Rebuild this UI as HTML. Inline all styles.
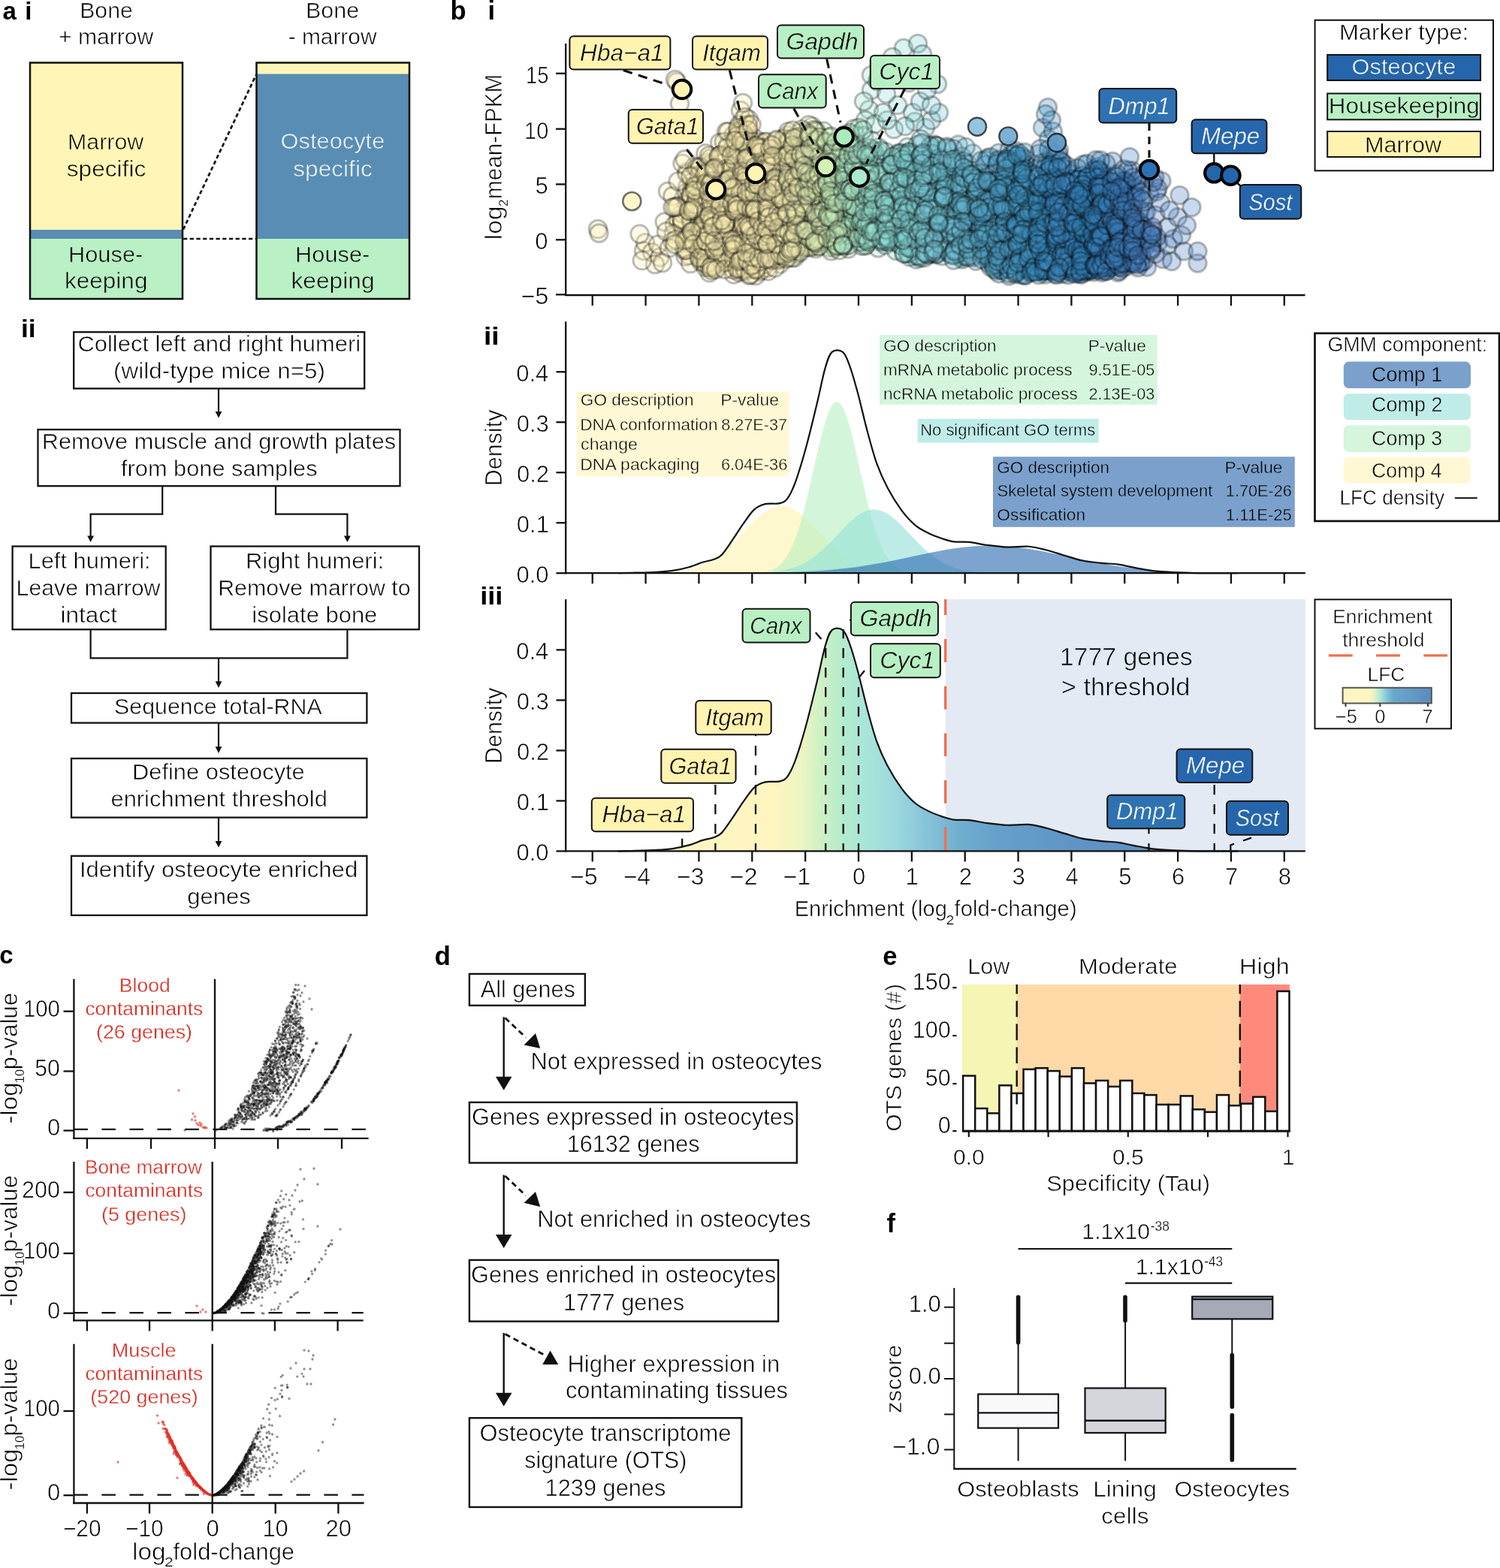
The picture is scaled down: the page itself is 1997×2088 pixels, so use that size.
<!DOCTYPE html>
<html lang="en"><head><meta charset="utf-8"><title>Osteocyte transcriptome signature</title>
<style>
html,body{margin:0;padding:0;background:#fff;overflow:hidden}
svg{display:block}
text{font-family:"Liberation Sans",sans-serif;white-space:pre}
</style></head><body>
<svg width="1997" height="2088" viewBox="0 0 1997 2088">
<rect width="1997" height="2088" fill="#fff"/>
<g fill="#000">
<text x="3.61" y="26.4" font-size="33" font-weight="bold">a</text>
<text x="33.19" y="26.4" font-size="33" font-weight="bold">i</text>
<text x="106.18" y="23.7" font-size="30" textLength="70.65" lengthAdjust="spacingAndGlyphs" stroke="#fff" stroke-width="0.6">Bone</text>
<text x="77.99" y="59.4" font-size="30" textLength="126.37" lengthAdjust="spacingAndGlyphs" stroke="#fff" stroke-width="0.6">+ marrow</text>
<text x="407.06" y="23.7" font-size="30" textLength="71.17" lengthAdjust="spacingAndGlyphs" stroke="#fff" stroke-width="0.6">Bone</text>
<text x="383.66" y="59.4" font-size="30" textLength="117.83" lengthAdjust="spacingAndGlyphs" stroke="#fff" stroke-width="0.6">- marrow</text>
<rect x="40" y="83.5" width="203" height="314.5" fill="#fff5b6"/>
<rect x="40" y="306" width="203" height="12" fill="#598db4"/>
<rect x="40" y="318" width="203" height="80" fill="#b9f0c4"/>
<rect x="40" y="83.5" width="203" height="314.5" fill="none" stroke="#111" stroke-width="2.5"/>
<rect x="341.5" y="83.5" width="203.5" height="314.5" fill="#598db4"/>
<rect x="341.5" y="83.5" width="203.5" height="15" fill="#fff5b6"/>
<rect x="341.5" y="318" width="203.5" height="80" fill="#b9f0c4"/>
<rect x="341.5" y="83.5" width="203.5" height="314.5" fill="none" stroke="#111" stroke-width="2.5"/>
<line x1="244" y1="305.5" x2="341" y2="99.5" stroke="#111" stroke-width="2.7" stroke-dasharray="5.3 3.4"/>
<line x1="244" y1="318" x2="341" y2="318" stroke="#111" stroke-width="2.7" stroke-dasharray="5.3 3.4"/>
<text x="90.07" y="199" font-size="30" textLength="101.19" lengthAdjust="spacingAndGlyphs" stroke="#fff5b6" stroke-width="0.6">Marrow</text>
<text x="88.71" y="235.4" font-size="30" textLength="105.57" lengthAdjust="spacingAndGlyphs" stroke="#fff5b6" stroke-width="0.6">specific</text>
<text x="373.61" y="198.4" font-size="30" textLength="138.68" lengthAdjust="spacingAndGlyphs" fill="#f4f8fb" stroke="#598db4" stroke-width="0.6">Osteocyte</text>
<text x="390.21" y="235.4" font-size="30" textLength="105.57" lengthAdjust="spacingAndGlyphs" fill="#f4f8fb" stroke="#598db4" stroke-width="0.6">specific</text>
<text x="90.93" y="349" font-size="30" textLength="99.42" lengthAdjust="spacingAndGlyphs" stroke="#b9f0c4" stroke-width="0.6">House-</text>
<text x="85.95" y="384.4" font-size="30" textLength="110.54" lengthAdjust="spacingAndGlyphs" stroke="#b9f0c4" stroke-width="0.6">keeping</text>
<text x="393.14" y="349" font-size="30" textLength="99.21" lengthAdjust="spacingAndGlyphs" stroke="#b9f0c4" stroke-width="0.6">House-</text>
<text x="387.44" y="384.4" font-size="30" textLength="111.16" lengthAdjust="spacingAndGlyphs" stroke="#b9f0c4" stroke-width="0.6">keeping</text>
<text x="27.92" y="448.9" font-size="33" textLength="19.71" lengthAdjust="spacingAndGlyphs" font-weight="bold">ii</text>
<rect x="98.2" y="442.2" width="387" height="75.2" fill="#fff" stroke="#111" stroke-width="2.3"/>
<text x="103.45" y="468.4" font-size="30" textLength="376.64" lengthAdjust="spacingAndGlyphs" stroke="#fff" stroke-width="0.6">Collect left and right humeri</text>
<text x="151.12" y="504.4" font-size="30" textLength="281.94" lengthAdjust="spacingAndGlyphs" stroke="#fff" stroke-width="0.6">(wild-type mice n=5)</text>
<line x1="291" y1="517.4" x2="291" y2="549" stroke="#111" stroke-width="2.2"/>
<polygon points="286.6,548 295.4,548 291,556.6" fill="#111"/>
<rect x="50.5" y="572" width="482" height="75.2" fill="#fff" stroke="#111" stroke-width="2.3"/>
<text x="55.74" y="598" font-size="30" textLength="471.37" lengthAdjust="spacingAndGlyphs" stroke="#fff" stroke-width="0.6">Remove muscle and growth plates</text>
<text x="161.04" y="634.4" font-size="30" textLength="261.51" lengthAdjust="spacingAndGlyphs" stroke="#fff" stroke-width="0.6">from bone samples</text>
<path d="M216.2,647.2V684.6H120.6V714" fill="none" stroke="#111" stroke-width="2.2"/>
<polygon points="116.2,713.4 125,713.4 120.6,722" fill="#111"/>
<path d="M367,647.2V684.6H462.4V714" fill="none" stroke="#111" stroke-width="2.2"/>
<polygon points="458,713.4 466.8,713.4 462.4,722" fill="#111"/>
<rect x="16.6" y="727.5" width="204.1" height="110.7" fill="#fff" stroke="#111" stroke-width="2.3"/>
<text x="37.53" y="757" font-size="30" textLength="163.11" lengthAdjust="spacingAndGlyphs" stroke="#fff" stroke-width="0.6">Left humeri:</text>
<text x="21.58" y="793.1" font-size="30" textLength="191.91" lengthAdjust="spacingAndGlyphs" stroke="#fff" stroke-width="0.6">Leave marrow</text>
<text x="80.44" y="829.4" font-size="30" textLength="75.58" lengthAdjust="spacingAndGlyphs" stroke="#fff" stroke-width="0.6">intact</text>
<rect x="280.5" y="727.5" width="277.5" height="110.7" fill="#fff" stroke="#111" stroke-width="2.3"/>
<text x="326.92" y="757" font-size="30" textLength="184.27" lengthAdjust="spacingAndGlyphs" stroke="#fff" stroke-width="0.6">Right humeri:</text>
<text x="290.17" y="793.1" font-size="30" textLength="256.4" lengthAdjust="spacingAndGlyphs" stroke="#fff" stroke-width="0.6">Remove marrow to</text>
<text x="335.39" y="829.4" font-size="30" textLength="166.95" lengthAdjust="spacingAndGlyphs" stroke="#fff" stroke-width="0.6">isolate bone</text>
<path d="M120.6,838.2V876.3H462.4V838.2" fill="none" stroke="#111" stroke-width="2.2"/>
<line x1="291" y1="876.3" x2="291" y2="908.3" stroke="#111" stroke-width="2.2"/>
<polygon points="286.6,907.3 295.4,907.3 291,915.9" fill="#111"/>
<rect x="95" y="923" width="393.4" height="39.6" fill="#fff" stroke="#111" stroke-width="2.3"/>
<text x="152.14" y="951.4" font-size="30" textLength="276.51" lengthAdjust="spacingAndGlyphs" stroke="#fff" stroke-width="0.6">Sequence total-RNA</text>
<line x1="291" y1="962.6" x2="291" y2="995.3" stroke="#111" stroke-width="2.2"/>
<polygon points="286.6,994.3 295.4,994.3 291,1002.9" fill="#111"/>
<rect x="95" y="1010" width="393.4" height="78.6" fill="#fff" stroke="#111" stroke-width="2.3"/>
<text x="176.03" y="1037.9" font-size="30" textLength="229.77" lengthAdjust="spacingAndGlyphs" stroke="#fff" stroke-width="0.6">Define osteocyte</text>
<text x="147.46" y="1074" font-size="30" textLength="288.35" lengthAdjust="spacingAndGlyphs" stroke="#fff" stroke-width="0.6">enrichment threshold</text>
<line x1="291" y1="1088.6" x2="291" y2="1121" stroke="#111" stroke-width="2.2"/>
<polygon points="286.6,1120 295.4,1120 291,1128.6" fill="#111"/>
<rect x="95" y="1139.8" width="393.4" height="79" fill="#fff" stroke="#111" stroke-width="2.3"/>
<text x="105.9" y="1168" font-size="30" textLength="370.31" lengthAdjust="spacingAndGlyphs" stroke="#fff" stroke-width="0.6">Identify osteocyte enriched</text>
<text x="249.16" y="1204.2" font-size="30" textLength="84.52" lengthAdjust="spacingAndGlyphs" stroke="#fff" stroke-width="0.6">genes</text>
<text x="599.56" y="26.4" font-size="34.5" font-weight="bold">b</text>
<text x="649.38" y="26.4" font-size="34.5" font-weight="bold">i</text>
<g fill-opacity="0.3" stroke="#000" stroke-opacity="0.26" stroke-width="3">
<g fill="#fcf0b2"><circle cx="796.0" cy="305.0" r="11.8"/></g>
<g fill="#fcf0b2"><circle cx="857.0" cy="334.0" r="11.8"/><circle cx="859.0" cy="323.3" r="11.8"/></g>
<g fill="#fcf0b2"><circle cx="884.8" cy="295.5" r="11.8"/><circle cx="889.0" cy="254.8" r="11.8"/><circle cx="868.0" cy="336.0" r="11.8"/></g>
<g fill="#fcf0b2"><circle cx="902.9" cy="292.7" r="11.8"/><circle cx="915.4" cy="328.9" r="11.8"/><circle cx="912.5" cy="317.6" r="11.8"/><circle cx="903.1" cy="295.5" r="11.8"/><circle cx="895.4" cy="261.1" r="11.8"/><circle cx="901.0" cy="109.0" r="11.8"/><circle cx="907.5" cy="299.5" r="11.8"/><circle cx="915.9" cy="276.3" r="11.8"/><circle cx="898.0" cy="299.8" r="11.8"/><circle cx="914.2" cy="229.2" r="11.8"/><circle cx="908.0" cy="284.2" r="11.8"/><circle cx="908.5" cy="217.7" r="11.8"/><circle cx="908.2" cy="294.0" r="11.8"/></g>
<g fill="#fcf0b2"><circle cx="940.8" cy="216.5" r="11.8"/><circle cx="939.3" cy="339.8" r="11.8"/><circle cx="939.1" cy="226.2" r="11.8"/><circle cx="921.1" cy="291.5" r="11.8"/><circle cx="930.5" cy="281.0" r="11.8"/><circle cx="928.4" cy="332.6" r="11.8"/><circle cx="933.5" cy="341.7" r="11.8"/><circle cx="917.2" cy="340.1" r="11.8"/><circle cx="939.7" cy="268.7" r="11.8"/><circle cx="919.8" cy="294.2" r="11.8"/><circle cx="921.0" cy="242.5" r="11.8"/><circle cx="931.9" cy="293.0" r="11.8"/><circle cx="924.4" cy="249.2" r="11.8"/><circle cx="935.4" cy="314.2" r="11.8"/><circle cx="942.0" cy="248.5" r="11.8"/><circle cx="927.2" cy="266.7" r="11.8"/><circle cx="918.9" cy="324.2" r="11.8"/><circle cx="930.6" cy="344.3" r="11.8"/><circle cx="932.4" cy="277.7" r="11.8"/><circle cx="932.9" cy="348.1" r="11.8"/><circle cx="936.3" cy="231.4" r="11.8"/><circle cx="926.8" cy="281.9" r="11.8"/><circle cx="941.3" cy="330.8" r="11.8"/><circle cx="917.1" cy="281.1" r="11.8"/><circle cx="931.8" cy="225.5" r="11.8"/><circle cx="934.6" cy="299.6" r="11.8"/><circle cx="931.8" cy="307.3" r="11.8"/><circle cx="936.8" cy="344.9" r="11.8"/><circle cx="938.7" cy="291.1" r="11.8"/><circle cx="934.6" cy="281.2" r="11.8"/><circle cx="924.0" cy="247.3" r="11.8"/><circle cx="929.9" cy="338.5" r="11.8"/></g>
<g fill="#fcf0b2"><circle cx="958.9" cy="351.2" r="11.8"/><circle cx="964.5" cy="263.3" r="11.8"/><circle cx="951.1" cy="308.2" r="11.8"/><circle cx="960.5" cy="344.1" r="11.8"/><circle cx="950.2" cy="244.9" r="11.8"/><circle cx="959.2" cy="270.1" r="11.8"/><circle cx="947.3" cy="279.3" r="11.8"/><circle cx="953.4" cy="249.8" r="11.8"/><circle cx="967.1" cy="213.5" r="11.8"/><circle cx="958.5" cy="235.7" r="11.8"/><circle cx="951.2" cy="313.3" r="11.8"/><circle cx="957.4" cy="329.8" r="11.8"/><circle cx="957.5" cy="267.4" r="11.8"/><circle cx="945.0" cy="341.4" r="11.8"/><circle cx="943.6" cy="337.8" r="11.8"/><circle cx="949.3" cy="306.8" r="11.8"/><circle cx="967.1" cy="320.5" r="11.8"/><circle cx="944.5" cy="363.2" r="11.8"/><circle cx="956.5" cy="315.7" r="11.8"/><circle cx="957.2" cy="253.5" r="11.8"/><circle cx="949.7" cy="264.9" r="11.8"/><circle cx="964.7" cy="337.6" r="11.8"/><circle cx="963.6" cy="255.3" r="11.8"/><circle cx="955.5" cy="211.0" r="11.8"/><circle cx="962.8" cy="258.6" r="11.8"/><circle cx="948.7" cy="282.8" r="11.8"/><circle cx="967.0" cy="175.3" r="11.8"/><circle cx="959.4" cy="323.2" r="11.8"/><circle cx="963.7" cy="234.0" r="11.8"/><circle cx="951.5" cy="341.0" r="11.8"/><circle cx="966.1" cy="307.0" r="11.8"/><circle cx="943.5" cy="288.2" r="11.8"/><circle cx="953.6" cy="356.7" r="11.8"/><circle cx="962.3" cy="207.2" r="11.8"/><circle cx="944.1" cy="332.1" r="11.8"/><circle cx="943.7" cy="346.8" r="11.8"/><circle cx="945.1" cy="332.8" r="11.8"/><circle cx="950.8" cy="348.8" r="11.8"/><circle cx="947.9" cy="301.3" r="11.8"/><circle cx="959.0" cy="286.2" r="11.8"/><circle cx="947.0" cy="280.0" r="11.8"/><circle cx="951.9" cy="258.1" r="11.8"/><circle cx="965.8" cy="235.9" r="11.8"/><circle cx="955.5" cy="241.3" r="11.8"/></g>
<g fill="#fcf0b2"><circle cx="988.5" cy="159.6" r="11.8"/><circle cx="984.0" cy="166.0" r="11.8"/><circle cx="980.8" cy="297.4" r="11.8"/><circle cx="977.9" cy="275.7" r="11.8"/><circle cx="988.9" cy="317.5" r="11.8"/><circle cx="988.0" cy="356.1" r="11.8"/><circle cx="993.3" cy="263.2" r="11.8"/><circle cx="987.2" cy="172.9" r="11.8"/><circle cx="985.7" cy="301.8" r="11.8"/><circle cx="978.6" cy="290.6" r="11.8"/><circle cx="972.0" cy="335.3" r="11.8"/><circle cx="976.9" cy="365.4" r="11.8"/><circle cx="982.9" cy="290.8" r="11.8"/><circle cx="976.7" cy="359.4" r="11.8"/><circle cx="982.6" cy="180.3" r="11.8"/><circle cx="975.2" cy="201.4" r="11.8"/><circle cx="979.8" cy="335.0" r="11.8"/><circle cx="983.2" cy="319.5" r="11.8"/><circle cx="983.5" cy="239.1" r="11.8"/><circle cx="976.5" cy="267.0" r="11.8"/><circle cx="971.3" cy="224.8" r="11.8"/><circle cx="988.8" cy="214.1" r="11.8"/><circle cx="992.0" cy="351.9" r="11.8"/><circle cx="986.9" cy="262.8" r="11.8"/><circle cx="977.0" cy="255.9" r="11.8"/><circle cx="976.6" cy="243.2" r="11.8"/><circle cx="989.1" cy="277.7" r="11.8"/><circle cx="969.0" cy="335.2" r="11.8"/><circle cx="991.0" cy="260.4" r="11.8"/><circle cx="984.9" cy="241.7" r="11.8"/><circle cx="988.0" cy="183.4" r="11.8"/><circle cx="984.6" cy="358.0" r="11.8"/><circle cx="973.0" cy="330.5" r="11.8"/><circle cx="984.7" cy="308.2" r="11.8"/><circle cx="990.6" cy="229.5" r="11.8"/><circle cx="970.4" cy="309.1" r="11.8"/><circle cx="984.2" cy="280.1" r="11.8"/><circle cx="986.0" cy="147.0" r="11.8"/><circle cx="991.9" cy="243.5" r="11.8"/><circle cx="985.1" cy="346.8" r="11.8"/><circle cx="981.5" cy="311.4" r="11.8"/><circle cx="991.5" cy="236.7" r="11.8"/><circle cx="987.6" cy="269.3" r="11.8"/><circle cx="989.6" cy="329.8" r="11.8"/><circle cx="984.6" cy="185.5" r="11.8"/><circle cx="969.9" cy="280.6" r="11.8"/><circle cx="988.8" cy="235.4" r="11.8"/><circle cx="990.0" cy="295.6" r="11.8"/><circle cx="989.4" cy="342.9" r="11.8"/><circle cx="970.8" cy="290.0" r="11.8"/><circle cx="988.0" cy="315.4" r="11.8"/></g>
<g fill="#fcf0b2"><circle cx="999.4" cy="340.7" r="11.8"/><circle cx="997.7" cy="260.3" r="11.8"/><circle cx="997.0" cy="319.1" r="11.8"/><circle cx="1006.1" cy="242.3" r="11.8"/><circle cx="1014.2" cy="248.5" r="11.8"/><circle cx="1012.3" cy="297.0" r="11.8"/><circle cx="1011.7" cy="189.0" r="11.8"/><circle cx="1018.9" cy="323.1" r="11.8"/><circle cx="1018.5" cy="224.6" r="11.8"/><circle cx="1009.6" cy="228.8" r="11.8"/><circle cx="1001.0" cy="216.2" r="11.8"/><circle cx="996.2" cy="238.7" r="11.8"/><circle cx="998.6" cy="252.6" r="11.8"/><circle cx="1007.3" cy="218.8" r="11.8"/><circle cx="1017.6" cy="262.4" r="11.8"/><circle cx="1013.2" cy="345.1" r="11.8"/><circle cx="1017.3" cy="302.2" r="11.8"/><circle cx="1004.6" cy="348.0" r="11.8"/><circle cx="1009.1" cy="282.1" r="11.8"/><circle cx="1005.3" cy="325.9" r="11.8"/><circle cx="1004.6" cy="194.4" r="11.8"/><circle cx="999.4" cy="203.2" r="11.8"/><circle cx="999.4" cy="350.8" r="11.8"/><circle cx="1013.5" cy="224.9" r="11.8"/><circle cx="998.6" cy="269.9" r="11.8"/><circle cx="1010.5" cy="233.1" r="11.8"/><circle cx="996.8" cy="190.8" r="11.8"/><circle cx="1014.6" cy="337.8" r="11.8"/><circle cx="1002.0" cy="358.9" r="11.8"/><circle cx="994.5" cy="166.0" r="11.8"/><circle cx="1016.2" cy="292.5" r="11.8"/><circle cx="1005.4" cy="188.9" r="11.8"/><circle cx="1011.3" cy="361.8" r="11.8"/><circle cx="1009.9" cy="277.4" r="11.8"/><circle cx="1000.8" cy="261.2" r="11.8"/><circle cx="995.7" cy="297.6" r="11.8"/><circle cx="995.0" cy="282.9" r="11.8"/><circle cx="996.0" cy="172.0" r="11.8"/><circle cx="1005.2" cy="184.6" r="11.8"/><circle cx="999.9" cy="314.1" r="11.8"/><circle cx="1016.7" cy="329.8" r="11.8"/><circle cx="1015.9" cy="243.1" r="11.8"/><circle cx="1000.2" cy="284.7" r="11.8"/><circle cx="1013.6" cy="359.9" r="11.8"/><circle cx="995.3" cy="261.8" r="11.8"/><circle cx="1000.3" cy="266.9" r="11.8"/><circle cx="1019.0" cy="347.8" r="11.8"/><circle cx="995.0" cy="328.1" r="11.8"/><circle cx="998.1" cy="300.9" r="11.8"/><circle cx="1013.0" cy="292.7" r="11.8"/><circle cx="1016.1" cy="311.7" r="11.8"/><circle cx="1003.1" cy="284.7" r="11.8"/><circle cx="1010.3" cy="309.1" r="11.8"/><circle cx="1011.2" cy="343.6" r="11.8"/><circle cx="1005.3" cy="270.7" r="11.8"/><circle cx="1011.6" cy="297.8" r="11.8"/><circle cx="1000.1" cy="351.8" r="11.8"/><circle cx="999.3" cy="347.0" r="11.8"/><circle cx="1014.4" cy="243.8" r="11.8"/><circle cx="1011.0" cy="232.5" r="11.8"/><circle cx="1016.4" cy="283.6" r="11.8"/><circle cx="995.5" cy="189.9" r="11.8"/><circle cx="1008.4" cy="231.6" r="11.8"/></g>
<g fill="#fcf0b2"><circle cx="1030.1" cy="341.8" r="11.8"/><circle cx="1028.7" cy="286.6" r="11.8"/><circle cx="1026.6" cy="256.7" r="11.8"/><circle cx="1043.0" cy="260.8" r="11.8"/><circle cx="1043.5" cy="219.8" r="11.8"/><circle cx="1024.5" cy="343.8" r="11.8"/><circle cx="1038.4" cy="270.0" r="11.8"/><circle cx="1039.6" cy="339.5" r="11.8"/><circle cx="1020.8" cy="292.0" r="11.8"/><circle cx="1026.5" cy="210.8" r="11.8"/><circle cx="1025.4" cy="264.7" r="11.8"/><circle cx="1039.3" cy="296.2" r="11.8"/><circle cx="1035.0" cy="300.6" r="11.8"/><circle cx="1024.3" cy="296.0" r="11.8"/><circle cx="1040.9" cy="327.0" r="11.8"/><circle cx="1035.6" cy="285.9" r="11.8"/><circle cx="1025.2" cy="332.7" r="11.8"/><circle cx="1042.1" cy="237.8" r="11.8"/><circle cx="1023.7" cy="238.0" r="11.8"/><circle cx="1027.2" cy="300.3" r="11.8"/><circle cx="1035.3" cy="260.6" r="11.8"/><circle cx="1044.1" cy="255.9" r="11.8"/><circle cx="1043.3" cy="251.8" r="11.8"/><circle cx="1038.4" cy="351.5" r="11.8"/><circle cx="1042.6" cy="199.0" r="11.8"/><circle cx="1037.1" cy="290.1" r="11.8"/><circle cx="1024.8" cy="299.6" r="11.8"/><circle cx="1035.4" cy="316.7" r="11.8"/><circle cx="1042.5" cy="342.2" r="11.8"/><circle cx="1044.4" cy="264.3" r="11.8"/><circle cx="1033.9" cy="328.7" r="11.8"/><circle cx="1042.0" cy="185.3" r="11.8"/><circle cx="1021.0" cy="268.2" r="11.8"/><circle cx="1021.6" cy="356.6" r="11.8"/><circle cx="1037.5" cy="234.2" r="11.8"/><circle cx="1034.8" cy="344.6" r="11.8"/><circle cx="1030.3" cy="320.0" r="11.8"/><circle cx="1040.2" cy="337.0" r="11.8"/><circle cx="1028.7" cy="287.0" r="11.8"/><circle cx="1029.5" cy="320.3" r="11.8"/><circle cx="1020.0" cy="267.5" r="11.8"/><circle cx="1044.1" cy="240.1" r="11.8"/><circle cx="1035.7" cy="331.9" r="11.8"/><circle cx="1036.5" cy="208.3" r="11.8"/><circle cx="1040.1" cy="271.2" r="11.8"/><circle cx="1019.3" cy="351.8" r="11.8"/><circle cx="1032.4" cy="260.5" r="11.8"/><circle cx="1029.0" cy="234.3" r="11.8"/><circle cx="1030.9" cy="328.2" r="11.8"/><circle cx="1040.2" cy="329.3" r="11.8"/><circle cx="1021.2" cy="306.5" r="11.8"/><circle cx="1035.4" cy="207.1" r="11.8"/><circle cx="1034.8" cy="344.3" r="11.8"/><circle cx="1036.4" cy="323.6" r="11.8"/><circle cx="1037.8" cy="263.0" r="11.8"/><circle cx="1038.1" cy="344.6" r="11.8"/></g>
<g fill="#f3f0b3"><circle cx="1049.2" cy="248.3" r="11.8"/><circle cx="1052.7" cy="311.0" r="11.8"/><circle cx="1057.8" cy="221.9" r="11.8"/><circle cx="1058.8" cy="232.0" r="11.8"/><circle cx="1061.8" cy="264.4" r="11.8"/><circle cx="1055.8" cy="302.1" r="11.8"/><circle cx="1052.2" cy="308.1" r="11.8"/><circle cx="1057.3" cy="284.8" r="11.8"/><circle cx="1050.7" cy="337.9" r="11.8"/><circle cx="1061.9" cy="203.4" r="11.8"/><circle cx="1063.0" cy="183.1" r="11.8"/><circle cx="1069.2" cy="184.7" r="11.8"/><circle cx="1066.0" cy="260.1" r="11.8"/><circle cx="1068.6" cy="312.5" r="11.8"/><circle cx="1068.3" cy="233.8" r="11.8"/><circle cx="1053.7" cy="197.5" r="11.8"/><circle cx="1069.6" cy="283.4" r="11.8"/><circle cx="1061.6" cy="271.5" r="11.8"/><circle cx="1063.3" cy="177.3" r="11.8"/><circle cx="1053.3" cy="246.5" r="11.8"/><circle cx="1051.1" cy="192.9" r="11.8"/><circle cx="1052.2" cy="200.3" r="11.8"/><circle cx="1049.6" cy="253.0" r="11.8"/><circle cx="1067.8" cy="286.2" r="11.8"/><circle cx="1065.6" cy="289.8" r="11.8"/><circle cx="1054.1" cy="263.1" r="11.8"/><circle cx="1046.2" cy="250.6" r="11.8"/><circle cx="1054.3" cy="238.3" r="11.8"/><circle cx="1044.9" cy="271.3" r="11.8"/><circle cx="1063.0" cy="296.9" r="11.8"/><circle cx="1063.1" cy="248.1" r="11.8"/><circle cx="1048.7" cy="180.0" r="11.8"/><circle cx="1053.6" cy="333.9" r="11.8"/><circle cx="1045.0" cy="205.6" r="11.8"/><circle cx="1051.7" cy="218.8" r="11.8"/><circle cx="1062.9" cy="324.6" r="11.8"/><circle cx="1054.9" cy="278.5" r="11.8"/><circle cx="1060.7" cy="313.0" r="11.8"/><circle cx="1057.1" cy="206.1" r="11.8"/><circle cx="1066.3" cy="267.1" r="11.8"/><circle cx="1064.0" cy="257.0" r="11.8"/><circle cx="1049.4" cy="250.4" r="11.8"/><circle cx="1062.4" cy="337.8" r="11.8"/><circle cx="1057.5" cy="297.5" r="11.8"/><circle cx="1063.4" cy="327.9" r="11.8"/><circle cx="1059.5" cy="269.6" r="11.8"/><circle cx="1051.2" cy="216.7" r="11.8"/><circle cx="1050.9" cy="264.2" r="11.8"/><circle cx="1058.8" cy="278.8" r="11.8"/><circle cx="1051.8" cy="308.2" r="11.8"/><circle cx="1056.5" cy="207.1" r="11.8"/></g>
<g fill="#e1efb5"><circle cx="1070.7" cy="239.6" r="11.8"/><circle cx="1078.0" cy="325.1" r="11.8"/><circle cx="1082.5" cy="300.9" r="11.8"/><circle cx="1088.7" cy="232.4" r="11.8"/><circle cx="1076.1" cy="312.1" r="11.8"/><circle cx="1073.1" cy="285.8" r="11.8"/><circle cx="1087.3" cy="228.4" r="11.8"/><circle cx="1088.7" cy="257.5" r="11.8"/><circle cx="1082.5" cy="244.1" r="11.8"/><circle cx="1077.1" cy="266.3" r="11.8"/><circle cx="1071.0" cy="320.9" r="11.8"/><circle cx="1085.1" cy="183.5" r="11.8"/><circle cx="1071.1" cy="236.4" r="11.8"/><circle cx="1080.8" cy="189.1" r="11.8"/><circle cx="1072.2" cy="277.7" r="11.8"/><circle cx="1076.5" cy="284.2" r="11.8"/><circle cx="1081.4" cy="168.3" r="11.8"/><circle cx="1081.7" cy="256.3" r="11.8"/><circle cx="1075.9" cy="265.5" r="11.8"/><circle cx="1073.9" cy="175.7" r="11.8"/><circle cx="1087.3" cy="296.6" r="11.8"/><circle cx="1091.3" cy="264.1" r="11.8"/><circle cx="1089.1" cy="327.7" r="11.8"/><circle cx="1081.5" cy="282.9" r="11.8"/><circle cx="1092.1" cy="318.2" r="11.8"/><circle cx="1078.7" cy="281.3" r="11.8"/><circle cx="1071.2" cy="308.9" r="11.8"/><circle cx="1088.3" cy="227.3" r="11.8"/><circle cx="1089.5" cy="187.2" r="11.8"/><circle cx="1086.4" cy="173.7" r="11.8"/><circle cx="1085.6" cy="319.1" r="11.8"/><circle cx="1082.0" cy="304.7" r="11.8"/><circle cx="1082.5" cy="259.2" r="11.8"/><circle cx="1095.1" cy="266.5" r="11.8"/><circle cx="1074.3" cy="218.9" r="11.8"/><circle cx="1094.1" cy="252.6" r="11.8"/><circle cx="1087.5" cy="306.6" r="11.8"/><circle cx="1090.6" cy="220.0" r="11.8"/><circle cx="1093.3" cy="274.0" r="11.8"/><circle cx="1094.0" cy="253.8" r="11.8"/><circle cx="1081.1" cy="233.6" r="11.8"/><circle cx="1079.3" cy="295.0" r="11.8"/><circle cx="1084.5" cy="302.9" r="11.8"/><circle cx="1070.4" cy="302.1" r="11.8"/></g>
<g fill="#c7edb9"><circle cx="1108.9" cy="323.3" r="11.8"/><circle cx="1113.5" cy="317.5" r="11.8"/><circle cx="1119.8" cy="228.5" r="11.8"/><circle cx="1100.6" cy="314.2" r="11.8"/><circle cx="1115.1" cy="292.1" r="11.8"/><circle cx="1108.4" cy="321.1" r="11.8"/><circle cx="1109.7" cy="292.6" r="11.8"/><circle cx="1115.5" cy="256.4" r="11.8"/><circle cx="1096.5" cy="231.9" r="11.8"/><circle cx="1099.0" cy="319.0" r="11.8"/><circle cx="1113.3" cy="256.0" r="11.8"/><circle cx="1106.2" cy="207.7" r="11.8"/><circle cx="1105.2" cy="263.6" r="11.8"/><circle cx="1120.8" cy="300.8" r="11.8"/><circle cx="1108.7" cy="272.2" r="11.8"/><circle cx="1110.0" cy="306.0" r="11.8"/><circle cx="1110.3" cy="270.8" r="11.8"/><circle cx="1095.8" cy="233.4" r="11.8"/><circle cx="1095.9" cy="230.5" r="11.8"/><circle cx="1113.5" cy="309.0" r="11.8"/><circle cx="1105.4" cy="324.4" r="11.8"/><circle cx="1096.5" cy="174.6" r="11.8"/><circle cx="1112.7" cy="325.3" r="11.8"/><circle cx="1114.8" cy="235.9" r="11.8"/><circle cx="1095.9" cy="189.6" r="11.8"/><circle cx="1104.1" cy="329.7" r="11.8"/><circle cx="1098.7" cy="279.5" r="11.8"/><circle cx="1114.1" cy="238.2" r="11.8"/><circle cx="1116.8" cy="315.9" r="11.8"/><circle cx="1119.3" cy="204.2" r="11.8"/><circle cx="1119.2" cy="211.2" r="11.8"/><circle cx="1114.0" cy="210.5" r="11.8"/><circle cx="1102.4" cy="265.1" r="11.8"/><circle cx="1119.8" cy="188.2" r="11.8"/><circle cx="1117.3" cy="310.0" r="11.8"/><circle cx="1101.3" cy="229.3" r="11.8"/><circle cx="1111.4" cy="329.9" r="11.8"/><circle cx="1106.3" cy="334.3" r="11.8"/></g>
<g fill="#ace9c6"><circle cx="1126.5" cy="320.5" r="11.8"/><circle cx="1126.6" cy="205.2" r="11.8"/><circle cx="1138.8" cy="314.0" r="11.8"/><circle cx="1126.1" cy="224.9" r="11.8"/><circle cx="1129.4" cy="331.4" r="11.8"/><circle cx="1141.9" cy="277.9" r="11.8"/><circle cx="1146.3" cy="212.2" r="11.8"/><circle cx="1144.4" cy="224.0" r="11.8"/><circle cx="1141.9" cy="311.9" r="11.8"/><circle cx="1123.5" cy="328.0" r="11.8"/><circle cx="1140.0" cy="308.1" r="11.8"/><circle cx="1129.5" cy="276.7" r="11.8"/><circle cx="1124.9" cy="248.4" r="11.8"/><circle cx="1135.0" cy="243.0" r="11.8"/><circle cx="1130.3" cy="311.2" r="11.8"/><circle cx="1134.2" cy="315.8" r="11.8"/><circle cx="1137.7" cy="226.5" r="11.8"/><circle cx="1132.9" cy="229.9" r="11.8"/><circle cx="1130.7" cy="304.7" r="11.8"/><circle cx="1138.3" cy="179.7" r="11.8"/><circle cx="1129.4" cy="218.3" r="11.8"/><circle cx="1125.1" cy="291.4" r="11.8"/><circle cx="1139.4" cy="241.3" r="11.8"/><circle cx="1137.1" cy="171.2" r="11.8"/><circle cx="1137.2" cy="194.7" r="11.8"/><circle cx="1125.0" cy="230.1" r="11.8"/><circle cx="1121.7" cy="234.9" r="11.8"/><circle cx="1128.1" cy="214.5" r="11.8"/><circle cx="1141.0" cy="260.5" r="11.8"/><circle cx="1139.3" cy="190.0" r="11.8"/><circle cx="1124.5" cy="229.0" r="11.8"/><circle cx="1134.7" cy="197.9" r="11.8"/><circle cx="1125.4" cy="225.9" r="11.8"/><circle cx="1122.0" cy="288.7" r="11.8"/></g>
<g fill="#9ae3d0"><circle cx="1165.7" cy="286.2" r="11.8"/><circle cx="1165.6" cy="250.7" r="11.8"/><circle cx="1168.7" cy="300.3" r="11.8"/><circle cx="1161.9" cy="283.3" r="11.8"/><circle cx="1157.0" cy="146.0" r="11.8"/><circle cx="1168.2" cy="211.6" r="11.8"/><circle cx="1152.0" cy="160.0" r="11.8"/><circle cx="1165.5" cy="299.6" r="11.8"/><circle cx="1169.0" cy="330.3" r="11.8"/><circle cx="1170.7" cy="216.4" r="11.8"/><circle cx="1155.9" cy="282.4" r="11.8"/><circle cx="1155.6" cy="295.2" r="11.8"/><circle cx="1165.8" cy="257.1" r="11.8"/><circle cx="1149.0" cy="314.4" r="11.8"/><circle cx="1166.5" cy="282.2" r="11.8"/><circle cx="1171.5" cy="291.6" r="11.8"/><circle cx="1166.2" cy="205.4" r="11.8"/><circle cx="1162.2" cy="201.1" r="11.8"/><circle cx="1160.0" cy="100.0" r="11.8"/><circle cx="1160.0" cy="120.0" r="11.8"/><circle cx="1166.6" cy="315.0" r="11.8"/><circle cx="1168.7" cy="276.5" r="11.8"/><circle cx="1158.5" cy="285.2" r="11.8"/><circle cx="1168.0" cy="108.0" r="11.8"/><circle cx="1153.4" cy="326.0" r="11.8"/><circle cx="1171.2" cy="278.1" r="11.8"/><circle cx="1157.7" cy="309.3" r="11.8"/><circle cx="1153.7" cy="287.5" r="11.8"/><circle cx="1147.4" cy="327.5" r="11.8"/><circle cx="1147.6" cy="209.6" r="11.8"/><circle cx="1168.4" cy="269.7" r="11.8"/><circle cx="1170.9" cy="265.1" r="11.8"/><circle cx="1153.8" cy="319.3" r="11.8"/><circle cx="1151.6" cy="327.4" r="11.8"/><circle cx="1158.9" cy="274.8" r="11.8"/><circle cx="1156.0" cy="285.9" r="11.8"/><circle cx="1168.9" cy="312.9" r="11.8"/><circle cx="1169.8" cy="203.2" r="11.8"/><circle cx="1158.1" cy="259.7" r="11.8"/><circle cx="1163.3" cy="284.6" r="11.8"/><circle cx="1172.3" cy="230.3" r="11.8"/><circle cx="1167.1" cy="260.1" r="11.8"/><circle cx="1160.6" cy="214.8" r="11.8"/></g>
<g fill="#8adad4"><circle cx="1188.1" cy="301.0" r="11.8"/><circle cx="1196.2" cy="293.5" r="11.8"/><circle cx="1178.4" cy="262.1" r="11.8"/><circle cx="1179.2" cy="312.5" r="11.8"/><circle cx="1193.7" cy="227.6" r="11.8"/><circle cx="1176.2" cy="228.3" r="11.8"/><circle cx="1176.2" cy="268.4" r="11.8"/><circle cx="1186.2" cy="219.7" r="11.8"/><circle cx="1176.6" cy="278.2" r="11.8"/><circle cx="1173.9" cy="227.0" r="11.8"/><circle cx="1194.6" cy="272.4" r="11.8"/><circle cx="1197.3" cy="315.7" r="11.8"/><circle cx="1177.3" cy="261.7" r="11.8"/><circle cx="1173.4" cy="212.8" r="11.8"/><circle cx="1173.3" cy="322.4" r="11.8"/><circle cx="1195.0" cy="140.0" r="11.8"/><circle cx="1196.1" cy="225.6" r="11.8"/><circle cx="1197.0" cy="254.9" r="11.8"/><circle cx="1175.1" cy="237.3" r="11.8"/><circle cx="1178.8" cy="280.0" r="11.8"/><circle cx="1191.4" cy="319.4" r="11.8"/><circle cx="1175.9" cy="272.4" r="11.8"/><circle cx="1187.7" cy="305.9" r="11.8"/><circle cx="1194.7" cy="280.3" r="11.8"/><circle cx="1182.7" cy="256.5" r="11.8"/><circle cx="1189.5" cy="264.4" r="11.8"/><circle cx="1189.3" cy="227.4" r="11.8"/><circle cx="1192.8" cy="323.2" r="11.8"/><circle cx="1174.4" cy="278.7" r="11.8"/><circle cx="1191.5" cy="277.6" r="11.8"/><circle cx="1183.5" cy="282.2" r="11.8"/><circle cx="1178.8" cy="326.4" r="11.8"/><circle cx="1186.1" cy="272.3" r="11.8"/><circle cx="1190.1" cy="296.9" r="11.8"/></g>
<g fill="#82d3d5"><circle cx="1200.1" cy="267.8" r="11.8"/><circle cx="1208.1" cy="195.9" r="11.8"/><circle cx="1219.9" cy="345.4" r="11.8"/><circle cx="1212.3" cy="225.9" r="11.8"/><circle cx="1212.8" cy="270.8" r="11.8"/><circle cx="1203.0" cy="206.0" r="11.8"/><circle cx="1215.3" cy="281.3" r="11.8"/><circle cx="1223.5" cy="321.7" r="11.8"/><circle cx="1212.9" cy="307.9" r="11.8"/><circle cx="1210.8" cy="282.4" r="11.8"/><circle cx="1216.4" cy="331.9" r="11.8"/><circle cx="1209.1" cy="290.2" r="11.8"/><circle cx="1211.5" cy="235.5" r="11.8"/><circle cx="1213.4" cy="233.8" r="11.8"/><circle cx="1223.1" cy="254.4" r="11.8"/><circle cx="1217.8" cy="320.2" r="11.8"/><circle cx="1219.9" cy="243.7" r="11.8"/><circle cx="1214.5" cy="224.9" r="11.8"/><circle cx="1215.9" cy="247.3" r="11.8"/><circle cx="1203.0" cy="64.0" r="11.8"/><circle cx="1207.0" cy="211.5" r="11.8"/><circle cx="1215.0" cy="216.4" r="11.8"/><circle cx="1217.6" cy="259.1" r="11.8"/><circle cx="1205.7" cy="217.4" r="11.8"/><circle cx="1202.3" cy="239.9" r="11.8"/><circle cx="1215.4" cy="265.4" r="11.8"/><circle cx="1212.3" cy="298.4" r="11.8"/><circle cx="1201.6" cy="246.8" r="11.8"/><circle cx="1215.1" cy="246.0" r="11.8"/><circle cx="1212.3" cy="226.8" r="11.8"/><circle cx="1200.4" cy="218.6" r="11.8"/><circle cx="1216.8" cy="264.1" r="11.8"/><circle cx="1218.3" cy="273.8" r="11.8"/><circle cx="1202.5" cy="233.1" r="11.8"/><circle cx="1203.8" cy="282.2" r="11.8"/><circle cx="1209.1" cy="274.0" r="11.8"/><circle cx="1222.0" cy="58.0" r="11.8"/><circle cx="1205.9" cy="307.0" r="11.8"/></g>
<g fill="#79cbd6"><circle cx="1244.0" cy="217.4" r="11.8"/><circle cx="1232.0" cy="170.0" r="11.8"/><circle cx="1243.4" cy="192.5" r="11.8"/><circle cx="1240.5" cy="329.8" r="11.8"/><circle cx="1245.8" cy="306.2" r="11.8"/><circle cx="1226.5" cy="227.3" r="11.8"/><circle cx="1226.0" cy="327.5" r="11.8"/><circle cx="1235.1" cy="339.6" r="11.8"/><circle cx="1237.0" cy="96.0" r="11.8"/><circle cx="1238.4" cy="259.7" r="11.8"/><circle cx="1242.2" cy="274.6" r="11.8"/><circle cx="1245.3" cy="211.9" r="11.8"/><circle cx="1236.4" cy="336.4" r="11.8"/><circle cx="1223.9" cy="301.5" r="11.8"/><circle cx="1246.6" cy="336.8" r="11.8"/><circle cx="1248.1" cy="251.9" r="11.8"/><circle cx="1235.2" cy="240.5" r="11.8"/><circle cx="1240.8" cy="337.5" r="11.8"/><circle cx="1239.0" cy="194.8" r="11.8"/><circle cx="1244.5" cy="246.1" r="11.8"/><circle cx="1237.5" cy="319.8" r="11.8"/><circle cx="1239.7" cy="214.4" r="11.8"/><circle cx="1247.5" cy="226.2" r="11.8"/><circle cx="1230.1" cy="257.6" r="11.8"/><circle cx="1245.0" cy="313.5" r="11.8"/><circle cx="1246.2" cy="339.2" r="11.8"/><circle cx="1240.0" cy="160.0" r="11.8"/><circle cx="1239.9" cy="226.9" r="11.8"/><circle cx="1224.5" cy="270.0" r="11.8"/><circle cx="1236.9" cy="243.8" r="11.8"/><circle cx="1239.7" cy="284.0" r="11.8"/><circle cx="1227.1" cy="326.6" r="11.8"/><circle cx="1225.6" cy="265.1" r="11.8"/><circle cx="1244.7" cy="295.2" r="11.8"/><circle cx="1225.0" cy="343.5" r="11.8"/><circle cx="1227.7" cy="237.6" r="11.8"/><circle cx="1225.6" cy="305.2" r="11.8"/><circle cx="1225.7" cy="286.5" r="11.8"/><circle cx="1244.4" cy="334.2" r="11.8"/><circle cx="1240.0" cy="295.5" r="11.8"/><circle cx="1235.8" cy="226.7" r="11.8"/><circle cx="1223.9" cy="270.3" r="11.8"/><circle cx="1241.2" cy="285.6" r="11.8"/></g>
<g fill="#6ec1d4"><circle cx="1253.3" cy="263.7" r="11.8"/><circle cx="1254.7" cy="265.7" r="11.8"/><circle cx="1261.0" cy="329.3" r="11.8"/><circle cx="1254.1" cy="242.6" r="11.8"/><circle cx="1260.8" cy="294.2" r="11.8"/><circle cx="1249.8" cy="310.2" r="11.8"/><circle cx="1257.8" cy="308.3" r="11.8"/><circle cx="1265.5" cy="244.5" r="11.8"/><circle cx="1250.3" cy="309.4" r="11.8"/><circle cx="1259.5" cy="300.9" r="11.8"/><circle cx="1260.0" cy="290.6" r="11.8"/><circle cx="1257.5" cy="266.9" r="11.8"/><circle cx="1259.1" cy="323.5" r="11.8"/><circle cx="1256.0" cy="295.0" r="11.8"/><circle cx="1271.7" cy="269.4" r="11.8"/><circle cx="1261.3" cy="261.7" r="11.8"/><circle cx="1256.8" cy="311.2" r="11.8"/><circle cx="1260.3" cy="211.4" r="11.8"/><circle cx="1268.1" cy="317.0" r="11.8"/><circle cx="1265.0" cy="268.0" r="11.8"/><circle cx="1269.3" cy="288.1" r="11.8"/><circle cx="1272.7" cy="217.4" r="11.8"/><circle cx="1254.4" cy="341.0" r="11.8"/><circle cx="1274.5" cy="322.7" r="11.8"/><circle cx="1261.0" cy="197.1" r="11.8"/><circle cx="1264.0" cy="314.4" r="11.8"/><circle cx="1250.8" cy="285.9" r="11.8"/><circle cx="1263.8" cy="272.0" r="11.8"/><circle cx="1264.0" cy="337.6" r="11.8"/><circle cx="1260.6" cy="198.1" r="11.8"/><circle cx="1252.4" cy="279.1" r="11.8"/></g>
<g fill="#63b6d1"><circle cx="1281.2" cy="317.9" r="11.8"/><circle cx="1287.2" cy="260.3" r="11.8"/><circle cx="1293.6" cy="332.9" r="11.8"/><circle cx="1276.4" cy="233.9" r="11.8"/><circle cx="1283.1" cy="328.2" r="11.8"/><circle cx="1297.7" cy="231.4" r="11.8"/><circle cx="1275.7" cy="239.1" r="11.8"/><circle cx="1289.0" cy="279.9" r="11.8"/><circle cx="1279.9" cy="304.3" r="11.8"/><circle cx="1288.9" cy="275.6" r="11.8"/><circle cx="1275.9" cy="192.6" r="11.8"/><circle cx="1280.5" cy="208.2" r="11.8"/><circle cx="1283.4" cy="325.0" r="11.8"/><circle cx="1287.5" cy="217.1" r="11.8"/><circle cx="1287.1" cy="272.3" r="11.8"/><circle cx="1286.0" cy="254.5" r="11.8"/><circle cx="1287.3" cy="329.2" r="11.8"/><circle cx="1280.8" cy="308.5" r="11.8"/><circle cx="1281.2" cy="328.1" r="11.8"/><circle cx="1286.8" cy="279.5" r="11.8"/><circle cx="1291.6" cy="226.8" r="11.8"/><circle cx="1281.7" cy="341.1" r="11.8"/><circle cx="1284.0" cy="243.5" r="11.8"/><circle cx="1281.9" cy="297.3" r="11.8"/><circle cx="1281.4" cy="311.9" r="11.8"/><circle cx="1297.1" cy="294.7" r="11.8"/><circle cx="1277.2" cy="239.1" r="11.8"/><circle cx="1277.8" cy="297.7" r="11.8"/><circle cx="1289.8" cy="317.5" r="11.8"/><circle cx="1280.8" cy="343.3" r="11.8"/><circle cx="1281.0" cy="345.5" r="11.8"/><circle cx="1288.0" cy="318.6" r="11.8"/><circle cx="1285.3" cy="340.7" r="11.8"/><circle cx="1285.4" cy="273.8" r="11.8"/><circle cx="1294.7" cy="290.7" r="11.8"/><circle cx="1283.2" cy="329.4" r="11.8"/><circle cx="1284.0" cy="274.6" r="11.8"/><circle cx="1290.5" cy="333.7" r="11.8"/><circle cx="1280.8" cy="271.8" r="11.8"/><circle cx="1284.2" cy="288.0" r="11.8"/><circle cx="1280.5" cy="321.2" r="11.8"/><circle cx="1297.4" cy="236.3" r="11.8"/></g>
<g fill="#57a9cd"><circle cx="1325.4" cy="345.1" r="11.8"/><circle cx="1319.0" cy="319.5" r="11.8"/><circle cx="1310.2" cy="258.4" r="11.8"/><circle cx="1317.9" cy="229.7" r="11.8"/><circle cx="1322.8" cy="252.4" r="11.8"/><circle cx="1311.7" cy="314.3" r="11.8"/><circle cx="1324.8" cy="280.3" r="11.8"/><circle cx="1312.7" cy="343.1" r="11.8"/><circle cx="1323.3" cy="312.0" r="11.8"/><circle cx="1322.0" cy="259.1" r="11.8"/><circle cx="1321.7" cy="241.9" r="11.8"/><circle cx="1315.8" cy="350.3" r="11.8"/><circle cx="1300.8" cy="288.7" r="11.8"/><circle cx="1321.7" cy="330.4" r="11.8"/><circle cx="1305.9" cy="290.0" r="11.8"/><circle cx="1324.0" cy="253.8" r="11.8"/><circle cx="1302.9" cy="251.0" r="11.8"/><circle cx="1314.7" cy="210.2" r="11.8"/><circle cx="1310.1" cy="241.3" r="11.8"/><circle cx="1317.4" cy="323.8" r="11.8"/><circle cx="1310.9" cy="302.5" r="11.8"/><circle cx="1311.7" cy="325.5" r="11.8"/><circle cx="1323.1" cy="276.2" r="11.8"/><circle cx="1318.2" cy="307.4" r="11.8"/><circle cx="1318.7" cy="288.0" r="11.8"/><circle cx="1324.3" cy="318.0" r="11.8"/><circle cx="1307.1" cy="320.0" r="11.8"/><circle cx="1315.0" cy="307.2" r="11.8"/><circle cx="1312.4" cy="316.8" r="11.8"/><circle cx="1308.4" cy="288.3" r="11.8"/><circle cx="1319.9" cy="341.9" r="11.8"/><circle cx="1318.1" cy="321.8" r="11.8"/><circle cx="1313.0" cy="321.5" r="11.8"/><circle cx="1301.5" cy="301.7" r="11.8"/><circle cx="1323.0" cy="284.1" r="11.8"/><circle cx="1307.6" cy="256.2" r="11.8"/><circle cx="1325.3" cy="328.0" r="11.8"/><circle cx="1308.4" cy="263.1" r="11.8"/><circle cx="1325.7" cy="300.1" r="11.8"/><circle cx="1307.8" cy="337.7" r="11.8"/><circle cx="1308.7" cy="293.2" r="11.8"/><circle cx="1324.1" cy="242.5" r="11.8"/><circle cx="1309.3" cy="339.9" r="11.8"/><circle cx="1303.6" cy="317.8" r="11.8"/><circle cx="1320.7" cy="349.1" r="11.8"/><circle cx="1322.5" cy="283.0" r="11.8"/></g>
<g fill="#4c9ec8"><circle cx="1332.4" cy="359.4" r="11.8"/><circle cx="1326.1" cy="263.4" r="11.8"/><circle cx="1342.9" cy="321.6" r="11.8"/><circle cx="1329.7" cy="203.6" r="11.8"/><circle cx="1347.7" cy="326.7" r="11.8"/><circle cx="1349.4" cy="296.8" r="11.8"/><circle cx="1341.5" cy="296.5" r="11.8"/><circle cx="1331.1" cy="352.2" r="11.8"/><circle cx="1339.7" cy="257.9" r="11.8"/><circle cx="1344.7" cy="305.9" r="11.8"/><circle cx="1343.9" cy="240.8" r="11.8"/><circle cx="1334.3" cy="318.9" r="11.8"/><circle cx="1326.4" cy="360.7" r="11.8"/><circle cx="1337.3" cy="264.0" r="11.8"/><circle cx="1348.0" cy="332.5" r="11.8"/><circle cx="1328.7" cy="355.4" r="11.8"/><circle cx="1344.3" cy="236.5" r="11.8"/><circle cx="1340.2" cy="285.3" r="11.8"/><circle cx="1336.8" cy="239.3" r="11.8"/><circle cx="1346.6" cy="205.5" r="11.8"/><circle cx="1346.2" cy="275.8" r="11.8"/><circle cx="1328.2" cy="284.9" r="11.8"/><circle cx="1340.3" cy="297.4" r="11.8"/><circle cx="1329.9" cy="354.5" r="11.8"/><circle cx="1342.6" cy="283.8" r="11.8"/><circle cx="1328.3" cy="214.4" r="11.8"/><circle cx="1345.3" cy="288.2" r="11.8"/><circle cx="1331.0" cy="310.9" r="11.8"/><circle cx="1338.7" cy="288.9" r="11.8"/><circle cx="1335.9" cy="338.5" r="11.8"/><circle cx="1335.2" cy="314.0" r="11.8"/><circle cx="1350.1" cy="247.2" r="11.8"/><circle cx="1335.0" cy="257.8" r="11.8"/><circle cx="1338.1" cy="292.6" r="11.8"/><circle cx="1331.2" cy="324.6" r="11.8"/><circle cx="1349.8" cy="252.2" r="11.8"/><circle cx="1328.1" cy="258.7" r="11.8"/><circle cx="1333.9" cy="265.2" r="11.8"/><circle cx="1330.9" cy="325.8" r="11.8"/><circle cx="1344.9" cy="336.0" r="11.8"/><circle cx="1347.2" cy="287.2" r="11.8"/><circle cx="1345.3" cy="251.5" r="11.8"/><circle cx="1345.8" cy="246.0" r="11.8"/><circle cx="1331.7" cy="301.2" r="11.8"/><circle cx="1326.8" cy="298.9" r="11.8"/><circle cx="1329.3" cy="292.6" r="11.8"/><circle cx="1328.1" cy="271.7" r="11.8"/><circle cx="1345.9" cy="291.9" r="11.8"/></g>
<g fill="#4294c5"><circle cx="1371.9" cy="281.6" r="11.8"/><circle cx="1354.0" cy="352.9" r="11.8"/><circle cx="1365.7" cy="219.6" r="11.8"/><circle cx="1359.7" cy="341.8" r="11.8"/><circle cx="1359.9" cy="315.8" r="11.8"/><circle cx="1356.7" cy="321.8" r="11.8"/><circle cx="1370.1" cy="301.4" r="11.8"/><circle cx="1373.7" cy="281.9" r="11.8"/><circle cx="1356.3" cy="327.6" r="11.8"/><circle cx="1353.5" cy="249.6" r="11.8"/><circle cx="1360.8" cy="278.9" r="11.8"/><circle cx="1361.3" cy="329.9" r="11.8"/><circle cx="1376.3" cy="256.8" r="11.8"/><circle cx="1366.8" cy="287.7" r="11.8"/><circle cx="1373.9" cy="257.4" r="11.8"/><circle cx="1368.0" cy="298.4" r="11.8"/><circle cx="1370.8" cy="334.4" r="11.8"/><circle cx="1361.3" cy="267.4" r="11.8"/><circle cx="1363.9" cy="357.4" r="11.8"/><circle cx="1362.4" cy="224.1" r="11.8"/><circle cx="1372.9" cy="229.2" r="11.8"/><circle cx="1356.1" cy="355.5" r="11.8"/><circle cx="1366.6" cy="266.7" r="11.8"/><circle cx="1376.0" cy="276.4" r="11.8"/><circle cx="1352.6" cy="243.7" r="11.8"/><circle cx="1371.8" cy="313.2" r="11.8"/><circle cx="1365.6" cy="211.9" r="11.8"/><circle cx="1361.7" cy="249.9" r="11.8"/><circle cx="1362.5" cy="274.2" r="11.8"/><circle cx="1354.3" cy="261.1" r="11.8"/><circle cx="1352.3" cy="241.8" r="11.8"/><circle cx="1367.6" cy="351.4" r="11.8"/><circle cx="1356.6" cy="342.6" r="11.8"/><circle cx="1372.3" cy="266.6" r="11.8"/><circle cx="1365.6" cy="356.9" r="11.8"/><circle cx="1375.3" cy="352.9" r="11.8"/><circle cx="1363.0" cy="338.6" r="11.8"/><circle cx="1370.7" cy="306.1" r="11.8"/><circle cx="1366.9" cy="266.4" r="11.8"/><circle cx="1370.8" cy="252.8" r="11.8"/><circle cx="1354.7" cy="357.8" r="11.8"/><circle cx="1368.2" cy="256.6" r="11.8"/><circle cx="1358.0" cy="329.2" r="11.8"/><circle cx="1356.0" cy="280.0" r="11.8"/><circle cx="1364.0" cy="345.1" r="11.8"/><circle cx="1359.0" cy="305.2" r="11.8"/><circle cx="1364.5" cy="300.5" r="11.8"/><circle cx="1377.0" cy="359.2" r="11.8"/><circle cx="1366.8" cy="309.8" r="11.8"/><circle cx="1368.2" cy="281.3" r="11.8"/><circle cx="1363.6" cy="333.2" r="11.8"/><circle cx="1365.2" cy="295.6" r="11.8"/><circle cx="1360.2" cy="208.3" r="11.8"/><circle cx="1352.9" cy="270.2" r="11.8"/><circle cx="1356.6" cy="232.4" r="11.8"/><circle cx="1368.4" cy="324.0" r="11.8"/><circle cx="1372.4" cy="314.6" r="11.8"/><circle cx="1360.4" cy="257.1" r="11.8"/><circle cx="1372.5" cy="302.6" r="11.8"/></g>
<g fill="#3d8ec2"><circle cx="1396.3" cy="345.4" r="11.8"/><circle cx="1393.1" cy="315.8" r="11.8"/><circle cx="1377.5" cy="347.6" r="11.8"/><circle cx="1390.1" cy="332.5" r="11.8"/><circle cx="1398.8" cy="360.4" r="11.8"/><circle cx="1380.7" cy="270.6" r="11.8"/><circle cx="1379.1" cy="255.6" r="11.8"/><circle cx="1387.4" cy="275.5" r="11.8"/><circle cx="1389.4" cy="357.3" r="11.8"/><circle cx="1390.0" cy="362.3" r="11.8"/><circle cx="1393.8" cy="214.5" r="11.8"/><circle cx="1384.4" cy="348.2" r="11.8"/><circle cx="1383.4" cy="204.2" r="11.8"/><circle cx="1401.9" cy="250.3" r="11.8"/><circle cx="1400.0" cy="204.2" r="11.8"/><circle cx="1391.8" cy="282.8" r="11.8"/><circle cx="1394.7" cy="292.4" r="11.8"/><circle cx="1378.4" cy="327.2" r="11.8"/><circle cx="1385.5" cy="319.6" r="11.8"/><circle cx="1393.4" cy="254.5" r="11.8"/><circle cx="1385.4" cy="292.3" r="11.8"/><circle cx="1390.3" cy="359.0" r="11.8"/><circle cx="1388.7" cy="254.1" r="11.8"/><circle cx="1398.1" cy="221.7" r="11.8"/><circle cx="1395.7" cy="339.6" r="11.8"/><circle cx="1397.5" cy="286.3" r="11.8"/><circle cx="1386.8" cy="254.2" r="11.8"/><circle cx="1380.5" cy="346.3" r="11.8"/><circle cx="1380.9" cy="224.4" r="11.8"/><circle cx="1385.0" cy="358.4" r="11.8"/><circle cx="1392.8" cy="268.7" r="11.8"/><circle cx="1402.3" cy="292.4" r="11.8"/><circle cx="1400.2" cy="347.7" r="11.8"/><circle cx="1378.5" cy="280.9" r="11.8"/><circle cx="1400.0" cy="250.2" r="11.8"/><circle cx="1378.3" cy="275.0" r="11.8"/><circle cx="1389.7" cy="278.5" r="11.8"/><circle cx="1401.2" cy="247.5" r="11.8"/><circle cx="1387.2" cy="217.1" r="11.8"/><circle cx="1395.0" cy="143.0" r="11.8"/><circle cx="1379.9" cy="255.5" r="11.8"/><circle cx="1397.4" cy="283.3" r="11.8"/><circle cx="1387.0" cy="354.7" r="11.8"/><circle cx="1381.9" cy="355.7" r="11.8"/><circle cx="1396.7" cy="341.8" r="11.8"/><circle cx="1388.0" cy="170.0" r="11.8"/><circle cx="1387.0" cy="238.6" r="11.8"/><circle cx="1379.0" cy="270.4" r="11.8"/><circle cx="1398.1" cy="334.9" r="11.8"/><circle cx="1383.0" cy="347.1" r="11.8"/><circle cx="1398.4" cy="272.9" r="11.8"/><circle cx="1381.1" cy="268.5" r="11.8"/></g>
<g fill="#3a89c0"><circle cx="1409.6" cy="335.5" r="11.8"/><circle cx="1421.2" cy="225.6" r="11.8"/><circle cx="1413.8" cy="222.7" r="11.8"/><circle cx="1414.7" cy="216.3" r="11.8"/><circle cx="1408.4" cy="344.4" r="11.8"/><circle cx="1422.7" cy="307.7" r="11.8"/><circle cx="1413.4" cy="281.0" r="11.8"/><circle cx="1404.4" cy="360.7" r="11.8"/><circle cx="1412.3" cy="345.9" r="11.8"/><circle cx="1426.9" cy="238.6" r="11.8"/><circle cx="1414.2" cy="364.9" r="11.8"/><circle cx="1419.3" cy="335.0" r="11.8"/><circle cx="1423.2" cy="351.0" r="11.8"/><circle cx="1418.9" cy="336.6" r="11.8"/><circle cx="1408.4" cy="295.5" r="11.8"/><circle cx="1403.6" cy="314.3" r="11.8"/><circle cx="1408.1" cy="314.7" r="11.8"/><circle cx="1417.3" cy="344.8" r="11.8"/><circle cx="1417.4" cy="290.5" r="11.8"/><circle cx="1405.9" cy="239.3" r="11.8"/><circle cx="1404.6" cy="205.2" r="11.8"/><circle cx="1413.5" cy="268.1" r="11.8"/><circle cx="1417.1" cy="352.0" r="11.8"/><circle cx="1425.9" cy="294.7" r="11.8"/><circle cx="1414.7" cy="241.5" r="11.8"/><circle cx="1417.4" cy="347.7" r="11.8"/><circle cx="1426.3" cy="314.8" r="11.8"/><circle cx="1423.7" cy="324.1" r="11.8"/><circle cx="1421.5" cy="344.2" r="11.8"/><circle cx="1422.5" cy="259.7" r="11.8"/><circle cx="1402.8" cy="284.6" r="11.8"/><circle cx="1425.5" cy="231.5" r="11.8"/><circle cx="1415.1" cy="268.7" r="11.8"/><circle cx="1413.7" cy="280.6" r="11.8"/><circle cx="1418.9" cy="276.9" r="11.8"/><circle cx="1421.3" cy="360.6" r="11.8"/><circle cx="1402.9" cy="281.2" r="11.8"/><circle cx="1405.2" cy="282.5" r="11.8"/><circle cx="1426.2" cy="307.4" r="11.8"/><circle cx="1416.7" cy="263.4" r="11.8"/><circle cx="1426.2" cy="252.8" r="11.8"/><circle cx="1413.0" cy="260.2" r="11.8"/><circle cx="1410.8" cy="266.1" r="11.8"/><circle cx="1414.2" cy="315.6" r="11.8"/><circle cx="1410.9" cy="293.4" r="11.8"/><circle cx="1415.3" cy="359.6" r="11.8"/><circle cx="1425.9" cy="306.6" r="11.8"/><circle cx="1420.3" cy="295.0" r="11.8"/><circle cx="1404.5" cy="305.8" r="11.8"/><circle cx="1412.3" cy="302.5" r="11.8"/><circle cx="1427.6" cy="363.3" r="11.8"/><circle cx="1411.5" cy="271.4" r="11.8"/><circle cx="1427.8" cy="336.0" r="11.8"/><circle cx="1424.0" cy="351.1" r="11.8"/></g>
<g fill="#3684be"><circle cx="1444.9" cy="304.1" r="11.8"/><circle cx="1441.9" cy="219.1" r="11.8"/><circle cx="1453.2" cy="293.4" r="11.8"/><circle cx="1444.4" cy="348.3" r="11.8"/><circle cx="1436.0" cy="257.6" r="11.8"/><circle cx="1445.8" cy="318.6" r="11.8"/><circle cx="1434.9" cy="353.7" r="11.8"/><circle cx="1436.4" cy="350.8" r="11.8"/><circle cx="1436.4" cy="353.1" r="11.8"/><circle cx="1436.1" cy="275.7" r="11.8"/><circle cx="1440.9" cy="296.4" r="11.8"/><circle cx="1450.9" cy="305.1" r="11.8"/><circle cx="1437.5" cy="282.6" r="11.8"/><circle cx="1443.9" cy="316.0" r="11.8"/><circle cx="1451.1" cy="315.4" r="11.8"/><circle cx="1429.0" cy="313.0" r="11.8"/><circle cx="1428.9" cy="301.3" r="11.8"/><circle cx="1429.9" cy="238.8" r="11.8"/><circle cx="1445.3" cy="322.2" r="11.8"/><circle cx="1450.0" cy="287.3" r="11.8"/><circle cx="1452.6" cy="310.4" r="11.8"/><circle cx="1435.8" cy="342.8" r="11.8"/><circle cx="1430.3" cy="356.6" r="11.8"/><circle cx="1433.7" cy="326.4" r="11.8"/><circle cx="1440.7" cy="275.4" r="11.8"/><circle cx="1436.0" cy="363.3" r="11.8"/><circle cx="1452.9" cy="307.5" r="11.8"/><circle cx="1446.1" cy="259.3" r="11.8"/><circle cx="1434.3" cy="285.4" r="11.8"/><circle cx="1439.4" cy="365.5" r="11.8"/><circle cx="1453.8" cy="245.4" r="11.8"/><circle cx="1428.6" cy="287.6" r="11.8"/><circle cx="1446.2" cy="260.4" r="11.8"/><circle cx="1428.5" cy="320.9" r="11.8"/><circle cx="1431.8" cy="273.8" r="11.8"/><circle cx="1429.5" cy="286.6" r="11.8"/><circle cx="1447.0" cy="333.8" r="11.8"/><circle cx="1432.8" cy="249.4" r="11.8"/><circle cx="1451.8" cy="322.7" r="11.8"/><circle cx="1444.1" cy="341.7" r="11.8"/><circle cx="1430.0" cy="308.3" r="11.8"/><circle cx="1441.9" cy="346.0" r="11.8"/><circle cx="1430.6" cy="315.0" r="11.8"/><circle cx="1443.7" cy="356.1" r="11.8"/><circle cx="1439.6" cy="356.3" r="11.8"/><circle cx="1438.1" cy="332.4" r="11.8"/><circle cx="1447.6" cy="356.0" r="11.8"/><circle cx="1437.6" cy="313.2" r="11.8"/><circle cx="1435.6" cy="359.9" r="11.8"/><circle cx="1451.4" cy="356.9" r="11.8"/><circle cx="1435.4" cy="285.2" r="11.8"/><circle cx="1433.2" cy="306.8" r="11.8"/><circle cx="1443.9" cy="284.6" r="11.8"/></g>
<g fill="#3881be"><circle cx="1461.2" cy="274.4" r="11.8"/><circle cx="1461.9" cy="297.0" r="11.8"/><circle cx="1475.7" cy="262.3" r="11.8"/><circle cx="1463.7" cy="232.7" r="11.8"/><circle cx="1466.7" cy="291.4" r="11.8"/><circle cx="1478.0" cy="305.1" r="11.8"/><circle cx="1473.0" cy="283.6" r="11.8"/><circle cx="1455.5" cy="256.9" r="11.8"/><circle cx="1476.1" cy="236.1" r="11.8"/><circle cx="1460.3" cy="346.1" r="11.8"/><circle cx="1468.7" cy="360.9" r="11.8"/><circle cx="1461.9" cy="346.9" r="11.8"/><circle cx="1460.1" cy="301.3" r="11.8"/><circle cx="1460.0" cy="311.9" r="11.8"/><circle cx="1469.6" cy="309.4" r="11.8"/><circle cx="1474.5" cy="290.5" r="11.8"/><circle cx="1477.5" cy="257.7" r="11.8"/><circle cx="1460.5" cy="268.5" r="11.8"/><circle cx="1456.5" cy="294.3" r="11.8"/><circle cx="1475.2" cy="336.6" r="11.8"/><circle cx="1479.1" cy="330.0" r="11.8"/><circle cx="1469.1" cy="343.7" r="11.8"/><circle cx="1466.4" cy="230.6" r="11.8"/><circle cx="1469.6" cy="250.1" r="11.8"/><circle cx="1459.9" cy="277.1" r="11.8"/><circle cx="1468.9" cy="262.1" r="11.8"/><circle cx="1476.0" cy="346.2" r="11.8"/><circle cx="1475.6" cy="318.9" r="11.8"/><circle cx="1456.3" cy="295.1" r="11.8"/><circle cx="1460.8" cy="268.8" r="11.8"/><circle cx="1460.3" cy="280.5" r="11.8"/><circle cx="1479.5" cy="241.6" r="11.8"/><circle cx="1472.7" cy="262.9" r="11.8"/><circle cx="1458.7" cy="290.0" r="11.8"/><circle cx="1470.8" cy="329.3" r="11.8"/><circle cx="1454.3" cy="280.6" r="11.8"/><circle cx="1475.8" cy="328.5" r="11.8"/><circle cx="1460.5" cy="308.2" r="11.8"/><circle cx="1463.7" cy="274.2" r="11.8"/><circle cx="1461.3" cy="346.2" r="11.8"/><circle cx="1471.7" cy="343.0" r="11.8"/><circle cx="1460.4" cy="320.3" r="11.8"/><circle cx="1471.1" cy="271.4" r="11.8"/><circle cx="1469.6" cy="340.3" r="11.8"/><circle cx="1461.6" cy="349.5" r="11.8"/><circle cx="1455.8" cy="346.7" r="11.8"/><circle cx="1460.6" cy="222.2" r="11.8"/><circle cx="1474.0" cy="263.4" r="11.8"/><circle cx="1454.7" cy="281.3" r="11.8"/><circle cx="1471.8" cy="296.3" r="11.8"/><circle cx="1458.7" cy="233.5" r="11.8"/><circle cx="1468.7" cy="297.1" r="11.8"/><circle cx="1474.2" cy="277.5" r="11.8"/><circle cx="1472.6" cy="294.9" r="11.8"/><circle cx="1471.5" cy="321.5" r="11.8"/><circle cx="1473.7" cy="360.4" r="11.8"/><circle cx="1467.2" cy="362.9" r="11.8"/><circle cx="1473.7" cy="357.0" r="11.8"/><circle cx="1462.4" cy="336.7" r="11.8"/></g>
<g fill="#3a7fbe"><circle cx="1498.0" cy="350.6" r="11.8"/><circle cx="1483.4" cy="308.5" r="11.8"/><circle cx="1497.9" cy="341.9" r="11.8"/><circle cx="1486.3" cy="268.4" r="11.8"/><circle cx="1501.1" cy="318.2" r="11.8"/><circle cx="1496.3" cy="303.9" r="11.8"/><circle cx="1486.0" cy="282.5" r="11.8"/><circle cx="1484.9" cy="296.8" r="11.8"/><circle cx="1498.8" cy="257.6" r="11.8"/><circle cx="1490.3" cy="360.9" r="11.8"/><circle cx="1503.3" cy="302.3" r="11.8"/><circle cx="1493.4" cy="254.7" r="11.8"/><circle cx="1493.2" cy="274.4" r="11.8"/><circle cx="1483.2" cy="315.8" r="11.8"/><circle cx="1490.2" cy="277.5" r="11.8"/><circle cx="1504.1" cy="291.0" r="11.8"/><circle cx="1494.9" cy="344.7" r="11.8"/><circle cx="1492.0" cy="334.6" r="11.8"/><circle cx="1484.2" cy="282.4" r="11.8"/><circle cx="1499.4" cy="252.3" r="11.8"/><circle cx="1503.8" cy="325.6" r="11.8"/><circle cx="1493.4" cy="302.8" r="11.8"/><circle cx="1496.5" cy="299.4" r="11.8"/><circle cx="1498.6" cy="334.3" r="11.8"/><circle cx="1482.9" cy="351.7" r="11.8"/><circle cx="1487.7" cy="307.2" r="11.8"/><circle cx="1493.0" cy="349.0" r="11.8"/><circle cx="1489.7" cy="337.2" r="11.8"/><circle cx="1496.2" cy="303.4" r="11.8"/><circle cx="1487.2" cy="330.5" r="11.8"/><circle cx="1490.0" cy="322.9" r="11.8"/><circle cx="1484.4" cy="319.4" r="11.8"/><circle cx="1483.7" cy="296.5" r="11.8"/><circle cx="1501.1" cy="244.3" r="11.8"/><circle cx="1494.7" cy="328.0" r="11.8"/><circle cx="1494.0" cy="251.6" r="11.8"/><circle cx="1500.4" cy="317.7" r="11.8"/><circle cx="1487.5" cy="305.5" r="11.8"/><circle cx="1490.5" cy="345.7" r="11.8"/><circle cx="1488.8" cy="325.1" r="11.8"/><circle cx="1490.1" cy="240.2" r="11.8"/><circle cx="1504.3" cy="273.6" r="11.8"/><circle cx="1494.7" cy="245.3" r="11.8"/><circle cx="1498.3" cy="350.9" r="11.8"/></g>
<g fill="#437fc0"><circle cx="1516.2" cy="293.6" r="11.8"/><circle cx="1523.1" cy="231.4" r="11.8"/><circle cx="1525.1" cy="328.7" r="11.8"/><circle cx="1508.8" cy="294.0" r="11.8"/><circle cx="1511.2" cy="308.0" r="11.8"/><circle cx="1517.1" cy="239.0" r="11.8"/><circle cx="1524.1" cy="305.8" r="11.8"/><circle cx="1506.1" cy="315.4" r="11.8"/><circle cx="1512.0" cy="250.4" r="11.8"/><circle cx="1530.5" cy="259.2" r="11.8"/><circle cx="1519.1" cy="350.5" r="11.8"/><circle cx="1518.4" cy="350.1" r="11.8"/><circle cx="1520.2" cy="341.8" r="11.8"/><circle cx="1515.2" cy="329.9" r="11.8"/><circle cx="1509.5" cy="270.3" r="11.8"/><circle cx="1506.9" cy="315.6" r="11.8"/><circle cx="1508.0" cy="346.8" r="11.8"/><circle cx="1509.6" cy="263.2" r="11.8"/><circle cx="1527.3" cy="308.9" r="11.8"/><circle cx="1525.7" cy="309.8" r="11.8"/><circle cx="1507.9" cy="227.2" r="11.8"/><circle cx="1505.1" cy="295.0" r="11.8"/></g>
<g fill="#4c80c2"><circle cx="1541.9" cy="323.0" r="11.8"/><circle cx="1540.0" cy="255.0" r="11.8"/><circle cx="1546.5" cy="241.0" r="11.8"/><circle cx="1548.0" cy="345.0" r="11.8"/><circle cx="1554.5" cy="326.5" r="11.8"/><circle cx="1533.5" cy="323.0" r="11.8"/><circle cx="1537.4" cy="236.7" r="11.8"/><circle cx="1541.6" cy="251.1" r="11.8"/></g>
<g fill="#4d80c2"><circle cx="1570.5" cy="260.0" r="11.8"/><circle cx="1560.0" cy="348.0" r="11.8"/><circle cx="1562.0" cy="318.0" r="11.8"/></g>
<g fill="#4d81c3"><circle cx="1594.5" cy="350.5" r="11.8"/></g>
<g fill="#fcf0b2"><circle cx="797.5" cy="310.5" r="11.8"/></g>
<g fill="#fcf0b2"><circle cx="851.6" cy="311.6" r="11.8"/></g>
<g fill="#fcf0b2"><circle cx="878.4" cy="342.6" r="11.8"/><circle cx="872.0" cy="352.0" r="11.8"/><circle cx="876.0" cy="325.5" r="11.8"/></g>
<g fill="#fcf0b2"><circle cx="911.5" cy="323.1" r="11.8"/><circle cx="896.8" cy="311.2" r="11.8"/><circle cx="912.5" cy="341.5" r="11.8"/><circle cx="911.2" cy="333.4" r="11.8"/><circle cx="895.1" cy="321.2" r="11.8"/><circle cx="914.1" cy="267.5" r="11.8"/><circle cx="911.9" cy="331.3" r="11.8"/><circle cx="914.2" cy="271.5" r="11.8"/><circle cx="914.9" cy="249.4" r="11.8"/><circle cx="914.1" cy="256.5" r="11.8"/><circle cx="902.5" cy="274.4" r="11.8"/><circle cx="914.6" cy="231.8" r="11.8"/><circle cx="905.0" cy="138.0" r="11.8"/></g>
<g fill="#fcf0b2"><circle cx="934.3" cy="348.6" r="11.8"/><circle cx="924.9" cy="221.5" r="11.8"/><circle cx="935.3" cy="248.2" r="11.8"/><circle cx="939.9" cy="233.9" r="11.8"/><circle cx="921.4" cy="253.2" r="11.8"/><circle cx="939.9" cy="296.0" r="11.8"/><circle cx="927.6" cy="247.5" r="11.8"/><circle cx="919.2" cy="260.2" r="11.8"/><circle cx="936.6" cy="292.6" r="11.8"/><circle cx="939.3" cy="204.4" r="11.8"/><circle cx="919.1" cy="351.0" r="11.8"/><circle cx="934.0" cy="260.9" r="11.8"/><circle cx="936.0" cy="265.0" r="11.8"/><circle cx="941.1" cy="222.7" r="11.8"/><circle cx="930.7" cy="333.5" r="11.8"/><circle cx="922.0" cy="281.0" r="11.8"/><circle cx="930.7" cy="331.4" r="11.8"/><circle cx="940.2" cy="241.7" r="11.8"/><circle cx="939.6" cy="344.6" r="11.8"/><circle cx="935.7" cy="261.8" r="11.8"/><circle cx="933.6" cy="242.4" r="11.8"/><circle cx="934.1" cy="334.0" r="11.8"/><circle cx="940.3" cy="286.4" r="11.8"/><circle cx="936.8" cy="237.5" r="11.8"/><circle cx="921.4" cy="318.5" r="11.8"/><circle cx="932.3" cy="305.3" r="11.8"/><circle cx="924.1" cy="320.2" r="11.8"/><circle cx="939.2" cy="355.8" r="11.8"/><circle cx="920.3" cy="260.9" r="11.8"/><circle cx="938.6" cy="293.3" r="11.8"/><circle cx="941.6" cy="324.2" r="11.8"/></g>
<g fill="#fcf0b2"><circle cx="964.5" cy="299.8" r="11.8"/><circle cx="967.4" cy="348.5" r="11.8"/><circle cx="964.9" cy="342.5" r="11.8"/><circle cx="949.6" cy="255.5" r="11.8"/><circle cx="963.4" cy="322.7" r="11.8"/><circle cx="960.6" cy="205.3" r="11.8"/><circle cx="945.8" cy="270.0" r="11.8"/><circle cx="955.2" cy="251.7" r="11.8"/><circle cx="952.5" cy="261.8" r="11.8"/><circle cx="948.5" cy="291.8" r="11.8"/><circle cx="951.0" cy="263.7" r="11.8"/><circle cx="950.1" cy="250.5" r="11.8"/><circle cx="942.4" cy="231.4" r="11.8"/><circle cx="945.9" cy="225.0" r="11.8"/><circle cx="966.8" cy="348.3" r="11.8"/><circle cx="944.7" cy="293.2" r="11.8"/><circle cx="963.9" cy="308.5" r="11.8"/><circle cx="958.3" cy="251.6" r="11.8"/><circle cx="960.7" cy="347.6" r="11.8"/><circle cx="944.8" cy="218.7" r="11.8"/><circle cx="958.1" cy="327.1" r="11.8"/><circle cx="944.5" cy="250.2" r="11.8"/><circle cx="965.7" cy="349.5" r="11.8"/><circle cx="962.0" cy="336.6" r="11.8"/><circle cx="962.8" cy="318.9" r="11.8"/><circle cx="945.9" cy="210.8" r="11.8"/><circle cx="959.2" cy="250.1" r="11.8"/><circle cx="944.5" cy="330.7" r="11.8"/><circle cx="954.9" cy="265.8" r="11.8"/><circle cx="952.6" cy="269.5" r="11.8"/><circle cx="952.9" cy="351.3" r="11.8"/><circle cx="949.7" cy="329.5" r="11.8"/><circle cx="966.9" cy="312.9" r="11.8"/><circle cx="960.9" cy="296.3" r="11.8"/><circle cx="958.6" cy="218.4" r="11.8"/><circle cx="950.0" cy="227.3" r="11.8"/><circle cx="965.3" cy="327.8" r="11.8"/><circle cx="947.9" cy="356.1" r="11.8"/><circle cx="961.4" cy="216.9" r="11.8"/><circle cx="953.6" cy="291.8" r="11.8"/><circle cx="965.3" cy="328.0" r="11.8"/><circle cx="962.7" cy="344.3" r="11.8"/><circle cx="961.3" cy="339.4" r="11.8"/><circle cx="962.2" cy="260.2" r="11.8"/></g>
<g fill="#fcf0b2"><circle cx="976.7" cy="263.1" r="11.8"/><circle cx="986.5" cy="204.6" r="11.8"/><circle cx="979.2" cy="326.3" r="11.8"/><circle cx="987.8" cy="222.5" r="11.8"/><circle cx="979.6" cy="301.6" r="11.8"/><circle cx="985.1" cy="357.0" r="11.8"/><circle cx="978.1" cy="257.1" r="11.8"/><circle cx="988.1" cy="253.7" r="11.8"/><circle cx="978.7" cy="256.8" r="11.8"/><circle cx="992.0" cy="258.9" r="11.8"/><circle cx="970.6" cy="263.0" r="11.8"/><circle cx="987.3" cy="233.5" r="11.8"/><circle cx="977.1" cy="266.4" r="11.8"/><circle cx="980.7" cy="280.7" r="11.8"/><circle cx="986.1" cy="258.6" r="11.8"/><circle cx="986.4" cy="235.2" r="11.8"/><circle cx="968.3" cy="306.7" r="11.8"/><circle cx="985.1" cy="176.2" r="11.8"/><circle cx="986.8" cy="360.6" r="11.8"/><circle cx="993.3" cy="184.5" r="11.8"/><circle cx="976.7" cy="179.7" r="11.8"/><circle cx="969.1" cy="192.6" r="11.8"/><circle cx="984.1" cy="362.6" r="11.8"/><circle cx="980.5" cy="232.2" r="11.8"/><circle cx="985.1" cy="310.1" r="11.8"/><circle cx="983.4" cy="244.1" r="11.8"/><circle cx="989.6" cy="260.0" r="11.8"/><circle cx="974.7" cy="254.4" r="11.8"/><circle cx="970.1" cy="280.6" r="11.8"/><circle cx="979.9" cy="327.4" r="11.8"/><circle cx="972.2" cy="344.2" r="11.8"/><circle cx="980.4" cy="297.9" r="11.8"/><circle cx="975.8" cy="327.0" r="11.8"/><circle cx="986.5" cy="339.9" r="11.8"/><circle cx="976.3" cy="195.7" r="11.8"/><circle cx="989.7" cy="339.4" r="11.8"/><circle cx="976.3" cy="186.6" r="11.8"/><circle cx="991.1" cy="271.7" r="11.8"/><circle cx="980.6" cy="210.4" r="11.8"/><circle cx="974.9" cy="220.8" r="11.8"/><circle cx="979.7" cy="332.9" r="11.8"/><circle cx="993.1" cy="251.8" r="11.8"/><circle cx="975.5" cy="284.7" r="11.8"/><circle cx="968.1" cy="327.2" r="11.8"/><circle cx="991.8" cy="242.0" r="11.8"/><circle cx="987.4" cy="195.4" r="11.8"/><circle cx="972.0" cy="297.7" r="11.8"/><circle cx="983.1" cy="202.1" r="11.8"/><circle cx="991.8" cy="361.2" r="11.8"/><circle cx="988.7" cy="252.5" r="11.8"/><circle cx="990.5" cy="184.7" r="11.8"/></g>
<g fill="#fcf0b2"><circle cx="1016.0" cy="303.2" r="11.8"/><circle cx="1000.5" cy="297.5" r="11.8"/><circle cx="1002.7" cy="285.1" r="11.8"/><circle cx="994.8" cy="326.5" r="11.8"/><circle cx="1006.0" cy="295.0" r="11.8"/><circle cx="999.0" cy="351.7" r="11.8"/><circle cx="1018.1" cy="189.4" r="11.8"/><circle cx="1013.4" cy="257.2" r="11.8"/><circle cx="1005.0" cy="296.2" r="11.8"/><circle cx="1015.5" cy="201.6" r="11.8"/><circle cx="1012.4" cy="262.8" r="11.8"/><circle cx="995.0" cy="205.2" r="11.8"/><circle cx="999.0" cy="280.7" r="11.8"/><circle cx="1000.6" cy="356.4" r="11.8"/><circle cx="1016.4" cy="276.6" r="11.8"/><circle cx="993.8" cy="260.8" r="11.8"/><circle cx="1018.0" cy="245.5" r="11.8"/><circle cx="1000.8" cy="205.0" r="11.8"/><circle cx="1000.3" cy="227.0" r="11.8"/><circle cx="1006.1" cy="367.0" r="11.8"/><circle cx="1010.6" cy="292.7" r="11.8"/><circle cx="1013.0" cy="277.3" r="11.8"/><circle cx="1012.1" cy="280.9" r="11.8"/><circle cx="1013.5" cy="319.5" r="11.8"/><circle cx="1000.7" cy="345.0" r="11.8"/><circle cx="994.5" cy="298.5" r="11.8"/><circle cx="1017.4" cy="336.0" r="11.8"/><circle cx="1005.7" cy="245.2" r="11.8"/><circle cx="997.2" cy="330.2" r="11.8"/><circle cx="1006.6" cy="330.7" r="11.8"/><circle cx="998.6" cy="186.7" r="11.8"/><circle cx="1008.4" cy="251.9" r="11.8"/><circle cx="1012.6" cy="226.1" r="11.8"/><circle cx="996.9" cy="159.1" r="11.8"/><circle cx="998.3" cy="308.8" r="11.8"/><circle cx="1009.4" cy="300.2" r="11.8"/><circle cx="1013.8" cy="294.8" r="11.8"/><circle cx="1009.8" cy="327.3" r="11.8"/><circle cx="1010.4" cy="297.0" r="11.8"/><circle cx="997.6" cy="366.8" r="11.8"/><circle cx="995.8" cy="297.0" r="11.8"/><circle cx="996.3" cy="166.8" r="11.8"/><circle cx="1011.3" cy="299.2" r="11.8"/><circle cx="997.8" cy="235.8" r="11.8"/><circle cx="1004.2" cy="235.5" r="11.8"/><circle cx="994.2" cy="230.5" r="11.8"/><circle cx="1005.1" cy="221.8" r="11.8"/><circle cx="1006.5" cy="359.4" r="11.8"/><circle cx="1008.7" cy="347.9" r="11.8"/><circle cx="1016.8" cy="262.7" r="11.8"/><circle cx="994.5" cy="225.8" r="11.8"/><circle cx="1012.8" cy="333.1" r="11.8"/><circle cx="1014.7" cy="213.5" r="11.8"/><circle cx="1000.8" cy="193.3" r="11.8"/><circle cx="1005.1" cy="239.3" r="11.8"/><circle cx="1001.0" cy="235.0" r="11.8"/><circle cx="1009.8" cy="341.1" r="11.8"/><circle cx="1000.4" cy="338.7" r="11.8"/><circle cx="1008.0" cy="309.2" r="11.8"/><circle cx="1013.4" cy="229.2" r="11.8"/><circle cx="1015.8" cy="250.2" r="11.8"/><circle cx="998.7" cy="240.5" r="11.8"/></g>
<g fill="#fcf0b2"><circle cx="1029.7" cy="219.4" r="11.8"/><circle cx="1025.9" cy="222.0" r="11.8"/><circle cx="1022.7" cy="288.2" r="11.8"/><circle cx="1019.7" cy="258.8" r="11.8"/><circle cx="1035.8" cy="295.7" r="11.8"/><circle cx="1038.0" cy="223.5" r="11.8"/><circle cx="1040.9" cy="251.4" r="11.8"/><circle cx="1028.2" cy="273.8" r="11.8"/><circle cx="1034.5" cy="248.0" r="11.8"/><circle cx="1022.6" cy="361.1" r="11.8"/><circle cx="1027.4" cy="342.5" r="11.8"/><circle cx="1033.6" cy="315.4" r="11.8"/><circle cx="1031.9" cy="324.6" r="11.8"/><circle cx="1030.2" cy="255.9" r="11.8"/><circle cx="1020.3" cy="188.6" r="11.8"/><circle cx="1022.6" cy="261.8" r="11.8"/><circle cx="1030.6" cy="315.6" r="11.8"/><circle cx="1019.8" cy="259.8" r="11.8"/><circle cx="1026.1" cy="324.1" r="11.8"/><circle cx="1035.3" cy="313.1" r="11.8"/><circle cx="1028.5" cy="281.4" r="11.8"/><circle cx="1035.3" cy="346.7" r="11.8"/><circle cx="1028.3" cy="211.1" r="11.8"/><circle cx="1025.4" cy="335.4" r="11.8"/><circle cx="1040.1" cy="292.9" r="11.8"/><circle cx="1027.5" cy="257.8" r="11.8"/><circle cx="1031.2" cy="234.1" r="11.8"/><circle cx="1033.1" cy="236.2" r="11.8"/><circle cx="1039.0" cy="289.1" r="11.8"/><circle cx="1026.2" cy="294.4" r="11.8"/><circle cx="1040.6" cy="219.2" r="11.8"/><circle cx="1020.8" cy="255.3" r="11.8"/><circle cx="1043.9" cy="194.9" r="11.8"/><circle cx="1025.8" cy="259.3" r="11.8"/><circle cx="1025.3" cy="228.7" r="11.8"/><circle cx="1039.2" cy="332.1" r="11.8"/><circle cx="1044.5" cy="217.1" r="11.8"/><circle cx="1039.4" cy="269.0" r="11.8"/><circle cx="1040.8" cy="240.3" r="11.8"/><circle cx="1030.7" cy="230.7" r="11.8"/><circle cx="1023.7" cy="212.3" r="11.8"/><circle cx="1031.8" cy="356.6" r="11.8"/><circle cx="1040.8" cy="264.9" r="11.8"/><circle cx="1043.9" cy="292.4" r="11.8"/><circle cx="1041.1" cy="314.9" r="11.8"/><circle cx="1030.0" cy="305.1" r="11.8"/><circle cx="1040.5" cy="303.6" r="11.8"/><circle cx="1033.0" cy="259.4" r="11.8"/><circle cx="1036.6" cy="340.3" r="11.8"/><circle cx="1031.8" cy="330.8" r="11.8"/><circle cx="1043.0" cy="335.5" r="11.8"/><circle cx="1023.2" cy="269.1" r="11.8"/><circle cx="1029.0" cy="245.6" r="11.8"/><circle cx="1038.6" cy="247.3" r="11.8"/><circle cx="1044.0" cy="184.2" r="11.8"/></g>
<g fill="#f3f0b3"><circle cx="1059.3" cy="201.1" r="11.8"/><circle cx="1052.1" cy="295.4" r="11.8"/><circle cx="1047.1" cy="290.3" r="11.8"/><circle cx="1049.1" cy="175.4" r="11.8"/><circle cx="1051.7" cy="229.0" r="11.8"/><circle cx="1065.5" cy="213.6" r="11.8"/><circle cx="1055.2" cy="254.8" r="11.8"/><circle cx="1051.1" cy="227.2" r="11.8"/><circle cx="1056.9" cy="284.7" r="11.8"/><circle cx="1058.0" cy="198.7" r="11.8"/><circle cx="1064.9" cy="240.9" r="11.8"/><circle cx="1047.9" cy="254.4" r="11.8"/><circle cx="1069.2" cy="316.6" r="11.8"/><circle cx="1056.8" cy="286.2" r="11.8"/><circle cx="1062.5" cy="218.8" r="11.8"/><circle cx="1046.7" cy="314.9" r="11.8"/><circle cx="1069.6" cy="284.5" r="11.8"/><circle cx="1053.8" cy="259.2" r="11.8"/><circle cx="1069.7" cy="200.3" r="11.8"/><circle cx="1051.5" cy="327.2" r="11.8"/><circle cx="1064.2" cy="223.3" r="11.8"/><circle cx="1060.6" cy="325.3" r="11.8"/><circle cx="1064.0" cy="265.3" r="11.8"/><circle cx="1059.9" cy="255.9" r="11.8"/><circle cx="1057.5" cy="315.4" r="11.8"/><circle cx="1049.9" cy="338.3" r="11.8"/><circle cx="1054.4" cy="320.5" r="11.8"/><circle cx="1063.5" cy="202.4" r="11.8"/><circle cx="1063.1" cy="214.3" r="11.8"/><circle cx="1047.0" cy="284.7" r="11.8"/><circle cx="1052.8" cy="264.9" r="11.8"/><circle cx="1058.3" cy="318.4" r="11.8"/><circle cx="1050.9" cy="185.9" r="11.8"/><circle cx="1067.6" cy="301.4" r="11.8"/><circle cx="1061.6" cy="251.6" r="11.8"/><circle cx="1058.1" cy="282.8" r="11.8"/><circle cx="1049.1" cy="189.4" r="11.8"/><circle cx="1059.7" cy="216.6" r="11.8"/><circle cx="1062.6" cy="203.0" r="11.8"/><circle cx="1057.6" cy="343.3" r="11.8"/><circle cx="1046.1" cy="215.6" r="11.8"/><circle cx="1067.9" cy="309.4" r="11.8"/><circle cx="1045.7" cy="335.5" r="11.8"/><circle cx="1068.3" cy="300.3" r="11.8"/><circle cx="1069.5" cy="316.4" r="11.8"/><circle cx="1060.8" cy="326.1" r="11.8"/><circle cx="1049.5" cy="342.6" r="11.8"/><circle cx="1062.9" cy="288.1" r="11.8"/><circle cx="1048.8" cy="222.0" r="11.8"/><circle cx="1069.0" cy="321.0" r="11.8"/></g>
<g fill="#e1efb5"><circle cx="1086.3" cy="315.4" r="11.8"/><circle cx="1074.8" cy="239.5" r="11.8"/><circle cx="1076.3" cy="184.0" r="11.8"/><circle cx="1083.2" cy="236.5" r="11.8"/><circle cx="1085.6" cy="259.1" r="11.8"/><circle cx="1082.0" cy="286.5" r="11.8"/><circle cx="1087.6" cy="231.4" r="11.8"/><circle cx="1073.5" cy="287.4" r="11.8"/><circle cx="1076.6" cy="166.2" r="11.8"/><circle cx="1087.7" cy="238.8" r="11.8"/><circle cx="1087.4" cy="192.9" r="11.8"/><circle cx="1077.0" cy="303.6" r="11.8"/><circle cx="1082.0" cy="327.9" r="11.8"/><circle cx="1093.1" cy="224.4" r="11.8"/><circle cx="1089.1" cy="211.4" r="11.8"/><circle cx="1087.7" cy="282.3" r="11.8"/><circle cx="1075.3" cy="303.3" r="11.8"/><circle cx="1075.4" cy="328.9" r="11.8"/><circle cx="1088.0" cy="312.8" r="11.8"/><circle cx="1072.8" cy="239.7" r="11.8"/><circle cx="1090.6" cy="264.4" r="11.8"/><circle cx="1072.1" cy="284.7" r="11.8"/><circle cx="1083.1" cy="211.9" r="11.8"/><circle cx="1087.7" cy="190.0" r="11.8"/><circle cx="1085.7" cy="175.2" r="11.8"/><circle cx="1083.7" cy="203.9" r="11.8"/><circle cx="1083.5" cy="173.1" r="11.8"/><circle cx="1071.7" cy="304.1" r="11.8"/><circle cx="1087.1" cy="290.6" r="11.8"/><circle cx="1087.3" cy="260.2" r="11.8"/><circle cx="1072.2" cy="329.2" r="11.8"/><circle cx="1077.0" cy="276.5" r="11.8"/><circle cx="1086.3" cy="331.0" r="11.8"/><circle cx="1078.1" cy="329.6" r="11.8"/><circle cx="1090.1" cy="272.7" r="11.8"/><circle cx="1087.9" cy="323.9" r="11.8"/><circle cx="1078.9" cy="271.9" r="11.8"/><circle cx="1080.3" cy="224.4" r="11.8"/><circle cx="1074.9" cy="301.0" r="11.8"/><circle cx="1082.3" cy="261.6" r="11.8"/><circle cx="1093.7" cy="238.3" r="11.8"/><circle cx="1091.8" cy="268.1" r="11.8"/><circle cx="1094.4" cy="264.7" r="11.8"/><circle cx="1072.0" cy="282.8" r="11.8"/></g>
<g fill="#c7edb9"><circle cx="1106.5" cy="320.0" r="11.8"/><circle cx="1107.8" cy="201.1" r="11.8"/><circle cx="1103.8" cy="182.7" r="11.8"/><circle cx="1113.6" cy="307.7" r="11.8"/><circle cx="1107.8" cy="201.0" r="11.8"/><circle cx="1100.1" cy="291.8" r="11.8"/><circle cx="1105.3" cy="276.2" r="11.8"/><circle cx="1119.9" cy="297.8" r="11.8"/><circle cx="1106.5" cy="230.2" r="11.8"/><circle cx="1112.3" cy="295.6" r="11.8"/><circle cx="1098.7" cy="279.5" r="11.8"/><circle cx="1107.3" cy="202.2" r="11.8"/><circle cx="1120.4" cy="281.1" r="11.8"/><circle cx="1117.5" cy="333.1" r="11.8"/><circle cx="1120.2" cy="266.6" r="11.8"/><circle cx="1099.9" cy="214.8" r="11.8"/><circle cx="1116.7" cy="268.6" r="11.8"/><circle cx="1118.0" cy="283.0" r="11.8"/><circle cx="1102.8" cy="253.8" r="11.8"/><circle cx="1106.5" cy="241.4" r="11.8"/><circle cx="1119.3" cy="304.6" r="11.8"/><circle cx="1120.3" cy="225.7" r="11.8"/><circle cx="1106.2" cy="257.6" r="11.8"/><circle cx="1106.4" cy="301.4" r="11.8"/><circle cx="1103.3" cy="257.1" r="11.8"/><circle cx="1118.7" cy="251.6" r="11.8"/><circle cx="1118.7" cy="253.2" r="11.8"/><circle cx="1119.6" cy="302.6" r="11.8"/><circle cx="1099.0" cy="303.2" r="11.8"/><circle cx="1115.5" cy="321.6" r="11.8"/><circle cx="1119.5" cy="274.4" r="11.8"/><circle cx="1100.3" cy="276.4" r="11.8"/><circle cx="1099.1" cy="215.8" r="11.8"/><circle cx="1114.2" cy="326.6" r="11.8"/><circle cx="1119.1" cy="261.4" r="11.8"/><circle cx="1114.0" cy="271.5" r="11.8"/><circle cx="1107.1" cy="207.1" r="11.8"/><circle cx="1115.5" cy="252.2" r="11.8"/></g>
<g fill="#ace9c6"><circle cx="1123.1" cy="265.0" r="11.8"/><circle cx="1144.1" cy="275.5" r="11.8"/><circle cx="1132.4" cy="247.0" r="11.8"/><circle cx="1128.5" cy="319.1" r="11.8"/><circle cx="1123.0" cy="206.3" r="11.8"/><circle cx="1146.6" cy="225.9" r="11.8"/><circle cx="1127.1" cy="289.4" r="11.8"/><circle cx="1126.3" cy="278.6" r="11.8"/><circle cx="1125.7" cy="218.8" r="11.8"/><circle cx="1130.9" cy="193.1" r="11.8"/><circle cx="1140.3" cy="218.6" r="11.8"/><circle cx="1129.6" cy="326.7" r="11.8"/><circle cx="1124.6" cy="256.7" r="11.8"/><circle cx="1146.0" cy="202.5" r="11.8"/><circle cx="1143.0" cy="247.2" r="11.8"/><circle cx="1139.3" cy="269.6" r="11.8"/><circle cx="1140.2" cy="284.4" r="11.8"/><circle cx="1135.5" cy="291.9" r="11.8"/><circle cx="1145.3" cy="223.6" r="11.8"/><circle cx="1131.3" cy="268.2" r="11.8"/><circle cx="1121.7" cy="222.4" r="11.8"/><circle cx="1127.4" cy="294.4" r="11.8"/><circle cx="1130.6" cy="266.1" r="11.8"/><circle cx="1125.8" cy="299.0" r="11.8"/><circle cx="1129.1" cy="311.8" r="11.8"/><circle cx="1124.8" cy="305.1" r="11.8"/><circle cx="1131.3" cy="279.1" r="11.8"/><circle cx="1132.2" cy="278.3" r="11.8"/><circle cx="1133.0" cy="244.9" r="11.8"/><circle cx="1146.2" cy="322.1" r="11.8"/><circle cx="1123.4" cy="265.1" r="11.8"/><circle cx="1129.9" cy="314.2" r="11.8"/><circle cx="1129.0" cy="251.8" r="11.8"/><circle cx="1122.1" cy="325.7" r="11.8"/></g>
<g fill="#9ae3d0"><circle cx="1160.0" cy="202.8" r="11.8"/><circle cx="1156.5" cy="256.3" r="11.8"/><circle cx="1158.7" cy="271.5" r="11.8"/><circle cx="1150.7" cy="272.9" r="11.8"/><circle cx="1172.2" cy="217.4" r="11.8"/><circle cx="1154.5" cy="316.6" r="11.8"/><circle cx="1155.5" cy="284.2" r="11.8"/><circle cx="1159.5" cy="270.5" r="11.8"/><circle cx="1162.7" cy="269.8" r="11.8"/><circle cx="1162.0" cy="199.5" r="11.8"/><circle cx="1162.3" cy="273.7" r="11.8"/><circle cx="1149.5" cy="290.0" r="11.8"/><circle cx="1171.7" cy="270.5" r="11.8"/><circle cx="1150.0" cy="312.7" r="11.8"/><circle cx="1149.4" cy="251.6" r="11.8"/><circle cx="1166.0" cy="228.6" r="11.8"/><circle cx="1151.0" cy="298.0" r="11.8"/><circle cx="1159.4" cy="317.9" r="11.8"/><circle cx="1149.8" cy="219.4" r="11.8"/><circle cx="1151.8" cy="230.4" r="11.8"/><circle cx="1167.9" cy="279.1" r="11.8"/><circle cx="1158.3" cy="223.9" r="11.8"/><circle cx="1152.4" cy="250.6" r="11.8"/><circle cx="1155.5" cy="224.3" r="11.8"/><circle cx="1147.0" cy="281.7" r="11.8"/><circle cx="1153.0" cy="320.2" r="11.8"/><circle cx="1159.9" cy="311.1" r="11.8"/><circle cx="1167.3" cy="249.1" r="11.8"/><circle cx="1158.7" cy="285.2" r="11.8"/><circle cx="1152.4" cy="241.2" r="11.8"/><circle cx="1156.1" cy="248.9" r="11.8"/><circle cx="1162.4" cy="202.4" r="11.8"/><circle cx="1158.2" cy="227.5" r="11.8"/><circle cx="1150.2" cy="180.9" r="11.8"/><circle cx="1154.7" cy="282.1" r="11.8"/><circle cx="1155.0" cy="318.4" r="11.8"/><circle cx="1165.0" cy="165.0" r="11.8"/><circle cx="1170.2" cy="219.1" r="11.8"/><circle cx="1150.5" cy="223.5" r="11.8"/><circle cx="1149.0" cy="313.1" r="11.8"/><circle cx="1169.8" cy="280.8" r="11.8"/><circle cx="1163.7" cy="309.8" r="11.8"/></g>
<g fill="#8adad4"><circle cx="1181.8" cy="254.8" r="11.8"/><circle cx="1192.1" cy="237.0" r="11.8"/><circle cx="1182.2" cy="317.6" r="11.8"/><circle cx="1188.4" cy="283.9" r="11.8"/><circle cx="1190.0" cy="172.0" r="11.8"/><circle cx="1193.0" cy="334.0" r="11.8"/><circle cx="1188.9" cy="310.1" r="11.8"/><circle cx="1181.9" cy="316.3" r="11.8"/><circle cx="1193.2" cy="224.6" r="11.8"/><circle cx="1180.7" cy="280.8" r="11.8"/><circle cx="1173.7" cy="283.6" r="11.8"/><circle cx="1194.8" cy="309.4" r="11.8"/><circle cx="1181.0" cy="160.0" r="11.8"/><circle cx="1179.1" cy="202.0" r="11.8"/><circle cx="1185.0" cy="219.0" r="11.8"/><circle cx="1186.5" cy="267.1" r="11.8"/><circle cx="1173.6" cy="259.7" r="11.8"/><circle cx="1174.7" cy="288.8" r="11.8"/><circle cx="1175.0" cy="228.0" r="11.8"/><circle cx="1187.1" cy="274.4" r="11.8"/><circle cx="1194.0" cy="98.0" r="11.8"/><circle cx="1195.8" cy="205.0" r="11.8"/><circle cx="1172.9" cy="283.0" r="11.8"/><circle cx="1180.2" cy="315.9" r="11.8"/><circle cx="1189.7" cy="265.8" r="11.8"/><circle cx="1186.7" cy="306.2" r="11.8"/><circle cx="1188.0" cy="76.0" r="11.8"/><circle cx="1175.8" cy="320.7" r="11.8"/><circle cx="1196.4" cy="203.7" r="11.8"/><circle cx="1183.0" cy="309.1" r="11.8"/><circle cx="1190.0" cy="237.1" r="11.8"/><circle cx="1184.3" cy="291.8" r="11.8"/><circle cx="1195.2" cy="210.3" r="11.8"/><circle cx="1188.9" cy="302.6" r="11.8"/></g>
<g fill="#82d3d5"><circle cx="1210.8" cy="342.0" r="11.8"/><circle cx="1217.8" cy="333.5" r="11.8"/><circle cx="1223.6" cy="329.2" r="11.8"/><circle cx="1221.6" cy="192.8" r="11.8"/><circle cx="1218.0" cy="162.0" r="11.8"/><circle cx="1222.4" cy="298.1" r="11.8"/><circle cx="1200.2" cy="327.1" r="11.8"/><circle cx="1216.0" cy="301.4" r="11.8"/><circle cx="1212.3" cy="316.2" r="11.8"/><circle cx="1201.1" cy="271.4" r="11.8"/><circle cx="1215.0" cy="150.0" r="11.8"/><circle cx="1211.9" cy="239.9" r="11.8"/><circle cx="1215.4" cy="258.5" r="11.8"/><circle cx="1198.1" cy="326.2" r="11.8"/><circle cx="1211.4" cy="202.0" r="11.8"/><circle cx="1201.1" cy="207.2" r="11.8"/><circle cx="1209.2" cy="218.6" r="11.8"/><circle cx="1203.0" cy="265.6" r="11.8"/><circle cx="1204.1" cy="337.6" r="11.8"/><circle cx="1210.8" cy="205.5" r="11.8"/><circle cx="1216.0" cy="330.8" r="11.8"/><circle cx="1200.5" cy="302.6" r="11.8"/><circle cx="1208.9" cy="206.5" r="11.8"/><circle cx="1217.1" cy="256.0" r="11.8"/><circle cx="1219.9" cy="340.7" r="11.8"/><circle cx="1203.0" cy="216.3" r="11.8"/><circle cx="1208.8" cy="337.7" r="11.8"/><circle cx="1213.3" cy="249.9" r="11.8"/><circle cx="1207.4" cy="314.0" r="11.8"/><circle cx="1207.4" cy="217.1" r="11.8"/><circle cx="1198.5" cy="312.2" r="11.8"/><circle cx="1221.4" cy="230.3" r="11.8"/><circle cx="1205.6" cy="314.6" r="11.8"/><circle cx="1221.7" cy="274.5" r="11.8"/><circle cx="1215.7" cy="223.6" r="11.8"/><circle cx="1214.6" cy="321.4" r="11.8"/><circle cx="1208.6" cy="279.4" r="11.8"/></g>
<g fill="#79cbd6"><circle cx="1225.0" cy="135.0" r="11.8"/><circle cx="1232.8" cy="219.3" r="11.8"/><circle cx="1246.0" cy="233.0" r="11.8"/><circle cx="1235.7" cy="321.4" r="11.8"/><circle cx="1230.8" cy="343.1" r="11.8"/><circle cx="1227.9" cy="214.0" r="11.8"/><circle cx="1247.0" cy="293.4" r="11.8"/><circle cx="1230.9" cy="335.4" r="11.8"/><circle cx="1241.7" cy="225.6" r="11.8"/><circle cx="1246.3" cy="270.8" r="11.8"/><circle cx="1237.7" cy="210.1" r="11.8"/><circle cx="1233.3" cy="264.3" r="11.8"/><circle cx="1241.6" cy="231.6" r="11.8"/><circle cx="1234.9" cy="266.4" r="11.8"/><circle cx="1234.4" cy="271.3" r="11.8"/><circle cx="1237.0" cy="225.4" r="11.8"/><circle cx="1239.6" cy="199.5" r="11.8"/><circle cx="1240.6" cy="207.1" r="11.8"/><circle cx="1243.4" cy="329.4" r="11.8"/><circle cx="1226.4" cy="273.0" r="11.8"/><circle cx="1236.6" cy="286.0" r="11.8"/><circle cx="1232.6" cy="301.9" r="11.8"/><circle cx="1226.4" cy="290.2" r="11.8"/><circle cx="1229.1" cy="229.5" r="11.8"/><circle cx="1247.0" cy="337.9" r="11.8"/><circle cx="1228.3" cy="253.6" r="11.8"/><circle cx="1225.3" cy="208.4" r="11.8"/><circle cx="1242.6" cy="221.0" r="11.8"/><circle cx="1246.6" cy="193.9" r="11.8"/><circle cx="1234.9" cy="338.7" r="11.8"/><circle cx="1238.5" cy="194.4" r="11.8"/><circle cx="1240.5" cy="204.4" r="11.8"/><circle cx="1233.2" cy="249.0" r="11.8"/><circle cx="1228.1" cy="286.4" r="11.8"/><circle cx="1236.3" cy="315.4" r="11.8"/><circle cx="1231.7" cy="251.9" r="11.8"/><circle cx="1228.9" cy="245.0" r="11.8"/><circle cx="1238.8" cy="300.9" r="11.8"/><circle cx="1233.3" cy="273.1" r="11.8"/><circle cx="1231.2" cy="311.1" r="11.8"/><circle cx="1225.8" cy="185.2" r="11.8"/><circle cx="1242.1" cy="233.7" r="11.8"/></g>
<g fill="#6ec1d4"><circle cx="1259.3" cy="230.9" r="11.8"/><circle cx="1273.9" cy="338.2" r="11.8"/><circle cx="1250.6" cy="210.2" r="11.8"/><circle cx="1263.2" cy="245.0" r="11.8"/><circle cx="1268.6" cy="287.7" r="11.8"/><circle cx="1259.7" cy="247.8" r="11.8"/><circle cx="1274.7" cy="277.4" r="11.8"/><circle cx="1273.7" cy="298.6" r="11.8"/><circle cx="1257.3" cy="255.6" r="11.8"/><circle cx="1258.0" cy="263.8" r="11.8"/><circle cx="1272.9" cy="219.2" r="11.8"/><circle cx="1268.3" cy="231.0" r="11.8"/><circle cx="1260.6" cy="333.1" r="11.8"/><circle cx="1254.3" cy="305.0" r="11.8"/><circle cx="1250.0" cy="150.0" r="11.8"/><circle cx="1251.8" cy="245.0" r="11.8"/><circle cx="1251.9" cy="277.1" r="11.8"/><circle cx="1271.8" cy="331.6" r="11.8"/><circle cx="1250.5" cy="324.6" r="11.8"/><circle cx="1249.4" cy="293.9" r="11.8"/><circle cx="1265.8" cy="313.1" r="11.8"/><circle cx="1261.7" cy="303.9" r="11.8"/><circle cx="1255.7" cy="258.3" r="11.8"/><circle cx="1257.2" cy="271.7" r="11.8"/><circle cx="1256.5" cy="252.8" r="11.8"/><circle cx="1269.6" cy="252.9" r="11.8"/><circle cx="1263.1" cy="240.5" r="11.8"/><circle cx="1269.4" cy="238.1" r="11.8"/><circle cx="1261.6" cy="244.9" r="11.8"/><circle cx="1268.9" cy="258.0" r="11.8"/><circle cx="1258.0" cy="289.9" r="11.8"/></g>
<g fill="#63b6d1"><circle cx="1296.6" cy="260.8" r="11.8"/><circle cx="1296.1" cy="296.6" r="11.8"/><circle cx="1290.8" cy="258.2" r="11.8"/><circle cx="1277.7" cy="255.7" r="11.8"/><circle cx="1285.0" cy="277.2" r="11.8"/><circle cx="1295.9" cy="304.3" r="11.8"/><circle cx="1286.2" cy="286.5" r="11.8"/><circle cx="1275.6" cy="233.0" r="11.8"/><circle cx="1278.4" cy="220.2" r="11.8"/><circle cx="1290.4" cy="292.9" r="11.8"/><circle cx="1290.9" cy="320.6" r="11.8"/><circle cx="1279.9" cy="257.9" r="11.8"/><circle cx="1274.9" cy="240.9" r="11.8"/><circle cx="1289.9" cy="311.5" r="11.8"/><circle cx="1298.7" cy="239.5" r="11.8"/><circle cx="1290.5" cy="254.4" r="11.8"/><circle cx="1298.2" cy="296.8" r="11.8"/><circle cx="1289.4" cy="268.3" r="11.8"/><circle cx="1277.1" cy="327.8" r="11.8"/><circle cx="1285.6" cy="253.7" r="11.8"/><circle cx="1286.6" cy="292.2" r="11.8"/><circle cx="1293.7" cy="272.7" r="11.8"/><circle cx="1291.0" cy="295.3" r="11.8"/><circle cx="1293.0" cy="333.0" r="11.8"/><circle cx="1275.6" cy="270.4" r="11.8"/><circle cx="1290.1" cy="329.1" r="11.8"/><circle cx="1299.3" cy="347.7" r="11.8"/><circle cx="1276.8" cy="336.5" r="11.8"/><circle cx="1288.8" cy="297.0" r="11.8"/><circle cx="1299.8" cy="261.7" r="11.8"/><circle cx="1278.2" cy="249.2" r="11.8"/><circle cx="1297.0" cy="271.0" r="11.8"/><circle cx="1297.4" cy="285.6" r="11.8"/><circle cx="1300.3" cy="292.6" r="11.8"/><circle cx="1290.5" cy="284.2" r="11.8"/><circle cx="1280.1" cy="311.6" r="11.8"/><circle cx="1295.2" cy="204.4" r="11.8"/><circle cx="1278.2" cy="257.1" r="11.8"/><circle cx="1298.4" cy="263.0" r="11.8"/><circle cx="1282.4" cy="302.7" r="11.8"/><circle cx="1275.0" cy="253.1" r="11.8"/><circle cx="1285.1" cy="252.2" r="11.8"/></g>
<g fill="#57a9cd"><circle cx="1323.2" cy="266.4" r="11.8"/><circle cx="1313.0" cy="213.2" r="11.8"/><circle cx="1309.6" cy="331.4" r="11.8"/><circle cx="1311.8" cy="334.4" r="11.8"/><circle cx="1320.0" cy="269.4" r="11.8"/><circle cx="1324.0" cy="272.1" r="11.8"/><circle cx="1316.9" cy="330.2" r="11.8"/><circle cx="1312.0" cy="219.3" r="11.8"/><circle cx="1322.6" cy="307.0" r="11.8"/><circle cx="1324.3" cy="269.4" r="11.8"/><circle cx="1305.6" cy="258.6" r="11.8"/><circle cx="1323.5" cy="339.4" r="11.8"/><circle cx="1323.0" cy="231.1" r="11.8"/><circle cx="1323.0" cy="325.8" r="11.8"/><circle cx="1314.7" cy="340.0" r="11.8"/><circle cx="1304.4" cy="250.3" r="11.8"/><circle cx="1318.7" cy="355.5" r="11.8"/><circle cx="1302.8" cy="298.5" r="11.8"/><circle cx="1300.7" cy="267.7" r="11.8"/><circle cx="1300.9" cy="295.9" r="11.8"/><circle cx="1319.1" cy="251.1" r="11.8"/><circle cx="1310.1" cy="319.2" r="11.8"/><circle cx="1318.2" cy="285.2" r="11.8"/><circle cx="1312.0" cy="284.8" r="11.8"/><circle cx="1320.7" cy="316.3" r="11.8"/><circle cx="1301.4" cy="334.1" r="11.8"/><circle cx="1311.7" cy="238.8" r="11.8"/><circle cx="1300.8" cy="311.3" r="11.8"/><circle cx="1325.0" cy="351.5" r="11.8"/><circle cx="1311.1" cy="329.0" r="11.8"/><circle cx="1317.5" cy="306.7" r="11.8"/><circle cx="1313.5" cy="253.0" r="11.8"/><circle cx="1304.4" cy="316.0" r="11.8"/><circle cx="1312.8" cy="261.8" r="11.8"/><circle cx="1324.9" cy="246.6" r="11.8"/><circle cx="1317.8" cy="328.7" r="11.8"/><circle cx="1302.0" cy="259.0" r="11.8"/><circle cx="1308.8" cy="308.9" r="11.8"/><circle cx="1325.4" cy="326.0" r="11.8"/><circle cx="1313.5" cy="339.8" r="11.8"/><circle cx="1315.7" cy="343.2" r="11.8"/><circle cx="1326.0" cy="289.4" r="11.8"/><circle cx="1306.1" cy="230.9" r="11.8"/><circle cx="1325.3" cy="257.6" r="11.8"/><circle cx="1325.1" cy="329.3" r="11.8"/></g>
<g fill="#4c9ec8"><circle cx="1348.4" cy="283.1" r="11.8"/><circle cx="1329.5" cy="212.5" r="11.8"/><circle cx="1345.4" cy="306.4" r="11.8"/><circle cx="1337.1" cy="254.6" r="11.8"/><circle cx="1336.5" cy="248.1" r="11.8"/><circle cx="1350.9" cy="348.6" r="11.8"/><circle cx="1344.1" cy="267.2" r="11.8"/><circle cx="1348.3" cy="297.8" r="11.8"/><circle cx="1347.5" cy="206.5" r="11.8"/><circle cx="1345.4" cy="312.0" r="11.8"/><circle cx="1332.1" cy="239.9" r="11.8"/><circle cx="1351.6" cy="323.5" r="11.8"/><circle cx="1346.3" cy="317.4" r="11.8"/><circle cx="1326.6" cy="333.1" r="11.8"/><circle cx="1344.9" cy="248.1" r="11.8"/><circle cx="1327.0" cy="295.6" r="11.8"/><circle cx="1338.7" cy="328.4" r="11.8"/><circle cx="1341.6" cy="264.5" r="11.8"/><circle cx="1345.7" cy="212.4" r="11.8"/><circle cx="1345.3" cy="289.3" r="11.8"/><circle cx="1336.3" cy="277.6" r="11.8"/><circle cx="1340.6" cy="211.3" r="11.8"/><circle cx="1343.3" cy="367.5" r="11.8"/><circle cx="1343.0" cy="280.3" r="11.8"/><circle cx="1351.1" cy="342.2" r="11.8"/><circle cx="1343.0" cy="326.1" r="11.8"/><circle cx="1344.5" cy="267.2" r="11.8"/><circle cx="1345.0" cy="298.6" r="11.8"/><circle cx="1330.4" cy="236.5" r="11.8"/><circle cx="1329.8" cy="364.4" r="11.8"/><circle cx="1343.9" cy="199.6" r="11.8"/><circle cx="1330.7" cy="307.0" r="11.8"/><circle cx="1348.9" cy="349.9" r="11.8"/><circle cx="1347.2" cy="243.6" r="11.8"/><circle cx="1337.8" cy="281.8" r="11.8"/><circle cx="1347.9" cy="215.2" r="11.8"/><circle cx="1333.2" cy="359.7" r="11.8"/><circle cx="1330.0" cy="301.4" r="11.8"/><circle cx="1345.0" cy="228.7" r="11.8"/><circle cx="1333.5" cy="318.9" r="11.8"/><circle cx="1350.1" cy="216.8" r="11.8"/><circle cx="1343.0" cy="364.1" r="11.8"/><circle cx="1344.5" cy="326.7" r="11.8"/><circle cx="1327.8" cy="352.2" r="11.8"/><circle cx="1350.3" cy="229.4" r="11.8"/><circle cx="1330.5" cy="238.1" r="11.8"/><circle cx="1338.6" cy="215.6" r="11.8"/></g>
<g fill="#4294c5"><circle cx="1366.1" cy="282.8" r="11.8"/><circle cx="1370.6" cy="330.0" r="11.8"/><circle cx="1364.2" cy="366.6" r="11.8"/><circle cx="1360.9" cy="333.4" r="11.8"/><circle cx="1357.5" cy="313.7" r="11.8"/><circle cx="1355.2" cy="233.5" r="11.8"/><circle cx="1360.7" cy="276.0" r="11.8"/><circle cx="1360.7" cy="227.9" r="11.8"/><circle cx="1352.1" cy="257.2" r="11.8"/><circle cx="1352.8" cy="320.3" r="11.8"/><circle cx="1373.1" cy="246.5" r="11.8"/><circle cx="1352.7" cy="339.6" r="11.8"/><circle cx="1362.2" cy="331.6" r="11.8"/><circle cx="1375.3" cy="303.6" r="11.8"/><circle cx="1365.0" cy="270.5" r="11.8"/><circle cx="1358.7" cy="302.3" r="11.8"/><circle cx="1365.9" cy="254.2" r="11.8"/><circle cx="1363.0" cy="222.5" r="11.8"/><circle cx="1373.6" cy="361.4" r="11.8"/><circle cx="1358.7" cy="212.6" r="11.8"/><circle cx="1370.0" cy="297.1" r="11.8"/><circle cx="1376.5" cy="286.5" r="11.8"/><circle cx="1351.7" cy="330.6" r="11.8"/><circle cx="1369.4" cy="265.5" r="11.8"/><circle cx="1363.3" cy="258.5" r="11.8"/><circle cx="1371.5" cy="278.7" r="11.8"/><circle cx="1353.8" cy="225.6" r="11.8"/><circle cx="1376.6" cy="259.0" r="11.8"/><circle cx="1356.9" cy="323.6" r="11.8"/><circle cx="1361.7" cy="249.8" r="11.8"/><circle cx="1352.0" cy="365.0" r="11.8"/><circle cx="1359.8" cy="366.0" r="11.8"/><circle cx="1357.6" cy="275.5" r="11.8"/><circle cx="1373.0" cy="269.6" r="11.8"/><circle cx="1369.0" cy="324.1" r="11.8"/><circle cx="1364.8" cy="308.0" r="11.8"/><circle cx="1376.8" cy="232.6" r="11.8"/><circle cx="1375.5" cy="344.4" r="11.8"/><circle cx="1376.9" cy="356.8" r="11.8"/><circle cx="1372.6" cy="322.6" r="11.8"/><circle cx="1361.0" cy="308.3" r="11.8"/><circle cx="1358.2" cy="344.9" r="11.8"/><circle cx="1355.8" cy="304.2" r="11.8"/><circle cx="1354.9" cy="314.9" r="11.8"/><circle cx="1353.5" cy="248.9" r="11.8"/><circle cx="1370.8" cy="315.5" r="11.8"/><circle cx="1356.5" cy="280.4" r="11.8"/><circle cx="1352.9" cy="360.5" r="11.8"/><circle cx="1361.9" cy="304.2" r="11.8"/><circle cx="1355.4" cy="250.3" r="11.8"/><circle cx="1364.0" cy="313.6" r="11.8"/><circle cx="1369.7" cy="310.9" r="11.8"/><circle cx="1354.8" cy="329.4" r="11.8"/><circle cx="1352.0" cy="200.7" r="11.8"/><circle cx="1365.4" cy="354.8" r="11.8"/><circle cx="1364.1" cy="255.0" r="11.8"/><circle cx="1368.3" cy="305.9" r="11.8"/><circle cx="1361.2" cy="323.2" r="11.8"/></g>
<g fill="#3d8ec2"><circle cx="1380.0" cy="248.5" r="11.8"/><circle cx="1398.4" cy="306.0" r="11.8"/><circle cx="1388.1" cy="360.6" r="11.8"/><circle cx="1395.6" cy="278.5" r="11.8"/><circle cx="1387.3" cy="352.6" r="11.8"/><circle cx="1383.1" cy="286.3" r="11.8"/><circle cx="1377.3" cy="238.8" r="11.8"/><circle cx="1396.0" cy="185.0" r="11.8"/><circle cx="1391.6" cy="365.5" r="11.8"/><circle cx="1402.0" cy="175.0" r="11.8"/><circle cx="1377.9" cy="334.0" r="11.8"/><circle cx="1399.1" cy="281.8" r="11.8"/><circle cx="1380.1" cy="265.2" r="11.8"/><circle cx="1402.3" cy="340.3" r="11.8"/><circle cx="1394.1" cy="267.9" r="11.8"/><circle cx="1397.8" cy="291.4" r="11.8"/><circle cx="1400.0" cy="160.0" r="11.8"/><circle cx="1395.7" cy="227.5" r="11.8"/><circle cx="1395.3" cy="318.9" r="11.8"/><circle cx="1386.4" cy="330.9" r="11.8"/><circle cx="1381.0" cy="343.0" r="11.8"/><circle cx="1395.3" cy="236.3" r="11.8"/><circle cx="1394.6" cy="286.5" r="11.8"/><circle cx="1394.1" cy="329.3" r="11.8"/><circle cx="1390.5" cy="319.8" r="11.8"/><circle cx="1388.5" cy="325.6" r="11.8"/><circle cx="1385.9" cy="353.2" r="11.8"/><circle cx="1389.1" cy="286.8" r="11.8"/><circle cx="1383.4" cy="360.3" r="11.8"/><circle cx="1397.8" cy="292.3" r="11.8"/><circle cx="1392.2" cy="316.2" r="11.8"/><circle cx="1393.9" cy="229.8" r="11.8"/><circle cx="1386.0" cy="324.3" r="11.8"/><circle cx="1392.6" cy="291.2" r="11.8"/><circle cx="1395.3" cy="328.9" r="11.8"/><circle cx="1391.2" cy="223.3" r="11.8"/><circle cx="1379.6" cy="348.6" r="11.8"/><circle cx="1384.0" cy="356.6" r="11.8"/><circle cx="1402.3" cy="217.5" r="11.8"/><circle cx="1399.9" cy="270.7" r="11.8"/><circle cx="1388.8" cy="352.6" r="11.8"/><circle cx="1401.4" cy="237.3" r="11.8"/><circle cx="1380.6" cy="317.4" r="11.8"/><circle cx="1391.5" cy="248.2" r="11.8"/><circle cx="1397.8" cy="339.7" r="11.8"/><circle cx="1395.8" cy="283.9" r="11.8"/><circle cx="1387.1" cy="293.5" r="11.8"/><circle cx="1379.9" cy="360.8" r="11.8"/><circle cx="1385.1" cy="250.2" r="11.8"/><circle cx="1385.0" cy="198.0" r="11.8"/><circle cx="1398.3" cy="225.8" r="11.8"/><circle cx="1399.7" cy="265.2" r="11.8"/></g>
<g fill="#3a89c0"><circle cx="1417.4" cy="302.1" r="11.8"/><circle cx="1424.6" cy="331.0" r="11.8"/><circle cx="1406.6" cy="316.3" r="11.8"/><circle cx="1411.1" cy="331.6" r="11.8"/><circle cx="1426.2" cy="266.5" r="11.8"/><circle cx="1424.2" cy="330.7" r="11.8"/><circle cx="1417.3" cy="343.3" r="11.8"/><circle cx="1419.5" cy="272.1" r="11.8"/><circle cx="1406.7" cy="244.0" r="11.8"/><circle cx="1417.1" cy="289.6" r="11.8"/><circle cx="1415.2" cy="302.3" r="11.8"/><circle cx="1420.5" cy="356.6" r="11.8"/><circle cx="1421.7" cy="330.4" r="11.8"/><circle cx="1428.3" cy="306.1" r="11.8"/><circle cx="1405.1" cy="300.1" r="11.8"/><circle cx="1409.8" cy="286.2" r="11.8"/><circle cx="1409.4" cy="338.6" r="11.8"/><circle cx="1420.0" cy="326.9" r="11.8"/><circle cx="1419.8" cy="336.1" r="11.8"/><circle cx="1412.0" cy="351.0" r="11.8"/><circle cx="1419.6" cy="324.6" r="11.8"/><circle cx="1420.0" cy="289.8" r="11.8"/><circle cx="1422.2" cy="366.1" r="11.8"/><circle cx="1421.0" cy="279.5" r="11.8"/><circle cx="1405.7" cy="236.1" r="11.8"/><circle cx="1421.4" cy="313.6" r="11.8"/><circle cx="1426.8" cy="326.6" r="11.8"/><circle cx="1409.6" cy="352.6" r="11.8"/><circle cx="1410.0" cy="200.0" r="11.8"/><circle cx="1405.1" cy="323.6" r="11.8"/><circle cx="1411.5" cy="310.6" r="11.8"/><circle cx="1405.3" cy="254.3" r="11.8"/><circle cx="1423.0" cy="348.3" r="11.8"/><circle cx="1412.1" cy="345.8" r="11.8"/><circle cx="1406.4" cy="255.7" r="11.8"/><circle cx="1411.4" cy="333.6" r="11.8"/><circle cx="1404.4" cy="360.2" r="11.8"/><circle cx="1407.0" cy="279.5" r="11.8"/><circle cx="1403.5" cy="354.2" r="11.8"/><circle cx="1422.9" cy="331.7" r="11.8"/><circle cx="1406.8" cy="320.8" r="11.8"/><circle cx="1408.4" cy="204.5" r="11.8"/><circle cx="1414.3" cy="328.9" r="11.8"/><circle cx="1426.4" cy="311.2" r="11.8"/><circle cx="1404.5" cy="327.0" r="11.8"/><circle cx="1414.0" cy="221.9" r="11.8"/><circle cx="1421.1" cy="266.1" r="11.8"/><circle cx="1411.1" cy="278.3" r="11.8"/><circle cx="1406.5" cy="239.8" r="11.8"/><circle cx="1419.4" cy="316.4" r="11.8"/><circle cx="1410.5" cy="292.9" r="11.8"/><circle cx="1425.3" cy="337.7" r="11.8"/><circle cx="1421.3" cy="356.4" r="11.8"/><circle cx="1407.0" cy="190.0" r="11.8"/></g>
<g fill="#3684be"><circle cx="1450.9" cy="254.2" r="11.8"/><circle cx="1442.4" cy="270.1" r="11.8"/><circle cx="1438.7" cy="274.2" r="11.8"/><circle cx="1433.9" cy="302.2" r="11.8"/><circle cx="1442.4" cy="309.4" r="11.8"/><circle cx="1448.2" cy="356.4" r="11.8"/><circle cx="1444.6" cy="362.3" r="11.8"/><circle cx="1440.9" cy="247.2" r="11.8"/><circle cx="1436.9" cy="344.6" r="11.8"/><circle cx="1438.8" cy="283.6" r="11.8"/><circle cx="1430.0" cy="238.5" r="11.8"/><circle cx="1448.1" cy="361.0" r="11.8"/><circle cx="1445.1" cy="280.6" r="11.8"/><circle cx="1447.3" cy="324.9" r="11.8"/><circle cx="1435.0" cy="270.9" r="11.8"/><circle cx="1433.3" cy="348.3" r="11.8"/><circle cx="1431.5" cy="291.0" r="11.8"/><circle cx="1448.6" cy="311.4" r="11.8"/><circle cx="1443.8" cy="261.0" r="11.8"/><circle cx="1437.8" cy="337.2" r="11.8"/><circle cx="1440.3" cy="300.6" r="11.8"/><circle cx="1429.2" cy="359.4" r="11.8"/><circle cx="1432.7" cy="362.3" r="11.8"/><circle cx="1434.7" cy="223.7" r="11.8"/><circle cx="1451.2" cy="294.6" r="11.8"/><circle cx="1429.2" cy="321.2" r="11.8"/><circle cx="1451.9" cy="255.3" r="11.8"/><circle cx="1432.4" cy="272.0" r="11.8"/><circle cx="1435.1" cy="346.2" r="11.8"/><circle cx="1434.8" cy="349.7" r="11.8"/><circle cx="1453.9" cy="243.0" r="11.8"/><circle cx="1432.4" cy="254.8" r="11.8"/><circle cx="1448.9" cy="235.7" r="11.8"/><circle cx="1438.5" cy="364.9" r="11.8"/><circle cx="1451.5" cy="295.5" r="11.8"/><circle cx="1435.2" cy="324.8" r="11.8"/><circle cx="1444.6" cy="277.6" r="11.8"/><circle cx="1443.4" cy="348.1" r="11.8"/><circle cx="1452.8" cy="241.2" r="11.8"/><circle cx="1431.9" cy="308.3" r="11.8"/><circle cx="1439.1" cy="316.6" r="11.8"/><circle cx="1443.3" cy="332.5" r="11.8"/><circle cx="1430.0" cy="313.1" r="11.8"/><circle cx="1452.1" cy="274.1" r="11.8"/><circle cx="1440.8" cy="233.8" r="11.8"/><circle cx="1436.7" cy="330.1" r="11.8"/><circle cx="1438.8" cy="268.6" r="11.8"/><circle cx="1443.1" cy="288.6" r="11.8"/><circle cx="1442.2" cy="351.2" r="11.8"/><circle cx="1451.0" cy="288.1" r="11.8"/><circle cx="1436.5" cy="286.7" r="11.8"/><circle cx="1432.1" cy="313.5" r="11.8"/><circle cx="1453.0" cy="359.8" r="11.8"/></g>
<g fill="#3881be"><circle cx="1462.3" cy="344.7" r="11.8"/><circle cx="1455.4" cy="241.1" r="11.8"/><circle cx="1469.9" cy="287.6" r="11.8"/><circle cx="1464.3" cy="309.7" r="11.8"/><circle cx="1455.2" cy="233.4" r="11.8"/><circle cx="1461.1" cy="301.0" r="11.8"/><circle cx="1456.1" cy="225.9" r="11.8"/><circle cx="1467.2" cy="344.6" r="11.8"/><circle cx="1457.5" cy="273.8" r="11.8"/><circle cx="1473.6" cy="342.0" r="11.8"/><circle cx="1469.3" cy="279.2" r="11.8"/><circle cx="1455.3" cy="362.3" r="11.8"/><circle cx="1470.9" cy="325.1" r="11.8"/><circle cx="1462.5" cy="261.1" r="11.8"/><circle cx="1470.6" cy="252.6" r="11.8"/><circle cx="1454.4" cy="273.4" r="11.8"/><circle cx="1479.4" cy="342.8" r="11.8"/><circle cx="1460.1" cy="261.6" r="11.8"/><circle cx="1465.6" cy="287.4" r="11.8"/><circle cx="1477.6" cy="259.5" r="11.8"/><circle cx="1467.6" cy="260.4" r="11.8"/><circle cx="1477.0" cy="321.3" r="11.8"/><circle cx="1472.6" cy="294.3" r="11.8"/><circle cx="1466.7" cy="271.0" r="11.8"/><circle cx="1471.2" cy="298.9" r="11.8"/><circle cx="1458.7" cy="304.3" r="11.8"/><circle cx="1472.1" cy="324.4" r="11.8"/><circle cx="1472.1" cy="266.0" r="11.8"/><circle cx="1461.7" cy="290.0" r="11.8"/><circle cx="1457.3" cy="341.8" r="11.8"/><circle cx="1471.3" cy="345.8" r="11.8"/><circle cx="1471.6" cy="304.9" r="11.8"/><circle cx="1466.5" cy="245.7" r="11.8"/><circle cx="1463.3" cy="235.0" r="11.8"/><circle cx="1470.0" cy="334.3" r="11.8"/><circle cx="1457.7" cy="227.6" r="11.8"/><circle cx="1454.4" cy="299.0" r="11.8"/><circle cx="1475.3" cy="344.2" r="11.8"/><circle cx="1475.2" cy="276.9" r="11.8"/><circle cx="1467.8" cy="229.5" r="11.8"/><circle cx="1475.6" cy="313.2" r="11.8"/><circle cx="1458.4" cy="300.2" r="11.8"/><circle cx="1465.0" cy="254.9" r="11.8"/><circle cx="1457.4" cy="270.4" r="11.8"/><circle cx="1454.3" cy="258.8" r="11.8"/><circle cx="1471.8" cy="270.1" r="11.8"/><circle cx="1459.1" cy="268.6" r="11.8"/><circle cx="1472.7" cy="311.3" r="11.8"/><circle cx="1463.3" cy="275.7" r="11.8"/><circle cx="1479.5" cy="273.2" r="11.8"/><circle cx="1468.3" cy="256.0" r="11.8"/><circle cx="1472.1" cy="293.7" r="11.8"/><circle cx="1478.7" cy="253.4" r="11.8"/><circle cx="1471.7" cy="239.5" r="11.8"/><circle cx="1466.7" cy="278.4" r="11.8"/><circle cx="1473.2" cy="285.9" r="11.8"/><circle cx="1474.6" cy="253.7" r="11.8"/><circle cx="1460.9" cy="323.8" r="11.8"/><circle cx="1477.5" cy="282.6" r="11.8"/></g>
<g fill="#3a7fbe"><circle cx="1483.1" cy="348.0" r="11.8"/><circle cx="1488.6" cy="250.0" r="11.8"/><circle cx="1496.1" cy="333.5" r="11.8"/><circle cx="1491.9" cy="324.4" r="11.8"/><circle cx="1489.1" cy="323.6" r="11.8"/><circle cx="1500.6" cy="347.7" r="11.8"/><circle cx="1480.2" cy="298.9" r="11.8"/><circle cx="1494.8" cy="245.8" r="11.8"/><circle cx="1501.9" cy="226.6" r="11.8"/><circle cx="1483.5" cy="348.4" r="11.8"/><circle cx="1480.9" cy="312.5" r="11.8"/><circle cx="1488.3" cy="362.8" r="11.8"/><circle cx="1495.7" cy="275.0" r="11.8"/><circle cx="1492.1" cy="320.1" r="11.8"/><circle cx="1492.6" cy="339.2" r="11.8"/><circle cx="1500.2" cy="354.5" r="11.8"/><circle cx="1491.2" cy="307.7" r="11.8"/><circle cx="1498.3" cy="240.6" r="11.8"/><circle cx="1484.7" cy="326.8" r="11.8"/><circle cx="1481.3" cy="299.0" r="11.8"/><circle cx="1487.0" cy="231.6" r="11.8"/><circle cx="1482.7" cy="251.7" r="11.8"/><circle cx="1480.0" cy="355.1" r="11.8"/><circle cx="1480.9" cy="260.6" r="11.8"/><circle cx="1495.5" cy="247.4" r="11.8"/><circle cx="1481.7" cy="280.6" r="11.8"/><circle cx="1488.6" cy="326.6" r="11.8"/><circle cx="1500.0" cy="243.8" r="11.8"/><circle cx="1494.3" cy="357.2" r="11.8"/><circle cx="1482.7" cy="325.4" r="11.8"/><circle cx="1480.6" cy="297.0" r="11.8"/><circle cx="1489.4" cy="271.3" r="11.8"/><circle cx="1494.6" cy="339.6" r="11.8"/><circle cx="1498.2" cy="294.9" r="11.8"/><circle cx="1496.6" cy="241.6" r="11.8"/><circle cx="1486.2" cy="348.1" r="11.8"/><circle cx="1487.1" cy="281.0" r="11.8"/><circle cx="1482.8" cy="319.9" r="11.8"/><circle cx="1480.3" cy="287.0" r="11.8"/><circle cx="1491.6" cy="315.0" r="11.8"/><circle cx="1482.5" cy="251.5" r="11.8"/><circle cx="1481.3" cy="214.7" r="11.8"/><circle cx="1490.2" cy="355.5" r="11.8"/><circle cx="1497.1" cy="323.2" r="11.8"/></g>
<g fill="#437fc0"><circle cx="1520.8" cy="300.0" r="11.8"/><circle cx="1527.0" cy="355.7" r="11.8"/><circle cx="1508.7" cy="252.4" r="11.8"/><circle cx="1509.9" cy="346.4" r="11.8"/><circle cx="1515.1" cy="356.3" r="11.8"/><circle cx="1522.2" cy="245.2" r="11.8"/><circle cx="1506.7" cy="349.8" r="11.8"/><circle cx="1507.6" cy="286.9" r="11.8"/><circle cx="1527.6" cy="319.3" r="11.8"/><circle cx="1518.1" cy="279.9" r="11.8"/><circle cx="1513.9" cy="240.7" r="11.8"/><circle cx="1518.6" cy="332.8" r="11.8"/><circle cx="1506.3" cy="329.8" r="11.8"/><circle cx="1508.3" cy="350.6" r="11.8"/><circle cx="1523.1" cy="347.6" r="11.8"/><circle cx="1523.8" cy="284.4" r="11.8"/><circle cx="1513.1" cy="319.5" r="11.8"/><circle cx="1526.3" cy="282.3" r="11.8"/><circle cx="1512.0" cy="300.7" r="11.8"/><circle cx="1512.1" cy="291.8" r="11.8"/><circle cx="1513.4" cy="323.5" r="11.8"/><circle cx="1513.7" cy="352.2" r="11.8"/></g>
<g fill="#4c80c2"><circle cx="1534.5" cy="319.8" r="11.8"/><circle cx="1538.5" cy="286.5" r="11.8"/><circle cx="1538.0" cy="338.2" r="11.8"/><circle cx="1535.1" cy="306.8" r="11.8"/><circle cx="1554.5" cy="302.5" r="11.8"/><circle cx="1532.8" cy="333.4" r="11.8"/><circle cx="1540.0" cy="315.8" r="11.8"/></g>
<g fill="#4d80c2"><circle cx="1576.0" cy="334.5" r="11.8"/><circle cx="1573.0" cy="313.0" r="11.8"/><circle cx="1568.0" cy="289.0" r="11.8"/></g>
<g fill="#4d81c3"><circle cx="1594.5" cy="334.5" r="11.8"/></g>
<g fill="#fcf0b2"><circle cx="854.8" cy="346.9" r="11.8"/></g>
<g fill="#fcf0b2"><circle cx="891.0" cy="330.0" r="11.8"/><circle cx="882.0" cy="350.0" r="11.8"/><circle cx="887.0" cy="308.4" r="11.8"/></g>
<g fill="#fcf0b2"><circle cx="914.0" cy="333.2" r="11.8"/><circle cx="907.5" cy="292.0" r="11.8"/><circle cx="911.7" cy="212.3" r="11.8"/><circle cx="899.6" cy="319.1" r="11.8"/><circle cx="914.7" cy="319.0" r="11.8"/><circle cx="902.6" cy="241.5" r="11.8"/><circle cx="911.1" cy="320.1" r="11.8"/><circle cx="898.1" cy="325.2" r="11.8"/><circle cx="898.2" cy="275.9" r="11.8"/><circle cx="899.0" cy="106.0" r="11.8"/><circle cx="900.8" cy="275.5" r="11.8"/><circle cx="895.5" cy="276.0" r="11.8"/></g>
<g fill="#fcf0b2"><circle cx="939.1" cy="331.2" r="11.8"/><circle cx="922.3" cy="307.2" r="11.8"/><circle cx="927.4" cy="262.7" r="11.8"/><circle cx="939.8" cy="320.9" r="11.8"/><circle cx="941.3" cy="267.1" r="11.8"/><circle cx="934.5" cy="307.7" r="11.8"/><circle cx="939.8" cy="312.9" r="11.8"/><circle cx="938.1" cy="315.3" r="11.8"/><circle cx="922.5" cy="276.8" r="11.8"/><circle cx="938.9" cy="344.8" r="11.8"/><circle cx="935.8" cy="326.3" r="11.8"/><circle cx="940.6" cy="228.9" r="11.8"/><circle cx="935.8" cy="298.2" r="11.8"/><circle cx="939.7" cy="351.8" r="11.8"/><circle cx="927.9" cy="223.1" r="11.8"/><circle cx="924.9" cy="272.3" r="11.8"/><circle cx="920.6" cy="308.6" r="11.8"/><circle cx="923.6" cy="324.9" r="11.8"/><circle cx="940.2" cy="246.9" r="11.8"/><circle cx="931.0" cy="233.0" r="11.8"/><circle cx="940.2" cy="281.8" r="11.8"/><circle cx="925.3" cy="247.7" r="11.8"/><circle cx="931.7" cy="222.6" r="11.8"/><circle cx="922.3" cy="279.2" r="11.8"/><circle cx="919.3" cy="234.9" r="11.8"/><circle cx="931.2" cy="343.4" r="11.8"/><circle cx="939.3" cy="244.4" r="11.8"/><circle cx="917.0" cy="280.7" r="11.8"/><circle cx="925.0" cy="253.5" r="11.8"/><circle cx="939.7" cy="321.2" r="11.8"/><circle cx="938.7" cy="231.6" r="11.8"/></g>
<g fill="#fcf0b2"><circle cx="947.1" cy="295.4" r="11.8"/><circle cx="947.9" cy="241.4" r="11.8"/><circle cx="958.3" cy="189.7" r="11.8"/><circle cx="956.6" cy="343.3" r="11.8"/><circle cx="955.2" cy="328.5" r="11.8"/><circle cx="943.1" cy="313.4" r="11.8"/><circle cx="965.2" cy="263.5" r="11.8"/><circle cx="963.7" cy="188.8" r="11.8"/><circle cx="956.9" cy="210.7" r="11.8"/><circle cx="967.3" cy="224.7" r="11.8"/><circle cx="958.2" cy="249.8" r="11.8"/><circle cx="943.9" cy="207.3" r="11.8"/><circle cx="961.4" cy="287.7" r="11.8"/><circle cx="947.8" cy="353.9" r="11.8"/><circle cx="957.7" cy="275.3" r="11.8"/><circle cx="958.6" cy="306.3" r="11.8"/><circle cx="966.7" cy="293.6" r="11.8"/><circle cx="967.5" cy="245.6" r="11.8"/><circle cx="960.2" cy="304.9" r="11.8"/><circle cx="964.5" cy="311.4" r="11.8"/><circle cx="945.3" cy="356.3" r="11.8"/><circle cx="947.1" cy="359.9" r="11.8"/><circle cx="946.4" cy="267.3" r="11.8"/><circle cx="945.6" cy="244.8" r="11.8"/><circle cx="958.8" cy="206.5" r="11.8"/><circle cx="966.9" cy="225.1" r="11.8"/><circle cx="959.1" cy="275.5" r="11.8"/><circle cx="965.9" cy="297.2" r="11.8"/><circle cx="955.2" cy="253.3" r="11.8"/><circle cx="960.5" cy="241.8" r="11.8"/><circle cx="953.2" cy="358.9" r="11.8"/><circle cx="950.3" cy="301.3" r="11.8"/><circle cx="944.4" cy="287.3" r="11.8"/><circle cx="956.7" cy="207.9" r="11.8"/><circle cx="951.0" cy="333.6" r="11.8"/><circle cx="952.0" cy="223.4" r="11.8"/><circle cx="943.4" cy="255.5" r="11.8"/><circle cx="950.1" cy="225.0" r="11.8"/><circle cx="965.9" cy="297.9" r="11.8"/><circle cx="948.6" cy="301.9" r="11.8"/><circle cx="964.4" cy="299.5" r="11.8"/><circle cx="960.8" cy="293.5" r="11.8"/><circle cx="950.7" cy="321.0" r="11.8"/><circle cx="964.7" cy="358.7" r="11.8"/></g>
<g fill="#fcf0b2"><circle cx="984.0" cy="200.1" r="11.8"/><circle cx="983.1" cy="173.9" r="11.8"/><circle cx="984.8" cy="271.6" r="11.8"/><circle cx="976.6" cy="343.8" r="11.8"/><circle cx="989.3" cy="231.3" r="11.8"/><circle cx="991.8" cy="205.3" r="11.8"/><circle cx="969.3" cy="175.4" r="11.8"/><circle cx="991.6" cy="236.2" r="11.8"/><circle cx="976.9" cy="261.3" r="11.8"/><circle cx="976.7" cy="280.5" r="11.8"/><circle cx="989.0" cy="340.3" r="11.8"/><circle cx="989.4" cy="303.0" r="11.8"/><circle cx="993.3" cy="328.9" r="11.8"/><circle cx="992.7" cy="306.9" r="11.8"/><circle cx="992.3" cy="358.5" r="11.8"/><circle cx="971.4" cy="238.1" r="11.8"/><circle cx="974.1" cy="251.1" r="11.8"/><circle cx="992.1" cy="240.9" r="11.8"/><circle cx="977.2" cy="212.7" r="11.8"/><circle cx="989.0" cy="137.0" r="11.8"/><circle cx="981.3" cy="268.2" r="11.8"/><circle cx="978.5" cy="281.3" r="11.8"/><circle cx="981.5" cy="357.6" r="11.8"/><circle cx="968.1" cy="196.5" r="11.8"/><circle cx="990.2" cy="178.8" r="11.8"/><circle cx="992.0" cy="156.0" r="11.8"/><circle cx="990.3" cy="324.3" r="11.8"/><circle cx="990.7" cy="322.4" r="11.8"/><circle cx="985.9" cy="346.4" r="11.8"/><circle cx="981.2" cy="181.2" r="11.8"/><circle cx="982.3" cy="170.6" r="11.8"/><circle cx="985.5" cy="256.7" r="11.8"/><circle cx="969.4" cy="239.8" r="11.8"/><circle cx="991.5" cy="191.6" r="11.8"/><circle cx="992.5" cy="212.1" r="11.8"/><circle cx="987.3" cy="228.3" r="11.8"/><circle cx="974.5" cy="270.5" r="11.8"/><circle cx="980.8" cy="273.6" r="11.8"/><circle cx="981.7" cy="278.6" r="11.8"/><circle cx="974.4" cy="319.0" r="11.8"/><circle cx="989.1" cy="297.4" r="11.8"/><circle cx="975.7" cy="332.2" r="11.8"/><circle cx="988.7" cy="344.4" r="11.8"/><circle cx="973.8" cy="206.4" r="11.8"/><circle cx="986.3" cy="345.7" r="11.8"/><circle cx="976.0" cy="249.6" r="11.8"/><circle cx="986.5" cy="187.8" r="11.8"/><circle cx="977.2" cy="325.3" r="11.8"/><circle cx="978.8" cy="187.2" r="11.8"/><circle cx="983.8" cy="348.1" r="11.8"/></g>
<g fill="#fcf0b2"><circle cx="1013.7" cy="271.6" r="11.8"/><circle cx="1005.1" cy="231.3" r="11.8"/><circle cx="1014.7" cy="202.2" r="11.8"/><circle cx="996.8" cy="348.5" r="11.8"/><circle cx="1015.2" cy="308.0" r="11.8"/><circle cx="1012.9" cy="325.8" r="11.8"/><circle cx="1010.4" cy="273.8" r="11.8"/><circle cx="1015.0" cy="232.2" r="11.8"/><circle cx="1016.3" cy="297.3" r="11.8"/><circle cx="1004.7" cy="352.1" r="11.8"/><circle cx="1010.6" cy="246.9" r="11.8"/><circle cx="1005.2" cy="229.4" r="11.8"/><circle cx="994.7" cy="347.4" r="11.8"/><circle cx="1014.3" cy="294.4" r="11.8"/><circle cx="998.8" cy="365.7" r="11.8"/><circle cx="1005.8" cy="289.0" r="11.8"/><circle cx="1011.9" cy="331.4" r="11.8"/><circle cx="1013.5" cy="293.9" r="11.8"/><circle cx="1012.9" cy="348.0" r="11.8"/><circle cx="1000.4" cy="314.8" r="11.8"/><circle cx="1006.4" cy="358.3" r="11.8"/><circle cx="993.6" cy="275.9" r="11.8"/><circle cx="999.3" cy="261.8" r="11.8"/><circle cx="995.9" cy="173.6" r="11.8"/><circle cx="1015.8" cy="225.3" r="11.8"/><circle cx="1000.6" cy="165.7" r="11.8"/><circle cx="1009.4" cy="320.0" r="11.8"/><circle cx="1011.2" cy="301.0" r="11.8"/><circle cx="1012.0" cy="280.3" r="11.8"/><circle cx="1003.3" cy="326.9" r="11.8"/><circle cx="1005.3" cy="221.9" r="11.8"/><circle cx="1012.8" cy="275.9" r="11.8"/><circle cx="1018.8" cy="319.8" r="11.8"/><circle cx="993.9" cy="210.8" r="11.8"/><circle cx="1011.6" cy="235.8" r="11.8"/><circle cx="1008.0" cy="238.4" r="11.8"/><circle cx="1008.4" cy="287.4" r="11.8"/><circle cx="993.7" cy="255.8" r="11.8"/><circle cx="1004.2" cy="257.8" r="11.8"/><circle cx="998.5" cy="306.1" r="11.8"/><circle cx="1015.9" cy="322.5" r="11.8"/><circle cx="999.9" cy="278.8" r="11.8"/><circle cx="1000.6" cy="353.7" r="11.8"/><circle cx="1001.7" cy="342.2" r="11.8"/><circle cx="1017.4" cy="314.5" r="11.8"/><circle cx="1005.9" cy="312.8" r="11.8"/><circle cx="1004.4" cy="280.1" r="11.8"/><circle cx="1017.2" cy="227.5" r="11.8"/><circle cx="1003.6" cy="245.2" r="11.8"/><circle cx="1016.3" cy="196.6" r="11.8"/><circle cx="1010.3" cy="344.2" r="11.8"/><circle cx="1004.9" cy="278.5" r="11.8"/><circle cx="997.0" cy="301.3" r="11.8"/><circle cx="1007.6" cy="196.7" r="11.8"/><circle cx="1009.0" cy="246.1" r="11.8"/><circle cx="1011.4" cy="196.9" r="11.8"/><circle cx="1010.0" cy="294.0" r="11.8"/><circle cx="1014.8" cy="303.1" r="11.8"/><circle cx="1011.9" cy="203.0" r="11.8"/><circle cx="1017.3" cy="226.4" r="11.8"/><circle cx="1006.6" cy="193.8" r="11.8"/><circle cx="993.4" cy="336.7" r="11.8"/></g>
<g fill="#fcf0b2"><circle cx="1044.1" cy="240.5" r="11.8"/><circle cx="1021.6" cy="291.4" r="11.8"/><circle cx="1039.5" cy="333.1" r="11.8"/><circle cx="1042.1" cy="340.3" r="11.8"/><circle cx="1043.2" cy="229.3" r="11.8"/><circle cx="1040.3" cy="261.4" r="11.8"/><circle cx="1034.6" cy="340.2" r="11.8"/><circle cx="1044.5" cy="200.5" r="11.8"/><circle cx="1024.1" cy="276.6" r="11.8"/><circle cx="1021.9" cy="284.6" r="11.8"/><circle cx="1035.9" cy="264.0" r="11.8"/><circle cx="1020.6" cy="262.6" r="11.8"/><circle cx="1029.0" cy="212.1" r="11.8"/><circle cx="1032.1" cy="214.7" r="11.8"/><circle cx="1021.6" cy="324.0" r="11.8"/><circle cx="1024.5" cy="312.8" r="11.8"/><circle cx="1038.6" cy="222.6" r="11.8"/><circle cx="1025.6" cy="214.6" r="11.8"/><circle cx="1034.4" cy="187.3" r="11.8"/><circle cx="1021.8" cy="227.7" r="11.8"/><circle cx="1040.7" cy="311.7" r="11.8"/><circle cx="1021.5" cy="289.0" r="11.8"/><circle cx="1027.3" cy="346.2" r="11.8"/><circle cx="1020.3" cy="276.4" r="11.8"/><circle cx="1022.3" cy="277.6" r="11.8"/><circle cx="1034.0" cy="185.7" r="11.8"/><circle cx="1026.6" cy="221.4" r="11.8"/><circle cx="1024.1" cy="288.8" r="11.8"/><circle cx="1031.4" cy="242.0" r="11.8"/><circle cx="1042.5" cy="208.8" r="11.8"/><circle cx="1032.3" cy="238.7" r="11.8"/><circle cx="1035.6" cy="283.6" r="11.8"/><circle cx="1041.1" cy="309.2" r="11.8"/><circle cx="1024.5" cy="344.2" r="11.8"/><circle cx="1031.4" cy="237.1" r="11.8"/><circle cx="1025.0" cy="197.9" r="11.8"/><circle cx="1019.7" cy="216.9" r="11.8"/><circle cx="1038.2" cy="287.8" r="11.8"/><circle cx="1029.9" cy="258.6" r="11.8"/><circle cx="1020.8" cy="305.7" r="11.8"/><circle cx="1020.1" cy="345.1" r="11.8"/><circle cx="1027.9" cy="193.4" r="11.8"/><circle cx="1034.4" cy="245.8" r="11.8"/><circle cx="1034.9" cy="325.6" r="11.8"/><circle cx="1043.4" cy="268.3" r="11.8"/><circle cx="1043.9" cy="247.6" r="11.8"/><circle cx="1028.7" cy="207.8" r="11.8"/><circle cx="1039.2" cy="264.5" r="11.8"/><circle cx="1036.2" cy="303.4" r="11.8"/><circle cx="1021.6" cy="255.3" r="11.8"/><circle cx="1032.5" cy="324.6" r="11.8"/><circle cx="1029.4" cy="250.8" r="11.8"/><circle cx="1029.8" cy="295.5" r="11.8"/><circle cx="1038.5" cy="339.0" r="11.8"/><circle cx="1021.2" cy="325.0" r="11.8"/></g>
<g fill="#f3f0b3"><circle cx="1063.9" cy="332.7" r="11.8"/><circle cx="1068.8" cy="247.7" r="11.8"/><circle cx="1055.2" cy="311.2" r="11.8"/><circle cx="1063.7" cy="301.8" r="11.8"/><circle cx="1062.1" cy="297.3" r="11.8"/><circle cx="1054.3" cy="297.6" r="11.8"/><circle cx="1054.5" cy="343.2" r="11.8"/><circle cx="1052.5" cy="323.6" r="11.8"/><circle cx="1059.4" cy="286.5" r="11.8"/><circle cx="1060.7" cy="285.9" r="11.8"/><circle cx="1046.6" cy="344.6" r="11.8"/><circle cx="1048.8" cy="206.4" r="11.8"/><circle cx="1049.5" cy="233.7" r="11.8"/><circle cx="1049.6" cy="336.6" r="11.8"/><circle cx="1067.5" cy="172.3" r="11.8"/><circle cx="1069.8" cy="317.9" r="11.8"/><circle cx="1050.2" cy="330.5" r="11.8"/><circle cx="1063.0" cy="182.4" r="11.8"/><circle cx="1045.1" cy="312.0" r="11.8"/><circle cx="1055.5" cy="242.5" r="11.8"/><circle cx="1050.1" cy="309.8" r="11.8"/><circle cx="1055.4" cy="173.6" r="11.8"/><circle cx="1054.8" cy="193.5" r="11.8"/><circle cx="1057.7" cy="279.0" r="11.8"/><circle cx="1060.2" cy="330.0" r="11.8"/><circle cx="1065.3" cy="335.3" r="11.8"/><circle cx="1048.6" cy="241.6" r="11.8"/><circle cx="1048.2" cy="237.5" r="11.8"/><circle cx="1056.8" cy="210.9" r="11.8"/><circle cx="1063.7" cy="244.8" r="11.8"/><circle cx="1054.8" cy="330.9" r="11.8"/><circle cx="1057.4" cy="183.7" r="11.8"/><circle cx="1069.0" cy="276.3" r="11.8"/><circle cx="1052.6" cy="250.0" r="11.8"/><circle cx="1069.1" cy="271.6" r="11.8"/><circle cx="1060.5" cy="238.1" r="11.8"/><circle cx="1053.8" cy="268.1" r="11.8"/><circle cx="1066.6" cy="228.8" r="11.8"/><circle cx="1055.1" cy="317.0" r="11.8"/><circle cx="1064.1" cy="250.0" r="11.8"/><circle cx="1059.9" cy="283.5" r="11.8"/><circle cx="1057.0" cy="235.8" r="11.8"/><circle cx="1055.9" cy="257.3" r="11.8"/><circle cx="1066.1" cy="206.1" r="11.8"/><circle cx="1052.8" cy="333.7" r="11.8"/><circle cx="1064.2" cy="227.1" r="11.8"/><circle cx="1059.8" cy="299.5" r="11.8"/><circle cx="1047.7" cy="284.4" r="11.8"/><circle cx="1058.2" cy="311.4" r="11.8"/><circle cx="1062.3" cy="249.4" r="11.8"/></g>
<g fill="#e1efb5"><circle cx="1074.6" cy="242.2" r="11.8"/><circle cx="1087.7" cy="240.9" r="11.8"/><circle cx="1086.6" cy="244.5" r="11.8"/><circle cx="1078.1" cy="257.7" r="11.8"/><circle cx="1079.3" cy="319.7" r="11.8"/><circle cx="1076.9" cy="178.6" r="11.8"/><circle cx="1076.5" cy="241.7" r="11.8"/><circle cx="1077.4" cy="254.9" r="11.8"/><circle cx="1085.3" cy="239.8" r="11.8"/><circle cx="1092.7" cy="281.4" r="11.8"/><circle cx="1081.3" cy="200.7" r="11.8"/><circle cx="1076.9" cy="232.2" r="11.8"/><circle cx="1091.1" cy="220.8" r="11.8"/><circle cx="1086.0" cy="320.4" r="11.8"/><circle cx="1082.7" cy="235.6" r="11.8"/><circle cx="1082.2" cy="252.2" r="11.8"/><circle cx="1090.5" cy="208.2" r="11.8"/><circle cx="1070.9" cy="205.8" r="11.8"/><circle cx="1090.0" cy="328.0" r="11.8"/><circle cx="1070.4" cy="220.2" r="11.8"/><circle cx="1091.1" cy="290.0" r="11.8"/><circle cx="1086.6" cy="186.3" r="11.8"/><circle cx="1088.4" cy="236.6" r="11.8"/><circle cx="1070.9" cy="250.5" r="11.8"/><circle cx="1077.9" cy="240.0" r="11.8"/><circle cx="1084.5" cy="233.3" r="11.8"/><circle cx="1073.0" cy="230.0" r="11.8"/><circle cx="1087.0" cy="289.9" r="11.8"/><circle cx="1075.0" cy="315.4" r="11.8"/><circle cx="1087.9" cy="255.5" r="11.8"/><circle cx="1078.1" cy="181.4" r="11.8"/><circle cx="1088.6" cy="318.1" r="11.8"/><circle cx="1086.5" cy="246.1" r="11.8"/><circle cx="1085.1" cy="283.9" r="11.8"/><circle cx="1073.8" cy="260.7" r="11.8"/><circle cx="1078.3" cy="197.6" r="11.8"/><circle cx="1085.0" cy="323.1" r="11.8"/><circle cx="1070.4" cy="306.2" r="11.8"/><circle cx="1072.6" cy="306.6" r="11.8"/><circle cx="1084.2" cy="321.6" r="11.8"/><circle cx="1091.2" cy="182.8" r="11.8"/><circle cx="1089.9" cy="232.2" r="11.8"/><circle cx="1091.9" cy="301.0" r="11.8"/><circle cx="1093.5" cy="250.5" r="11.8"/></g>
<g fill="#c7edb9"><circle cx="1099.6" cy="189.0" r="11.8"/><circle cx="1108.3" cy="198.3" r="11.8"/><circle cx="1110.7" cy="261.2" r="11.8"/><circle cx="1121.0" cy="270.4" r="11.8"/><circle cx="1120.9" cy="310.4" r="11.8"/><circle cx="1096.8" cy="246.7" r="11.8"/><circle cx="1100.2" cy="233.3" r="11.8"/><circle cx="1100.8" cy="242.6" r="11.8"/><circle cx="1110.2" cy="279.6" r="11.8"/><circle cx="1120.7" cy="300.2" r="11.8"/><circle cx="1116.8" cy="313.1" r="11.8"/><circle cx="1096.2" cy="281.1" r="11.8"/><circle cx="1117.1" cy="259.7" r="11.8"/><circle cx="1101.1" cy="244.9" r="11.8"/><circle cx="1115.6" cy="209.5" r="11.8"/><circle cx="1121.2" cy="272.6" r="11.8"/><circle cx="1102.4" cy="284.9" r="11.8"/><circle cx="1119.8" cy="200.0" r="11.8"/><circle cx="1104.3" cy="259.7" r="11.8"/><circle cx="1113.7" cy="327.7" r="11.8"/><circle cx="1113.0" cy="188.7" r="11.8"/><circle cx="1109.0" cy="292.4" r="11.8"/><circle cx="1110.8" cy="282.2" r="11.8"/><circle cx="1116.8" cy="233.3" r="11.8"/><circle cx="1112.0" cy="311.6" r="11.8"/><circle cx="1101.6" cy="288.7" r="11.8"/><circle cx="1111.4" cy="285.6" r="11.8"/><circle cx="1104.4" cy="290.0" r="11.8"/><circle cx="1108.9" cy="238.2" r="11.8"/><circle cx="1102.9" cy="265.3" r="11.8"/><circle cx="1115.8" cy="306.2" r="11.8"/><circle cx="1106.1" cy="216.1" r="11.8"/><circle cx="1106.7" cy="181.5" r="11.8"/><circle cx="1101.2" cy="317.2" r="11.8"/><circle cx="1106.1" cy="261.9" r="11.8"/><circle cx="1104.5" cy="254.6" r="11.8"/><circle cx="1114.3" cy="270.6" r="11.8"/><circle cx="1110.0" cy="270.7" r="11.8"/></g>
<g fill="#ace9c6"><circle cx="1127.3" cy="260.6" r="11.8"/><circle cx="1143.6" cy="170.0" r="11.8"/><circle cx="1124.1" cy="217.4" r="11.8"/><circle cx="1123.9" cy="240.1" r="11.8"/><circle cx="1138.0" cy="196.9" r="11.8"/><circle cx="1122.3" cy="325.6" r="11.8"/><circle cx="1139.3" cy="219.3" r="11.8"/><circle cx="1136.5" cy="294.7" r="11.8"/><circle cx="1124.2" cy="234.8" r="11.8"/><circle cx="1131.8" cy="251.2" r="11.8"/><circle cx="1139.5" cy="237.2" r="11.8"/><circle cx="1122.1" cy="254.4" r="11.8"/><circle cx="1131.5" cy="251.9" r="11.8"/><circle cx="1136.1" cy="224.0" r="11.8"/><circle cx="1138.6" cy="275.9" r="11.8"/><circle cx="1134.3" cy="274.2" r="11.8"/><circle cx="1145.6" cy="244.2" r="11.8"/><circle cx="1137.8" cy="275.7" r="11.8"/><circle cx="1144.2" cy="212.7" r="11.8"/><circle cx="1129.0" cy="206.9" r="11.8"/><circle cx="1144.9" cy="249.7" r="11.8"/><circle cx="1123.3" cy="268.6" r="11.8"/><circle cx="1122.0" cy="326.8" r="11.8"/><circle cx="1135.9" cy="221.6" r="11.8"/><circle cx="1125.1" cy="179.1" r="11.8"/><circle cx="1131.5" cy="177.0" r="11.8"/><circle cx="1141.9" cy="317.0" r="11.8"/><circle cx="1135.7" cy="206.4" r="11.8"/><circle cx="1141.4" cy="205.5" r="11.8"/><circle cx="1145.6" cy="295.6" r="11.8"/><circle cx="1134.6" cy="254.9" r="11.8"/><circle cx="1135.9" cy="254.5" r="11.8"/><circle cx="1131.2" cy="190.3" r="11.8"/></g>
<g fill="#9ae3d0"><circle cx="1169.5" cy="196.2" r="11.8"/><circle cx="1170.0" cy="256.3" r="11.8"/><circle cx="1158.3" cy="197.4" r="11.8"/><circle cx="1161.3" cy="284.9" r="11.8"/><circle cx="1171.5" cy="267.4" r="11.8"/><circle cx="1152.4" cy="229.4" r="11.8"/><circle cx="1150.3" cy="266.9" r="11.8"/><circle cx="1154.1" cy="262.7" r="11.8"/><circle cx="1159.2" cy="286.5" r="11.8"/><circle cx="1158.6" cy="225.7" r="11.8"/><circle cx="1171.2" cy="285.9" r="11.8"/><circle cx="1162.7" cy="307.2" r="11.8"/><circle cx="1153.9" cy="238.1" r="11.8"/><circle cx="1155.4" cy="250.9" r="11.8"/><circle cx="1156.5" cy="240.2" r="11.8"/><circle cx="1161.6" cy="316.2" r="11.8"/><circle cx="1147.1" cy="291.7" r="11.8"/><circle cx="1158.5" cy="282.7" r="11.8"/><circle cx="1165.7" cy="273.1" r="11.8"/><circle cx="1154.2" cy="297.0" r="11.8"/><circle cx="1172.3" cy="297.9" r="11.8"/><circle cx="1160.1" cy="239.5" r="11.8"/><circle cx="1157.9" cy="298.5" r="11.8"/><circle cx="1147.9" cy="199.8" r="11.8"/><circle cx="1169.5" cy="232.3" r="11.8"/><circle cx="1151.8" cy="302.2" r="11.8"/><circle cx="1155.6" cy="322.0" r="11.8"/><circle cx="1160.9" cy="187.3" r="11.8"/><circle cx="1158.2" cy="230.7" r="11.8"/><circle cx="1150.0" cy="135.0" r="11.8"/><circle cx="1157.2" cy="208.6" r="11.8"/><circle cx="1150.6" cy="282.1" r="11.8"/><circle cx="1165.6" cy="304.6" r="11.8"/><circle cx="1161.6" cy="265.6" r="11.8"/><circle cx="1166.2" cy="306.6" r="11.8"/><circle cx="1162.7" cy="257.7" r="11.8"/><circle cx="1153.3" cy="205.7" r="11.8"/><circle cx="1159.3" cy="308.4" r="11.8"/><circle cx="1163.0" cy="308.4" r="11.8"/><circle cx="1172.0" cy="88.0" r="11.8"/><circle cx="1148.9" cy="173.1" r="11.8"/><circle cx="1162.0" cy="278.9" r="11.8"/></g>
<g fill="#8adad4"><circle cx="1186.6" cy="249.7" r="11.8"/><circle cx="1193.7" cy="310.7" r="11.8"/><circle cx="1197.1" cy="316.0" r="11.8"/><circle cx="1177.0" cy="298.4" r="11.8"/><circle cx="1183.2" cy="242.9" r="11.8"/><circle cx="1177.5" cy="267.5" r="11.8"/><circle cx="1196.5" cy="287.2" r="11.8"/><circle cx="1194.5" cy="291.4" r="11.8"/><circle cx="1182.3" cy="321.1" r="11.8"/><circle cx="1185.2" cy="263.8" r="11.8"/><circle cx="1186.4" cy="219.2" r="11.8"/><circle cx="1179.8" cy="296.7" r="11.8"/><circle cx="1186.5" cy="289.9" r="11.8"/><circle cx="1196.6" cy="234.7" r="11.8"/><circle cx="1182.9" cy="290.6" r="11.8"/><circle cx="1184.2" cy="275.0" r="11.8"/><circle cx="1184.3" cy="242.9" r="11.8"/><circle cx="1172.8" cy="200.5" r="11.8"/><circle cx="1177.5" cy="314.6" r="11.8"/><circle cx="1182.2" cy="322.3" r="11.8"/><circle cx="1196.3" cy="282.5" r="11.8"/><circle cx="1188.2" cy="208.6" r="11.8"/><circle cx="1173.1" cy="319.3" r="11.8"/><circle cx="1191.0" cy="301.8" r="11.8"/><circle cx="1176.5" cy="267.2" r="11.8"/><circle cx="1194.5" cy="279.2" r="11.8"/><circle cx="1180.0" cy="125.0" r="11.8"/><circle cx="1180.0" cy="305.9" r="11.8"/><circle cx="1176.0" cy="150.0" r="11.8"/><circle cx="1183.0" cy="318.5" r="11.8"/><circle cx="1178.7" cy="272.1" r="11.8"/><circle cx="1177.8" cy="285.0" r="11.8"/><circle cx="1196.2" cy="253.3" r="11.8"/><circle cx="1187.4" cy="218.8" r="11.8"/></g>
<g fill="#82d3d5"><circle cx="1199.3" cy="203.7" r="11.8"/><circle cx="1222.9" cy="257.9" r="11.8"/><circle cx="1213.8" cy="245.4" r="11.8"/><circle cx="1212.8" cy="330.7" r="11.8"/><circle cx="1203.6" cy="320.7" r="11.8"/><circle cx="1211.0" cy="330.6" r="11.8"/><circle cx="1222.0" cy="315.9" r="11.8"/><circle cx="1200.0" cy="243.6" r="11.8"/><circle cx="1202.0" cy="272.9" r="11.8"/><circle cx="1201.6" cy="235.7" r="11.8"/><circle cx="1205.2" cy="311.5" r="11.8"/><circle cx="1199.7" cy="260.7" r="11.8"/><circle cx="1205.5" cy="217.7" r="11.8"/><circle cx="1201.9" cy="274.8" r="11.8"/><circle cx="1209.1" cy="329.5" r="11.8"/><circle cx="1206.8" cy="316.9" r="11.8"/><circle cx="1210.0" cy="110.0" r="11.8"/><circle cx="1209.7" cy="276.2" r="11.8"/><circle cx="1206.1" cy="283.2" r="11.8"/><circle cx="1222.6" cy="239.9" r="11.8"/><circle cx="1218.6" cy="228.6" r="11.8"/><circle cx="1201.6" cy="212.4" r="11.8"/><circle cx="1205.4" cy="237.3" r="11.8"/><circle cx="1210.9" cy="294.9" r="11.8"/><circle cx="1210.8" cy="304.1" r="11.8"/><circle cx="1223.6" cy="340.9" r="11.8"/><circle cx="1219.8" cy="318.4" r="11.8"/><circle cx="1209.8" cy="203.1" r="11.8"/><circle cx="1203.4" cy="337.7" r="11.8"/><circle cx="1219.7" cy="240.1" r="11.8"/><circle cx="1199.5" cy="291.7" r="11.8"/><circle cx="1219.9" cy="244.6" r="11.8"/><circle cx="1218.5" cy="274.2" r="11.8"/><circle cx="1202.0" cy="319.6" r="11.8"/><circle cx="1222.8" cy="308.7" r="11.8"/><circle cx="1216.4" cy="255.8" r="11.8"/><circle cx="1205.0" cy="168.0" r="11.8"/></g>
<g fill="#79cbd6"><circle cx="1247.3" cy="194.6" r="11.8"/><circle cx="1241.5" cy="230.8" r="11.8"/><circle cx="1226.6" cy="206.3" r="11.8"/><circle cx="1231.6" cy="242.0" r="11.8"/><circle cx="1248.7" cy="240.6" r="11.8"/><circle cx="1225.9" cy="207.1" r="11.8"/><circle cx="1229.8" cy="263.8" r="11.8"/><circle cx="1231.6" cy="337.2" r="11.8"/><circle cx="1247.1" cy="289.2" r="11.8"/><circle cx="1248.0" cy="257.0" r="11.8"/><circle cx="1248.0" cy="112.0" r="11.8"/><circle cx="1236.1" cy="242.3" r="11.8"/><circle cx="1229.7" cy="253.2" r="11.8"/><circle cx="1243.6" cy="263.4" r="11.8"/><circle cx="1230.5" cy="324.8" r="11.8"/><circle cx="1235.7" cy="271.6" r="11.8"/><circle cx="1239.3" cy="232.2" r="11.8"/><circle cx="1227.0" cy="190.3" r="11.8"/><circle cx="1242.1" cy="279.3" r="11.8"/><circle cx="1248.7" cy="267.3" r="11.8"/><circle cx="1226.2" cy="306.1" r="11.8"/><circle cx="1240.0" cy="140.0" r="11.8"/><circle cx="1228.0" cy="72.0" r="11.8"/><circle cx="1239.4" cy="232.2" r="11.8"/><circle cx="1228.6" cy="203.7" r="11.8"/><circle cx="1242.4" cy="335.8" r="11.8"/><circle cx="1247.9" cy="309.9" r="11.8"/><circle cx="1226.8" cy="246.3" r="11.8"/><circle cx="1231.0" cy="316.5" r="11.8"/><circle cx="1236.5" cy="277.6" r="11.8"/><circle cx="1234.6" cy="256.3" r="11.8"/><circle cx="1228.8" cy="236.0" r="11.8"/><circle cx="1224.5" cy="250.9" r="11.8"/><circle cx="1243.3" cy="317.4" r="11.8"/><circle cx="1231.7" cy="280.1" r="11.8"/><circle cx="1234.0" cy="120.0" r="11.8"/><circle cx="1239.5" cy="221.0" r="11.8"/><circle cx="1243.7" cy="332.3" r="11.8"/><circle cx="1230.1" cy="233.2" r="11.8"/><circle cx="1229.6" cy="284.8" r="11.8"/><circle cx="1249.0" cy="286.7" r="11.8"/><circle cx="1227.3" cy="217.6" r="11.8"/></g>
<g fill="#6ec1d4"><circle cx="1272.3" cy="300.2" r="11.8"/><circle cx="1269.4" cy="198.2" r="11.8"/><circle cx="1256.1" cy="262.1" r="11.8"/><circle cx="1272.3" cy="301.9" r="11.8"/><circle cx="1270.9" cy="332.7" r="11.8"/><circle cx="1269.4" cy="340.3" r="11.8"/><circle cx="1271.4" cy="223.5" r="11.8"/><circle cx="1267.3" cy="339.4" r="11.8"/><circle cx="1268.2" cy="299.6" r="11.8"/><circle cx="1265.3" cy="309.1" r="11.8"/><circle cx="1269.6" cy="346.5" r="11.8"/><circle cx="1269.9" cy="302.3" r="11.8"/><circle cx="1273.1" cy="244.1" r="11.8"/><circle cx="1265.2" cy="300.3" r="11.8"/><circle cx="1253.0" cy="227.7" r="11.8"/><circle cx="1260.5" cy="195.3" r="11.8"/><circle cx="1250.1" cy="298.1" r="11.8"/><circle cx="1258.3" cy="229.4" r="11.8"/><circle cx="1255.7" cy="264.0" r="11.8"/><circle cx="1257.9" cy="246.5" r="11.8"/><circle cx="1273.0" cy="279.9" r="11.8"/><circle cx="1272.6" cy="211.5" r="11.8"/><circle cx="1270.6" cy="334.3" r="11.8"/><circle cx="1256.9" cy="261.1" r="11.8"/><circle cx="1268.0" cy="221.0" r="11.8"/><circle cx="1268.5" cy="216.6" r="11.8"/><circle cx="1254.3" cy="213.3" r="11.8"/><circle cx="1249.4" cy="229.8" r="11.8"/><circle cx="1249.3" cy="296.2" r="11.8"/><circle cx="1272.6" cy="314.5" r="11.8"/><circle cx="1267.5" cy="212.9" r="11.8"/></g>
<g fill="#63b6d1"><circle cx="1279.4" cy="266.5" r="11.8"/><circle cx="1288.8" cy="275.8" r="11.8"/><circle cx="1294.3" cy="339.9" r="11.8"/><circle cx="1289.1" cy="294.5" r="11.8"/><circle cx="1298.3" cy="249.8" r="11.8"/><circle cx="1298.1" cy="250.7" r="11.8"/><circle cx="1297.4" cy="295.1" r="11.8"/><circle cx="1279.1" cy="307.0" r="11.8"/><circle cx="1297.3" cy="237.5" r="11.8"/><circle cx="1296.7" cy="265.3" r="11.8"/><circle cx="1294.7" cy="238.4" r="11.8"/><circle cx="1283.6" cy="229.6" r="11.8"/><circle cx="1278.7" cy="327.0" r="11.8"/><circle cx="1294.8" cy="342.8" r="11.8"/><circle cx="1289.8" cy="281.6" r="11.8"/><circle cx="1289.7" cy="287.0" r="11.8"/><circle cx="1279.5" cy="234.1" r="11.8"/><circle cx="1289.5" cy="243.6" r="11.8"/><circle cx="1277.6" cy="246.5" r="11.8"/><circle cx="1279.2" cy="271.4" r="11.8"/><circle cx="1288.5" cy="331.6" r="11.8"/><circle cx="1275.1" cy="268.9" r="11.8"/><circle cx="1283.4" cy="236.8" r="11.8"/><circle cx="1288.1" cy="342.3" r="11.8"/><circle cx="1298.9" cy="238.8" r="11.8"/><circle cx="1282.8" cy="214.7" r="11.8"/><circle cx="1296.1" cy="277.7" r="11.8"/><circle cx="1281.3" cy="275.1" r="11.8"/><circle cx="1285.6" cy="195.9" r="11.8"/><circle cx="1278.4" cy="273.0" r="11.8"/><circle cx="1281.0" cy="279.3" r="11.8"/><circle cx="1299.5" cy="256.4" r="11.8"/><circle cx="1284.8" cy="273.2" r="11.8"/><circle cx="1283.0" cy="223.0" r="11.8"/><circle cx="1287.6" cy="324.7" r="11.8"/><circle cx="1299.5" cy="275.1" r="11.8"/><circle cx="1282.2" cy="295.4" r="11.8"/><circle cx="1292.5" cy="231.9" r="11.8"/><circle cx="1293.7" cy="233.1" r="11.8"/><circle cx="1295.4" cy="242.9" r="11.8"/><circle cx="1292.5" cy="319.5" r="11.8"/></g>
<g fill="#57a9cd"><circle cx="1311.0" cy="289.5" r="11.8"/><circle cx="1317.8" cy="289.8" r="11.8"/><circle cx="1323.9" cy="325.1" r="11.8"/><circle cx="1322.6" cy="300.9" r="11.8"/><circle cx="1324.5" cy="312.3" r="11.8"/><circle cx="1312.1" cy="270.6" r="11.8"/><circle cx="1315.7" cy="283.3" r="11.8"/><circle cx="1324.7" cy="284.5" r="11.8"/><circle cx="1312.4" cy="308.8" r="11.8"/><circle cx="1307.3" cy="345.2" r="11.8"/><circle cx="1305.5" cy="301.0" r="11.8"/><circle cx="1309.1" cy="297.4" r="11.8"/><circle cx="1314.3" cy="278.0" r="11.8"/><circle cx="1322.9" cy="353.4" r="11.8"/><circle cx="1325.2" cy="271.0" r="11.8"/><circle cx="1301.4" cy="249.7" r="11.8"/><circle cx="1306.4" cy="287.2" r="11.8"/><circle cx="1307.7" cy="303.6" r="11.8"/><circle cx="1307.6" cy="240.9" r="11.8"/><circle cx="1324.3" cy="308.6" r="11.8"/><circle cx="1313.8" cy="314.2" r="11.8"/><circle cx="1305.0" cy="305.6" r="11.8"/><circle cx="1305.7" cy="214.4" r="11.8"/><circle cx="1321.7" cy="265.6" r="11.8"/><circle cx="1310.0" cy="304.1" r="11.8"/><circle cx="1312.2" cy="265.7" r="11.8"/><circle cx="1316.7" cy="266.8" r="11.8"/><circle cx="1303.0" cy="276.5" r="11.8"/><circle cx="1309.4" cy="312.1" r="11.8"/><circle cx="1301.8" cy="288.0" r="11.8"/><circle cx="1312.7" cy="312.0" r="11.8"/><circle cx="1319.5" cy="282.8" r="11.8"/><circle cx="1312.8" cy="282.7" r="11.8"/><circle cx="1317.6" cy="275.7" r="11.8"/><circle cx="1308.6" cy="284.3" r="11.8"/><circle cx="1323.6" cy="324.7" r="11.8"/><circle cx="1319.0" cy="317.4" r="11.8"/><circle cx="1323.7" cy="358.0" r="11.8"/><circle cx="1323.9" cy="302.5" r="11.8"/><circle cx="1306.3" cy="332.4" r="11.8"/><circle cx="1318.5" cy="209.1" r="11.8"/><circle cx="1303.4" cy="278.0" r="11.8"/><circle cx="1315.5" cy="242.9" r="11.8"/><circle cx="1313.8" cy="240.7" r="11.8"/><circle cx="1303.5" cy="318.2" r="11.8"/></g>
<g fill="#4c9ec8"><circle cx="1337.5" cy="295.2" r="11.8"/><circle cx="1337.1" cy="352.3" r="11.8"/><circle cx="1339.0" cy="236.1" r="11.8"/><circle cx="1331.9" cy="344.0" r="11.8"/><circle cx="1348.3" cy="342.9" r="11.8"/><circle cx="1337.2" cy="232.5" r="11.8"/><circle cx="1349.3" cy="338.0" r="11.8"/><circle cx="1333.6" cy="271.1" r="11.8"/><circle cx="1327.5" cy="217.8" r="11.8"/><circle cx="1334.7" cy="314.8" r="11.8"/><circle cx="1345.4" cy="268.2" r="11.8"/><circle cx="1339.0" cy="215.5" r="11.8"/><circle cx="1339.3" cy="275.0" r="11.8"/><circle cx="1350.9" cy="239.7" r="11.8"/><circle cx="1345.8" cy="274.4" r="11.8"/><circle cx="1342.9" cy="357.9" r="11.8"/><circle cx="1347.6" cy="257.5" r="11.8"/><circle cx="1336.9" cy="329.8" r="11.8"/><circle cx="1343.8" cy="316.2" r="11.8"/><circle cx="1337.3" cy="303.8" r="11.8"/><circle cx="1336.2" cy="279.9" r="11.8"/><circle cx="1336.0" cy="244.4" r="11.8"/><circle cx="1338.0" cy="310.7" r="11.8"/><circle cx="1345.8" cy="277.8" r="11.8"/><circle cx="1328.3" cy="347.9" r="11.8"/><circle cx="1332.9" cy="274.5" r="11.8"/><circle cx="1349.7" cy="298.1" r="11.8"/><circle cx="1327.2" cy="274.6" r="11.8"/><circle cx="1351.0" cy="264.2" r="11.8"/><circle cx="1346.9" cy="218.0" r="11.8"/><circle cx="1346.8" cy="304.2" r="11.8"/><circle cx="1339.7" cy="310.5" r="11.8"/><circle cx="1347.6" cy="308.1" r="11.8"/><circle cx="1330.6" cy="251.1" r="11.8"/><circle cx="1339.3" cy="224.0" r="11.8"/><circle cx="1346.5" cy="353.3" r="11.8"/><circle cx="1337.9" cy="295.2" r="11.8"/><circle cx="1348.9" cy="328.3" r="11.8"/><circle cx="1326.7" cy="341.3" r="11.8"/><circle cx="1334.5" cy="277.9" r="11.8"/><circle cx="1338.6" cy="249.4" r="11.8"/><circle cx="1328.2" cy="250.8" r="11.8"/><circle cx="1328.6" cy="310.6" r="11.8"/><circle cx="1331.7" cy="333.5" r="11.8"/><circle cx="1329.5" cy="256.8" r="11.8"/><circle cx="1339.6" cy="212.5" r="11.8"/><circle cx="1343.0" cy="331.8" r="11.8"/></g>
<g fill="#4294c5"><circle cx="1359.5" cy="270.4" r="11.8"/><circle cx="1362.4" cy="310.6" r="11.8"/><circle cx="1367.6" cy="346.8" r="11.8"/><circle cx="1354.1" cy="273.7" r="11.8"/><circle cx="1368.1" cy="318.8" r="11.8"/><circle cx="1363.2" cy="290.7" r="11.8"/><circle cx="1352.4" cy="299.0" r="11.8"/><circle cx="1354.9" cy="303.0" r="11.8"/><circle cx="1369.0" cy="308.1" r="11.8"/><circle cx="1352.1" cy="301.4" r="11.8"/><circle cx="1369.9" cy="329.9" r="11.8"/><circle cx="1364.3" cy="305.9" r="11.8"/><circle cx="1370.1" cy="280.5" r="11.8"/><circle cx="1365.6" cy="358.2" r="11.8"/><circle cx="1352.0" cy="299.3" r="11.8"/><circle cx="1365.9" cy="352.4" r="11.8"/><circle cx="1364.7" cy="323.9" r="11.8"/><circle cx="1357.3" cy="204.4" r="11.8"/><circle cx="1364.9" cy="366.8" r="11.8"/><circle cx="1371.5" cy="306.4" r="11.8"/><circle cx="1364.2" cy="202.7" r="11.8"/><circle cx="1359.4" cy="249.2" r="11.8"/><circle cx="1361.9" cy="283.6" r="11.8"/><circle cx="1364.7" cy="248.6" r="11.8"/><circle cx="1354.6" cy="324.6" r="11.8"/><circle cx="1375.1" cy="334.4" r="11.8"/><circle cx="1353.8" cy="207.1" r="11.8"/><circle cx="1372.0" cy="244.8" r="11.8"/><circle cx="1371.0" cy="336.3" r="11.8"/><circle cx="1360.8" cy="349.1" r="11.8"/><circle cx="1357.3" cy="323.1" r="11.8"/><circle cx="1358.2" cy="342.8" r="11.8"/><circle cx="1357.4" cy="344.3" r="11.8"/><circle cx="1357.9" cy="246.3" r="11.8"/><circle cx="1362.1" cy="245.0" r="11.8"/><circle cx="1373.7" cy="279.9" r="11.8"/><circle cx="1369.3" cy="282.7" r="11.8"/><circle cx="1352.6" cy="254.0" r="11.8"/><circle cx="1373.5" cy="357.3" r="11.8"/><circle cx="1371.6" cy="319.5" r="11.8"/><circle cx="1355.7" cy="312.8" r="11.8"/><circle cx="1361.0" cy="226.8" r="11.8"/><circle cx="1364.4" cy="263.2" r="11.8"/><circle cx="1356.0" cy="259.2" r="11.8"/><circle cx="1373.0" cy="312.5" r="11.8"/><circle cx="1352.7" cy="363.0" r="11.8"/><circle cx="1364.2" cy="289.8" r="11.8"/><circle cx="1370.0" cy="332.2" r="11.8"/><circle cx="1366.2" cy="237.6" r="11.8"/><circle cx="1355.3" cy="350.4" r="11.8"/><circle cx="1374.2" cy="361.1" r="11.8"/><circle cx="1368.9" cy="344.6" r="11.8"/><circle cx="1360.8" cy="231.2" r="11.8"/><circle cx="1370.0" cy="338.3" r="11.8"/><circle cx="1372.2" cy="362.9" r="11.8"/><circle cx="1361.9" cy="305.9" r="11.8"/><circle cx="1354.2" cy="325.8" r="11.8"/><circle cx="1359.8" cy="311.3" r="11.8"/></g>
<g fill="#3d8ec2"><circle cx="1382.7" cy="366.2" r="11.8"/><circle cx="1385.4" cy="295.8" r="11.8"/><circle cx="1398.7" cy="303.6" r="11.8"/><circle cx="1395.2" cy="291.7" r="11.8"/><circle cx="1400.8" cy="255.9" r="11.8"/><circle cx="1394.0" cy="243.7" r="11.8"/><circle cx="1382.0" cy="235.1" r="11.8"/><circle cx="1391.2" cy="356.2" r="11.8"/><circle cx="1396.3" cy="273.1" r="11.8"/><circle cx="1401.6" cy="338.7" r="11.8"/><circle cx="1377.3" cy="355.8" r="11.8"/><circle cx="1389.9" cy="324.6" r="11.8"/><circle cx="1382.9" cy="282.0" r="11.8"/><circle cx="1389.9" cy="348.3" r="11.8"/><circle cx="1390.8" cy="307.5" r="11.8"/><circle cx="1388.4" cy="304.3" r="11.8"/><circle cx="1399.2" cy="278.3" r="11.8"/><circle cx="1392.7" cy="348.0" r="11.8"/><circle cx="1390.2" cy="350.9" r="11.8"/><circle cx="1391.5" cy="312.7" r="11.8"/><circle cx="1393.6" cy="359.7" r="11.8"/><circle cx="1381.2" cy="283.3" r="11.8"/><circle cx="1382.4" cy="328.1" r="11.8"/><circle cx="1401.3" cy="251.0" r="11.8"/><circle cx="1399.7" cy="341.1" r="11.8"/><circle cx="1391.8" cy="322.6" r="11.8"/><circle cx="1380.9" cy="319.3" r="11.8"/><circle cx="1380.7" cy="268.7" r="11.8"/><circle cx="1378.8" cy="362.4" r="11.8"/><circle cx="1396.0" cy="198.9" r="11.8"/><circle cx="1401.4" cy="296.6" r="11.8"/><circle cx="1402.5" cy="346.1" r="11.8"/><circle cx="1399.2" cy="285.7" r="11.8"/><circle cx="1382.7" cy="318.5" r="11.8"/><circle cx="1400.6" cy="297.1" r="11.8"/><circle cx="1389.6" cy="360.2" r="11.8"/><circle cx="1391.2" cy="317.7" r="11.8"/><circle cx="1392.0" cy="152.0" r="11.8"/><circle cx="1395.8" cy="335.3" r="11.8"/><circle cx="1395.6" cy="252.0" r="11.8"/><circle cx="1382.3" cy="302.2" r="11.8"/><circle cx="1390.0" cy="348.1" r="11.8"/><circle cx="1399.8" cy="240.6" r="11.8"/><circle cx="1394.4" cy="349.0" r="11.8"/><circle cx="1382.6" cy="248.8" r="11.8"/><circle cx="1388.0" cy="244.3" r="11.8"/><circle cx="1380.7" cy="310.1" r="11.8"/><circle cx="1384.6" cy="335.0" r="11.8"/><circle cx="1391.3" cy="297.2" r="11.8"/><circle cx="1381.6" cy="325.0" r="11.8"/><circle cx="1398.0" cy="219.9" r="11.8"/></g>
<g fill="#3a89c0"><circle cx="1427.0" cy="323.4" r="11.8"/><circle cx="1407.8" cy="301.9" r="11.8"/><circle cx="1403.0" cy="296.7" r="11.8"/><circle cx="1422.8" cy="257.5" r="11.8"/><circle cx="1420.6" cy="298.0" r="11.8"/><circle cx="1405.5" cy="316.7" r="11.8"/><circle cx="1412.9" cy="259.4" r="11.8"/><circle cx="1408.1" cy="325.7" r="11.8"/><circle cx="1405.3" cy="319.4" r="11.8"/><circle cx="1416.3" cy="330.7" r="11.8"/><circle cx="1425.2" cy="297.7" r="11.8"/><circle cx="1425.3" cy="328.4" r="11.8"/><circle cx="1420.8" cy="221.0" r="11.8"/><circle cx="1427.6" cy="298.4" r="11.8"/><circle cx="1417.0" cy="333.1" r="11.8"/><circle cx="1421.2" cy="320.9" r="11.8"/><circle cx="1412.3" cy="214.2" r="11.8"/><circle cx="1424.0" cy="337.8" r="11.8"/><circle cx="1426.2" cy="272.5" r="11.8"/><circle cx="1419.1" cy="309.4" r="11.8"/><circle cx="1405.1" cy="364.9" r="11.8"/><circle cx="1413.5" cy="270.2" r="11.8"/><circle cx="1407.8" cy="223.3" r="11.8"/><circle cx="1415.3" cy="287.4" r="11.8"/><circle cx="1412.9" cy="252.5" r="11.8"/><circle cx="1406.5" cy="366.1" r="11.8"/><circle cx="1423.2" cy="346.8" r="11.8"/><circle cx="1404.5" cy="267.7" r="11.8"/><circle cx="1409.0" cy="267.8" r="11.8"/><circle cx="1404.2" cy="247.4" r="11.8"/><circle cx="1424.8" cy="353.4" r="11.8"/><circle cx="1406.6" cy="314.3" r="11.8"/><circle cx="1403.2" cy="271.7" r="11.8"/><circle cx="1423.5" cy="282.6" r="11.8"/><circle cx="1421.9" cy="243.4" r="11.8"/><circle cx="1408.4" cy="290.8" r="11.8"/><circle cx="1415.4" cy="274.3" r="11.8"/><circle cx="1408.4" cy="294.7" r="11.8"/><circle cx="1424.7" cy="244.4" r="11.8"/><circle cx="1412.9" cy="340.3" r="11.8"/><circle cx="1419.9" cy="349.1" r="11.8"/><circle cx="1426.9" cy="317.4" r="11.8"/><circle cx="1421.5" cy="296.6" r="11.8"/><circle cx="1422.1" cy="282.7" r="11.8"/><circle cx="1407.6" cy="362.8" r="11.8"/><circle cx="1426.1" cy="286.7" r="11.8"/><circle cx="1418.9" cy="241.9" r="11.8"/><circle cx="1412.4" cy="312.3" r="11.8"/><circle cx="1416.1" cy="341.3" r="11.8"/><circle cx="1425.7" cy="354.1" r="11.8"/><circle cx="1410.0" cy="356.0" r="11.8"/><circle cx="1414.3" cy="245.9" r="11.8"/><circle cx="1406.2" cy="302.7" r="11.8"/><circle cx="1409.0" cy="282.5" r="11.8"/></g>
<g fill="#3684be"><circle cx="1429.0" cy="330.0" r="11.8"/><circle cx="1438.8" cy="333.1" r="11.8"/><circle cx="1453.5" cy="278.2" r="11.8"/><circle cx="1449.1" cy="335.9" r="11.8"/><circle cx="1453.5" cy="358.0" r="11.8"/><circle cx="1439.1" cy="354.6" r="11.8"/><circle cx="1430.5" cy="262.8" r="11.8"/><circle cx="1433.7" cy="263.5" r="11.8"/><circle cx="1447.8" cy="326.5" r="11.8"/><circle cx="1432.1" cy="262.2" r="11.8"/><circle cx="1435.0" cy="268.0" r="11.8"/><circle cx="1434.9" cy="257.5" r="11.8"/><circle cx="1450.0" cy="285.6" r="11.8"/><circle cx="1433.1" cy="293.0" r="11.8"/><circle cx="1450.3" cy="281.9" r="11.8"/><circle cx="1448.5" cy="256.6" r="11.8"/><circle cx="1438.0" cy="338.6" r="11.8"/><circle cx="1443.2" cy="261.5" r="11.8"/><circle cx="1452.6" cy="337.3" r="11.8"/><circle cx="1435.5" cy="239.2" r="11.8"/><circle cx="1450.1" cy="325.5" r="11.8"/><circle cx="1451.9" cy="359.1" r="11.8"/><circle cx="1446.7" cy="236.5" r="11.8"/><circle cx="1432.5" cy="275.4" r="11.8"/><circle cx="1448.7" cy="341.7" r="11.8"/><circle cx="1441.9" cy="327.2" r="11.8"/><circle cx="1433.7" cy="333.2" r="11.8"/><circle cx="1448.0" cy="235.8" r="11.8"/><circle cx="1431.2" cy="364.6" r="11.8"/><circle cx="1441.1" cy="245.7" r="11.8"/><circle cx="1438.7" cy="342.3" r="11.8"/><circle cx="1451.0" cy="289.5" r="11.8"/><circle cx="1450.4" cy="316.2" r="11.8"/><circle cx="1440.9" cy="275.1" r="11.8"/><circle cx="1440.0" cy="339.8" r="11.8"/><circle cx="1432.8" cy="303.6" r="11.8"/><circle cx="1442.2" cy="252.0" r="11.8"/><circle cx="1449.1" cy="297.8" r="11.8"/><circle cx="1444.8" cy="359.6" r="11.8"/><circle cx="1442.6" cy="310.9" r="11.8"/><circle cx="1438.9" cy="255.2" r="11.8"/><circle cx="1428.9" cy="297.2" r="11.8"/><circle cx="1428.9" cy="268.3" r="11.8"/><circle cx="1452.6" cy="293.3" r="11.8"/><circle cx="1443.3" cy="264.3" r="11.8"/><circle cx="1441.2" cy="353.8" r="11.8"/><circle cx="1439.6" cy="272.0" r="11.8"/><circle cx="1431.0" cy="254.0" r="11.8"/><circle cx="1436.3" cy="259.2" r="11.8"/><circle cx="1437.7" cy="361.0" r="11.8"/><circle cx="1439.3" cy="302.0" r="11.8"/><circle cx="1438.2" cy="347.5" r="11.8"/><circle cx="1446.9" cy="217.9" r="11.8"/></g>
<g fill="#3881be"><circle cx="1456.9" cy="353.4" r="11.8"/><circle cx="1469.6" cy="243.7" r="11.8"/><circle cx="1460.3" cy="355.5" r="11.8"/><circle cx="1457.0" cy="354.2" r="11.8"/><circle cx="1476.4" cy="254.5" r="11.8"/><circle cx="1473.4" cy="353.0" r="11.8"/><circle cx="1455.4" cy="327.5" r="11.8"/><circle cx="1473.7" cy="339.2" r="11.8"/><circle cx="1472.5" cy="356.0" r="11.8"/><circle cx="1467.0" cy="315.6" r="11.8"/><circle cx="1473.3" cy="308.7" r="11.8"/><circle cx="1472.6" cy="276.7" r="11.8"/><circle cx="1468.0" cy="306.6" r="11.8"/><circle cx="1467.4" cy="351.7" r="11.8"/><circle cx="1459.2" cy="325.4" r="11.8"/><circle cx="1463.5" cy="293.9" r="11.8"/><circle cx="1463.4" cy="333.1" r="11.8"/><circle cx="1456.2" cy="324.6" r="11.8"/><circle cx="1462.8" cy="245.2" r="11.8"/><circle cx="1461.5" cy="248.5" r="11.8"/><circle cx="1467.4" cy="356.1" r="11.8"/><circle cx="1455.5" cy="295.4" r="11.8"/><circle cx="1464.6" cy="248.6" r="11.8"/><circle cx="1472.5" cy="217.6" r="11.8"/><circle cx="1454.3" cy="311.7" r="11.8"/><circle cx="1462.0" cy="315.9" r="11.8"/><circle cx="1467.7" cy="268.7" r="11.8"/><circle cx="1458.9" cy="213.1" r="11.8"/><circle cx="1465.4" cy="285.6" r="11.8"/><circle cx="1478.9" cy="338.8" r="11.8"/><circle cx="1457.4" cy="297.6" r="11.8"/><circle cx="1460.8" cy="287.5" r="11.8"/><circle cx="1465.1" cy="314.8" r="11.8"/><circle cx="1476.7" cy="277.3" r="11.8"/><circle cx="1475.6" cy="272.9" r="11.8"/><circle cx="1474.9" cy="322.6" r="11.8"/><circle cx="1462.9" cy="359.3" r="11.8"/><circle cx="1476.1" cy="332.0" r="11.8"/><circle cx="1470.5" cy="273.3" r="11.8"/><circle cx="1465.2" cy="213.4" r="11.8"/><circle cx="1468.7" cy="283.1" r="11.8"/><circle cx="1466.0" cy="352.6" r="11.8"/><circle cx="1459.3" cy="352.9" r="11.8"/><circle cx="1463.1" cy="257.1" r="11.8"/><circle cx="1476.6" cy="286.7" r="11.8"/><circle cx="1469.4" cy="346.1" r="11.8"/><circle cx="1464.1" cy="313.2" r="11.8"/><circle cx="1465.4" cy="273.5" r="11.8"/><circle cx="1466.1" cy="314.7" r="11.8"/><circle cx="1476.8" cy="346.9" r="11.8"/><circle cx="1459.3" cy="328.7" r="11.8"/><circle cx="1472.9" cy="361.2" r="11.8"/><circle cx="1467.1" cy="270.8" r="11.8"/><circle cx="1462.3" cy="226.2" r="11.8"/><circle cx="1473.6" cy="299.9" r="11.8"/><circle cx="1473.7" cy="272.4" r="11.8"/><circle cx="1476.9" cy="339.1" r="11.8"/><circle cx="1454.9" cy="286.1" r="11.8"/></g>
<g fill="#3a7fbe"><circle cx="1480.3" cy="293.7" r="11.8"/><circle cx="1500.7" cy="322.3" r="11.8"/><circle cx="1489.5" cy="267.6" r="11.8"/><circle cx="1491.4" cy="277.7" r="11.8"/><circle cx="1495.8" cy="319.8" r="11.8"/><circle cx="1489.0" cy="307.9" r="11.8"/><circle cx="1486.6" cy="307.4" r="11.8"/><circle cx="1496.2" cy="225.4" r="11.8"/><circle cx="1501.8" cy="325.3" r="11.8"/><circle cx="1491.0" cy="321.4" r="11.8"/><circle cx="1501.7" cy="299.5" r="11.8"/><circle cx="1486.6" cy="303.2" r="11.8"/><circle cx="1488.3" cy="352.4" r="11.8"/><circle cx="1502.7" cy="334.9" r="11.8"/><circle cx="1505.1" cy="261.7" r="11.8"/><circle cx="1489.8" cy="295.7" r="11.8"/><circle cx="1482.0" cy="267.7" r="11.8"/><circle cx="1484.2" cy="298.0" r="11.8"/><circle cx="1488.5" cy="309.0" r="11.8"/><circle cx="1494.0" cy="350.8" r="11.8"/><circle cx="1497.7" cy="261.3" r="11.8"/><circle cx="1479.9" cy="242.0" r="11.8"/><circle cx="1488.6" cy="343.0" r="11.8"/><circle cx="1499.2" cy="279.8" r="11.8"/><circle cx="1480.3" cy="331.0" r="11.8"/><circle cx="1497.1" cy="317.3" r="11.8"/><circle cx="1485.4" cy="234.8" r="11.8"/><circle cx="1491.7" cy="321.8" r="11.8"/><circle cx="1482.9" cy="344.9" r="11.8"/><circle cx="1485.3" cy="302.2" r="11.8"/><circle cx="1489.8" cy="263.9" r="11.8"/><circle cx="1484.4" cy="337.1" r="11.8"/><circle cx="1494.1" cy="252.1" r="11.8"/><circle cx="1499.7" cy="268.4" r="11.8"/><circle cx="1493.9" cy="268.6" r="11.8"/><circle cx="1489.7" cy="322.4" r="11.8"/><circle cx="1495.6" cy="331.8" r="11.8"/><circle cx="1484.2" cy="346.6" r="11.8"/><circle cx="1488.2" cy="329.0" r="11.8"/><circle cx="1501.7" cy="330.6" r="11.8"/><circle cx="1490.3" cy="250.0" r="11.8"/><circle cx="1494.2" cy="280.2" r="11.8"/><circle cx="1504.0" cy="209.0" r="11.8"/><circle cx="1479.9" cy="254.5" r="11.8"/></g>
<g fill="#437fc0"><circle cx="1512.7" cy="261.6" r="11.8"/><circle cx="1509.0" cy="320.4" r="11.8"/><circle cx="1529.2" cy="318.3" r="11.8"/><circle cx="1507.9" cy="277.3" r="11.8"/><circle cx="1508.5" cy="236.4" r="11.8"/><circle cx="1507.7" cy="319.9" r="11.8"/><circle cx="1522.5" cy="268.7" r="11.8"/><circle cx="1507.8" cy="304.1" r="11.8"/><circle cx="1506.8" cy="311.5" r="11.8"/><circle cx="1520.6" cy="321.5" r="11.8"/><circle cx="1510.7" cy="295.9" r="11.8"/><circle cx="1518.8" cy="255.8" r="11.8"/><circle cx="1520.4" cy="305.5" r="11.8"/><circle cx="1519.6" cy="265.1" r="11.8"/><circle cx="1507.7" cy="329.5" r="11.8"/><circle cx="1506.8" cy="322.8" r="11.8"/><circle cx="1511.9" cy="305.6" r="11.8"/><circle cx="1519.7" cy="306.3" r="11.8"/><circle cx="1507.9" cy="333.8" r="11.8"/><circle cx="1507.6" cy="290.4" r="11.8"/><circle cx="1514.9" cy="339.8" r="11.8"/></g>
<g fill="#4c80c2"><circle cx="1545.0" cy="270.0" r="11.8"/><circle cx="1531.2" cy="309.8" r="11.8"/><circle cx="1534.0" cy="312.0" r="11.8"/><circle cx="1535.3" cy="242.4" r="11.8"/><circle cx="1532.8" cy="330.8" r="11.8"/><circle cx="1534.4" cy="302.6" r="11.8"/><circle cx="1533.0" cy="313.0" r="11.8"/></g>
<g fill="#4d80c2"><circle cx="1557.0" cy="280.0" r="11.8"/><circle cx="1580.0" cy="300.0" r="11.8"/></g>
<g fill="#4d81c3"><circle cx="1586.5" cy="276.0" r="11.8"/></g>
</g>
<g stroke="#111" stroke-opacity="0.6" stroke-width="2.6" fill-opacity="0.6"><circle cx="841.3" cy="268" r="12" fill="#fff0a8"/></g>
<g stroke="#111" stroke-opacity="0.75" stroke-width="2.4" fill-opacity="0.9">
<circle cx="1301" cy="168.7" r="12" fill="#86bfdc"/>
<circle cx="1342.3" cy="181.4" r="12" fill="#6fa9cf"/>
<circle cx="1407" cy="190" r="12" fill="#5f9bc8"/>
</g>
<line x1="753.2" y1="58" x2="753.2" y2="394" stroke="#111" stroke-width="2.3"/>
<line x1="752.2" y1="393" x2="1737.5" y2="393" stroke="#111" stroke-width="2.3"/>
<line x1="740" y1="97.8" x2="753.2" y2="97.8" stroke="#111" stroke-width="2.3"/>
<text x="699.95" y="110.6" font-size="31" textLength="30.41" lengthAdjust="spacingAndGlyphs" stroke="#fff" stroke-width="0.62">15</text>
<line x1="740" y1="171.7" x2="753.2" y2="171.7" stroke="#111" stroke-width="2.3"/>
<text x="698.03" y="184.5" font-size="31" textLength="32.26" lengthAdjust="spacingAndGlyphs" stroke="#fff" stroke-width="0.62">10</text>
<line x1="740" y1="245.4" x2="753.2" y2="245.4" stroke="#111" stroke-width="2.3"/>
<text x="712.56" y="258.2" font-size="31" stroke="#fff" stroke-width="0.62">5</text>
<line x1="740" y1="319.3" x2="753.2" y2="319.3" stroke="#111" stroke-width="2.3"/>
<text x="712.16" y="332.1" font-size="31" stroke="#fff" stroke-width="0.62">0</text>
<line x1="740" y1="392.3" x2="753.2" y2="392.3" stroke="#111" stroke-width="2.3"/>
<text x="693.27" y="405.1" font-size="31" textLength="37.25" lengthAdjust="spacingAndGlyphs" stroke="#fff" stroke-width="0.62">−5</text>
<line x1="788.75" y1="393" x2="788.75" y2="407" stroke="#111" stroke-width="2.3"/>
<line x1="859.6" y1="393" x2="859.6" y2="407" stroke="#111" stroke-width="2.3"/>
<line x1="930.45" y1="393" x2="930.45" y2="407" stroke="#111" stroke-width="2.3"/>
<line x1="1001.3" y1="393" x2="1001.3" y2="407" stroke="#111" stroke-width="2.3"/>
<line x1="1072.15" y1="393" x2="1072.15" y2="407" stroke="#111" stroke-width="2.3"/>
<line x1="1143" y1="393" x2="1143" y2="407" stroke="#111" stroke-width="2.3"/>
<line x1="1213.85" y1="393" x2="1213.85" y2="407" stroke="#111" stroke-width="2.3"/>
<line x1="1284.7" y1="393" x2="1284.7" y2="407" stroke="#111" stroke-width="2.3"/>
<line x1="1355.55" y1="393" x2="1355.55" y2="407" stroke="#111" stroke-width="2.3"/>
<line x1="1426.4" y1="393" x2="1426.4" y2="407" stroke="#111" stroke-width="2.3"/>
<line x1="1497.25" y1="393" x2="1497.25" y2="407" stroke="#111" stroke-width="2.3"/>
<line x1="1568.1" y1="393" x2="1568.1" y2="407" stroke="#111" stroke-width="2.3"/>
<line x1="1638.95" y1="393" x2="1638.95" y2="407" stroke="#111" stroke-width="2.3"/>
<line x1="1709.8" y1="393" x2="1709.8" y2="407" stroke="#111" stroke-width="2.3"/>
<g stroke="#fff" transform="translate(667.8 317) rotate(-90)"><text x="-2.18" y="0" font-size="31.5" stroke-width="0.65" textLength="44.67" lengthAdjust="spacingAndGlyphs">log</text><text x="42.14" y="8.5" font-size="17" stroke-width="0.24" textLength="9.53" lengthAdjust="spacingAndGlyphs">2</text><text x="52.08" y="0" font-size="31.5" stroke-width="0.65" textLength="166.17" lengthAdjust="spacingAndGlyphs">mean-FPKM</text></g>
<line x1="829.8" y1="93.5" x2="886" y2="112" stroke="#111" stroke-width="3.1" stroke-dasharray="12.5 8.5"/>
<line x1="971.3" y1="93.5" x2="1001.5" y2="212" stroke="#111" stroke-width="3.1" stroke-dasharray="12.5 8.5"/>
<line x1="914.3" y1="199" x2="940" y2="232" stroke="#111" stroke-width="3.1" stroke-dasharray="12.5 8.5"/>
<line x1="1056.8" y1="144.5" x2="1090" y2="204" stroke="#111" stroke-width="3.1" stroke-dasharray="12.5 8.5"/>
<line x1="1100.7" y1="78.5" x2="1119" y2="163" stroke="#111" stroke-width="3.1" stroke-dasharray="12.5 8.5"/>
<line x1="1204.5" y1="118.5" x2="1153" y2="218" stroke="#111" stroke-width="3.1" stroke-dasharray="12.5 8.5"/>
<line x1="1530" y1="164" x2="1530" y2="215" stroke="#111" stroke-width="3.1" stroke-dasharray="10 8"/>
<line x1="1530" y1="236" x2="1530" y2="253" stroke="#111" stroke-width="2.4"/>
<line x1="1616.3" y1="204.3" x2="1616.3" y2="220" stroke="#111" stroke-width="2.4"/>
<line x1="1643" y1="240" x2="1652" y2="248" stroke="#111" stroke-width="2.4"/>
<circle cx="908" cy="119" r="12.3" fill="#fff3b2" stroke="#000" stroke-width="3.9"/>
<circle cx="953" cy="252.3" r="12.3" fill="#fff3b2" stroke="#000" stroke-width="3.9"/>
<circle cx="1006" cy="230.8" r="12.3" fill="#fff3b2" stroke="#000" stroke-width="3.9"/>
<circle cx="1099.3" cy="222" r="12.3" fill="#d2f2b4" stroke="#000" stroke-width="3.9"/>
<circle cx="1123.6" cy="182.3" r="12.3" fill="#abeabc" stroke="#000" stroke-width="3.9"/>
<circle cx="1144" cy="235.7" r="12.3" fill="#a9e9d0" stroke="#000" stroke-width="3.9"/>
<circle cx="1530" cy="226" r="12.3" fill="#2d70b3" stroke="#000" stroke-width="3.9"/>
<circle cx="1616.3" cy="230.3" r="12.3" fill="#2565ab" stroke="#000" stroke-width="3.9"/>
<circle cx="1638.4" cy="233.7" r="12.3" fill="#2565ab" stroke="#000" stroke-width="3.9"/>
<rect x="758.4" y="48.2" width="134" height="44.3" fill="#fff3b0" stroke="#111" stroke-width="2" rx="5"/>
<text x="772.05" y="80.6" font-size="31.5" textLength="111.66" lengthAdjust="spacingAndGlyphs" stroke="#fff3b0" stroke-width="0.5" font-style="italic">Hba−a1</text>
<rect x="922" y="48.2" width="100" height="44.3" fill="#fff3b0" stroke="#111" stroke-width="2" rx="5"/>
<text x="935.26" y="80.6" font-size="31.5" textLength="77.51" lengthAdjust="spacingAndGlyphs" stroke="#fff3b0" stroke-width="0.5" font-style="italic">Itgam</text>
<rect x="1035" y="33.4" width="115" height="44" fill="#b8f0c4" stroke="#111" stroke-width="2" rx="5"/>
<text x="1046.4" y="65.5" font-size="31.5" textLength="96.12" lengthAdjust="spacingAndGlyphs" stroke="#b8f0c4" stroke-width="0.5" font-style="italic">Gapdh</text>
<rect x="1010" y="99.2" width="89.7" height="44.3" fill="#b8f0c4" stroke="#111" stroke-width="2" rx="5"/>
<text x="1019.87" y="131.6" font-size="31.5" textLength="69.23" lengthAdjust="spacingAndGlyphs" stroke="#b8f0c4" stroke-width="0.5" font-style="italic">Canx</text>
<rect x="836.8" y="146" width="99.2" height="44.7" fill="#fff3b0" stroke="#111" stroke-width="2" rx="5"/>
<text x="846.97" y="178.8" font-size="31.5" textLength="83.62" lengthAdjust="spacingAndGlyphs" stroke="#fff3b0" stroke-width="0.5" font-style="italic">Gata1</text>
<rect x="1158.8" y="73.9" width="92.2" height="44" fill="#b8f0c4" stroke="#111" stroke-width="2" rx="5"/>
<text x="1170.24" y="106" font-size="31.5" textLength="73.1" lengthAdjust="spacingAndGlyphs" stroke="#b8f0c4" stroke-width="0.5" font-style="italic">Cyc1</text>
<rect x="1463.4" y="118" width="102.8" height="45.6" fill="#2e72b2" stroke="#111" stroke-width="2" rx="5"/>
<text x="1475.58" y="151.7" font-size="31.5" textLength="82.12" lengthAdjust="spacingAndGlyphs" fill="#fff" stroke="#2e72b2" stroke-width="0.5" font-style="italic">Dmp1</text>
<rect x="1586.6" y="159.3" width="99.8" height="45" fill="#2666ad" stroke="#111" stroke-width="2" rx="5"/>
<text x="1599.06" y="192.4" font-size="31.5" textLength="78.08" lengthAdjust="spacingAndGlyphs" fill="#fff" stroke="#2666ad" stroke-width="0.5" font-style="italic">Mepe</text>
<rect x="1650.8" y="246" width="81.5" height="45.4" fill="#2565ab" stroke="#111" stroke-width="2" rx="5"/>
<text x="1662.13" y="279.5" font-size="31.5" textLength="58.24" lengthAdjust="spacingAndGlyphs" fill="#fff" stroke="#2565ab" stroke-width="0.5" font-style="italic">Sost</text>
<rect x="1750.6" y="26.8" width="237.4" height="200.5" fill="#fff" stroke="#111" stroke-width="2"/>
<text x="1782.92" y="53.4" font-size="30" textLength="172.59" lengthAdjust="spacingAndGlyphs" stroke="#fff" stroke-width="0.6">Marker type:</text>
<rect x="1767.2" y="73" width="203.8" height="34" fill="#2565ab" stroke="#111" stroke-width="2"/>
<text x="1799.61" y="99.4" font-size="30" textLength="138.68" lengthAdjust="spacingAndGlyphs" fill="#fff" stroke="#2565ab" stroke-width="0.6">Osteocyte</text>
<rect x="1767.2" y="124.5" width="203.8" height="34.8" fill="#b8f0c4" stroke="#111" stroke-width="2"/>
<text x="1768.89" y="150.8" font-size="30" textLength="200.96" lengthAdjust="spacingAndGlyphs" stroke="#b8f0c4" stroke-width="0.6">Housekeeping</text>
<rect x="1767.2" y="175" width="203.8" height="34" fill="#fff3b0" stroke="#111" stroke-width="2"/>
<text x="1816.95" y="203" font-size="30" textLength="102.21" lengthAdjust="spacingAndGlyphs" stroke="#fff3b0" stroke-width="0.6">Marrow</text>
<text x="643.98" y="459.4" font-size="33" textLength="20.77" lengthAdjust="spacingAndGlyphs" font-weight="bold">ii</text>
<g fill-opacity="0.62">
<path d="M831.26,763.2L831.26,763.18L838.11,763.17L844.96,763.14L851.81,763.1L858.66,763.04L865.5,762.95L872.35,762.8L879.2,762.59L886.05,762.27L892.9,761.82L899.75,761.19L906.6,760.31L913.45,759.13L920.29,757.57L927.14,755.54L933.99,752.98L940.84,749.8L947.69,745.95L954.54,741.39L961.39,736.12L968.24,730.17L975.09,723.63L981.93,716.65L988.78,709.41L995.63,702.16L1002.48,695.16L1009.33,688.73L1016.18,683.13L1023.03,678.66L1029.88,675.53L1036.72,673.9L1043.57,673.88L1050.42,675.44L1057.27,678.53L1064.12,682.96L1070.97,688.52L1077.82,694.93L1084.67,701.91L1091.52,709.16L1098.36,716.4L1105.21,723.4L1112.06,729.95L1118.91,735.92L1125.76,741.22L1132.61,745.81L1139.46,749.68L1146.31,752.88L1153.16,755.46L1160,757.5L1166.85,759.08L1173.7,760.27L1180.55,761.16L1187.4,761.8L1194.25,762.26L1201.1,762.58L1207.95,762.8L1214.79,762.94L1221.64,763.04L1228.49,763.1L1235.34,763.14L1242.19,763.16L1242.19,763.2Z" fill="#fff3b0"/>
<path d="M987.13,763.2L987.13,763.15L991.38,763.12L995.63,763.06L999.88,762.96L1004.13,762.8L1008.38,762.55L1012.64,762.17L1016.89,761.6L1021.14,760.75L1025.39,759.52L1029.64,757.79L1033.89,755.38L1038.14,752.12L1042.39,747.78L1046.64,742.17L1050.89,735.04L1055.15,726.22L1059.4,715.54L1063.65,702.93L1067.9,688.43L1072.15,672.19L1076.4,654.5L1080.65,635.83L1084.9,616.76L1089.15,598L1093.4,580.36L1097.66,564.65L1101.91,551.65L1106.16,542.05L1110.41,536.37L1114.66,534.92L1118.91,537.8L1123.16,544.84L1127.41,555.64L1131.66,569.62L1135.91,586.07L1140.17,604.17L1144.42,623.12L1148.67,642.13L1152.92,660.53L1157.17,677.78L1161.42,693.47L1165.67,707.35L1169.92,719.31L1174.17,729.36L1178.42,737.6L1182.68,744.2L1186.93,749.36L1191.18,753.31L1195.43,756.27L1199.68,758.43L1203.93,759.98L1208.18,761.07L1212.43,761.82L1216.68,762.32L1220.93,762.65L1225.19,762.86L1229.44,763L1233.69,763.08L1237.94,763.13L1242.19,763.16L1242.19,763.2Z" fill="#b8f0c4"/>
<path d="M987.13,763.2L987.13,763.1L993.03,763.04L998.94,762.95L1004.84,762.83L1010.75,762.65L1016.65,762.39L1022.55,762.03L1028.46,761.54L1034.36,760.87L1040.27,759.99L1046.17,758.84L1052.08,757.36L1057.98,755.51L1063.88,753.22L1069.79,750.43L1075.69,747.11L1081.6,743.24L1087.5,738.79L1093.4,733.81L1099.31,728.33L1105.21,722.45L1111.12,716.28L1117.02,709.99L1122.93,703.75L1128.83,697.77L1134.73,692.27L1140.64,687.44L1146.54,683.5L1152.45,680.6L1158.35,678.87L1164.25,678.39L1170.16,679.17L1176.06,681.19L1181.97,684.36L1187.87,688.53L1193.78,693.53L1199.68,699.17L1205.58,705.23L1211.49,711.5L1217.39,717.78L1223.3,723.89L1229.2,729.68L1235.11,735.05L1241.01,739.91L1246.91,744.22L1252.82,747.96L1258.72,751.15L1264.63,753.81L1270.53,755.99L1276.43,757.75L1282.34,759.14L1288.24,760.22L1294.15,761.05L1300.05,761.67L1305.95,762.13L1311.86,762.46L1317.76,762.69L1323.67,762.86L1329.57,762.98L1335.48,763.05L1341.38,763.11L1341.38,763.2Z" fill="#95e0d8"/>
<path d="M965.88,763.2L965.88,763.1L977.68,763.05L989.49,762.98L1001.3,762.88L1013.11,762.75L1024.92,762.57L1036.72,762.34L1048.53,762.03L1060.34,761.62L1072.15,761.11L1083.96,760.47L1095.77,759.68L1107.58,758.71L1119.38,757.56L1131.19,756.2L1143,754.63L1154.81,752.84L1166.62,750.85L1178.42,748.66L1190.23,746.32L1202.04,743.85L1213.85,741.32L1225.66,738.78L1237.47,736.3L1249.28,733.95L1261.08,731.82L1272.89,729.98L1284.7,728.49L1296.51,727.41L1308.32,726.78L1320.12,726.63L1331.93,726.95L1343.74,727.75L1355.55,728.98L1367.36,730.61L1379.17,732.56L1390.97,734.78L1402.78,737.18L1414.59,739.69L1426.4,742.23L1438.21,744.75L1450.02,747.18L1461.83,749.47L1473.63,751.59L1485.44,753.51L1497.25,755.22L1509.06,756.71L1520.87,757.99L1532.67,759.08L1544.48,759.98L1556.29,760.72L1568.1,761.31L1579.91,761.78L1591.72,762.15L1603.53,762.43L1615.33,762.65L1627.14,762.8L1638.95,762.92L1650.76,763.01L1662.57,763.07L1674.38,763.11L1674.38,763.2Z" fill="#2b6cb0"/>
</g>
<path d="M822.99,763.2C825.4,763.14 829.03,763.08 837.49,762.84C845.94,762.6 864.07,762.23 873.73,761.75C883.4,761.27 888.23,761.03 895.48,759.94C902.73,758.85 910.59,757.1 917.23,755.23C923.88,753.35 929.92,750.39 935.35,748.7C940.79,747.01 945.62,746.71 949.85,745.08C954.08,743.45 956.5,743.26 960.73,738.91C964.96,734.56 970.39,725.93 975.23,718.98C980.06,712.03 984.89,704 989.73,697.23C994.56,690.46 999.39,682.73 1004.23,678.38C1009.06,674.03 1013.29,672.46 1018.72,671.13C1024.16,669.8 1032.01,671.49 1036.85,670.41C1041.68,669.32 1044.1,669.2 1047.72,664.61C1051.35,660.02 1054.37,654.34 1058.6,642.86C1062.83,631.38 1068.26,613.26 1073.1,595.74C1077.93,578.22 1083.37,555.26 1087.59,537.74C1091.82,520.22 1095.15,502.1 1098.47,490.62C1101.79,479.14 1103.6,472.49 1107.53,468.87C1111.46,465.24 1118.1,465.85 1122.03,468.87C1125.96,471.89 1127.77,477.93 1131.09,486.99C1134.41,496.05 1138.04,508.74 1141.97,523.24C1145.89,537.74 1150.42,558.28 1154.65,573.99C1158.88,589.69 1162.81,604.8 1167.34,617.48C1171.87,630.17 1176.4,639.84 1181.84,650.11C1187.28,660.38 1193.92,670.95 1199.96,679.11C1206,687.26 1212.04,693.91 1218.09,699.04C1224.13,704.18 1230.17,706.9 1236.21,709.92C1242.25,712.94 1248.72,715.25 1254.33,717.17C1259.95,719.08 1263.87,720.61 1269.91,721.39C1275.95,722.18 1283.28,721.15 1290.58,721.88C1297.88,722.61 1305.21,724.66 1313.71,725.77C1322.21,726.88 1332.29,728.23 1341.58,728.56C1350.87,728.89 1360.83,727.1 1369.46,727.76C1378.08,728.43 1385.38,730.55 1393.35,732.54C1401.31,734.53 1409.27,737.38 1417.24,739.71C1425.2,742.03 1433.16,744.82 1441.13,746.48C1449.09,748.14 1457.06,748.8 1465.02,749.66C1472.98,750.52 1481.61,750.66 1488.91,751.65C1496.21,752.65 1500.86,754.17 1508.82,755.63C1516.78,757.09 1526.74,759.28 1536.69,760.41C1546.65,761.54 1556.6,761.94 1568.55,762.4C1580.49,762.87 1595.09,763.07 1608.37,763.2C1621.64,763.33 1641.55,763.2 1648.18,763.2" fill="none" stroke="#111" stroke-width="2.2"/>
<line x1="753.2" y1="428.3" x2="753.2" y2="764.2" stroke="#111" stroke-width="2.3"/>
<line x1="752.2" y1="763.2" x2="1737.8" y2="763.2" stroke="#111" stroke-width="2.3"/>
<line x1="740.5" y1="763.2" x2="753.2" y2="763.2" stroke="#111" stroke-width="2.3"/>
<text x="687.5" y="775.7" font-size="31" stroke="#fff" stroke-width="0.62">0.0</text>
<line x1="740.5" y1="696.2" x2="753.2" y2="696.2" stroke="#111" stroke-width="2.3"/>
<text x="687.8" y="708.7" font-size="31" stroke="#fff" stroke-width="0.62">0.1</text>
<line x1="740.5" y1="629.2" x2="753.2" y2="629.2" stroke="#111" stroke-width="2.3"/>
<text x="687.96" y="641.7" font-size="31" stroke="#fff" stroke-width="0.62">0.2</text>
<line x1="740.5" y1="562.2" x2="753.2" y2="562.2" stroke="#111" stroke-width="2.3"/>
<text x="687.65" y="574.7" font-size="31" stroke="#fff" stroke-width="0.62">0.3</text>
<line x1="740.5" y1="495.2" x2="753.2" y2="495.2" stroke="#111" stroke-width="2.3"/>
<text x="687.18" y="507.7" font-size="31" stroke="#fff" stroke-width="0.62">0.4</text>
<line x1="788.75" y1="763.2" x2="788.75" y2="777.2" stroke="#111" stroke-width="2.3"/>
<line x1="859.6" y1="763.2" x2="859.6" y2="777.2" stroke="#111" stroke-width="2.3"/>
<line x1="930.45" y1="763.2" x2="930.45" y2="777.2" stroke="#111" stroke-width="2.3"/>
<line x1="1001.3" y1="763.2" x2="1001.3" y2="777.2" stroke="#111" stroke-width="2.3"/>
<line x1="1072.15" y1="763.2" x2="1072.15" y2="777.2" stroke="#111" stroke-width="2.3"/>
<line x1="1143" y1="763.2" x2="1143" y2="777.2" stroke="#111" stroke-width="2.3"/>
<line x1="1213.85" y1="763.2" x2="1213.85" y2="777.2" stroke="#111" stroke-width="2.3"/>
<line x1="1284.7" y1="763.2" x2="1284.7" y2="777.2" stroke="#111" stroke-width="2.3"/>
<line x1="1355.55" y1="763.2" x2="1355.55" y2="777.2" stroke="#111" stroke-width="2.3"/>
<line x1="1426.4" y1="763.2" x2="1426.4" y2="777.2" stroke="#111" stroke-width="2.3"/>
<line x1="1497.25" y1="763.2" x2="1497.25" y2="777.2" stroke="#111" stroke-width="2.3"/>
<line x1="1568.1" y1="763.2" x2="1568.1" y2="777.2" stroke="#111" stroke-width="2.3"/>
<line x1="1638.95" y1="763.2" x2="1638.95" y2="777.2" stroke="#111" stroke-width="2.3"/>
<line x1="1709.8" y1="763.2" x2="1709.8" y2="777.2" stroke="#111" stroke-width="2.3"/>
<text x="-2.44" y="0" font-size="31.5" textLength="101.62" lengthAdjust="spacingAndGlyphs" stroke="#fff" stroke-width="0.63" transform="translate(667.5 644.7) rotate(-90)">Density</text>
<rect x="767.9" y="521.4" width="282.4" height="113.1" fill="#fff8d4"/>
<text x="772.87" y="539.9" font-size="22.5" textLength="150.59" lengthAdjust="spacingAndGlyphs" stroke="#fff8d4" stroke-width="0.45">GO description</text>
<text x="959.17" y="539.9" font-size="22.5" textLength="77.77" lengthAdjust="spacingAndGlyphs" stroke="#fff8d4" stroke-width="0.45">P-value</text>
<text x="772.19" y="572.6" font-size="22.5" textLength="183.27" lengthAdjust="spacingAndGlyphs" stroke="#fff8d4" stroke-width="0.45">DNA conformation</text>
<text x="960.13" y="572.6" font-size="22.5" textLength="87.92" lengthAdjust="spacingAndGlyphs" stroke="#fff8d4" stroke-width="0.45">8.27E-37</text>
<text x="773.08" y="598.7" font-size="22.5" textLength="75.87" lengthAdjust="spacingAndGlyphs" stroke="#fff8d4" stroke-width="0.45">change</text>
<text x="772.15" y="625.9" font-size="22.5" textLength="159.31" lengthAdjust="spacingAndGlyphs" stroke="#fff8d4" stroke-width="0.45">DNA packaging</text>
<text x="959.91" y="625.9" font-size="22.5" textLength="88.43" lengthAdjust="spacingAndGlyphs" stroke="#fff8d4" stroke-width="0.45">6.04E-36</text>
<rect x="1171" y="446" width="369.7" height="92.7" fill="#d5f5dc"/>
<text x="1176.37" y="468.4" font-size="22.5" stroke="#d5f5dc" stroke-width="0.45">GO description</text>
<text x="1448.68" y="468.4" font-size="22.5" textLength="77.25" lengthAdjust="spacingAndGlyphs" stroke="#d5f5dc" stroke-width="0.45">P-value</text>
<text x="1176.04" y="500.1" font-size="22.5" textLength="251.77" lengthAdjust="spacingAndGlyphs" stroke="#d5f5dc" stroke-width="0.45">mRNA metabolic process</text>
<text x="1449.53" y="500.1" font-size="22.5" textLength="87.81" lengthAdjust="spacingAndGlyphs" stroke="#d5f5dc" stroke-width="0.45">9.51E-05</text>
<text x="1176.03" y="532" font-size="22.5" textLength="258.75" lengthAdjust="spacingAndGlyphs" stroke="#d5f5dc" stroke-width="0.45">ncRNA metabolic process</text>
<text x="1449.42" y="532" font-size="22.5" textLength="87.92" lengthAdjust="spacingAndGlyphs" stroke="#d5f5dc" stroke-width="0.45">2.13E-03</text>
<rect x="1221.7" y="557.7" width="240.9" height="31.9" fill="#c0ece8"/>
<text x="1225.24" y="580.4" font-size="22.5" textLength="233.01" lengthAdjust="spacingAndGlyphs" stroke="#c0ece8" stroke-width="0.45">No significant GO terms</text>
<rect x="1322" y="608.2" width="401.8" height="93.6" fill="#7ba0cb"/>
<text x="1327.28" y="630.4" font-size="22.5" textLength="149.67" lengthAdjust="spacingAndGlyphs" stroke="#7ba0cb" stroke-width="0.45">GO description</text>
<text x="1630.48" y="630.4" font-size="22.5" textLength="76.94" lengthAdjust="spacingAndGlyphs" stroke="#7ba0cb" stroke-width="0.45">P-value</text>
<text x="1327.41" y="661.2" font-size="22.5" textLength="287.04" lengthAdjust="spacingAndGlyphs" stroke="#7ba0cb" stroke-width="0.45">Skeletal system development</text>
<text x="1631.87" y="661.2" font-size="22.5" textLength="87.97" lengthAdjust="spacingAndGlyphs" stroke="#7ba0cb" stroke-width="0.45">1.70E-26</text>
<text x="1327.38" y="693.1" font-size="22.5" textLength="117.68" lengthAdjust="spacingAndGlyphs" stroke="#7ba0cb" stroke-width="0.45">Ossification</text>
<text x="1631.84" y="693.1" font-size="22.5" textLength="88.03" lengthAdjust="spacingAndGlyphs" stroke="#7ba0cb" stroke-width="0.45">1.11E-25</text>
<rect x="1750.5" y="443.8" width="245.5" height="250.1" fill="#fff" stroke="#111" stroke-width="2.7"/>
<text x="1767.46" y="468.1" font-size="27" textLength="212.78" lengthAdjust="spacingAndGlyphs" stroke="#fff" stroke-width="0.54">GMM component:</text>
<rect x="1788.8" y="481.6" width="169.2" height="35.4" fill="#7ba0cb" rx="7"/>
<text x="1826.05" y="507.9" font-size="27" textLength="94.2" lengthAdjust="spacingAndGlyphs" stroke="#7ba0cb" stroke-width="0.54">Comp 1</text>
<rect x="1788.8" y="524.2" width="169.2" height="35.1" fill="#c0ece8" rx="7"/>
<text x="1826.05" y="548.4" font-size="27" textLength="94.34" lengthAdjust="spacingAndGlyphs" stroke="#c0ece8" stroke-width="0.54">Comp 2</text>
<rect x="1788.8" y="566.4" width="169.2" height="35.5" fill="#d5f5dc" rx="7"/>
<text x="1826.06" y="593.4" font-size="27" textLength="94.06" lengthAdjust="spacingAndGlyphs" stroke="#d5f5dc" stroke-width="0.54">Comp 3</text>
<rect x="1788.8" y="608.6" width="169.2" height="35.1" fill="#fff8d4" rx="7"/>
<text x="1826.06" y="635.9" font-size="27" textLength="93.65" lengthAdjust="spacingAndGlyphs" stroke="#fff8d4" stroke-width="0.54">Comp 4</text>
<text x="1783.51" y="672.4" font-size="27" textLength="139.51" lengthAdjust="spacingAndGlyphs" stroke="#fff" stroke-width="0.54">LFC density</text>
<line x1="1936.9" y1="663.2" x2="1966.7" y2="663.2" stroke="#111" stroke-width="2"/>
<text x="639.15" y="805" font-size="33" textLength="30.34" lengthAdjust="spacingAndGlyphs" font-weight="bold">iii</text>
<rect x="1258.7" y="798" width="479.3" height="335.4" fill="#e3eaf4"/>
<defs><linearGradient id="lfc" gradientUnits="userSpaceOnUse" x1="788.75" y1="0" x2="1638.95" y2="0"><stop offset="0.0000" stop-color="#fff5c0"/><stop offset="0.2833" stop-color="#fff5c0"/><stop offset="0.3250" stop-color="#eef5c2"/><stop offset="0.3583" stop-color="#cdf1c4"/><stop offset="0.3917" stop-color="#b4ebcd"/><stop offset="0.4292" stop-color="#a8e5d9"/><stop offset="0.4750" stop-color="#9cd8de"/><stop offset="0.5250" stop-color="#86c2d8"/><stop offset="0.5750" stop-color="#70aed0"/><stop offset="0.6333" stop-color="#66a0ca"/><stop offset="0.7500" stop-color="#6094c6"/><stop offset="1.0000" stop-color="#5a8cc0"/></linearGradient></defs>
<path d="M822.99,1133.4C825.4,1133.34 829.03,1133.28 837.49,1133.04C845.94,1132.8 864.07,1132.43 873.73,1131.95C883.4,1131.47 888.23,1131.23 895.48,1130.14C902.73,1129.05 910.59,1127.3 917.23,1125.43C923.88,1123.55 929.92,1120.59 935.35,1118.9C940.79,1117.21 945.62,1116.91 949.85,1115.28C954.08,1113.65 956.5,1113.46 960.73,1109.11C964.96,1104.76 970.39,1096.13 975.23,1089.18C980.06,1082.23 984.89,1074.2 989.73,1067.43C994.56,1060.66 999.39,1052.93 1004.23,1048.58C1009.06,1044.23 1013.29,1042.66 1018.72,1041.33C1024.16,1040 1032.01,1041.69 1036.85,1040.61C1041.68,1039.52 1044.1,1039.4 1047.72,1034.81C1051.35,1030.22 1054.37,1024.54 1058.6,1013.06C1062.83,1001.58 1068.26,983.46 1073.1,965.94C1077.93,948.42 1083.37,925.46 1087.59,907.94C1091.82,890.42 1095.15,872.3 1098.47,860.82C1101.79,849.34 1103.6,842.69 1107.53,839.07C1111.46,835.44 1118.1,836.05 1122.03,839.07C1125.96,842.09 1127.77,848.13 1131.09,857.19C1134.41,866.25 1138.04,878.94 1141.97,893.44C1145.89,907.94 1150.42,928.48 1154.65,944.19C1158.88,959.89 1162.81,975 1167.34,987.68C1171.87,1000.37 1176.4,1010.04 1181.84,1020.31C1187.28,1030.58 1193.92,1041.15 1199.96,1049.31C1206,1057.46 1212.04,1064.11 1218.09,1069.24C1224.13,1074.38 1230.17,1077.1 1236.21,1080.12C1242.25,1083.14 1248.72,1085.45 1254.33,1087.37C1259.95,1089.28 1263.87,1090.81 1269.91,1091.59C1275.95,1092.38 1283.28,1091.35 1290.58,1092.08C1297.88,1092.81 1305.21,1094.86 1313.71,1095.97C1322.21,1097.08 1332.29,1098.43 1341.58,1098.76C1350.87,1099.09 1360.83,1097.3 1369.46,1097.96C1378.08,1098.63 1385.38,1100.75 1393.35,1102.74C1401.31,1104.73 1409.27,1107.58 1417.24,1109.91C1425.2,1112.23 1433.16,1115.02 1441.13,1116.68C1449.09,1118.34 1457.06,1119 1465.02,1119.86C1472.98,1120.72 1481.61,1120.86 1488.91,1121.85C1496.21,1122.85 1500.86,1124.37 1508.82,1125.83C1516.78,1127.29 1526.74,1129.48 1536.69,1130.61C1546.65,1131.74 1556.6,1132.14 1568.55,1132.6C1580.49,1133.07 1595.09,1133.27 1608.37,1133.4C1621.64,1133.53 1641.55,1133.4 1648.18,1133.4L1648.18,1133.4L822.99,1133.4Z" fill="url(#lfc)"/>
<path d="M822.99,1133.4C825.4,1133.34 829.03,1133.28 837.49,1133.04C845.94,1132.8 864.07,1132.43 873.73,1131.95C883.4,1131.47 888.23,1131.23 895.48,1130.14C902.73,1129.05 910.59,1127.3 917.23,1125.43C923.88,1123.55 929.92,1120.59 935.35,1118.9C940.79,1117.21 945.62,1116.91 949.85,1115.28C954.08,1113.65 956.5,1113.46 960.73,1109.11C964.96,1104.76 970.39,1096.13 975.23,1089.18C980.06,1082.23 984.89,1074.2 989.73,1067.43C994.56,1060.66 999.39,1052.93 1004.23,1048.58C1009.06,1044.23 1013.29,1042.66 1018.72,1041.33C1024.16,1040 1032.01,1041.69 1036.85,1040.61C1041.68,1039.52 1044.1,1039.4 1047.72,1034.81C1051.35,1030.22 1054.37,1024.54 1058.6,1013.06C1062.83,1001.58 1068.26,983.46 1073.1,965.94C1077.93,948.42 1083.37,925.46 1087.59,907.94C1091.82,890.42 1095.15,872.3 1098.47,860.82C1101.79,849.34 1103.6,842.69 1107.53,839.07C1111.46,835.44 1118.1,836.05 1122.03,839.07C1125.96,842.09 1127.77,848.13 1131.09,857.19C1134.41,866.25 1138.04,878.94 1141.97,893.44C1145.89,907.94 1150.42,928.48 1154.65,944.19C1158.88,959.89 1162.81,975 1167.34,987.68C1171.87,1000.37 1176.4,1010.04 1181.84,1020.31C1187.28,1030.58 1193.92,1041.15 1199.96,1049.31C1206,1057.46 1212.04,1064.11 1218.09,1069.24C1224.13,1074.38 1230.17,1077.1 1236.21,1080.12C1242.25,1083.14 1248.72,1085.45 1254.33,1087.37C1259.95,1089.28 1263.87,1090.81 1269.91,1091.59C1275.95,1092.38 1283.28,1091.35 1290.58,1092.08C1297.88,1092.81 1305.21,1094.86 1313.71,1095.97C1322.21,1097.08 1332.29,1098.43 1341.58,1098.76C1350.87,1099.09 1360.83,1097.3 1369.46,1097.96C1378.08,1098.63 1385.38,1100.75 1393.35,1102.74C1401.31,1104.73 1409.27,1107.58 1417.24,1109.91C1425.2,1112.23 1433.16,1115.02 1441.13,1116.68C1449.09,1118.34 1457.06,1119 1465.02,1119.86C1472.98,1120.72 1481.61,1120.86 1488.91,1121.85C1496.21,1122.85 1500.86,1124.37 1508.82,1125.83C1516.78,1127.29 1526.74,1129.48 1536.69,1130.61C1546.65,1131.74 1556.6,1132.14 1568.55,1132.6C1580.49,1133.07 1595.09,1133.27 1608.37,1133.4C1621.64,1133.53 1641.55,1133.4 1648.18,1133.4" fill="none" stroke="#111" stroke-width="2.2"/>
<line x1="908.2" y1="1116.7" x2="908.2" y2="1128" stroke="#111" stroke-width="2.3"/>
<line x1="952.4" y1="1133.4" x2="952.4" y2="1040" stroke="#111" stroke-width="2.3" stroke-dasharray="13.3 12.7" stroke-dashoffset="2.9"/>
<line x1="1006" y1="1133.4" x2="1006" y2="975" stroke="#111" stroke-width="2.3" stroke-dasharray="13.3 12.7" stroke-dashoffset="2.9"/>
<line x1="1085.8" y1="842.3" x2="1093.5" y2="851" stroke="#111" stroke-width="2.3"/>
<line x1="1099.2" y1="1133.4" x2="1099.2" y2="863" stroke="#111" stroke-width="2.3" stroke-dasharray="13.3 12.7" stroke-dashoffset="2.9"/>
<line x1="1131" y1="826" x2="1133" y2="825.5" stroke="#111" stroke-width="2.3"/>
<line x1="1122.7" y1="1133.4" x2="1122.7" y2="838" stroke="#111" stroke-width="2.3" stroke-dasharray="13.3 12.7" stroke-dashoffset="2.9"/>
<line x1="1158" y1="879" x2="1160" y2="879" stroke="#111" stroke-width="2.3"/>
<line x1="1143" y1="903" x2="1151" y2="893" stroke="#111" stroke-width="2.3"/>
<line x1="1143" y1="1133.4" x2="1143" y2="909" stroke="#111" stroke-width="2.3" stroke-dasharray="13.3 12.7" stroke-dashoffset="2.9"/>
<line x1="1529.5" y1="1133.4" x2="1529.5" y2="1100" stroke="#111" stroke-width="2.3" stroke-dasharray="13.3 12.7" stroke-dashoffset="2.9"/>
<line x1="1616.7" y1="1133.4" x2="1616.7" y2="1040" stroke="#111" stroke-width="2.3" stroke-dasharray="13.3 12.7" stroke-dashoffset="2.9"/>
<line x1="1666" y1="1115.7" x2="1655" y2="1119.5" stroke="#111" stroke-width="2.3"/>
<path d="M1643,1123.5L1638.3,1125.5V1133" fill="none" stroke="#111" stroke-width="2.3"/>
<line x1="1258.7" y1="798" x2="1258.7" y2="1133.4" stroke="#f0704e" stroke-width="3.4" stroke-dasharray="30.7 32" stroke-dashoffset="9.7"/>
<line x1="753.2" y1="798" x2="753.2" y2="1134.4" stroke="#111" stroke-width="2.3"/>
<line x1="752.2" y1="1133.4" x2="1737.8" y2="1133.4" stroke="#111" stroke-width="2.3"/>
<line x1="740.5" y1="1133.4" x2="753.2" y2="1133.4" stroke="#111" stroke-width="2.3"/>
<text x="687.5" y="1145.9" font-size="31" stroke="#fff" stroke-width="0.62">0.0</text>
<line x1="740.5" y1="1066.4" x2="753.2" y2="1066.4" stroke="#111" stroke-width="2.3"/>
<text x="687.8" y="1078.9" font-size="31" stroke="#fff" stroke-width="0.62">0.1</text>
<line x1="740.5" y1="999.4" x2="753.2" y2="999.4" stroke="#111" stroke-width="2.3"/>
<text x="687.96" y="1011.9" font-size="31" stroke="#fff" stroke-width="0.62">0.2</text>
<line x1="740.5" y1="932.4" x2="753.2" y2="932.4" stroke="#111" stroke-width="2.3"/>
<text x="687.65" y="944.9" font-size="31" stroke="#fff" stroke-width="0.62">0.3</text>
<line x1="740.5" y1="865.4" x2="753.2" y2="865.4" stroke="#111" stroke-width="2.3"/>
<text x="687.18" y="877.9" font-size="31" stroke="#fff" stroke-width="0.62">0.4</text>
<line x1="788.75" y1="1133.4" x2="788.75" y2="1147.4" stroke="#111" stroke-width="2.3"/>
<line x1="859.6" y1="1133.4" x2="859.6" y2="1147.4" stroke="#111" stroke-width="2.3"/>
<line x1="930.45" y1="1133.4" x2="930.45" y2="1147.4" stroke="#111" stroke-width="2.3"/>
<line x1="1001.3" y1="1133.4" x2="1001.3" y2="1147.4" stroke="#111" stroke-width="2.3"/>
<line x1="1072.15" y1="1133.4" x2="1072.15" y2="1147.4" stroke="#111" stroke-width="2.3"/>
<line x1="1143" y1="1133.4" x2="1143" y2="1147.4" stroke="#111" stroke-width="2.3"/>
<line x1="1213.85" y1="1133.4" x2="1213.85" y2="1147.4" stroke="#111" stroke-width="2.3"/>
<line x1="1284.7" y1="1133.4" x2="1284.7" y2="1147.4" stroke="#111" stroke-width="2.3"/>
<line x1="1355.55" y1="1133.4" x2="1355.55" y2="1147.4" stroke="#111" stroke-width="2.3"/>
<line x1="1426.4" y1="1133.4" x2="1426.4" y2="1147.4" stroke="#111" stroke-width="2.3"/>
<line x1="1497.25" y1="1133.4" x2="1497.25" y2="1147.4" stroke="#111" stroke-width="2.3"/>
<line x1="1568.1" y1="1133.4" x2="1568.1" y2="1147.4" stroke="#111" stroke-width="2.3"/>
<line x1="1638.95" y1="1133.4" x2="1638.95" y2="1147.4" stroke="#111" stroke-width="2.3"/>
<line x1="1709.8" y1="1133.4" x2="1709.8" y2="1147.4" stroke="#111" stroke-width="2.3"/>
<text x="758.84" y="1177.9" font-size="31" textLength="36.81" lengthAdjust="spacingAndGlyphs" stroke="#fff" stroke-width="0.62">−5</text>
<text x="829.71" y="1177.9" font-size="31" textLength="36.29" lengthAdjust="spacingAndGlyphs" stroke="#fff" stroke-width="0.62">−4</text>
<text x="900.54" y="1177.9" font-size="31" textLength="36.81" lengthAdjust="spacingAndGlyphs" stroke="#fff" stroke-width="0.62">−3</text>
<text x="971.37" y="1177.9" font-size="31" textLength="37.16" lengthAdjust="spacingAndGlyphs" stroke="#fff" stroke-width="0.62">−2</text>
<text x="1042.23" y="1177.9" font-size="31" textLength="36.99" lengthAdjust="spacingAndGlyphs" stroke="#fff" stroke-width="0.62">−1</text>
<text x="1134.92" y="1177.9" font-size="31" stroke="#fff" stroke-width="0.62">0</text>
<text x="1205.38" y="1177.9" font-size="31" stroke="#fff" stroke-width="0.62">1</text>
<text x="1276.7" y="1177.9" font-size="31" stroke="#fff" stroke-width="0.62">2</text>
<text x="1347.55" y="1177.9" font-size="31" stroke="#fff" stroke-width="0.62">3</text>
<text x="1418.48" y="1177.9" font-size="31" stroke="#fff" stroke-width="0.62">4</text>
<text x="1489.25" y="1177.9" font-size="31" stroke="#fff" stroke-width="0.62">5</text>
<text x="1559.94" y="1177.9" font-size="31" stroke="#fff" stroke-width="0.62">6</text>
<text x="1630.95" y="1177.9" font-size="31" stroke="#fff" stroke-width="0.62">7</text>
<text x="1701.8" y="1177.9" font-size="31" stroke="#fff" stroke-width="0.62">8</text>
<text x="-2.43" y="0" font-size="31.5" textLength="101.42" lengthAdjust="spacingAndGlyphs" stroke="#fff" stroke-width="0.63" transform="translate(667.5 1014.5) rotate(-90)">Density</text>
<g stroke="#fff"><text x="1057.68" y="1220" font-size="29" stroke-width="0.57">Enrichment (log</text><text x="1259.53" y="1231" font-size="17" stroke-width="0.24" textLength="10.76" lengthAdjust="spacingAndGlyphs">2</text><text x="1270.56" y="1220" font-size="29" stroke-width="0.57" textLength="163.13" lengthAdjust="spacingAndGlyphs">fold-change)</text></g>
<text x="1410.76" y="885.9" font-size="32.5" textLength="177" lengthAdjust="spacingAndGlyphs" stroke="#e3eaf4" stroke-width="0.65">1777 genes</text>
<text x="1412.77" y="925.7" font-size="32.5" textLength="171.82" lengthAdjust="spacingAndGlyphs" stroke="#e3eaf4" stroke-width="0.65">&gt; threshold</text>
<rect x="988.6" y="810.8" width="89.9" height="44.6" fill="#b8f0c4" stroke="#111" stroke-width="2" rx="5"/>
<text x="998.37" y="843.5" font-size="31.5" textLength="69.23" lengthAdjust="spacingAndGlyphs" stroke="#b8f0c4" stroke-width="0.5" font-style="italic">Canx</text>
<rect x="1132.9" y="801.7" width="116" height="44.6" fill="#b8f0c4" stroke="#111" stroke-width="2" rx="5"/>
<text x="1144.4" y="834.4" font-size="31.5" textLength="96.12" lengthAdjust="spacingAndGlyphs" stroke="#b8f0c4" stroke-width="0.5" font-style="italic">Gapdh</text>
<rect x="1159" y="857.2" width="92.8" height="45" fill="#b8f0c4" stroke="#111" stroke-width="2" rx="5"/>
<text x="1171.24" y="890.3" font-size="31.5" textLength="73.1" lengthAdjust="spacingAndGlyphs" stroke="#b8f0c4" stroke-width="0.5" font-style="italic">Cyc1</text>
<rect x="926.3" y="933" width="100.4" height="45.3" fill="#fff3b0" stroke="#111" stroke-width="2" rx="5"/>
<text x="939.26" y="966.4" font-size="31.5" textLength="77.51" lengthAdjust="spacingAndGlyphs" stroke="#fff3b0" stroke-width="0.5" font-style="italic">Itgam</text>
<rect x="880.3" y="997.8" width="99.3" height="45" fill="#fff3b0" stroke="#111" stroke-width="2" rx="5"/>
<text x="890.47" y="1030.9" font-size="31.5" textLength="83.62" lengthAdjust="spacingAndGlyphs" stroke="#fff3b0" stroke-width="0.5" font-style="italic">Gata1</text>
<rect x="787.8" y="1062.7" width="135.2" height="44.6" fill="#fff3b0" stroke="#111" stroke-width="2" rx="5"/>
<text x="801.55" y="1095.4" font-size="31.5" textLength="111.66" lengthAdjust="spacingAndGlyphs" stroke="#fff3b0" stroke-width="0.5" font-style="italic">Hba−a1</text>
<rect x="1566.6" y="997.4" width="100.7" height="44.6" fill="#2666ad" stroke="#111" stroke-width="2" rx="5"/>
<text x="1579.06" y="1030.1" font-size="31.5" textLength="78.08" lengthAdjust="spacingAndGlyphs" fill="#fff" stroke="#2666ad" stroke-width="0.5" font-style="italic">Mepe</text>
<rect x="1474.2" y="1058.7" width="103.1" height="44.6" fill="#2e72b2" stroke="#111" stroke-width="2" rx="5"/>
<text x="1486.07" y="1091.4" font-size="31.5" textLength="82.64" lengthAdjust="spacingAndGlyphs" fill="#fff" stroke="#2e72b2" stroke-width="0.5" font-style="italic">Dmp1</text>
<rect x="1633" y="1066.7" width="82" height="45" fill="#2565ab" stroke="#111" stroke-width="2" rx="5"/>
<text x="1644.63" y="1099.8" font-size="31.5" textLength="58.24" lengthAdjust="spacingAndGlyphs" fill="#fff" stroke="#2565ab" stroke-width="0.5" font-style="italic">Sost</text>
<rect x="1750.5" y="798.3" width="181.5" height="172" fill="#fff" stroke="#111" stroke-width="2"/>
<text x="1774.3" y="830.2" font-size="25" textLength="132.91" lengthAdjust="spacingAndGlyphs" stroke="#fff" stroke-width="0.5">Enrichment</text>
<text x="1787.2" y="861.2" font-size="25" textLength="109.36" lengthAdjust="spacingAndGlyphs" stroke="#fff" stroke-width="0.5">threshold</text>
<line x1="1768.9" y1="872.8" x2="1927" y2="872.8" stroke="#f0704e" stroke-width="3.2" stroke-dasharray="31.8 31.4"/>
<text x="1820.49" y="907" font-size="25" textLength="49.74" lengthAdjust="spacingAndGlyphs" stroke="#fff" stroke-width="0.5">LFC</text>
<defs><linearGradient id="cb" x1="0" y1="0" x2="1" y2="0"><stop offset="0" stop-color="#fff5c0"/><stop offset="0.3" stop-color="#fff5c0"/><stop offset="0.36" stop-color="#e0f2c4"/><stop offset="0.43" stop-color="#a8e5d9"/><stop offset="0.5" stop-color="#82c2d8"/><stop offset="0.57" stop-color="#6aa8cc"/><stop offset="0.8" stop-color="#6498c6"/><stop offset="1" stop-color="#5a8abf"/></linearGradient></defs>
<rect x="1787.6" y="915.8" width="118.2" height="20.7" fill="url(#cb)" stroke="#555" stroke-width="2"/>
<line x1="1791.5" y1="936.5" x2="1791.5" y2="941" stroke="#333" stroke-width="2"/>
<line x1="1837.3" y1="936.5" x2="1837.3" y2="941" stroke="#333" stroke-width="2"/>
<line x1="1901" y1="936.5" x2="1901" y2="941" stroke="#333" stroke-width="2"/>
<text x="1777.84" y="963.2" font-size="25.5" stroke="#fff" stroke-width="0.51">−5</text>
<text x="1830.16" y="963.2" font-size="25.5" stroke="#fff" stroke-width="0.51">0</text>
<text x="1893.42" y="963.2" font-size="25.5" stroke="#fff" stroke-width="0.51">7</text>
<text x="-0.82" y="1283.4" font-size="33" font-weight="bold">c</text>
<g fill="none" stroke="#000" stroke-opacity="0.44" stroke-width="3.3" stroke-linecap="round">
<path d="M363.2 1405.2h0M343.2 1437.3h0M355.1 1437.1h0M406.7 1476.5h0M379.5 1440.2h0M299.8 1501.5h0M351.3 1417.1h0M370.5 1443.6h0M376.6 1434.8h0M329.8 1469.7h0M380.4 1497.9h0M439.1 1432.9h0M396.7 1486.3h0M368.4 1382.7h0M449.0 1416.9h0M307.2 1495.9h0M332.4 1482.7h0M378.3 1371.1h0M326.4 1461.2h0M343.7 1449.1h0M354.7 1413.9h0M326.4 1490.0h0M298.8 1501.6h0M403.7 1392.4h0M353.5 1456.9h0M389.4 1385.8h0M429.7 1449.1h0M354.8 1471.8h0M385.7 1387.0h0M334.7 1484.0h0M312.8 1485.7h0M373.5 1499.8h0M375.1 1501.2h0M366.3 1407.2h0M402.3 1428.6h0M377.7 1498.7h0M445.9 1422.0h0M387.6 1381.6h0M387.4 1405.5h0M378.5 1427.0h0M381.4 1399.5h0M429.2 1449.2h0M393.1 1393.6h0M320.0 1483.3h0M398.4 1376.4h0M347.5 1484.2h0M331.4 1485.2h0M355.8 1451.8h0M383.3 1443.5h0M394.2 1442.9h0M380.3 1377.3h0M393.9 1403.6h0M364.8 1423.2h0M362.9 1437.7h0M358.1 1421.6h0M392.8 1393.5h0M350.5 1431.7h0M354.5 1429.5h0M383.4 1396.4h0M424.2 1456.6h0M377.5 1369.4h0M378.6 1383.7h0M438.9 1432.5h0M375.5 1393.9h0M339.4 1446.5h0M337.0 1472.3h0M368.7 1459.9h0M347.4 1467.2h0M371.9 1442.3h0M404.3 1479.2h0M299.1 1502.2h0M316.3 1485.3h0M395.6 1318.9h0M370.1 1453.4h0M390.7 1404.6h0M395.5 1339.7h0M392.5 1327.5h0M378.7 1378.3h0M379.7 1377.9h0M394.8 1409.7h0M361.9 1482.6h0M340.6 1446.6h0M401.6 1398.4h0M411.1 1471.9h0M225.0 1504.0h0M343.6 1476.5h0M434.8 1441.0h0M393.1 1347.6h0M365.9 1503.1h0M246.0 1505.0h0M361.9 1429.6h0M379.6 1359.5h0M422.4 1389.3h0M353.4 1414.2h0M352.3 1467.8h0M393.6 1412.0h0M362.0 1416.0h0M365.7 1436.3h0M317.8 1481.3h0M377.4 1372.0h0M300.5 1503.3h0M328.4 1490.6h0M380.0 1408.7h0M311.3 1499.8h0M331.0 1485.5h0M399.0 1408.4h0M325.5 1472.8h0M391.9 1489.2h0M366.7 1476.7h0M373.5 1385.0h0M331.3 1484.8h0M335.6 1489.0h0M342.9 1455.6h0M391.6 1328.7h0M337.9 1490.8h0M466.9 1378.1h0M359.7 1408.4h0M357.9 1420.4h0M332.8 1488.3h0M350.0 1482.6h0M448.5 1415.8h0M367.7 1430.3h0M385.9 1459.5h0M287.9 1505.1h0M349.9 1457.3h0M357.2 1413.2h0M393.7 1337.4h0M324.2 1478.9h0M362.4 1405.6h0M345.0 1481.1h0M367.4 1450.1h0M433.4 1441.4h0M357.6 1454.6h0M356.5 1459.6h0M365.2 1397.0h0M422.8 1457.4h0M368.0 1395.7h0M298.0 1499.2h0M373.8 1466.2h0M396.0 1324.7h0M396.5 1351.3h0M343.2 1458.3h0M338.3 1459.6h0M373.0 1478.2h0M377.1 1399.5h0M296.5 1501.0h0M347.4 1428.6h0M366.0 1394.7h0M389.2 1403.2h0M390.4 1384.2h0M355.0 1437.0h0M369.6 1431.6h0M306.2 1490.8h0M299.4 1497.6h0M375.1 1400.0h0M364.2 1465.6h0M433.4 1441.4h0M421.3 1388.2h0M452.4 1408.6h0M345.7 1465.6h0M383.7 1497.6h0M394.2 1445.4h0M410.4 1412.9h0M396.0 1389.4h0M344.1 1485.4h0M346.5 1440.2h0M316.5 1495.6h0M336.2 1448.5h0M385.4 1338.7h0M362.3 1459.6h0M368.5 1484.8h0M441.0 1428.4h0M375.6 1397.0h0M352.3 1449.1h0M387.9 1409.9h0M404.6 1422.7h0M372.9 1456.1h0M371.5 1439.4h0M383.2 1393.0h0M325.9 1480.7h0M385.8 1387.8h0M383.5 1401.7h0M331.4 1462.3h0M341.5 1464.8h0M362.4 1483.2h0M343.3 1442.9h0M387.8 1340.5h0M394.4 1366.8h0M317.5 1481.8h0M371.0 1372.3h0M345.5 1459.0h0M415.0 1344.0h0M365.7 1411.8h0M388.7 1352.8h0M398.1 1404.4h0M337.0 1482.5h0M347.7 1425.0h0M401.8 1481.7h0M381.3 1347.0h0M315.4 1491.6h0M331.0 1475.5h0M385.6 1410.7h0M380.0 1430.5h0M361.7 1467.0h0M369.1 1484.0h0M342.8 1466.0h0M348.0 1454.9h0M457.9 1398.1h0M453.1 1408.2h0M381.3 1429.7h0M363.9 1436.2h0M360.0 1427.8h0M356.2 1449.4h0M371.1 1420.6h0M344.6 1466.0h0M371.4 1455.1h0M338.7 1449.5h0M331.7 1482.5h0M352.9 1420.0h0M388.1 1361.1h0M374.2 1465.1h0M385.2 1389.6h0M367.4 1446.0h0M386.3 1376.6h0M360.7 1415.0h0M360.1 1407.9h0M381.6 1351.9h0M382.5 1493.8h0M381.2 1360.0h0M398.1 1406.2h0M380.9 1402.5h0M404.2 1478.8h0M421.6 1460.8h0M326.7 1484.1h0M333.9 1485.0h0M400.3 1385.5h0M386.1 1415.8h0M355.6 1464.6h0M385.4 1493.1h0M363.7 1461.9h0M338.5 1482.7h0M393.5 1318.5h0M404.0 1480.6h0M348.9 1464.7h0M355.3 1456.4h0M355.5 1460.4h0M393.2 1362.9h0M342.8 1468.8h0M371.7 1408.4h0M418.4 1463.3h0M398.0 1318.0h0M371.3 1455.0h0M363.7 1506.6h0M360.0 1424.1h0M440.0 1432.9h0M392.4 1330.2h0M406.2 1476.3h0M353.6 1467.8h0M362.1 1435.1h0M405.2 1425.7h0M371.5 1481.0h0M388.5 1425.0h0M354.3 1456.5h0M368.7 1451.1h0M368.7 1445.3h0M367.8 1407.7h0M338.8 1476.2h0M359.3 1403.9h0M292.9 1503.0h0M359.5 1398.5h0M342.4 1476.8h0M325.1 1474.1h0M445.1 1423.1h0M331.8 1489.5h0M333.3 1471.9h0M352.7 1446.2h0M352.9 1435.7h0M401.4 1484.2h0M446.6 1421.6h0M303.7 1499.2h0M346.1 1446.3h0M394.1 1399.0h0M381.7 1349.2h0M400.4 1483.4h0M388.4 1386.8h0M301.2 1495.9h0M354.0 1419.4h0M322.7 1476.1h0M392.2 1418.8h0M449.2 1413.8h0M332.2 1479.1h0M380.3 1417.6h0M377.8 1424.3h0M387.6 1456.6h0M370.1 1434.6h0M381.0 1365.5h0M343.6 1430.0h0M366.4 1385.8h0M378.2 1497.4h0M343.4 1459.7h0M352.1 1456.2h0M400.6 1355.0h0M386.4 1379.2h0M375.7 1378.5h0M384.7 1402.2h0M381.6 1430.5h0M381.8 1408.4h0M351.0 1446.8h0M346.0 1449.6h0M378.2 1441.0h0M397.2 1359.4h0M396.8 1485.3h0M454.4 1404.5h0M397.7 1439.6h0M369.3 1422.1h0M400.1 1484.2h0M377.1 1460.4h0M386.3 1380.2h0M381.9 1342.5h0M354.3 1475.1h0M311.5 1497.7h0M390.5 1356.0h0M362.7 1426.5h0M340.0 1485.8h0M389.7 1439.9h0M407.0 1476.8h0M306.2 1497.3h0M355.1 1429.8h0M338.8 1487.1h0M381.4 1497.9h0M308.1 1491.9h0M397.3 1484.4h0M293.5 1503.0h0M342.2 1467.5h0M442.7 1426.9h0M454.3 1405.0h0M390.1 1427.3h0M384.9 1382.6h0M347.4 1445.7h0M392.1 1317.7h0M389.7 1336.8h0M340.5 1481.7h0M337.4 1470.8h0M293.7 1502.0h0M358.6 1464.9h0M385.9 1407.5h0M383.7 1357.2h0"/>
<path d="M432.0 1445.7h0M351.5 1470.1h0M383.3 1450.4h0M390.1 1398.2h0M307.4 1494.3h0M367.0 1393.3h0M450.9 1411.7h0M384.2 1370.6h0M375.9 1380.8h0M444.6 1424.3h0M381.6 1438.1h0M387.2 1396.1h0M383.0 1494.5h0M337.3 1470.1h0M391.5 1490.5h0M326.7 1478.0h0M352.3 1464.9h0M376.7 1383.4h0M388.1 1493.7h0M370.3 1502.0h0M393.7 1401.7h0M370.8 1424.1h0M392.5 1432.6h0M377.6 1432.7h0M354.6 1448.2h0M390.3 1321.8h0M402.3 1413.2h0M351.4 1471.9h0M401.8 1484.2h0M404.0 1334.0h0M363.5 1446.8h0M385.8 1494.2h0M347.2 1441.9h0M331.9 1462.8h0M348.5 1454.9h0M386.8 1405.2h0M328.0 1487.4h0M389.0 1336.6h0M363.1 1429.1h0M356.0 1409.0h0M366.7 1401.0h0M431.2 1444.9h0M394.1 1365.0h0M383.2 1423.2h0M339.6 1479.3h0M350.3 1431.1h0M383.6 1418.3h0M451.3 1408.1h0M389.4 1418.7h0M435.1 1438.8h0M310.4 1489.9h0M370.9 1375.1h0M347.9 1472.3h0M395.8 1388.6h0M390.2 1369.1h0M371.9 1444.4h0M386.3 1344.9h0M432.7 1440.9h0M353.1 1471.5h0M402.0 1322.0h0M393.7 1430.2h0M360.0 1485.3h0M369.5 1413.2h0M422.0 1458.0h0M384.3 1493.9h0M353.6 1505.1h0M355.0 1468.5h0M334.0 1456.9h0M376.8 1389.7h0M340.8 1468.6h0M376.7 1364.5h0M380.7 1368.1h0M358.6 1451.4h0M331.6 1471.5h0M397.9 1406.2h0M380.3 1467.8h0M343.2 1446.5h0M392.1 1364.3h0M377.9 1443.1h0M361.4 1442.2h0M345.8 1451.1h0M437.9 1434.2h0M372.1 1408.2h0M369.2 1434.1h0M356.7 1463.1h0M329.4 1467.3h0M373.5 1431.2h0M353.1 1415.2h0M366.5 1408.0h0M350.8 1505.3h0M407.6 1477.5h0M344.9 1428.8h0M371.0 1385.8h0M368.7 1456.0h0M353.0 1428.1h0M336.9 1453.2h0M391.0 1326.4h0M390.1 1489.7h0M366.6 1414.9h0M363.6 1455.8h0M383.5 1365.6h0M456.7 1399.1h0M388.4 1493.7h0M307.2 1492.6h0M383.8 1427.1h0M341.1 1438.0h0M400.0 1386.9h0M393.3 1406.6h0M321.3 1473.0h0M378.7 1429.2h0M333.4 1470.1h0M367.8 1415.8h0M404.8 1372.4h0M392.3 1435.4h0M436.6 1437.3h0M335.5 1455.9h0M390.5 1386.5h0M445.6 1421.5h0M369.3 1423.8h0M327.9 1464.9h0M430.6 1445.8h0M393.7 1311.5h0M373.8 1376.6h0M396.6 1374.7h0M385.4 1401.1h0M386.0 1378.2h0M417.9 1397.2h0M457.8 1397.7h0M325.0 1480.7h0M341.0 1450.0h0M371.6 1396.3h0M372.5 1417.3h0M360.3 1440.9h0M381.8 1407.0h0M356.2 1505.8h0M364.7 1448.6h0M338.2 1470.8h0M367.1 1486.0h0M366.2 1436.6h0M358.2 1431.8h0M390.6 1438.0h0M374.3 1432.2h0M352.7 1450.9h0M331.0 1458.9h0M382.3 1388.8h0M357.1 1419.4h0M369.9 1456.6h0M374.3 1383.8h0M307.3 1501.6h0M362.6 1403.4h0M402.9 1384.3h0M403.7 1380.8h0M357.9 1457.5h0M456.7 1402.0h0M374.9 1406.1h0M333.0 1485.7h0M350.9 1467.8h0M422.1 1460.5h0M362.1 1452.3h0M325.1 1472.2h0M371.7 1451.8h0M397.2 1311.6h0M354.0 1447.4h0M348.6 1474.5h0M367.0 1442.8h0M350.3 1445.1h0M378.2 1397.4h0M419.1 1462.7h0M369.3 1427.9h0M326.5 1466.4h0M380.9 1423.4h0M309.2 1499.3h0M352.7 1414.6h0M399.0 1338.4h0M382.3 1393.9h0M379.2 1409.6h0M381.9 1403.5h0M330.0 1484.0h0M301.8 1501.1h0M389.3 1355.9h0M338.1 1484.0h0M441.2 1428.9h0M343.9 1456.0h0M438.8 1433.8h0M358.4 1440.9h0M380.8 1438.3h0M356.4 1428.4h0M387.3 1442.6h0M422.7 1457.0h0M355.0 1464.9h0M380.8 1496.8h0M355.9 1423.1h0M380.9 1420.2h0M393.3 1397.3h0M319.8 1482.6h0M370.4 1450.8h0M341.4 1472.9h0M327.6 1487.1h0M434.2 1440.0h0M312.6 1484.2h0M335.8 1461.2h0M352.0 1444.3h0M377.2 1422.4h0M385.2 1432.9h0M360.1 1456.8h0M431.5 1445.0h0M348.1 1431.4h0M443.9 1425.2h0M338.9 1465.5h0M371.8 1499.6h0M406.5 1477.0h0M349.4 1436.9h0M310.0 1503.0h0M341.4 1439.6h0M344.6 1470.3h0M364.4 1480.3h0M337.4 1441.9h0M410.9 1473.5h0M354.4 1412.7h0M405.1 1422.6h0M375.2 1454.1h0M406.0 1313.0h0M329.7 1489.8h0M323.6 1469.1h0M345.7 1468.3h0M321.7 1478.4h0M294.5 1502.3h0M323.9 1468.7h0M435.5 1440.1h0M360.9 1414.3h0M420.2 1460.6h0M363.6 1427.8h0M381.2 1452.7h0M379.8 1359.2h0M373.4 1413.2h0M384.1 1425.1h0M383.1 1494.7h0M353.9 1449.5h0M449.1 1416.7h0M306.0 1495.7h0M400.3 1370.1h0M417.4 1466.1h0M375.5 1387.1h0M376.5 1443.2h0M395.2 1488.8h0M364.5 1418.4h0M355.2 1414.0h0M397.8 1485.2h0M326.2 1478.0h0M366.0 1443.2h0M326.2 1467.9h0M359.3 1469.5h0M379.0 1404.7h0M310.7 1493.8h0M348.5 1466.8h0M383.3 1347.3h0M400.7 1432.4h0M460.7 1391.8h0M400.3 1399.7h0M370.8 1379.1h0M349.6 1441.4h0M422.8 1459.8h0M393.7 1487.9h0M388.9 1336.7h0M380.6 1361.3h0M358.9 1405.4h0M356.4 1411.7h0M383.5 1371.7h0M366.1 1447.3h0M379.8 1418.0h0M351.9 1448.6h0M443.3 1427.0h0M358.1 1402.5h0M349.4 1441.9h0M388.6 1389.8h0M441.4 1429.2h0M365.6 1439.7h0M384.1 1364.9h0M391.2 1450.8h0M379.0 1412.0h0M386.6 1457.7h0M405.1 1478.4h0M320.7 1487.7h0M385.3 1396.5h0M352.0 1424.6h0M368.5 1423.6h0M457.2 1399.2h0M361.6 1414.6h0M385.9 1375.6h0M369.5 1375.0h0M346.4 1440.2h0M384.9 1423.8h0M369.3 1414.3h0M365.5 1415.2h0M448.7 1416.6h0M355.9 1438.1h0M386.5 1434.2h0M360.2 1428.9h0M387.3 1457.7h0M378.1 1498.7h0M360.7 1437.0h0M357.1 1463.4h0M330.9 1475.4h0M367.3 1409.0h0M364.7 1451.3h0M432.1 1444.2h0M394.1 1418.8h0M401.7 1380.8h0M458.8 1395.9h0M390.8 1490.3h0M337.6 1462.9h0M397.9 1367.9h0M389.3 1377.4h0M369.5 1500.3h0M379.2 1419.2h0M386.5 1393.0h0M406.1 1476.5h0M344.0 1457.7h0M371.0 1415.8h0M387.7 1457.2h0M353.3 1465.4h0M325.3 1496.3h0M360.9 1407.8h0M344.7 1461.7h0M316.9 1476.0h0M356.3 1444.3h0M299.7 1501.7h0M376.4 1415.4h0M392.9 1317.3h0M344.2 1433.4h0M373.5 1460.7h0M351.2 1440.1h0M400.2 1432.6h0M322.0 1489.8h0M460.4 1393.0h0M414.2 1467.7h0M419.8 1462.1h0M393.2 1373.2h0M312.3 1488.5h0M344.9 1431.9h0M340.8 1465.4h0M400.0 1365.8h0M374.5 1395.3h0M455.5 1403.6h0M379.9 1422.0h0M338.2 1455.4h0M330.4 1479.2h0"/>
<path d="M352.6 1448.7h0M335.2 1491.0h0M315.3 1488.4h0M377.5 1407.1h0M402.6 1413.0h0M366.7 1419.0h0M393.5 1372.7h0M345.0 1465.3h0M397.4 1423.1h0M412.0 1330.0h0M385.8 1493.5h0M368.4 1451.2h0M386.6 1391.7h0M380.2 1347.4h0M403.1 1411.9h0M392.4 1387.5h0M390.5 1401.4h0M392.5 1371.9h0M377.1 1410.1h0M346.8 1428.1h0M391.6 1424.1h0M382.7 1430.5h0M358.4 1474.1h0M430.9 1445.0h0M322.6 1491.5h0M394.9 1335.8h0M340.8 1476.0h0M363.0 1428.1h0M340.8 1437.8h0M353.4 1457.3h0M365.1 1418.8h0M446.5 1420.0h0M386.4 1395.0h0M444.8 1422.1h0M354.7 1416.4h0M391.6 1490.2h0M305.2 1502.2h0M465.7 1380.9h0M338.6 1449.5h0M386.1 1348.4h0M358.4 1405.1h0M403.2 1425.5h0M361.6 1419.9h0M362.2 1445.0h0M360.1 1440.7h0M391.4 1415.3h0M444.4 1422.5h0M336.6 1466.0h0M372.8 1439.0h0M339.1 1451.8h0M363.4 1442.2h0M467.0 1377.8h0M450.1 1414.5h0M359.8 1416.9h0M355.5 1503.3h0M355.9 1471.4h0M351.4 1441.0h0M365.3 1431.1h0M330.9 1468.4h0M381.0 1454.9h0M381.3 1495.2h0M397.0 1359.4h0M344.8 1435.8h0M354.6 1425.1h0M340.0 1451.8h0M386.4 1367.9h0M330.6 1472.1h0M362.6 1398.2h0M372.3 1458.0h0M392.2 1409.9h0M340.9 1459.2h0M294.7 1502.0h0M319.7 1488.1h0M450.1 1414.6h0M353.8 1409.1h0M366.6 1413.2h0M304.9 1494.8h0M366.6 1419.9h0M308.2 1490.4h0M409.0 1383.0h0M401.2 1377.2h0M365.8 1400.0h0M382.7 1400.5h0M360.5 1420.6h0M390.4 1491.1h0M454.5 1404.4h0M419.4 1460.2h0M440.9 1428.8h0M339.4 1470.0h0M378.9 1395.7h0M334.1 1479.7h0M356.1 1503.8h0M350.2 1465.4h0M381.0 1405.5h0M368.5 1450.8h0M415.5 1401.9h0M371.2 1499.9h0M332.0 1475.2h0M385.1 1358.3h0M310.9 1497.8h0M390.7 1385.4h0M363.1 1420.3h0M397.0 1368.9h0M366.4 1386.2h0M347.6 1459.6h0M359.5 1425.8h0M368.8 1417.0h0M384.2 1351.4h0M466.3 1379.5h0M331.4 1453.1h0M382.3 1426.7h0M335.5 1488.5h0M349.8 1421.7h0M424.5 1455.4h0M438.1 1435.9h0M372.8 1414.8h0M379.9 1406.9h0M299.3 1499.6h0M355.7 1505.2h0M389.3 1441.1h0M383.6 1340.4h0M391.5 1380.5h0M361.8 1465.0h0M364.2 1481.1h0M376.7 1371.5h0M369.2 1398.2h0M372.6 1438.5h0M353.1 1458.7h0M436.5 1436.5h0M340.5 1480.2h0M355.5 1451.3h0M369.0 1429.2h0M363.9 1400.4h0M376.4 1374.5h0M311.4 1492.3h0M395.9 1426.8h0M350.5 1446.8h0M350.3 1464.6h0M459.2 1394.9h0M390.5 1490.9h0M354.5 1455.9h0M371.9 1500.1h0M353.3 1479.7h0M324.5 1489.5h0M383.2 1407.2h0M377.6 1404.5h0M373.5 1407.9h0M310.1 1493.6h0M347.9 1430.4h0M390.6 1489.4h0M379.8 1367.4h0M391.7 1491.3h0M314.5 1484.4h0M376.6 1499.7h0M327.2 1484.4h0M359.8 1410.9h0M337.2 1470.7h0M433.6 1441.4h0M369.1 1404.2h0M359.4 1465.6h0M331.4 1474.5h0M387.8 1443.3h0M375.7 1407.4h0M387.9 1334.2h0M319.2 1489.5h0M399.6 1343.4h0M361.2 1394.7h0M360.1 1504.0h0M330.8 1460.8h0M359.7 1452.3h0M394.6 1380.2h0M406.2 1418.9h0M386.8 1372.5h0M338.1 1457.2h0M384.0 1449.2h0M400.5 1482.2h0M403.4 1368.4h0M384.0 1492.9h0M387.8 1491.6h0M398.0 1485.0h0M374.9 1424.9h0M357.8 1444.4h0M376.1 1410.6h0M443.7 1424.5h0M398.4 1377.4h0M453.5 1405.2h0M338.9 1453.6h0M334.2 1484.9h0M392.9 1329.2h0M345.6 1484.3h0M354.4 1433.3h0M366.3 1417.2h0M347.8 1434.8h0M342.5 1440.7h0M380.9 1499.1h0M447.2 1420.9h0M355.5 1502.9h0M371.4 1435.3h0M363.4 1420.1h0M445.1 1420.6h0M373.2 1450.8h0M421.2 1459.1h0M449.4 1416.0h0M367.8 1485.9h0M395.8 1342.4h0M386.0 1356.3h0M359.6 1442.7h0M368.1 1389.5h0M361.6 1447.8h0M376.3 1500.1h0M425.9 1453.5h0M372.1 1411.2h0M394.7 1393.0h0M338.7 1467.5h0M332.4 1476.7h0M402.8 1356.0h0M389.7 1335.7h0M332.9 1476.4h0M318.1 1487.6h0M369.2 1465.2h0M446.6 1421.0h0M422.5 1458.5h0M395.0 1345.7h0M380.4 1497.3h0M343.5 1488.4h0M377.7 1371.9h0M345.9 1456.4h0M352.7 1431.8h0M383.3 1493.7h0M398.7 1350.3h0M387.3 1361.0h0M431.9 1444.5h0M376.9 1394.1h0M350.8 1440.0h0M393.7 1445.9h0M368.8 1465.7h0M364.8 1390.6h0M416.8 1466.6h0M369.1 1383.2h0M318.1 1490.9h0M387.2 1365.5h0M317.3 1476.1h0M372.5 1391.0h0M342.6 1446.2h0M328.7 1460.4h0M363.3 1504.0h0M417.6 1463.7h0M318.3 1481.0h0M393.5 1359.8h0M353.2 1459.9h0M348.7 1451.6h0M372.3 1469.6h0M395.0 1362.8h0M400.7 1397.5h0M394.3 1371.2h0M421.6 1458.5h0M389.1 1326.8h0M381.2 1467.2h0M422.2 1459.0h0M441.9 1428.2h0M416.8 1399.6h0M400.6 1367.6h0M365.2 1480.4h0M369.8 1429.6h0M379.6 1413.7h0M366.4 1452.8h0M388.4 1373.9h0M340.1 1442.3h0M385.3 1343.0h0M367.8 1501.6h0M352.4 1430.0h0M392.7 1371.4h0M457.0 1398.4h0M398.6 1363.4h0M382.2 1400.9h0M419.8 1461.9h0M394.8 1342.4h0M392.3 1380.7h0M358.6 1405.7h0M395.8 1378.4h0M399.3 1418.8h0M366.9 1389.4h0M371.3 1442.6h0M370.8 1421.3h0M347.8 1471.8h0M394.6 1371.1h0M381.7 1438.2h0M348.0 1458.9h0M336.3 1446.4h0M407.2 1475.8h0M384.7 1436.6h0M360.6 1429.3h0M360.5 1424.9h0M386.4 1353.5h0M393.6 1345.5h0M449.5 1414.0h0M376.3 1368.6h0M360.4 1426.5h0M374.8 1419.4h0M355.8 1466.7h0M313.8 1487.9h0M422.3 1457.7h0M358.3 1426.1h0M406.7 1476.9h0M349.8 1461.7h0M382.3 1431.5h0M383.9 1389.3h0M397.0 1405.5h0M377.1 1460.9h0M358.4 1431.9h0M451.2 1412.6h0M394.6 1486.6h0M356.8 1410.5h0M393.1 1353.3h0M388.5 1494.1h0M444.2 1424.5h0M401.5 1416.7h0M385.4 1361.0h0M400.8 1481.1h0M362.3 1464.9h0M389.5 1389.2h0M397.0 1388.1h0M387.4 1493.8h0M307.1 1501.2h0M320.9 1474.1h0M448.6 1416.0h0M388.0 1443.3h0M388.0 1327.0h0M343.8 1488.0h0M432.1 1444.4h0M390.6 1362.4h0M373.4 1396.6h0M338.6 1439.9h0M355.0 1430.8h0M396.7 1486.8h0M368.0 1398.1h0M454.2 1405.5h0M349.4 1451.0h0M359.2 1428.7h0M345.1 1476.3h0M362.1 1414.1h0M353.5 1439.9h0M456.8 1400.1h0M435.2 1438.3h0M448.2 1416.5h0M383.1 1348.5h0M350.4 1461.5h0"/>
<path d="M344.8 1447.6h0M379.0 1396.9h0M378.9 1419.0h0M408.5 1475.0h0M365.9 1404.3h0M378.7 1395.8h0M367.0 1401.1h0M354.9 1504.1h0M380.5 1445.4h0M369.3 1429.2h0M351.4 1428.5h0M422.8 1455.7h0M380.4 1374.6h0M365.2 1445.5h0M385.0 1435.1h0M400.8 1416.5h0M369.5 1456.3h0M400.6 1383.0h0M386.2 1445.8h0M365.3 1440.9h0M328.5 1471.3h0M364.3 1445.8h0M436.1 1438.0h0M407.1 1420.9h0M322.5 1487.0h0M343.7 1448.7h0M459.0 1395.7h0M354.2 1453.3h0M376.3 1400.1h0M400.2 1359.2h0M383.4 1367.0h0M361.0 1444.0h0M402.4 1376.3h0M374.2 1500.4h0M384.5 1447.5h0M391.0 1321.2h0M354.1 1471.1h0M336.9 1447.1h0M434.7 1439.9h0M392.9 1380.2h0M321.5 1476.5h0M425.5 1454.2h0M349.4 1452.4h0M398.5 1336.3h0M399.7 1360.2h0M324.0 1494.8h0M458.2 1397.0h0M388.2 1440.5h0M400.6 1433.2h0M363.7 1455.4h0M377.2 1500.8h0M399.8 1390.8h0M416.9 1398.0h0M393.0 1327.9h0M380.2 1414.3h0M394.6 1424.2h0M372.0 1390.3h0M367.7 1456.4h0M312.0 1499.6h0M308.5 1489.6h0M361.1 1413.0h0M396.5 1355.4h0M393.7 1430.9h0M368.8 1504.7h0M375.5 1361.0h0M453.5 1405.9h0M348.2 1435.3h0M405.3 1478.0h0M328.9 1479.0h0M387.6 1434.8h0M381.9 1352.9h0M349.7 1431.3h0M368.5 1420.9h0M383.3 1361.9h0M384.3 1397.0h0M380.2 1380.3h0M397.9 1438.1h0M313.9 1491.6h0M359.9 1503.5h0M353.4 1503.0h0M456.4 1401.5h0M392.0 1327.9h0M400.0 1326.0h0M326.2 1489.2h0M338.3 1472.4h0M356.2 1456.5h0M408.9 1417.2h0M321.5 1484.3h0M321.3 1473.9h0M326.0 1494.5h0M372.1 1407.6h0M389.6 1358.2h0M379.4 1379.3h0M457.7 1398.4h0M371.2 1388.9h0M437.2 1437.0h0M350.1 1481.4h0M356.8 1463.6h0M412.8 1406.7h0M325.6 1489.3h0M397.8 1437.4h0M394.6 1375.9h0M368.2 1442.6h0M314.0 1486.1h0M385.9 1417.8h0M315.9 1492.2h0M328.1 1467.3h0M328.0 1489.9h0M362.6 1389.8h0M314.4 1495.3h0M316.4 1478.2h0M356.4 1448.9h0M400.4 1386.6h0M321.8 1475.4h0M350.4 1429.8h0M338.0 1445.2h0M395.3 1360.6h0M387.1 1340.7h0M348.8 1442.0h0M332.4 1459.8h0M369.5 1454.5h0M316.6 1484.2h0M351.5 1413.3h0M390.8 1373.7h0M346.8 1466.3h0M335.8 1468.9h0M406.6 1478.6h0M391.7 1381.6h0M432.3 1442.8h0M372.3 1406.1h0M370.9 1381.0h0M361.6 1428.1h0M454.5 1403.8h0M378.6 1373.7h0M386.9 1340.7h0M337.3 1448.3h0M375.8 1463.5h0M395.7 1341.2h0M377.7 1433.4h0M361.4 1405.5h0M402.6 1482.4h0M375.3 1420.7h0M384.0 1393.2h0M356.7 1445.1h0M372.0 1389.5h0M382.9 1493.9h0M398.2 1377.5h0M377.6 1448.3h0M375.4 1378.0h0M437.0 1436.9h0M382.0 1440.7h0M382.6 1494.8h0M342.7 1472.3h0M374.0 1421.6h0M408.9 1473.9h0M371.2 1432.7h0M335.4 1485.8h0M349.9 1470.1h0M356.2 1433.8h0M363.8 1453.4h0M384.1 1360.6h0M343.2 1472.8h0M368.1 1413.2h0M391.2 1490.6h0M400.4 1390.6h0M371.4 1370.7h0M359.2 1419.9h0M309.3 1497.2h0M351.6 1437.9h0M447.2 1419.9h0M381.4 1429.2h0M338.9 1454.9h0M382.2 1384.4h0M318.8 1485.9h0M370.0 1376.5h0M393.7 1384.3h0M368.1 1444.0h0M377.0 1405.4h0M319.6 1482.1h0M399.5 1355.5h0M383.6 1450.4h0M339.6 1446.4h0M417.1 1464.8h0M365.4 1399.8h0M342.7 1478.7h0M382.0 1494.3h0M378.5 1470.5h0M368.9 1503.3h0M403.5 1411.2h0M397.3 1412.1h0M433.4 1441.2h0M380.5 1423.9h0M375.9 1395.7h0M361.3 1453.5h0M390.6 1402.9h0M447.6 1419.0h0M356.2 1409.8h0M368.4 1455.3h0M420.4 1390.2h0M331.0 1461.3h0M335.4 1450.2h0M364.7 1396.3h0M442.4 1427.7h0M346.4 1477.3h0M415.4 1399.3h0M348.6 1465.9h0M352.0 1417.5h0M379.3 1366.7h0M364.5 1402.4h0M356.9 1433.4h0M385.0 1346.9h0M393.0 1488.5h0M312.6 1489.9h0M336.0 1482.3h0M455.3 1402.7h0M370.2 1407.2h0M373.3 1501.2h0M384.0 1401.6h0M379.5 1427.3h0M325.4 1464.0h0M358.0 1464.2h0M353.7 1505.0h0M335.7 1450.2h0M374.7 1419.3h0M418.2 1466.0h0M393.9 1406.0h0M366.9 1396.3h0M398.5 1381.0h0M405.3 1479.6h0M394.9 1340.7h0M327.9 1486.9h0M392.9 1356.4h0M379.3 1469.1h0M356.7 1469.3h0M369.9 1471.9h0M308.5 1491.3h0M337.4 1455.6h0M372.1 1438.9h0M362.0 1430.6h0M335.1 1458.0h0M401.7 1394.1h0M343.8 1470.2h0M373.8 1428.6h0M347.6 1439.8h0M299.9 1497.7h0M380.9 1353.6h0M352.0 1504.0h0M357.6 1470.9h0M328.3 1473.8h0M435.0 1441.7h0M399.9 1366.8h0M357.1 1466.5h0M386.0 1397.4h0M363.6 1505.2h0M388.9 1334.4h0M363.5 1424.9h0M322.2 1479.6h0M375.8 1432.0h0M344.7 1460.8h0M369.9 1406.5h0M389.1 1351.5h0M338.9 1469.6h0M403.5 1427.4h0M320.2 1471.1h0M330.7 1465.1h0M341.2 1452.9h0M326.6 1476.9h0M441.6 1426.8h0M417.7 1464.4h0M379.6 1370.8h0M354.8 1420.8h0M335.9 1480.3h0M377.1 1473.6h0M364.1 1432.7h0M393.6 1381.9h0M353.6 1447.3h0M323.8 1474.8h0M326.2 1466.8h0M387.3 1421.4h0M389.8 1368.4h0M390.4 1346.7h0M398.3 1483.6h0M397.7 1405.7h0M372.1 1428.4h0M387.7 1353.7h0M341.7 1475.9h0M399.2 1357.0h0M391.8 1356.9h0M367.5 1501.8h0M383.7 1450.0h0M435.7 1442.1h0M377.4 1364.4h0M373.6 1477.3h0M358.0 1503.0h0M376.2 1402.1h0M345.2 1445.4h0M429.7 1448.5h0M362.4 1483.4h0M394.9 1398.2h0M455.4 1403.4h0M386.2 1422.9h0M406.7 1420.7h0M329.0 1481.6h0M359.5 1433.9h0M359.3 1417.5h0M316.5 1488.6h0M403.3 1369.4h0M379.5 1445.4h0M390.3 1367.8h0M322.6 1472.6h0M361.5 1429.5h0M388.9 1440.4h0M380.6 1437.0h0M383.1 1430.0h0M361.2 1425.5h0M325.9 1488.5h0M386.5 1335.3h0M377.3 1394.5h0M364.9 1439.1h0M394.8 1348.9h0M353.6 1445.6h0M379.1 1411.0h0M382.3 1354.9h0M363.2 1420.9h0M380.0 1399.3h0M433.4 1443.5h0M368.8 1485.3h0M384.3 1434.2h0M376.4 1411.5h0M386.4 1353.2h0M389.5 1388.4h0M386.8 1340.2h0M356.7 1435.3h0M366.1 1422.4h0M450.1 1413.9h0M379.0 1434.3h0M395.3 1404.0h0M402.4 1373.4h0M335.2 1476.1h0M301.8 1502.1h0M395.4 1408.4h0M360.2 1445.4h0M358.7 1437.6h0M398.6 1370.4h0M376.6 1425.4h0M397.2 1381.7h0M334.4 1458.3h0"/>
<path d="M364.2 1414.9h0M394.5 1362.3h0M382.0 1357.4h0M393.9 1362.3h0M327.6 1493.2h0M385.7 1345.8h0M379.3 1363.6h0M395.5 1486.3h0M352.1 1469.7h0M418.9 1462.2h0M364.3 1403.6h0M348.5 1474.6h0M304.6 1492.6h0M355.8 1479.2h0M365.3 1478.7h0M368.9 1399.5h0M301.6 1502.3h0M389.2 1356.8h0M386.9 1434.6h0M355.8 1404.6h0M321.2 1470.1h0M373.2 1466.7h0M391.9 1349.9h0M369.9 1430.8h0M295.8 1500.4h0M341.1 1471.5h0M358.8 1449.8h0M446.3 1420.0h0M387.1 1445.4h0M366.6 1453.0h0M382.4 1397.1h0M339.7 1464.8h0M374.9 1500.1h0M342.2 1464.8h0M356.7 1410.8h0M373.8 1398.4h0M372.4 1367.4h0M402.1 1368.7h0M447.3 1417.7h0M346.2 1466.2h0M343.3 1474.2h0M423.9 1455.8h0M359.2 1434.2h0M368.3 1425.7h0M378.8 1413.6h0M375.8 1424.2h0M381.5 1366.3h0M376.7 1383.8h0M360.1 1406.6h0M359.7 1422.6h0M399.7 1368.6h0M338.9 1484.1h0M377.0 1358.2h0M360.4 1418.6h0M377.0 1388.6h0M384.3 1462.3h0M371.7 1501.6h0M320.2 1473.0h0M381.9 1423.9h0M393.4 1413.4h0M366.4 1448.1h0M368.4 1398.5h0M343.6 1451.8h0M449.9 1412.7h0M387.0 1374.1h0M356.5 1504.3h0M360.6 1469.7h0M403.1 1373.0h0M386.2 1347.3h0M388.3 1381.4h0M339.5 1450.0h0M389.6 1441.3h0M385.8 1369.7h0M351.1 1421.4h0M360.9 1468.1h0M427.8 1449.5h0M390.6 1380.5h0M337.4 1455.4h0M353.3 1427.7h0M363.6 1442.8h0M457.1 1399.9h0M338.0 1470.7h0M405.4 1475.8h0M355.1 1414.9h0M322.1 1486.6h0M395.8 1428.3h0M389.1 1393.2h0M303.1 1501.8h0M326.0 1466.2h0M373.6 1382.8h0M345.8 1468.8h0M441.7 1427.6h0M367.2 1397.6h0M304.3 1497.8h0M368.8 1501.5h0M354.3 1412.9h0M396.7 1363.9h0M396.8 1414.6h0M442.1 1426.3h0M402.5 1391.4h0M457.9 1396.2h0M361.3 1464.5h0M390.2 1437.2h0M354.9 1470.5h0M387.2 1394.9h0M382.3 1402.3h0M383.7 1375.6h0M389.9 1331.9h0M393.3 1426.3h0M331.3 1469.1h0M399.4 1384.2h0M432.7 1442.5h0M383.4 1364.9h0M389.2 1412.8h0M336.3 1462.6h0M393.1 1488.5h0M391.0 1403.4h0M359.3 1412.3h0M464.4 1383.8h0M409.6 1417.4h0M379.9 1446.3h0M427.9 1452.7h0M395.6 1414.5h0M350.6 1456.9h0M354.4 1414.3h0M382.2 1366.0h0M426.9 1451.2h0M420.9 1461.7h0M376.8 1499.1h0M311.2 1494.3h0M386.2 1396.2h0M363.6 1399.9h0M363.8 1433.7h0M386.8 1413.5h0M340.6 1471.8h0M386.8 1404.5h0M389.2 1334.9h0M384.1 1365.3h0M354.0 1447.6h0M386.5 1493.1h0M389.9 1386.7h0M386.9 1359.0h0M333.3 1459.3h0M398.7 1482.7h0M374.0 1403.9h0M364.1 1454.1h0M395.4 1382.2h0M415.3 1466.5h0M401.7 1480.2h0M354.2 1423.8h0M383.5 1403.8h0M332.9 1458.7h0M343.6 1448.3h0M307.0 1497.1h0M395.4 1410.2h0M396.0 1379.2h0M392.4 1434.5h0M358.1 1420.5h0M306.4 1499.4h0M380.0 1388.2h0M346.9 1475.8h0M384.4 1411.3h0M432.5 1441.7h0M334.1 1474.2h0M358.3 1443.0h0M394.8 1361.8h0M336.2 1453.7h0M401.0 1413.8h0M358.3 1443.6h0M385.8 1357.2h0M379.5 1454.5h0M365.6 1441.0h0M404.9 1423.1h0M370.2 1411.2h0M396.1 1379.5h0M409.3 1475.4h0M354.8 1438.2h0M380.0 1383.0h0M389.2 1334.8h0M448.9 1413.9h0M348.1 1428.5h0M374.9 1400.0h0M314.1 1498.8h0M358.7 1412.0h0M332.4 1464.1h0M393.2 1377.7h0M377.5 1378.5h0M381.8 1344.6h0M363.8 1421.9h0M366.9 1418.0h0M399.7 1482.8h0M330.1 1480.8h0M315.5 1495.0h0M411.4 1411.2h0M333.4 1478.5h0M361.4 1450.9h0M400.5 1480.7h0M372.5 1377.6h0M459.3 1394.1h0M313.7 1487.9h0M358.3 1400.3h0M358.8 1504.4h0M359.8 1452.5h0M367.8 1401.9h0M394.3 1356.4h0M380.9 1408.7h0M401.3 1430.4h0M389.2 1382.8h0M342.4 1446.4h0M378.1 1374.8h0M415.9 1468.6h0M455.6 1403.4h0M358.7 1461.1h0M377.0 1406.0h0M324.9 1474.5h0M363.8 1422.7h0M383.4 1375.0h0M304.0 1496.5h0M384.0 1448.4h0M318.0 1478.0h0M359.0 1462.4h0M344.1 1488.1h0M359.2 1398.0h0M350.9 1435.1h0M387.4 1494.6h0M336.4 1475.1h0M393.3 1363.9h0M378.5 1355.3h0M389.4 1415.9h0M361.7 1434.0h0M376.1 1397.7h0M418.4 1462.7h0M328.5 1468.0h0M372.4 1401.5h0M349.2 1455.0h0M373.2 1380.9h0M421.3 1459.8h0M352.4 1437.4h0M383.6 1386.5h0M367.0 1396.4h0M301.2 1497.3h0M369.3 1500.6h0M455.5 1405.4h0M309.3 1494.2h0M434.0 1439.4h0M378.2 1448.9h0M341.1 1486.3h0M389.9 1440.3h0M329.2 1474.6h0M387.5 1354.0h0M429.6 1447.5h0M369.9 1453.2h0M364.8 1395.1h0M419.8 1461.0h0M406.9 1475.5h0M451.4 1408.4h0M355.1 1436.1h0M320.8 1475.2h0M392.6 1488.4h0M363.3 1411.5h0M351.5 1473.5h0M348.2 1475.2h0M358.9 1443.7h0M376.3 1377.2h0M417.7 1464.0h0M437.1 1437.7h0M399.2 1407.1h0M358.8 1420.3h0M388.5 1389.2h0M364.5 1437.3h0M353.9 1476.8h0M409.0 1475.0h0M376.8 1498.9h0M396.9 1347.6h0M416.7 1465.8h0M335.0 1470.5h0M373.8 1406.1h0M407.6 1476.1h0M324.3 1490.6h0M345.9 1428.1h0M392.2 1360.2h0M416.5 1399.6h0M381.0 1368.4h0M398.4 1381.2h0M394.4 1337.4h0M377.5 1451.1h0M463.2 1386.3h0M348.2 1458.7h0M328.9 1458.9h0M335.8 1481.6h0M420.6 1389.6h0M339.5 1438.5h0M352.5 1422.2h0M363.8 1405.9h0M343.5 1474.0h0M454.0 1406.5h0M380.5 1377.8h0M365.2 1466.2h0M441.7 1428.5h0M423.4 1457.2h0M362.6 1450.3h0M306.0 1492.9h0M323.4 1473.5h0M355.6 1504.8h0M335.7 1452.3h0M397.5 1415.8h0M378.9 1380.9h0M351.1 1451.4h0M348.1 1447.9h0M425.3 1454.5h0M355.3 1461.0h0M370.4 1448.0h0M374.0 1384.4h0M348.0 1474.5h0M391.9 1401.5h0M354.7 1416.6h0M418.4 1463.0h0M330.5 1467.4h0M307.1 1501.6h0M460.5 1392.2h0M362.8 1436.3h0M351.9 1456.9h0M396.9 1404.5h0M380.7 1428.1h0M395.9 1332.5h0M456.7 1400.6h0M390.7 1363.5h0M381.8 1382.6h0M394.9 1339.5h0M336.6 1445.4h0M321.6 1493.9h0M366.6 1398.2h0M373.8 1402.0h0M341.2 1443.0h0M339.5 1490.6h0M368.6 1442.9h0M318.8 1485.7h0M327.8 1482.9h0M443.6 1426.3h0M404.8 1378.9h0M446.0 1422.7h0M391.9 1344.8h0M464.9 1382.6h0M398.9 1484.5h0M369.4 1501.9h0M337.4 1476.7h0M460.0 1393.7h0"/>
</g>
<g fill="none" stroke="#dc281e" stroke-opacity="0.6" stroke-width="3.4" stroke-linecap="round">
<path d="M238.0 1452.0h0M255.5 1491.0h0M270.0 1501.0h0M268.0 1497.0h0M273.0 1501.0h0"/>
<path d="M257.0 1483.0h0M262.0 1496.0h0M275.0 1502.0h0M272.0 1502.0h0M260.0 1492.0h0"/>
<path d="M259.5 1487.0h0M267.0 1499.0h0M264.0 1498.0h0M266.0 1495.0h0"/>
</g>
<line x1="98.4" y1="1303.7" x2="98.4" y2="1516.9" stroke="#111" stroke-width="2.3"/>
<line x1="97.3" y1="1515.8" x2="490.6" y2="1515.8" stroke="#111" stroke-width="2.3"/>
<line x1="286" y1="1303.7" x2="286" y2="1529.8" stroke="#111" stroke-width="2.3"/>
<line x1="115.9" y1="1515.8" x2="115.9" y2="1529.8" stroke="#111" stroke-width="2.3"/>
<line x1="201" y1="1515.8" x2="201" y2="1529.8" stroke="#111" stroke-width="2.3"/>
<line x1="370" y1="1515.8" x2="370" y2="1529.8" stroke="#111" stroke-width="2.3"/>
<line x1="455" y1="1515.8" x2="455" y2="1529.8" stroke="#111" stroke-width="2.3"/>
<line x1="84.5" y1="1346.7" x2="98.4" y2="1346.7" stroke="#111" stroke-width="2.3"/>
<text x="31" y="1353.5" font-size="31" textLength="48.93" lengthAdjust="spacingAndGlyphs" stroke="#fff" stroke-width="0.62">100</text>
<line x1="84.5" y1="1426.5" x2="98.4" y2="1426.5" stroke="#111" stroke-width="2.3"/>
<text x="46.29" y="1433.3" font-size="31" textLength="33.64" lengthAdjust="spacingAndGlyphs" stroke="#fff" stroke-width="0.62">50</text>
<line x1="84.5" y1="1505.5" x2="98.4" y2="1505.5" stroke="#111" stroke-width="2.3"/>
<text x="62.96" y="1512.3" font-size="31" stroke="#fff" stroke-width="0.62">0</text>
<line x1="98.4" y1="1503.9" x2="490.6" y2="1503.9" stroke="#111" stroke-width="2.3" stroke-dasharray="18.5 18.5" stroke-dashoffset="0"/>
<text x="158.88" y="1320.8" font-size="25.6" textLength="67.78" lengthAdjust="spacingAndGlyphs" fill="#dc281e" stroke="#fff" stroke-width="0.35">Blood</text>
<text x="113.45" y="1351.8" font-size="25.6" textLength="156.82" lengthAdjust="spacingAndGlyphs" fill="#dc281e" stroke="#fff" stroke-width="0.35">contaminants</text>
<text x="128.09" y="1383.1" font-size="25.6" textLength="127.94" lengthAdjust="spacingAndGlyphs" fill="#dc281e" stroke="#fff" stroke-width="0.35">(26 genes)</text>
<g stroke="#fff" transform="translate(22.5 1495) rotate(-90)"><text x="-1.49" y="0" font-size="31" stroke-width="0.63" textLength="55.05" lengthAdjust="spacingAndGlyphs">-log</text><text x="52.76" y="9.5" font-size="16" stroke-width="0.22" textLength="18.35" lengthAdjust="spacingAndGlyphs">10</text><text x="70.46" y="0" font-size="31" stroke-width="0.63" textLength="102.79" lengthAdjust="spacingAndGlyphs">p-value</text></g>
<g fill="none" stroke="#000" stroke-opacity="0.44" stroke-width="3.3" stroke-linecap="round">
<path d="M296.8 1740.9h0M297.5 1741.9h0M315.2 1723.5h0M297.6 1739.8h0M300.0 1745.8h0M315.4 1722.6h0M294.9 1743.3h0M329.6 1702.2h0M342.9 1671.8h0M300.9 1737.8h0M313.4 1720.7h0M337.1 1688.3h0M347.5 1673.7h0M335.6 1694.8h0M305.9 1733.5h0M322.7 1715.0h0M296.8 1741.1h0M300.6 1739.9h0M356.4 1665.6h0M308.1 1731.1h0M333.7 1690.8h0M307.2 1729.9h0M294.9 1745.4h0M332.6 1693.8h0M342.4 1665.4h0M292.9 1744.6h0M304.7 1731.9h0M320.1 1722.9h0M380.8 1590.7h0M319.7 1711.0h0M340.5 1673.6h0M362.0 1658.0h0M363.6 1624.2h0M327.7 1700.2h0M314.4 1726.9h0M326.9 1700.0h0M324.0 1709.2h0M328.9 1707.0h0M319.1 1712.4h0M303.7 1742.4h0M419.5 1689.7h0M297.5 1740.9h0M336.8 1699.7h0M301.4 1737.1h0M322.4 1711.0h0M336.5 1697.3h0M293.1 1744.9h0M318.8 1715.9h0M343.3 1664.4h0M332.5 1689.4h0M305.8 1740.8h0M312.5 1724.7h0M345.5 1670.3h0M332.7 1689.1h0M340.7 1713.5h0M320.9 1716.5h0M330.3 1707.1h0M363.0 1620.4h0M337.8 1673.9h0M330.6 1703.6h0M313.2 1725.3h0M371.2 1694.2h0M391.6 1723.9h0M295.5 1741.7h0M359.9 1668.6h0M358.4 1642.7h0M307.4 1729.6h0M334.7 1686.9h0M332.8 1686.8h0M364.1 1617.6h0M350.8 1653.9h0M308.5 1729.9h0M393.0 1585.0h0M337.7 1675.4h0M352.8 1712.4h0M350.4 1651.5h0M346.9 1659.9h0M316.2 1715.2h0M294.4 1744.3h0M321.7 1709.4h0M293.0 1745.0h0M396.0 1578.0h0M350.3 1686.9h0M305.3 1731.7h0M333.0 1694.0h0M385.0 1598.0h0M318.7 1711.3h0M350.9 1692.6h0M325.4 1714.2h0M322.6 1725.5h0M328.6 1693.5h0M349.3 1647.8h0M327.9 1705.6h0M325.8 1716.2h0M320.4 1715.7h0M328.0 1697.0h0M326.1 1701.7h0M336.3 1687.8h0M361.4 1744.1h0M308.3 1730.4h0M302.3 1737.8h0M362.3 1636.2h0M300.8 1736.3h0M347.7 1662.2h0M368.3 1618.9h0M301.8 1739.5h0M344.8 1717.8h0M368.7 1659.0h0M341.7 1674.0h0M418.0 1556.0h0M350.3 1664.1h0M360.5 1640.4h0M335.4 1689.5h0M317.3 1715.5h0M333.8 1685.8h0M365.3 1705.5h0M302.0 1742.9h0M330.4 1714.7h0M316.8 1719.7h0M347.3 1707.8h0M305.0 1733.8h0M317.7 1716.1h0M289.3 1746.2h0M341.2 1686.4h0M333.8 1689.1h0M349.4 1662.0h0M326.5 1723.5h0M335.5 1691.7h0M317.9 1722.0h0M359.2 1667.9h0M321.7 1734.1h0M292.1 1745.3h0M314.4 1732.1h0M313.0 1721.8h0M326.5 1726.9h0M328.8 1721.7h0M333.3 1686.7h0M342.8 1671.1h0M290.8 1745.6h0M301.3 1738.7h0M307.6 1735.3h0M313.6 1719.5h0M442.0 1657.0h0M303.1 1736.5h0M350.7 1691.7h0M301.3 1736.4h0M285.0 1748.3h0M324.0 1719.4h0M360.1 1713.0h0M350.0 1662.7h0M342.0 1694.0h0M316.3 1728.0h0M344.4 1675.7h0M318.9 1722.6h0M331.1 1700.0h0M356.2 1653.0h0M296.6 1740.6h0M322.0 1708.2h0M333.6 1724.1h0M368.2 1706.6h0M327.4 1697.3h0M319.0 1726.6h0M301.6 1740.6h0M330.9 1711.2h0M347.6 1655.3h0M296.7 1747.1h0M335.1 1697.7h0M324.8 1706.1h0M411.2 1701.8h0M318.6 1733.8h0M312.1 1722.6h0M348.4 1652.1h0M290.4 1747.0h0M328.6 1694.0h0M295.8 1743.1h0M315.7 1722.3h0M321.9 1717.6h0M358.4 1658.9h0M346.3 1662.2h0M309.6 1726.9h0M285.8 1748.3h0M370.6 1613.4h0M340.8 1681.8h0M342.7 1676.0h0M291.9 1746.3h0M355.8 1645.7h0M373.6 1706.6h0M379.0 1627.7h0M308.8 1729.6h0M346.8 1708.9h0M308.0 1732.9h0M341.4 1729.3h0M297.5 1740.7h0M345.1 1677.9h0M322.7 1717.9h0M294.0 1744.8h0M354.5 1647.0h0M372.0 1662.6h0M299.3 1738.3h0M305.1 1735.3h0M369.8 1628.4h0M342.6 1670.6h0M305.5 1732.1h0M315.5 1725.1h0M333.4 1700.5h0M360.1 1626.6h0M328.7 1695.4h0M344.4 1662.6h0M302.5 1737.5h0M366.9 1618.7h0M357.3 1632.6h0M316.3 1721.5h0M346.3 1664.7h0M308.6 1727.1h0M304.3 1732.8h0M341.9 1670.3h0M332.5 1702.8h0M350.9 1679.2h0M338.4 1699.1h0M314.5 1726.3h0M382.1 1681.1h0M330.1 1692.6h0M344.0 1664.3h0M341.8 1680.2h0M329.1 1693.7h0M293.6 1744.1h0M338.0 1705.5h0M319.6 1710.3h0M318.1 1712.5h0M326.3 1710.9h0M352.2 1642.5h0M348.8 1720.5h0M324.0 1726.4h0M366.5 1626.6h0M368.3 1612.2h0M300.7 1738.6h0M343.9 1670.9h0M291.2 1746.0h0M329.4 1692.9h0M334.9 1705.2h0M301.3 1736.2h0M374.8 1585.8h0M331.9 1688.2h0M296.2 1741.1h0M297.9 1740.2h0M314.7 1721.5h0M347.2 1674.7h0M292.6 1744.3h0M319.2 1712.2h0M318.0 1724.4h0M360.5 1626.4h0M310.4 1728.3h0M342.7 1698.8h0M336.1 1692.9h0M311.2 1731.8h0M308.6 1729.9h0M326.4 1698.1h0M316.4 1722.0h0M322.7 1712.1h0M323.3 1705.2h0M348.0 1738.6h0M307.0 1732.4h0M318.7 1723.8h0M320.1 1727.6h0M338.0 1709.7h0M342.3 1671.6h0M347.1 1667.8h0M333.3 1711.6h0M339.3 1671.4h0M388.6 1646.0h0M347.2 1661.6h0M319.3 1721.5h0M305.5 1734.2h0M288.7 1746.7h0M323.9 1703.0h0M350.3 1649.9h0M346.4 1655.0h0M293.0 1745.3h0M315.1 1722.6h0M313.8 1720.8h0M322.1 1707.8h0M335.8 1685.1h0M319.5 1722.9h0M329.5 1696.8h0M343.6 1689.1h0M326.1 1709.6h0M315.0 1717.7h0M321.1 1715.7h0M367.7 1670.1h0M312.5 1725.0h0M323.3 1708.1h0M354.7 1652.9h0M318.5 1711.6h0M368.0 1601.4h0M327.6 1713.2h0M331.1 1692.8h0M320.5 1711.0h0M298.1 1740.1h0M312.6 1725.8h0M346.3 1664.9h0M315.3 1722.9h0M319.8 1717.9h0M345.4 1659.5h0M325.6 1700.2h0M284.7 1748.4h0M311.6 1728.7h0M313.9 1728.2h0M322.6 1713.8h0M310.7 1724.0h0"/>
<path d="M359.3 1652.3h0M396.4 1720.8h0M363.6 1685.0h0M295.5 1742.7h0M324.2 1707.1h0M312.6 1728.3h0M323.1 1707.1h0M304.9 1736.7h0M323.0 1706.9h0M340.8 1668.2h0M302.2 1738.2h0M293.2 1743.8h0M327.3 1705.8h0M351.9 1704.0h0M312.9 1728.6h0M381.3 1659.3h0M403.5 1623.8h0M316.8 1716.2h0M349.3 1648.0h0M362.8 1618.8h0M325.9 1728.4h0M299.3 1739.9h0M309.5 1733.4h0M329.0 1698.1h0M318.3 1734.9h0M330.8 1709.6h0M353.1 1642.1h0M332.7 1696.0h0M315.9 1725.7h0M301.7 1738.4h0M327.9 1698.0h0M343.5 1661.2h0M298.5 1740.8h0M379.7 1674.8h0M342.6 1672.7h0M323.0 1729.0h0M334.3 1715.8h0M325.0 1716.1h0M323.2 1716.8h0M289.2 1748.0h0M354.5 1689.2h0M352.3 1643.9h0M328.3 1727.4h0M423.0 1633.0h0M325.0 1712.1h0M306.2 1732.5h0M321.4 1735.5h0M332.8 1694.3h0M341.2 1698.3h0M339.6 1696.5h0M289.7 1746.4h0M304.2 1739.3h0M328.9 1705.5h0M335.3 1690.1h0M369.8 1677.5h0M305.8 1732.3h0M313.0 1727.1h0M292.6 1745.5h0M321.9 1727.1h0M333.5 1704.0h0M333.3 1706.5h0M323.4 1703.4h0M338.9 1671.8h0M318.2 1713.8h0M391.2 1610.3h0M362.4 1681.2h0M311.5 1727.4h0M393.2 1653.8h0M330.8 1727.7h0M362.8 1643.3h0M353.5 1643.0h0M348.9 1697.5h0M332.7 1694.0h0M312.6 1724.7h0M337.2 1698.1h0M289.0 1746.5h0M310.5 1738.6h0M358.2 1643.0h0M327.4 1707.3h0M358.9 1639.3h0M357.5 1648.9h0M305.8 1740.1h0M351.5 1703.8h0M333.3 1712.2h0M380.6 1641.1h0M310.8 1727.0h0M319.1 1712.7h0M294.3 1743.9h0M290.1 1745.8h0M298.6 1740.2h0M405.0 1570.0h0M304.8 1743.5h0M337.8 1703.5h0M329.6 1705.1h0M309.5 1727.3h0M301.5 1739.3h0M347.8 1674.6h0M344.4 1710.2h0M368.6 1672.0h0M309.7 1729.2h0M337.4 1675.0h0M316.2 1725.2h0M341.8 1674.1h0M299.1 1739.0h0M308.6 1732.6h0M291.9 1747.4h0M302.0 1740.4h0M331.9 1695.4h0M360.7 1660.4h0M357.4 1641.1h0M320.0 1711.7h0M345.7 1698.4h0M312.6 1726.3h0M321.1 1713.0h0M292.9 1745.5h0M305.0 1732.7h0M314.7 1722.4h0M328.8 1707.5h0M321.0 1719.5h0M301.7 1736.3h0M359.8 1627.2h0M299.6 1737.9h0M309.5 1727.0h0M333.1 1694.9h0M365.4 1610.6h0M335.8 1683.8h0M340.6 1667.9h0M329.1 1710.2h0M302.8 1735.6h0M283.8 1748.7h0M328.1 1713.1h0M347.1 1691.3h0M322.6 1714.8h0M314.8 1719.3h0M344.7 1715.3h0M387.6 1676.2h0M350.2 1708.3h0M428.7 1676.9h0M284.6 1748.5h0M319.4 1711.5h0M355.5 1678.9h0M312.8 1722.6h0M347.7 1669.8h0M354.2 1649.8h0M355.0 1684.5h0M336.5 1677.7h0M340.2 1690.8h0M351.3 1647.1h0M330.5 1716.1h0M338.6 1678.9h0M326.4 1717.3h0M330.9 1697.2h0M306.5 1741.4h0M340.7 1681.5h0M339.0 1679.6h0M358.0 1659.6h0M324.6 1705.2h0M348.1 1690.7h0M330.2 1718.2h0M334.2 1686.6h0M338.0 1686.3h0M305.1 1732.1h0M344.6 1703.4h0M326.8 1722.4h0M304.7 1734.0h0M320.9 1710.0h0M287.9 1747.7h0M297.3 1740.2h0M315.9 1729.3h0M301.3 1738.9h0M319.0 1713.1h0M313.0 1731.0h0M427.6 1675.8h0M345.8 1693.5h0M335.6 1696.9h0M350.3 1660.0h0M386.1 1671.6h0M340.7 1679.1h0M392.0 1610.0h0M285.8 1748.4h0M350.6 1652.5h0M318.1 1714.7h0M383.2 1733.2h0M323.1 1709.4h0M335.7 1699.5h0M334.6 1700.6h0M344.6 1677.3h0M356.2 1639.0h0M300.3 1737.3h0M350.1 1662.8h0M371.2 1647.5h0M347.8 1711.9h0M321.2 1734.7h0M330.7 1713.3h0M307.9 1732.5h0M341.6 1716.8h0M312.3 1725.1h0M332.0 1695.8h0M340.3 1705.0h0M346.3 1716.5h0M365.6 1615.4h0M351.5 1708.9h0M340.9 1690.3h0M328.4 1701.1h0M359.2 1639.4h0M303.0 1738.9h0M289.2 1746.3h0M343.3 1685.1h0M324.5 1736.8h0M337.3 1693.1h0M320.8 1708.0h0M302.1 1735.9h0M293.2 1744.8h0M316.1 1719.6h0M293.6 1743.4h0M306.2 1731.5h0M332.7 1696.0h0M326.8 1717.0h0M304.4 1740.0h0M295.8 1742.3h0M306.6 1735.7h0M339.2 1676.0h0M351.6 1641.8h0M328.9 1722.2h0M289.7 1746.6h0M388.0 1645.2h0M346.8 1662.8h0M316.2 1733.8h0M317.2 1741.8h0M338.2 1726.5h0M327.2 1704.6h0M360.9 1663.8h0M322.9 1713.6h0M338.1 1704.6h0M317.4 1729.9h0M316.4 1722.1h0M305.0 1733.2h0M329.8 1700.2h0M380.9 1677.3h0M332.9 1711.6h0M313.6 1729.7h0M334.8 1682.1h0M313.1 1728.1h0M290.3 1746.3h0M323.4 1726.5h0M342.8 1692.0h0M335.1 1698.8h0M292.5 1744.2h0M356.6 1671.0h0M322.7 1711.5h0M334.1 1697.0h0M332.7 1710.8h0M337.7 1685.9h0M351.4 1677.3h0M363.1 1626.4h0M303.0 1736.4h0M325.6 1717.3h0M323.2 1713.3h0M340.3 1682.0h0M305.8 1733.4h0M308.2 1737.0h0M305.3 1737.2h0M327.9 1705.2h0M307.5 1728.6h0M314.3 1719.7h0M337.0 1686.4h0M294.5 1743.7h0M357.8 1647.7h0M305.1 1734.5h0M326.4 1704.4h0M355.3 1642.0h0M355.6 1670.9h0M305.1 1733.9h0M334.1 1682.0h0M350.2 1660.7h0M345.1 1658.9h0M343.5 1719.9h0M372.9 1736.1h0M327.3 1707.2h0M361.7 1620.1h0M372.3 1600.9h0M344.2 1676.5h0M336.9 1679.5h0M359.6 1694.4h0M319.0 1718.6h0M308.4 1729.1h0M325.9 1716.8h0M302.4 1737.0h0M311.4 1727.7h0M342.0 1679.9h0M323.5 1710.5h0M339.8 1713.6h0M332.7 1685.6h0M351.2 1661.1h0M326.8 1701.6h0M305.2 1733.3h0M320.0 1733.8h0M324.7 1729.9h0M361.3 1627.8h0M337.9 1689.9h0M398.0 1653.6h0M316.7 1717.2h0M317.2 1728.1h0M291.2 1745.7h0M356.3 1693.6h0M346.5 1663.3h0M297.3 1741.4h0M335.1 1684.4h0M346.1 1658.0h0"/>
<path d="M364.1 1613.8h0M340.1 1694.8h0M331.0 1692.6h0M374.7 1698.3h0M306.6 1731.8h0M302.4 1736.0h0M316.2 1715.2h0M353.8 1676.9h0M314.9 1721.0h0M389.0 1592.0h0M326.7 1697.5h0M326.3 1700.3h0M324.4 1704.5h0M298.2 1742.4h0M335.8 1694.2h0M330.6 1696.4h0M323.7 1716.0h0M297.6 1740.5h0M322.5 1708.7h0M312.6 1724.5h0M311.0 1729.0h0M307.0 1737.7h0M339.1 1725.5h0M314.1 1724.9h0M344.6 1669.6h0M347.5 1661.4h0M361.5 1649.3h0M295.8 1744.2h0M373.7 1629.2h0M356.1 1636.7h0M303.5 1736.6h0M331.6 1725.3h0M293.4 1743.6h0M341.2 1673.2h0M316.7 1717.9h0M311.0 1728.8h0M297.0 1741.3h0M316.8 1724.3h0M362.5 1678.1h0M307.4 1739.9h0M308.3 1734.9h0M399.0 1600.0h0M310.1 1726.7h0M310.9 1724.4h0M334.2 1691.5h0M358.2 1629.2h0M322.1 1715.1h0M315.2 1734.2h0M299.8 1745.6h0M341.8 1674.9h0M324.4 1701.9h0M312.5 1729.3h0M321.4 1718.1h0M377.7 1596.9h0M319.9 1713.6h0M324.1 1713.3h0M391.7 1667.7h0M331.3 1695.1h0M303.1 1736.4h0M322.2 1720.3h0M308.4 1736.8h0M354.1 1702.6h0M331.5 1702.4h0M294.4 1742.8h0M324.6 1701.2h0M321.1 1713.3h0M330.0 1713.7h0M330.5 1695.6h0M339.1 1671.4h0M353.0 1655.9h0M331.6 1723.2h0M345.4 1663.4h0M301.5 1739.5h0M301.0 1737.9h0M360.6 1643.8h0M363.6 1629.8h0M337.2 1680.5h0M289.3 1746.7h0M326.5 1713.9h0M326.0 1702.5h0M361.6 1708.8h0M317.0 1735.9h0M351.0 1749.1h0M325.1 1704.9h0M338.7 1679.3h0M361.8 1671.8h0M379.4 1666.7h0M309.3 1728.4h0M306.5 1732.7h0M316.0 1727.5h0M321.3 1710.4h0M332.2 1708.1h0M313.6 1721.1h0M300.1 1740.1h0M334.8 1685.3h0M336.4 1689.0h0M296.0 1742.4h0M304.1 1734.6h0M357.2 1627.6h0M362.5 1617.0h0M326.5 1717.5h0M360.5 1665.8h0M317.2 1724.8h0M317.2 1716.4h0M324.8 1707.6h0M299.6 1738.4h0M305.0 1731.6h0M318.4 1712.7h0M325.2 1718.6h0M335.7 1686.7h0M354.3 1645.8h0M335.3 1682.1h0M341.4 1691.1h0M352.5 1681.9h0M344.3 1671.3h0M330.6 1707.4h0M312.0 1732.1h0M319.9 1719.9h0M370.9 1740.1h0M303.1 1736.9h0M349.4 1658.4h0M360.4 1659.5h0M379.8 1691.7h0M327.5 1707.1h0M343.0 1685.1h0M294.0 1745.2h0M323.9 1702.2h0M312.7 1731.5h0M354.1 1645.7h0M343.5 1663.5h0M299.9 1740.8h0M355.7 1645.8h0M321.5 1717.7h0M373.8 1608.2h0M375.1 1636.5h0M290.8 1747.3h0M354.6 1679.8h0M316.8 1716.3h0M349.6 1696.6h0M338.2 1681.4h0M335.5 1701.7h0M334.4 1694.9h0M324.8 1700.5h0M318.8 1722.1h0M358.1 1659.9h0M315.9 1720.5h0M347.8 1668.1h0M290.6 1745.6h0M299.3 1740.1h0M324.6 1709.9h0M365.5 1632.7h0M319.7 1715.4h0M336.8 1691.6h0M419.3 1691.5h0M295.9 1742.8h0M322.1 1708.1h0M359.4 1664.2h0M359.2 1629.9h0M324.1 1703.1h0M325.7 1707.7h0M333.4 1691.4h0M288.0 1747.7h0M372.0 1639.6h0M328.8 1700.4h0M346.0 1668.0h0M348.2 1658.2h0M336.1 1693.2h0M332.5 1698.4h0M323.6 1715.3h0M365.4 1609.6h0M327.7 1707.4h0M357.1 1667.4h0M309.2 1727.5h0M327.4 1735.3h0M325.2 1719.4h0M345.8 1665.7h0M338.3 1730.8h0M347.1 1660.0h0M305.8 1732.8h0M375.4 1664.4h0M345.5 1689.6h0M310.7 1728.0h0M309.0 1730.1h0M303.7 1732.9h0M305.2 1731.4h0M362.2 1630.4h0M296.8 1741.2h0M318.9 1711.8h0M319.1 1717.6h0M302.2 1737.8h0M326.9 1704.7h0M308.8 1733.5h0M309.3 1727.0h0M372.2 1662.7h0M333.8 1702.2h0M318.2 1715.6h0M319.7 1731.9h0M320.5 1734.1h0M340.3 1676.9h0M313.7 1728.0h0M350.8 1680.7h0M324.7 1709.7h0M297.3 1743.7h0M321.0 1709.8h0M309.3 1730.2h0M343.5 1678.6h0M357.7 1699.8h0M318.2 1715.6h0M433.6 1665.1h0M423.0 1577.0h0M303.1 1733.8h0M340.2 1699.7h0M307.2 1730.7h0M350.9 1669.9h0M339.4 1696.4h0M363.1 1638.7h0M344.3 1727.8h0M332.1 1687.0h0M356.4 1632.5h0M322.1 1708.2h0M333.2 1712.0h0M321.3 1711.3h0M342.5 1678.2h0M311.7 1726.2h0M379.0 1662.0h0M313.2 1723.8h0M308.1 1731.0h0M364.3 1616.3h0M338.3 1679.4h0M320.2 1715.7h0M370.0 1742.7h0M320.8 1736.3h0M335.8 1679.7h0M365.2 1642.6h0M293.0 1744.5h0M334.0 1682.3h0M336.9 1686.0h0M300.8 1738.2h0M345.3 1700.8h0M410.3 1703.6h0M364.6 1657.8h0M340.9 1678.3h0M317.0 1725.2h0M349.5 1648.6h0M320.9 1718.7h0M297.7 1742.1h0M311.3 1729.0h0M336.6 1695.9h0M322.4 1705.9h0M322.1 1707.4h0M355.8 1683.9h0M309.3 1726.8h0M287.4 1748.2h0M298.5 1741.5h0M310.6 1736.9h0M330.8 1729.2h0M303.1 1735.3h0M380.6 1651.3h0M355.7 1650.2h0M343.2 1667.4h0M315.8 1718.0h0M352.9 1664.0h0M365.7 1693.0h0M333.5 1699.6h0M336.2 1683.5h0M364.8 1696.1h0M349.1 1714.2h0M326.9 1700.0h0M343.7 1670.2h0M299.3 1740.5h0M320.4 1718.2h0M358.4 1707.1h0M300.3 1737.1h0M337.5 1681.9h0M359.5 1647.7h0M346.4 1670.8h0M332.1 1707.7h0M309.6 1730.6h0M318.7 1714.3h0M301.2 1736.6h0M295.9 1743.1h0M329.5 1696.4h0M330.8 1701.8h0M336.9 1681.2h0M330.9 1705.4h0M353.6 1696.7h0M354.5 1698.5h0M319.1 1717.5h0M315.7 1727.0h0M327.2 1723.0h0M307.1 1729.0h0M322.4 1713.4h0M324.4 1703.5h0M425.0 1680.8h0M357.5 1656.3h0M317.0 1723.9h0M319.5 1720.0h0M357.3 1685.8h0M329.9 1692.2h0M366.6 1629.2h0M316.1 1723.2h0M325.6 1719.4h0M320.9 1721.9h0M323.1 1708.6h0M334.8 1688.4h0M324.6 1719.2h0M415.6 1696.5h0M294.6 1743.1h0M333.0 1706.8h0"/>
<path d="M303.6 1735.5h0M298.1 1744.4h0M322.2 1709.3h0M344.9 1674.0h0M352.0 1641.6h0M351.0 1662.0h0M328.5 1711.6h0M294.8 1742.7h0M334.7 1691.5h0M324.6 1708.4h0M346.9 1655.0h0M334.3 1692.8h0M304.4 1734.2h0M308.8 1726.9h0M337.5 1683.0h0M349.0 1666.4h0M319.0 1713.6h0M319.6 1718.3h0M360.9 1671.9h0M374.1 1681.0h0M297.4 1740.1h0M300.8 1742.8h0M324.8 1708.4h0M344.6 1673.8h0M333.0 1724.6h0M325.0 1702.6h0M294.8 1743.4h0M328.0 1708.2h0M298.3 1746.3h0M333.3 1693.4h0M293.4 1743.5h0M347.9 1686.6h0M366.1 1721.3h0M353.6 1685.8h0M376.5 1606.7h0M337.1 1675.7h0M369.0 1710.4h0M338.0 1679.7h0M311.3 1724.6h0M287.4 1747.9h0M349.1 1667.3h0M296.1 1742.1h0M358.8 1700.4h0M320.0 1720.1h0M345.9 1665.3h0M356.1 1635.8h0M317.7 1715.5h0M342.3 1683.1h0M336.1 1683.1h0M311.7 1726.4h0M332.8 1699.4h0M342.7 1708.2h0M291.1 1745.8h0M437.2 1659.7h0M327.5 1724.1h0M323.7 1704.2h0M320.3 1713.6h0M300.1 1737.1h0M297.4 1743.2h0M305.5 1743.3h0M326.2 1698.7h0M339.1 1686.5h0M310.9 1728.8h0M307.7 1733.5h0M406.2 1707.1h0M328.4 1694.8h0M314.6 1720.2h0M299.0 1740.0h0M344.3 1663.3h0M311.2 1727.5h0M358.6 1668.4h0M326.2 1726.7h0M343.8 1667.5h0M309.9 1728.5h0M344.2 1688.5h0M345.9 1688.7h0M338.1 1690.4h0M321.1 1731.2h0M366.0 1617.7h0M300.0 1746.5h0M341.1 1669.5h0M346.7 1669.2h0M329.6 1692.6h0M319.4 1716.2h0M324.9 1704.8h0M386.7 1727.7h0M319.6 1718.8h0M320.8 1707.4h0M345.8 1717.5h0M323.3 1707.3h0M290.9 1746.0h0M382.3 1681.1h0M294.0 1745.1h0M331.1 1705.3h0M322.6 1713.7h0M311.2 1728.9h0M305.8 1734.9h0M323.3 1713.2h0M341.5 1709.7h0M317.7 1713.4h0M433.3 1670.1h0M356.8 1631.8h0M324.9 1702.4h0M363.0 1670.4h0M311.3 1723.8h0M352.3 1653.1h0M325.5 1728.3h0M376.2 1669.5h0M310.8 1727.5h0M342.8 1715.1h0M300.5 1742.2h0M301.0 1739.1h0M329.7 1717.0h0M346.6 1664.9h0M348.8 1648.5h0M404.0 1636.4h0M317.5 1715.0h0M314.2 1728.6h0M314.4 1721.6h0M301.4 1737.6h0M314.1 1738.5h0M453.0 1637.0h0M342.1 1694.7h0M338.3 1673.8h0M322.8 1717.2h0M350.8 1658.7h0M300.4 1744.2h0M333.0 1689.8h0M360.7 1638.1h0M328.6 1702.7h0M313.9 1730.6h0M351.6 1665.1h0M346.2 1659.0h0M356.1 1652.5h0M318.4 1724.4h0M332.4 1693.3h0M343.1 1664.4h0M330.5 1695.5h0M295.0 1743.1h0M441.6 1651.6h0M350.1 1670.5h0M330.5 1700.2h0M310.1 1738.6h0M351.6 1653.9h0M339.2 1710.6h0M354.5 1642.5h0M375.1 1609.1h0M308.4 1727.5h0M308.0 1728.5h0M314.2 1722.4h0M331.0 1701.4h0M325.2 1716.6h0M313.3 1732.6h0M318.3 1712.8h0M297.6 1743.4h0M306.4 1736.3h0M314.9 1731.6h0M352.3 1646.8h0M348.9 1713.1h0M323.5 1720.2h0M369.5 1675.8h0M290.6 1745.5h0M362.8 1646.2h0M328.0 1704.3h0M410.5 1703.2h0M307.7 1736.5h0M352.7 1645.4h0M359.8 1690.2h0M293.5 1747.8h0M335.9 1678.7h0M333.1 1693.2h0M348.2 1675.6h0M349.2 1727.9h0M356.8 1632.0h0M327.0 1709.2h0M339.4 1679.6h0M314.4 1729.1h0M335.6 1695.8h0M329.7 1705.1h0M287.2 1747.4h0M336.6 1687.1h0M304.0 1733.0h0M290.4 1746.5h0M385.0 1637.8h0M353.7 1691.1h0M313.0 1720.9h0M312.6 1722.3h0M374.8 1697.2h0M308.3 1730.3h0M380.0 1607.0h0M324.9 1700.2h0M359.6 1685.1h0M337.8 1718.8h0M331.1 1689.4h0M324.2 1702.0h0M358.8 1625.6h0M339.3 1682.5h0M343.6 1670.9h0M320.4 1710.7h0M339.6 1672.1h0M339.9 1686.1h0M306.7 1731.3h0M349.0 1716.8h0M308.5 1737.4h0M309.0 1734.6h0M348.1 1710.4h0M352.4 1664.4h0M336.9 1686.7h0M313.7 1723.3h0M336.8 1694.8h0M293.4 1744.2h0M355.8 1652.8h0M307.6 1732.6h0M336.8 1680.9h0M290.0 1746.3h0M350.8 1690.5h0M305.4 1731.2h0M318.7 1719.1h0M304.7 1734.3h0M340.5 1669.9h0M324.6 1709.1h0M312.7 1723.4h0M291.9 1744.6h0M334.9 1735.0h0M302.1 1735.9h0M319.8 1720.7h0M311.0 1727.2h0M349.5 1657.4h0M414.9 1692.8h0M350.1 1698.4h0M348.7 1700.8h0M342.1 1666.7h0M347.2 1666.6h0M325.2 1702.1h0M318.4 1732.1h0M310.0 1734.0h0M317.4 1715.2h0M325.5 1704.0h0M304.7 1743.4h0M323.6 1717.5h0M337.5 1700.4h0M334.0 1714.8h0M361.0 1632.3h0M309.9 1725.7h0M323.4 1717.0h0M439.8 1656.3h0M313.9 1735.6h0M305.1 1737.2h0M301.3 1737.7h0M342.0 1673.4h0M344.5 1666.6h0M306.8 1731.9h0M327.1 1732.0h0M290.8 1745.4h0M308.1 1729.4h0M329.4 1714.2h0M354.2 1642.6h0M307.9 1728.4h0M358.3 1651.0h0M358.1 1644.7h0M334.0 1682.5h0M323.0 1718.0h0M348.1 1653.1h0M355.5 1659.9h0M302.7 1744.1h0M304.3 1737.4h0M326.9 1702.5h0M315.1 1719.1h0M351.4 1654.3h0M359.9 1630.0h0M338.6 1688.3h0M358.0 1626.6h0M321.0 1712.7h0M308.1 1731.9h0M326.8 1715.8h0M321.9 1706.2h0M312.0 1723.9h0M284.7 1748.5h0M365.8 1641.0h0M361.6 1629.1h0M325.6 1705.7h0M359.0 1705.2h0M302.2 1734.9h0M292.7 1744.5h0M376.9 1627.8h0M370.1 1707.4h0M303.0 1739.9h0M320.5 1708.5h0M323.8 1725.3h0M326.7 1698.0h0M346.1 1668.9h0M356.1 1701.6h0M306.5 1733.0h0M309.0 1727.6h0M331.0 1697.2h0M327.5 1703.8h0M309.1 1730.9h0M309.8 1730.1h0M382.2 1640.1h0M365.4 1743.9h0M317.2 1721.0h0M338.2 1688.7h0M362.2 1619.9h0M340.4 1688.0h0M328.4 1698.8h0M329.4 1697.8h0M340.3 1726.9h0M320.2 1708.7h0M323.3 1706.1h0"/>
<path d="M366.9 1631.7h0M317.2 1715.5h0M363.0 1653.5h0M341.9 1686.9h0M346.3 1697.1h0M325.6 1731.6h0M335.4 1692.3h0M384.3 1660.3h0M302.5 1739.1h0M298.7 1739.4h0M313.4 1729.6h0M325.3 1701.7h0M383.2 1627.0h0M364.6 1647.5h0M368.5 1613.7h0M309.2 1730.6h0M312.8 1724.8h0M346.5 1671.3h0M376.8 1648.6h0M388.3 1727.1h0M301.8 1737.9h0M336.7 1703.2h0M333.6 1693.4h0M357.7 1697.4h0M298.6 1742.3h0M305.9 1731.7h0M318.8 1713.6h0M285.8 1748.1h0M309.3 1729.8h0M314.6 1736.0h0M323.5 1711.7h0M319.2 1716.6h0M313.7 1726.3h0M365.5 1663.1h0M322.7 1723.4h0M346.7 1655.9h0M311.7 1737.7h0M324.9 1706.3h0M359.3 1709.6h0M331.4 1699.4h0M437.8 1658.7h0M368.4 1665.7h0M353.8 1700.8h0M342.4 1665.5h0M325.7 1702.6h0M335.2 1682.2h0M344.8 1680.3h0M297.0 1740.7h0M328.4 1709.0h0M365.3 1643.8h0M387.5 1676.9h0M357.3 1646.7h0M318.9 1712.9h0M315.7 1723.6h0M343.9 1664.7h0M379.0 1622.1h0M325.0 1702.7h0M348.2 1660.3h0M316.3 1715.9h0M323.7 1731.2h0M308.0 1732.6h0M402.4 1599.0h0M351.6 1659.4h0M326.2 1701.0h0M346.3 1664.9h0M301.9 1737.5h0M337.0 1685.2h0M298.1 1740.6h0M343.2 1670.7h0M382.1 1676.3h0M338.4 1682.5h0M329.6 1697.7h0M346.9 1657.9h0M305.4 1742.2h0M375.9 1673.0h0M331.9 1694.6h0M344.3 1680.7h0M313.9 1726.4h0M360.4 1687.9h0M351.2 1658.6h0M327.5 1702.5h0M325.1 1719.4h0M342.8 1718.6h0M322.0 1707.9h0M363.7 1618.8h0M305.3 1733.3h0M346.8 1674.6h0M300.5 1737.9h0M294.9 1747.3h0M291.1 1745.4h0M325.5 1700.9h0M365.1 1621.1h0M313.1 1725.2h0M322.3 1717.4h0M304.6 1737.1h0M314.1 1726.1h0M383.0 1669.0h0M329.7 1697.1h0M344.7 1662.5h0M369.9 1681.2h0M347.6 1653.8h0M302.1 1739.4h0M299.8 1738.9h0M347.6 1661.8h0M295.8 1744.6h0M357.1 1642.2h0M306.6 1733.8h0M328.3 1698.9h0M284.0 1748.6h0M313.5 1721.3h0M339.4 1699.6h0M321.5 1719.5h0M386.2 1638.2h0M352.7 1667.3h0M298.4 1740.5h0M295.4 1743.5h0M347.9 1660.7h0M313.6 1721.8h0M355.2 1651.9h0M331.3 1700.0h0M312.2 1723.6h0M296.5 1741.7h0M343.0 1666.5h0M356.8 1667.6h0M331.9 1688.4h0M299.1 1738.5h0M364.8 1629.4h0M298.6 1744.6h0M324.0 1713.4h0M344.9 1662.4h0M373.4 1592.5h0M306.8 1732.6h0M346.3 1667.2h0M363.8 1666.8h0M374.5 1653.9h0M296.3 1745.7h0M313.4 1722.5h0M338.1 1705.2h0M316.9 1732.1h0M336.7 1729.9h0M331.1 1695.4h0M318.2 1718.9h0M329.3 1697.7h0M345.7 1679.8h0M319.1 1717.3h0M301.3 1738.0h0M327.2 1719.2h0M344.6 1669.2h0M336.9 1697.4h0M311.1 1730.1h0M325.1 1710.9h0M330.5 1697.1h0M332.8 1692.8h0M348.1 1666.3h0M330.8 1695.1h0M347.7 1661.2h0M336.7 1679.6h0M353.1 1717.9h0M326.8 1715.2h0M305.7 1738.5h0M400.0 1557.0h0M317.8 1719.4h0M386.0 1605.1h0M321.6 1738.1h0M329.0 1707.0h0M370.2 1597.8h0M308.4 1732.4h0M288.7 1747.1h0M326.4 1700.1h0M350.8 1668.1h0M320.4 1709.8h0M328.5 1708.4h0M330.0 1692.0h0M323.2 1720.0h0M321.2 1715.9h0M320.4 1718.2h0M301.9 1735.3h0M317.5 1733.6h0M371.9 1663.1h0M343.2 1678.7h0M284.5 1748.6h0M353.8 1646.3h0M325.2 1711.2h0M336.8 1700.4h0M317.0 1720.2h0M339.5 1671.7h0M301.9 1735.1h0M360.7 1628.3h0M297.4 1741.1h0M343.5 1677.0h0M324.4 1705.9h0M338.5 1688.9h0M309.1 1727.2h0M298.3 1739.3h0M322.0 1708.6h0M316.9 1715.7h0M310.0 1728.2h0M365.5 1689.2h0M341.2 1680.5h0M333.6 1686.2h0M316.7 1716.7h0M334.6 1697.2h0M340.7 1680.5h0M318.9 1732.4h0M334.5 1693.5h0M306.5 1734.0h0M328.9 1719.3h0M388.2 1614.4h0M314.1 1722.1h0M345.4 1693.1h0M342.4 1686.8h0M312.6 1730.2h0M332.8 1707.3h0M325.1 1705.1h0M300.2 1738.7h0M302.1 1737.9h0M338.4 1675.4h0M356.0 1715.1h0M326.3 1703.2h0M332.8 1706.4h0M346.1 1672.4h0M338.3 1691.3h0M338.4 1678.0h0M338.5 1682.4h0M324.7 1710.9h0M324.9 1708.4h0M305.6 1734.1h0M320.2 1713.8h0M319.6 1734.0h0M333.2 1703.1h0M337.0 1682.8h0M356.9 1696.7h0M328.6 1695.5h0M314.5 1725.8h0M343.1 1663.6h0M345.5 1660.0h0M367.2 1669.3h0M349.1 1658.4h0M317.1 1724.4h0M372.5 1664.3h0M364.6 1627.7h0M354.7 1652.9h0M328.5 1693.6h0M394.0 1721.8h0M311.5 1727.8h0M323.5 1707.8h0M377.1 1632.3h0M300.6 1740.5h0M300.2 1736.9h0M354.9 1634.3h0M380.1 1669.2h0M285.4 1748.4h0M320.5 1723.6h0M310.0 1726.8h0M289.2 1746.8h0M325.6 1702.9h0M343.5 1688.5h0M317.4 1717.4h0M350.3 1647.2h0M307.2 1734.2h0M350.4 1659.6h0M300.6 1739.0h0M329.2 1700.5h0M335.9 1683.6h0M338.0 1686.6h0M322.4 1708.1h0M294.2 1744.3h0M296.6 1742.9h0M323.6 1716.7h0M297.4 1747.4h0M318.2 1718.8h0M309.7 1725.9h0M319.2 1716.7h0M345.5 1689.4h0M367.4 1601.3h0M328.6 1707.6h0M320.6 1714.1h0M315.2 1720.6h0M328.4 1705.7h0M333.6 1691.6h0M291.7 1745.3h0M314.7 1719.0h0M311.9 1722.5h0M334.4 1695.2h0M317.0 1725.2h0M349.0 1748.7h0M346.7 1678.9h0M328.9 1696.9h0M388.3 1616.9h0M362.4 1630.3h0M335.3 1703.0h0M293.9 1745.7h0M344.7 1675.0h0M314.9 1721.2h0M307.6 1734.5h0M360.4 1658.1h0M367.0 1620.5h0M303.1 1733.9h0M308.6 1729.9h0M333.3 1684.3h0M299.6 1740.0h0M336.2 1707.1h0M311.4 1728.3h0M368.0 1609.6h0M349.8 1659.1h0M309.0 1728.1h0M326.6 1701.7h0M356.9 1668.2h0"/>
</g>
<g fill="none" stroke="#dc281e" stroke-opacity="0.6" stroke-width="3.4" stroke-linecap="round">
<path d="M262.0 1739.0h0M270.0 1744.0h0"/>
<path d="M267.0 1747.0h0M274.0 1747.0h0"/>
</g>
<line x1="98.4" y1="1547" x2="98.4" y2="1759.5" stroke="#111" stroke-width="2.3"/>
<line x1="97.3" y1="1758.4" x2="483.7" y2="1758.4" stroke="#111" stroke-width="2.3"/>
<line x1="282.7" y1="1547" x2="282.7" y2="1772.4" stroke="#111" stroke-width="2.3"/>
<line x1="115.9" y1="1758.4" x2="115.9" y2="1772.4" stroke="#111" stroke-width="2.3"/>
<line x1="199" y1="1758.4" x2="199" y2="1772.4" stroke="#111" stroke-width="2.3"/>
<line x1="365.9" y1="1758.4" x2="365.9" y2="1772.4" stroke="#111" stroke-width="2.3"/>
<line x1="449.6" y1="1758.4" x2="449.6" y2="1772.4" stroke="#111" stroke-width="2.3"/>
<line x1="84.5" y1="1587.8" x2="98.4" y2="1587.8" stroke="#111" stroke-width="2.3"/>
<text x="29.07" y="1594.6" font-size="31" textLength="50.9" lengthAdjust="spacingAndGlyphs" stroke="#fff" stroke-width="0.62">200</text>
<line x1="84.5" y1="1669" x2="98.4" y2="1669" stroke="#111" stroke-width="2.3"/>
<text x="31" y="1675.8" font-size="31" textLength="48.93" lengthAdjust="spacingAndGlyphs" stroke="#fff" stroke-width="0.62">100</text>
<line x1="84.5" y1="1748.7" x2="98.4" y2="1748.7" stroke="#111" stroke-width="2.3"/>
<text x="62.96" y="1755.5" font-size="31" stroke="#fff" stroke-width="0.62">0</text>
<line x1="98.4" y1="1748.1" x2="483.7" y2="1748.1" stroke="#111" stroke-width="2.3" stroke-dasharray="18.5 18.5" stroke-dashoffset="0"/>
<text x="112.9" y="1563.4" font-size="25.6" textLength="156.02" lengthAdjust="spacingAndGlyphs" fill="#dc281e" stroke="#fff" stroke-width="0.35">Bone marrow</text>
<text x="113.45" y="1594.4" font-size="25.6" textLength="156.82" lengthAdjust="spacingAndGlyphs" fill="#dc281e" stroke="#fff" stroke-width="0.35">contaminants</text>
<text x="134.99" y="1625.7" font-size="25.6" textLength="113.45" lengthAdjust="spacingAndGlyphs" fill="#dc281e" stroke="#fff" stroke-width="0.35">(5 genes)</text>
<g stroke="#fff" transform="translate(22.5 1738) rotate(-90)"><text x="-1.49" y="0" font-size="31" stroke-width="0.63" textLength="55.05" lengthAdjust="spacingAndGlyphs">-log</text><text x="52.76" y="9.5" font-size="16" stroke-width="0.22" textLength="18.35" lengthAdjust="spacingAndGlyphs">10</text><text x="70.46" y="0" font-size="31" stroke-width="0.63" textLength="102.79" lengthAdjust="spacingAndGlyphs">p-value</text></g>
<g fill="none" stroke="#000" stroke-opacity="0.44" stroke-width="3.3" stroke-linecap="round">
<path d="M307.8 1970.4h0M315.8 1961.0h0M309.7 1974.5h0M292.1 1988.1h0M310.1 1976.3h0M333.3 1927.3h0M325.1 1949.5h0M305.2 1974.7h0M298.8 1981.8h0M307.7 1985.6h0M290.7 1988.1h0M340.5 1910.5h0M332.5 1930.6h0M330.2 1950.5h0M342.7 1930.9h0M303.0 1979.4h0M310.4 1965.7h0M330.2 1934.5h0M316.8 1964.3h0M322.8 1948.0h0M323.6 1950.2h0M303.9 1977.7h0M339.6 1915.0h0M325.2 1943.6h0M321.7 1985.6h0M329.3 1972.5h0M318.9 1953.4h0M290.2 1988.7h0M310.9 1970.6h0M346.2 1906.5h0M334.5 1927.1h0M414.0 1843.0h0M331.4 1931.0h0M289.3 1988.5h0M303.2 1975.5h0M316.4 1956.9h0M290.8 1987.6h0M308.0 1971.1h0M327.7 1940.3h0M309.5 1969.0h0M296.8 1982.4h0M352.3 1927.5h0M305.0 1981.4h0M395.8 1833.1h0M337.9 1916.5h0M308.0 1969.6h0M292.6 1986.7h0M309.2 1976.0h0M307.2 1976.5h0M323.0 1950.9h0M317.8 1970.8h0M343.2 1909.4h0M294.3 1985.7h0M297.7 1982.1h0M304.7 1976.7h0M311.9 1964.9h0M307.1 1972.2h0M303.2 1984.5h0M328.6 1936.5h0M346.1 1913.2h0M318.5 1958.2h0M294.9 1984.4h0M374.4 1845.1h0M326.8 1946.7h0M296.5 1983.9h0M335.5 1923.7h0M290.9 1988.1h0M324.7 1967.8h0M312.6 1976.9h0M310.6 1965.6h0M300.4 1984.5h0M313.2 1963.3h0M382.2 1844.2h0M387.0 1822.0h0M361.5 1861.6h0M320.2 1970.5h0M358.6 1955.8h0M322.8 1956.0h0M317.9 1959.1h0M309.8 1968.7h0M332.9 1933.3h0M311.6 1967.1h0M334.6 1966.1h0M311.1 1969.5h0M312.8 1967.4h0M327.6 1938.3h0M301.8 1977.2h0M339.1 1915.1h0M314.9 1962.5h0M307.3 1973.5h0M308.9 1970.8h0M289.8 1989.6h0M289.2 1989.5h0M301.8 1990.9h0M372.6 1885.7h0M317.8 1963.1h0M350.5 1888.8h0M312.2 1968.1h0M322.1 1952.6h0M310.0 1967.2h0M328.8 1937.3h0M286.1 1990.3h0M324.4 1949.1h0M319.9 1951.7h0M322.1 1948.9h0M319.4 1952.8h0M322.4 1950.7h0M319.0 1955.2h0M291.9 1990.2h0M303.9 1977.3h0M286.0 1990.4h0M396.0 1966.0h0M312.9 1967.7h0M292.9 1986.7h0M309.7 1969.9h0M320.8 1954.2h0M305.6 1973.9h0M329.2 1939.9h0M327.7 1937.3h0M303.3 1982.7h0M327.4 1945.7h0M368.9 1934.7h0M308.6 1970.1h0M320.5 1950.9h0M339.4 1922.8h0M350.5 1938.3h0M317.9 1954.9h0M302.6 1977.5h0M325.7 1950.5h0M301.0 1980.6h0M323.1 1950.3h0M300.2 1983.0h0M334.1 1930.0h0M339.3 1925.9h0M319.4 1954.1h0M299.0 1981.5h0M310.5 1967.7h0M329.7 1940.8h0M294.2 1984.9h0M312.5 1969.7h0M318.5 1955.9h0M289.6 1989.2h0M319.4 1959.1h0M310.2 1979.3h0M300.0 1981.6h0M330.5 1931.6h0M322.2 1950.4h0M290.2 1989.6h0M369.0 1913.3h0M323.7 1947.5h0M303.5 1982.4h0M335.2 1930.4h0M307.8 1969.6h0M297.2 1984.9h0M311.2 1980.1h0M304.4 1974.3h0M321.5 1954.3h0M313.7 1962.4h0M325.1 1948.1h0M331.1 1932.5h0M330.6 1969.9h0M338.2 1953.0h0M320.4 1962.0h0M342.3 1911.9h0M328.6 1936.4h0M287.6 1989.9h0M317.9 1955.3h0M308.7 1972.2h0M319.8 1954.0h0M305.9 1976.5h0M319.0 1956.4h0M299.2 1983.8h0M301.0 1980.2h0M346.6 1942.2h0M424.0 1931.6h0M313.5 1973.0h0M317.6 1977.5h0M329.2 1963.3h0M307.4 1974.1h0M301.6 1977.6h0M299.5 1981.0h0M315.4 1962.9h0M329.7 1979.3h0M317.3 1963.0h0M304.4 1978.3h0M324.1 1964.7h0M322.1 1962.9h0M309.6 1969.4h0M301.9 1978.7h0M338.8 1966.9h0M376.0 1844.9h0"/>
<path d="M318.4 1957.4h0M335.9 1942.9h0M330.6 1962.9h0M404.0 1833.0h0M293.1 1987.5h0M325.0 1946.6h0M299.7 1979.6h0M309.4 1968.7h0M310.7 1970.8h0M297.0 1986.6h0M309.5 1970.5h0M319.0 1960.0h0M287.9 1989.6h0M313.9 1971.6h0M307.4 1974.8h0M301.7 1979.9h0M319.1 1976.5h0M357.8 1906.7h0M320.6 1955.5h0M329.0 1936.7h0M296.6 1988.0h0M320.8 1949.7h0M321.0 1950.0h0M357.7 1870.2h0M308.7 1971.9h0M288.0 1989.5h0M299.3 1981.6h0M325.7 1940.3h0M340.6 1913.8h0M286.2 1990.7h0M311.7 1969.0h0M323.4 1947.6h0M287.4 1990.0h0M394.0 1815.0h0M291.2 1988.7h0M331.0 1945.0h0M318.4 1980.1h0M297.2 1987.1h0M314.4 1978.7h0M307.2 1977.1h0M285.3 1990.6h0M319.8 1953.7h0M323.1 1960.7h0M362.7 1935.9h0M308.1 1971.0h0M297.3 1984.5h0M307.6 1971.9h0M405.0 1798.0h0M335.9 1940.7h0M316.8 1963.8h0M319.1 1959.1h0M306.3 1971.6h0M310.8 1968.8h0M314.6 1967.5h0M290.9 1988.7h0M362.6 1910.0h0M299.1 1981.1h0M338.8 1939.7h0M308.9 1968.2h0M327.6 1942.0h0M316.4 1959.5h0M288.0 1989.7h0M359.0 1908.9h0M314.0 1968.2h0M310.4 1966.5h0M308.0 1972.0h0M325.7 1944.9h0M341.7 1946.9h0M323.1 1946.2h0M310.0 1971.8h0M302.8 1977.2h0M331.5 1973.1h0M339.1 1927.7h0M446.0 1890.0h0M293.8 1985.9h0M313.1 1984.2h0M302.9 1981.7h0M341.6 1964.2h0M335.3 1924.8h0M351.9 1954.9h0M291.2 1987.8h0M287.7 1990.7h0M304.8 1973.8h0M336.1 1920.3h0M308.8 1968.0h0M357.1 1927.1h0M314.7 1963.1h0M314.6 1962.1h0M299.2 1982.7h0M304.2 1978.2h0M400.0 1962.0h0M338.2 1940.5h0M312.4 1963.3h0M320.9 1951.8h0M329.2 1937.7h0M301.0 1979.4h0M309.3 1970.4h0M343.0 1907.9h0M318.4 1955.8h0M318.1 1956.2h0M332.6 1931.4h0M354.5 1946.8h0M283.7 1991.1h0M320.2 1957.2h0M309.3 1971.1h0M302.6 1978.8h0M295.6 1984.8h0M307.2 1971.3h0M317.3 1960.4h0M362.6 1937.4h0M318.7 1954.3h0M331.4 1976.1h0M317.9 1968.4h0M299.3 1981.6h0M286.9 1990.4h0M312.3 1971.1h0M293.8 1985.6h0M314.6 1959.4h0M296.9 1983.8h0M290.9 1988.2h0M308.5 1968.8h0M317.9 1961.0h0M312.7 1970.6h0M327.9 1937.0h0M299.7 1980.1h0M334.1 1944.6h0M296.3 1986.4h0M326.1 1939.8h0M310.5 1966.8h0M308.9 1973.4h0M320.0 1956.6h0M290.2 1988.3h0M314.2 1966.4h0M297.0 1986.3h0M312.8 1969.5h0M311.5 1968.0h0M331.3 1944.0h0M286.9 1990.1h0M298.9 1983.0h0M308.3 1970.5h0M325.0 1954.3h0M293.1 1987.4h0M300.9 1979.6h0M355.2 1908.0h0M309.0 1973.0h0M298.7 1981.5h0M286.7 1990.3h0M346.1 1945.4h0M303.7 1977.2h0M307.4 1973.0h0M313.0 1962.1h0M332.4 1942.6h0M291.1 1987.8h0M305.9 1972.5h0M325.5 1945.0h0M307.0 1972.0h0M299.3 1980.2h0M317.3 1958.3h0M367.2 1875.9h0M332.8 1931.2h0M328.4 1936.6h0M320.8 1973.1h0M323.6 1954.3h0M297.1 1982.5h0M355.0 1913.8h0M332.3 1934.9h0M306.6 1975.8h0M303.6 1976.8h0M341.3 1912.1h0M289.4 1989.7h0M295.1 1985.3h0M338.0 1924.6h0M310.8 1981.1h0M301.6 1981.4h0M297.0 1987.0h0M286.2 1990.7h0M331.5 1935.8h0M318.4 1957.8h0M328.0 1936.0h0M292.4 1987.0h0M345.7 1953.9h0M347.9 1924.1h0M290.8 1988.9h0M324.6 1948.3h0M286.1 1990.7h0M299.4 1981.8h0M326.1 1953.3h0M295.1 1984.3h0M306.6 1986.7h0M303.6 1976.5h0M286.1 1990.5h0"/>
<path d="M314.0 1963.5h0M413.0 1823.0h0M348.1 1900.8h0M336.9 1944.5h0M317.9 1954.1h0M299.7 1979.6h0M328.7 1946.3h0M293.0 1985.8h0M306.6 1971.1h0M341.6 1960.1h0M314.6 1959.5h0M321.7 1961.0h0M320.5 1964.8h0M374.2 1833.3h0M409.0 1843.0h0M301.5 1978.1h0M317.3 1955.7h0M314.8 1972.9h0M312.6 1968.6h0M324.6 1966.7h0M296.7 1983.0h0M366.2 1848.3h0M313.8 1962.6h0M333.0 1932.0h0M302.1 1977.8h0M344.2 1903.4h0M312.6 1972.3h0M290.6 1990.7h0M298.3 1981.9h0M316.0 1974.2h0M351.0 1939.8h0M321.8 1953.4h0M299.6 1984.8h0M303.3 1978.9h0M358.7 1897.5h0M290.1 1988.1h0M404.7 1959.0h0M299.2 1983.3h0M310.2 1966.5h0M316.8 1971.3h0M297.5 1982.4h0M343.8 1929.7h0M318.5 1959.3h0M286.8 1990.2h0M310.5 1966.8h0M334.4 1956.1h0M327.5 1941.6h0M294.7 1984.3h0M318.0 1968.9h0M339.8 1953.2h0M312.1 1967.2h0M382.7 1847.5h0M330.1 1934.4h0M305.3 1973.6h0M318.8 1955.2h0M294.6 1984.6h0M328.9 1947.9h0M295.5 1984.3h0M310.3 1967.6h0M300.3 1980.4h0M335.0 1926.5h0M327.4 1940.4h0M301.5 1978.6h0M290.1 1988.1h0M309.5 1967.5h0M299.0 1982.5h0M329.5 1945.1h0M301.9 1978.9h0M336.3 1928.2h0M301.6 1979.8h0M316.7 1959.5h0M309.6 1968.8h0M318.3 1956.0h0M323.9 1949.3h0M299.2 1987.7h0M288.6 1989.8h0M305.3 1981.1h0M296.4 1984.7h0M313.6 1969.7h0M292.8 1987.4h0M300.9 1980.0h0M336.8 1921.9h0M343.4 1908.2h0M308.9 1973.1h0M295.7 1987.1h0M308.9 1969.9h0M356.9 1925.3h0M291.8 1987.0h0M332.5 1934.5h0M306.1 1978.8h0M326.9 1970.4h0M329.5 1945.7h0M303.2 1977.7h0M327.4 1939.2h0M293.8 1985.7h0M325.8 1945.1h0M284.8 1990.8h0M284.4 1991.1h0M337.6 1921.8h0M294.4 1985.5h0M311.5 1972.8h0M310.9 1969.0h0M313.0 1976.2h0M285.9 1990.6h0M355.6 1914.5h0M315.3 1958.7h0M319.3 1959.6h0M291.6 1988.0h0M288.4 1989.4h0M344.3 1902.3h0M294.9 1985.4h0M388.0 1973.0h0M286.1 1990.9h0M291.0 1987.7h0M300.6 1978.6h0M335.9 1921.4h0M290.3 1988.3h0M324.3 1960.0h0M305.0 1973.9h0M290.3 1989.8h0M325.2 1950.6h0M304.6 1973.7h0M301.2 1985.0h0M299.8 1987.5h0M289.5 1988.9h0M297.2 1982.0h0M300.6 1979.7h0M308.0 1969.2h0M327.0 1946.0h0M304.1 1982.5h0M316.3 1962.9h0M363.6 1953.8h0M296.7 1985.0h0M350.2 1916.3h0M349.3 1955.0h0M306.6 1975.1h0M340.4 1963.6h0M313.5 1978.9h0M342.5 1914.1h0M327.5 1937.2h0M299.6 1981.2h0M308.0 1978.2h0M321.3 1966.2h0M298.9 1980.7h0M300.1 1979.2h0M292.3 1986.7h0M286.3 1990.2h0M317.5 1955.5h0M338.8 1927.4h0M314.6 1965.0h0M322.9 1951.0h0M298.7 1982.9h0M321.6 1963.6h0M301.9 1978.0h0M310.9 1971.2h0M304.3 1975.1h0M306.2 1975.9h0M305.4 1976.2h0M297.8 1982.6h0M321.9 1954.5h0M307.5 1973.9h0M372.9 1856.2h0M342.9 1915.3h0M315.5 1958.1h0M290.7 1987.8h0M368.7 1948.1h0M301.2 1978.0h0M327.4 1940.0h0M312.4 1966.9h0M286.8 1990.1h0M315.8 1962.5h0M335.7 1957.6h0M295.2 1986.6h0M306.1 1977.7h0M289.0 1989.1h0M311.9 1966.9h0M359.0 1925.3h0M343.0 1970.5h0M304.8 1982.6h0M308.9 1973.8h0M319.9 1961.4h0M310.1 1971.6h0M300.8 1978.2h0M331.2 1968.5h0M291.3 1987.3h0M296.3 1984.2h0M313.6 1964.1h0M332.3 1933.8h0M303.3 1981.8h0M313.5 1964.5h0M305.9 1974.7h0"/>
<path d="M294.1 1986.0h0M289.4 1990.8h0M313.0 1971.1h0M293.7 1988.6h0M302.1 1978.5h0M298.0 1984.3h0M308.0 1970.2h0M290.9 1987.8h0M331.3 1932.0h0M315.4 1959.4h0M311.4 1965.5h0M310.8 1966.3h0M314.5 1963.1h0M304.3 1974.8h0M291.8 1987.2h0M291.9 1987.3h0M324.5 1947.9h0M327.3 1937.4h0M326.5 1945.5h0M305.9 1973.0h0M374.9 1851.3h0M297.3 1986.3h0M316.4 1958.1h0M304.2 1977.6h0M318.3 1957.9h0M334.6 1958.6h0M312.8 1968.0h0M316.5 1958.5h0M334.6 1929.2h0M335.1 1929.9h0M301.9 1983.9h0M306.6 1974.5h0M297.4 1983.1h0M331.8 1930.3h0M322.5 1950.0h0M331.0 1933.8h0M346.3 1958.3h0M334.6 1936.6h0M332.3 1932.0h0M305.8 1976.5h0M292.9 1986.5h0M327.2 1945.9h0M297.4 1987.0h0M300.3 1982.6h0M298.1 1981.9h0M324.4 1959.6h0M325.0 1947.7h0M303.3 1977.3h0M298.5 1981.7h0M315.1 1963.5h0M290.3 1989.7h0M334.1 1972.5h0M322.5 1951.0h0M331.0 1948.4h0M375.5 1859.5h0M304.0 1974.3h0M318.6 1952.9h0M322.3 1947.9h0M293.5 1986.8h0M331.6 1936.3h0M327.4 1946.6h0M307.8 1974.3h0M310.5 1973.0h0M287.0 1990.0h0M331.6 1930.9h0M321.5 1950.5h0M316.7 1964.7h0M292.2 1986.5h0M355.7 1876.4h0M320.8 1951.4h0M303.4 1975.9h0M291.5 1987.0h0M405.0 1823.0h0M348.3 1901.8h0M294.9 1984.4h0M306.1 1972.6h0M328.1 1943.5h0M323.9 1949.9h0M286.0 1990.5h0M312.4 1972.3h0M326.3 1941.5h0M295.6 1984.1h0M327.9 1940.6h0M339.4 1923.1h0M320.1 1970.5h0M306.8 1973.0h0M309.1 1969.7h0M308.6 1969.5h0M336.5 1925.5h0M297.5 1983.4h0M318.4 1965.1h0M335.6 1925.5h0M284.3 1991.0h0M299.6 1980.4h0M319.5 1971.3h0M313.4 1969.2h0M334.3 1926.1h0M347.9 1898.1h0M297.3 1983.0h0M320.3 1951.4h0M295.4 1984.4h0M302.3 1979.2h0M344.7 1927.6h0M310.8 1967.0h0M308.5 1969.0h0M289.7 1988.3h0M322.7 1955.0h0M306.6 1975.1h0M293.3 1985.8h0M319.0 1952.1h0M301.3 1980.3h0M298.3 1982.1h0M332.8 1931.0h0M293.4 1985.8h0M316.3 1966.5h0M289.1 1988.7h0M329.2 1938.7h0M321.5 1957.1h0M416.0 1810.0h0M287.8 1989.8h0M295.7 1984.4h0M296.8 1982.8h0M330.2 1943.2h0M309.6 1975.5h0M317.9 1964.8h0M303.1 1975.6h0M297.0 1983.1h0M293.3 1985.6h0M366.1 1864.4h0M324.9 1942.0h0M359.1 1881.6h0M321.8 1959.4h0M303.7 1988.1h0M304.4 1975.2h0M303.1 1976.0h0M319.6 1962.0h0M323.0 1958.9h0M358.3 1890.0h0M321.8 1950.8h0M297.1 1986.1h0M308.7 1972.9h0M301.2 1981.7h0M346.4 1931.7h0M342.6 1954.6h0M334.0 1934.6h0M319.9 1958.0h0M317.3 1955.7h0M348.6 1933.6h0M298.8 1982.2h0M311.3 1968.9h0M327.1 1956.1h0M300.9 1978.6h0M315.4 1961.2h0M333.5 1933.3h0M329.7 1937.7h0M330.1 1932.8h0M293.0 1986.7h0M304.8 1977.1h0M323.9 1956.0h0M293.7 1985.5h0M336.7 1930.6h0M291.7 1988.2h0M376.3 1831.3h0M312.6 1969.1h0M328.3 1950.9h0M321.6 1949.4h0M306.0 1986.3h0M291.8 1987.7h0M362.2 1898.2h0M321.0 1959.7h0M321.2 1952.1h0M311.3 1969.2h0M313.7 1967.9h0M303.9 1978.0h0M297.4 1983.5h0M337.4 1918.8h0M338.8 1950.3h0M315.0 1969.7h0M319.5 1981.0h0M295.4 1984.1h0M299.8 1985.6h0M443.5 1897.0h0M328.8 1938.4h0M320.8 1950.3h0M358.5 1930.5h0M295.7 1984.8h0M295.7 1983.5h0M297.7 1983.9h0M305.7 1976.4h0M305.2 1974.2h0M292.9 1988.0h0"/>
<path d="M340.9 1941.9h0M302.6 1978.0h0M328.6 1969.0h0M329.9 1953.4h0M325.2 1952.2h0M297.7 1982.5h0M310.4 1965.7h0M312.3 1966.3h0M307.5 1974.2h0M310.9 1965.0h0M382.8 1847.5h0M294.8 1985.9h0M302.8 1987.0h0M289.0 1989.1h0M298.4 1982.1h0M334.2 1962.6h0M321.9 1959.0h0M305.3 1980.7h0M293.9 1985.2h0M351.5 1900.2h0M320.0 1958.1h0M296.7 1984.6h0M291.3 1987.7h0M301.3 1978.9h0M314.0 1962.0h0M288.3 1989.3h0M327.1 1940.3h0M307.4 1974.6h0M302.8 1983.5h0M290.0 1989.3h0M318.7 1968.4h0M289.4 1988.5h0M392.0 1970.0h0M348.2 1960.6h0M322.9 1985.4h0M324.1 1965.1h0M293.9 1986.7h0M297.8 1981.6h0M334.0 1925.6h0M365.5 1945.7h0M330.3 1940.1h0M297.2 1987.2h0M300.9 1981.8h0M369.4 1863.1h0M353.9 1942.8h0M288.8 1989.0h0M312.2 1966.2h0M359.4 1917.7h0M284.9 1990.7h0M402.0 1829.3h0M314.5 1964.2h0M299.7 1980.2h0M293.2 1986.4h0M298.6 1981.8h0M316.5 1968.2h0M342.4 1926.6h0M313.0 1962.5h0M296.7 1982.7h0M293.9 1985.1h0M298.8 1981.4h0M304.1 1976.7h0M318.1 1979.2h0M310.9 1968.4h0M290.5 1988.1h0M336.4 1960.4h0M316.0 1957.6h0M333.4 1935.9h0M296.9 1984.6h0M307.8 1970.1h0M323.5 1949.7h0M313.5 1962.6h0M326.3 1939.6h0M385.0 1862.4h0M305.0 1979.3h0M338.5 1927.9h0M285.7 1991.2h0M320.1 1955.5h0M290.6 1988.1h0M311.1 1967.2h0M323.4 1950.8h0M323.9 1944.3h0M308.8 1970.0h0M329.5 1941.4h0M295.6 1986.0h0M323.6 1950.7h0M300.0 1979.6h0M295.2 1984.3h0M311.1 1966.4h0M342.0 1916.3h0M316.2 1957.6h0M344.1 1907.5h0M343.8 1907.2h0M312.9 1975.8h0M302.7 1981.1h0M299.2 1981.5h0M318.9 1952.7h0M291.8 1987.3h0M303.8 1978.2h0M315.6 1962.7h0M290.1 1989.1h0M289.2 1989.4h0M308.9 1968.2h0M310.8 1969.1h0M289.5 1990.3h0M316.2 1963.9h0M327.5 1944.7h0M303.3 1978.3h0M287.5 1989.9h0M322.4 1958.2h0M313.2 1961.6h0M304.6 1982.1h0M286.2 1990.6h0M307.0 1971.0h0M305.2 1979.4h0M304.4 1976.6h0M337.5 1923.0h0M285.4 1990.7h0M429.6 1920.5h0M303.5 1978.6h0M306.7 1974.6h0M315.1 1983.0h0M332.6 1930.5h0M331.8 1929.0h0M309.0 1969.5h0M303.3 1979.6h0M297.1 1983.3h0M326.2 1952.8h0M319.7 1954.0h0M294.8 1985.9h0M309.4 1982.6h0M304.3 1986.8h0M298.4 1981.2h0M303.0 1981.8h0M326.7 1940.9h0M298.2 1981.6h0M325.9 1964.8h0M309.7 1974.7h0M417.0 1805.0h0M302.7 1979.9h0M322.2 1954.2h0M311.7 1966.8h0M311.1 1968.8h0M359.4 1965.7h0M332.5 1927.5h0M343.3 1907.1h0M316.7 1964.6h0M296.2 1985.9h0M310.0 1969.5h0M320.3 1952.4h0M302.6 1981.1h0M313.6 1978.6h0M375.6 1860.7h0M309.2 1970.9h0M318.8 1955.3h0M325.3 1943.3h0M411.0 1799.0h0M297.7 1985.5h0M317.9 1957.5h0M286.5 1990.8h0M298.5 1985.6h0M321.3 1978.1h0M291.1 1987.4h0M331.5 1971.6h0M295.7 1983.8h0M287.9 1991.1h0M307.0 1974.6h0M320.1 1957.4h0M320.2 1955.9h0M329.9 1941.5h0M314.9 1965.5h0M305.5 1975.4h0M352.4 1900.2h0M319.4 1968.0h0M330.5 1959.9h0M314.4 1961.5h0M334.4 1959.9h0M354.2 1932.8h0M323.5 1947.7h0M324.5 1975.2h0M301.7 1978.6h0M324.9 1949.9h0M305.5 1972.9h0M308.3 1975.2h0M316.7 1962.9h0M346.5 1919.9h0M309.1 1972.0h0M332.4 1948.1h0M304.6 1984.8h0M300.2 1979.7h0M358.1 1940.4h0"/>
</g>
<g fill="none" stroke="#dc281e" stroke-opacity="0.6" stroke-width="3.4" stroke-linecap="round">
<path d="M274.7 1987.7h0M242.5 1949.7h0M257.1 1973.8h0M242.3 1947.1h0M275.6 1988.7h0M270.4 1985.4h0M268.2 1982.5h0M274.0 1987.3h0M242.8 1949.2h0M231.0 1928.5h0M223.9 1914.4h0M241.9 1949.2h0M243.4 1950.0h0M250.3 1963.3h0M264.8 1979.3h0M243.9 1956.0h0M234.7 1934.0h0M244.3 1948.9h0M246.4 1955.2h0M248.5 1957.3h0M268.8 1982.6h0M274.1 1987.6h0M224.8 1916.8h0M240.4 1946.1h0M245.3 1958.2h0M231.6 1926.8h0M254.7 1968.0h0M229.0 1921.3h0M273.1 1986.5h0M247.2 1956.4h0M229.3 1919.7h0M257.6 1970.0h0M241.4 1944.3h0M245.4 1950.7h0M240.5 1942.0h0M271.4 1985.3h0M245.9 1952.2h0M222.5 1906.8h0M245.2 1954.1h0M233.1 1930.0h0M247.0 1956.4h0M224.7 1911.8h0M271.3 1985.1h0M245.0 1951.9h0M223.9 1912.1h0M254.2 1966.2h0M260.2 1973.0h0M239.9 1941.3h0M257.7 1973.2h0M257.9 1969.9h0M229.1 1922.3h0M248.2 1958.7h0M262.1 1975.9h0M222.5 1907.7h0M227.5 1922.3h0M245.5 1955.6h0M255.1 1968.0h0M261.7 1977.9h0M229.1 1921.4h0M236.1 1935.5h0M244.3 1953.0h0M239.4 1949.4h0M236.2 1935.9h0M225.7 1913.6h0M261.6 1976.2h0M241.4 1943.4h0M247.6 1955.2h0M225.4 1912.2h0M226.8 1917.7h0M226.1 1918.6h0M251.5 1961.1h0M255.4 1967.1h0M248.3 1956.5h0M271.7 1985.7h0M242.8 1948.0h0M225.8 1915.4h0M252.2 1961.5h0M267.2 1981.6h0M255.4 1968.4h0M247.5 1957.9h0M236.2 1940.2h0M230.2 1923.5h0M269.3 1983.1h0M250.1 1961.8h0M252.9 1963.1h0M260.2 1974.0h0M279.0 1990.2h0M270.8 1984.8h0M267.4 1981.3h0M245.4 1951.0h0M223.5 1913.9h0M262.1 1975.2h0M257.7 1972.0h0M224.9 1912.7h0M263.6 1978.5h0M242.1 1947.5h0M251.0 1961.9h0M246.6 1953.1h0M241.3 1943.7h0M240.9 1944.1h0M225.7 1913.0h0M250.1 1959.4h0M257.3 1970.3h0M237.0 1935.9h0M236.2 1935.5h0M267.1 1981.7h0M265.7 1980.6h0M233.0 1927.7h0M233.0 1929.5h0M230.4 1922.8h0M261.4 1978.9h0M244.9 1955.6h0M270.7 1985.3h0M261.8 1975.9h0M263.1 1977.9h0M226.9 1920.4h0M254.5 1965.5h0M268.4 1982.4h0M249.9 1958.4h0M244.0 1951.0h0M253.5 1965.1h0M265.1 1978.7h0M260.2 1973.4h0M252.4 1962.0h0M270.5 1984.3h0M260.9 1974.2h0M249.0 1958.2h0M278.8 1990.0h0M234.0 1930.6h0M270.9 1984.9h0M157.0 1947.0h0"/>
<path d="M255.5 1966.9h0M258.9 1975.3h0M225.9 1914.8h0M223.7 1911.6h0M232.1 1927.2h0M236.7 1939.2h0M241.4 1944.5h0M239.7 1944.0h0M269.3 1983.7h0M252.4 1962.4h0M271.3 1985.0h0M246.8 1955.9h0M240.5 1943.3h0M278.2 1990.1h0M264.7 1978.9h0M240.7 1948.2h0M246.1 1951.9h0M244.0 1951.4h0M232.7 1927.5h0M238.8 1939.9h0M253.9 1965.5h0M225.9 1914.9h0M237.9 1939.1h0M251.0 1959.9h0M248.6 1959.3h0M242.1 1945.2h0M280.6 1990.8h0M252.0 1961.3h0M260.1 1972.7h0M234.0 1932.6h0M236.3 1935.0h0M259.7 1973.4h0M251.2 1965.0h0M240.3 1943.1h0M239.7 1941.1h0M265.0 1979.6h0M255.6 1968.1h0M257.3 1971.8h0M222.0 1909.5h0M234.4 1937.1h0M216.2 1893.9h0M255.4 1969.1h0M241.4 1944.0h0M239.2 1940.6h0M225.3 1912.1h0M268.1 1982.1h0M239.8 1941.5h0M244.9 1952.2h0M251.2 1963.4h0M248.6 1960.7h0M264.9 1980.1h0M240.5 1943.0h0M235.9 1938.6h0M278.4 1989.9h0M260.8 1974.2h0M243.7 1949.2h0M266.2 1981.0h0M264.8 1979.8h0M246.8 1955.3h0M247.6 1960.0h0M236.2 1938.2h0M220.8 1902.7h0M248.6 1960.6h0M230.0 1922.3h0M236.3 1936.9h0M276.4 1989.1h0M239.6 1940.5h0M265.8 1979.7h0M217.2 1896.0h0M277.0 1989.1h0M242.9 1949.8h0M271.9 1986.1h0M267.9 1981.7h0M230.1 1925.0h0M267.3 1981.6h0M267.3 1981.1h0M244.4 1950.9h0M252.2 1962.9h0M231.5 1927.1h0M242.6 1949.9h0M262.3 1977.0h0M231.0 1924.5h0M243.3 1951.3h0M226.2 1917.2h0M255.4 1969.8h0M235.6 1935.0h0M250.0 1960.4h0M253.1 1963.2h0M229.5 1922.2h0M276.3 1989.0h0M260.9 1975.4h0M259.4 1972.6h0M240.7 1943.2h0M276.9 1989.3h0M249.4 1958.7h0M260.8 1975.0h0M221.3 1904.5h0M244.3 1951.1h0M250.5 1961.2h0M257.5 1970.9h0M245.1 1951.4h0M264.3 1978.5h0M251.5 1960.7h0M245.4 1951.5h0M259.6 1973.0h0M245.2 1951.8h0M236.6 1935.6h0M247.3 1954.6h0M274.9 1987.9h0M233.4 1928.6h0M229.3 1924.6h0M230.5 1924.7h0M250.1 1962.6h0M260.8 1974.8h0M240.5 1944.6h0M277.8 1989.7h0M236.2 1936.8h0M222.1 1913.4h0M221.8 1903.5h0M265.7 1980.2h0M228.7 1918.3h0M250.8 1961.2h0M250.9 1960.3h0M243.8 1949.4h0M263.1 1977.8h0M254.0 1966.3h0M232.3 1926.7h0M240.0 1941.4h0M220.5 1906.9h0M238.9 1941.6h0M236.0 1968.0h0"/>
<path d="M261.0 1976.9h0M279.6 1990.6h0M230.1 1925.5h0M248.5 1964.8h0M243.1 1951.5h0M273.0 1986.3h0M228.3 1918.9h0M233.3 1931.9h0M242.6 1952.3h0M250.7 1959.6h0M250.6 1962.9h0M257.5 1969.5h0M259.8 1973.2h0M236.9 1936.5h0M261.4 1975.3h0M230.9 1926.7h0M263.5 1977.3h0M261.0 1973.9h0M244.2 1951.4h0M224.6 1909.4h0M246.5 1954.2h0M222.9 1911.9h0M226.0 1914.1h0M260.8 1974.3h0M233.3 1930.8h0M250.9 1963.5h0M231.5 1925.6h0M256.1 1968.8h0M248.7 1957.6h0M246.5 1953.3h0M248.7 1961.1h0M249.7 1959.1h0M222.9 1906.7h0M257.1 1969.9h0M227.6 1918.3h0M243.7 1951.7h0M275.3 1988.1h0M251.5 1961.1h0M251.7 1962.9h0M249.8 1958.5h0M253.4 1964.4h0M264.2 1978.8h0M271.8 1985.4h0M229.6 1924.2h0M258.0 1972.5h0M240.2 1949.1h0M256.9 1971.4h0M235.1 1936.3h0M248.8 1956.9h0M258.6 1971.2h0M227.6 1917.2h0M255.6 1968.3h0M248.3 1958.9h0M266.5 1981.1h0M245.8 1951.6h0M257.5 1970.2h0M256.5 1969.5h0M271.2 1989.5h0M219.3 1902.6h0M231.5 1934.6h0M226.3 1913.7h0M225.2 1915.1h0M222.3 1904.3h0M268.9 1983.6h0M252.5 1965.6h0M245.4 1951.9h0M256.2 1969.1h0M226.4 1919.8h0M269.6 1983.4h0M267.2 1981.0h0M269.6 1984.6h0M268.5 1983.6h0M274.0 1987.3h0M279.2 1990.3h0M265.2 1980.8h0M272.6 1986.5h0M259.3 1973.3h0M265.1 1980.0h0M270.3 1984.0h0M237.8 1938.3h0M247.1 1956.3h0M234.8 1937.5h0M276.5 1989.3h0M260.7 1974.6h0M248.3 1957.3h0M248.4 1961.1h0M245.5 1951.4h0M243.6 1950.8h0M265.9 1979.7h0M250.3 1958.9h0M257.1 1969.8h0M270.4 1984.4h0M267.5 1981.7h0M258.4 1972.6h0M257.3 1969.3h0M259.1 1972.3h0M242.7 1947.9h0M239.9 1942.0h0M238.5 1938.4h0M240.1 1942.8h0M240.8 1948.7h0M229.9 1921.6h0M248.5 1956.0h0M256.7 1968.8h0M222.6 1907.6h0M235.1 1933.4h0M247.0 1963.0h0M254.7 1967.6h0M276.3 1988.7h0M225.4 1912.2h0M261.1 1974.4h0M232.0 1928.1h0M249.9 1959.4h0M268.5 1983.8h0M261.4 1975.4h0M240.3 1944.5h0M249.6 1962.8h0M260.7 1973.6h0M266.4 1980.6h0M235.7 1935.0h0M272.2 1985.9h0M231.3 1935.9h0M232.3 1925.8h0M229.4 1920.1h0M246.3 1952.7h0M270.8 1984.7h0M256.0 1969.0h0M271.8 1985.3h0M233.4 1932.9h0M243.1 1948.1h0M209.5 1885.0h0"/>
<path d="M247.9 1954.8h0M241.8 1945.0h0M263.6 1977.4h0M258.7 1971.9h0M262.9 1976.8h0M237.0 1938.2h0M271.8 1985.6h0M239.2 1941.8h0M222.7 1909.2h0M263.8 1977.6h0M263.6 1977.2h0M227.0 1915.1h0M248.9 1958.7h0M228.2 1917.7h0M255.1 1967.1h0M244.3 1949.4h0M237.8 1938.0h0M245.5 1953.5h0M262.6 1976.1h0M248.0 1955.1h0M236.2 1937.0h0M244.5 1949.4h0M247.3 1954.5h0M242.5 1951.6h0M217.6 1893.7h0M248.1 1955.4h0M272.7 1986.6h0M268.1 1982.0h0M256.4 1967.9h0M244.1 1951.6h0M248.1 1956.8h0M217.0 1902.2h0M241.8 1947.2h0M232.8 1928.0h0M252.0 1963.5h0M243.8 1949.4h0M244.7 1954.7h0M229.6 1924.6h0M259.4 1972.6h0M250.3 1959.0h0M229.3 1923.5h0M268.2 1982.7h0M216.7 1893.1h0M235.5 1933.2h0M271.3 1986.0h0M223.9 1909.0h0M247.6 1954.2h0M255.7 1967.8h0M224.4 1911.1h0M249.7 1958.6h0M265.4 1979.6h0M263.0 1976.5h0M245.7 1952.4h0M246.5 1952.4h0M229.3 1919.7h0M280.0 1990.7h0M253.8 1965.4h0M257.8 1977.4h0M230.6 1926.2h0M241.9 1945.4h0M239.3 1940.0h0M236.3 1935.0h0M247.1 1957.1h0M247.9 1956.3h0M273.3 1986.6h0M256.2 1967.8h0M249.4 1957.9h0M219.8 1902.8h0M225.2 1921.0h0M232.7 1929.6h0M257.3 1969.2h0M244.7 1952.2h0M261.9 1977.2h0M238.0 1938.5h0M231.9 1932.0h0M257.5 1971.9h0M258.2 1971.1h0M252.6 1962.7h0M226.0 1918.9h0M274.2 1988.0h0M233.4 1934.4h0M272.8 1986.9h0M244.9 1953.0h0M276.4 1988.9h0M244.4 1953.1h0M249.5 1960.7h0M243.8 1950.8h0M241.5 1945.6h0M266.9 1980.6h0M280.2 1990.8h0M274.1 1987.3h0M241.0 1945.9h0M231.7 1925.3h0M231.0 1928.1h0M246.6 1955.3h0M229.2 1921.3h0M248.1 1955.8h0M282.0 1991.2h0M261.2 1975.3h0M234.6 1933.8h0M269.3 1983.4h0M245.2 1950.6h0M246.9 1953.9h0M235.0 1933.8h0M272.0 1986.0h0M263.5 1978.5h0M275.9 1988.9h0M222.0 1907.2h0M267.6 1982.9h0M264.2 1978.2h0M223.9 1910.2h0M236.1 1934.9h0M270.7 1984.4h0M258.8 1971.5h0M234.9 1933.1h0M255.7 1967.4h0M270.6 1984.4h0M266.4 1980.9h0M218.9 1897.5h0M279.6 1990.6h0M265.6 1980.1h0M248.9 1957.6h0M265.6 1979.8h0M263.4 1977.9h0M234.3 1931.3h0M257.9 1974.7h0M223.2 1909.2h0M227.9 1922.3h0M251.9 1961.2h0M243.7 1947.5h0M211.0 1895.0h0"/>
</g>
<line x1="98.4" y1="1789.7" x2="98.4" y2="2002.6" stroke="#111" stroke-width="2.3"/>
<line x1="97.3" y1="2001.5" x2="484.5" y2="2001.5" stroke="#111" stroke-width="2.3"/>
<line x1="282.7" y1="1789.7" x2="282.7" y2="2015.5" stroke="#111" stroke-width="2.3"/>
<line x1="115.9" y1="2001.5" x2="115.9" y2="2015.5" stroke="#111" stroke-width="2.3"/>
<line x1="199" y1="2001.5" x2="199" y2="2015.5" stroke="#111" stroke-width="2.3"/>
<line x1="366.7" y1="2001.5" x2="366.7" y2="2015.5" stroke="#111" stroke-width="2.3"/>
<line x1="450.4" y1="2001.5" x2="450.4" y2="2015.5" stroke="#111" stroke-width="2.3"/>
<line x1="84.5" y1="1879" x2="98.4" y2="1879" stroke="#111" stroke-width="2.3"/>
<text x="31" y="1885.8" font-size="31" textLength="48.93" lengthAdjust="spacingAndGlyphs" stroke="#fff" stroke-width="0.62">100</text>
<line x1="84.5" y1="1991.2" x2="98.4" y2="1991.2" stroke="#111" stroke-width="2.3"/>
<text x="62.96" y="1998" font-size="31" stroke="#fff" stroke-width="0.62">0</text>
<line x1="98.4" y1="1990.7" x2="484.5" y2="1990.7" stroke="#111" stroke-width="2.3" stroke-dasharray="18.5 18.5" stroke-dashoffset="0"/>
<text x="148.84" y="1806.7" font-size="25.6" textLength="85.72" lengthAdjust="spacingAndGlyphs" fill="#dc281e" stroke="#fff" stroke-width="0.35">Muscle</text>
<text x="113.45" y="1837.8" font-size="25.6" textLength="156.82" lengthAdjust="spacingAndGlyphs" fill="#dc281e" stroke="#fff" stroke-width="0.35">contaminants</text>
<text x="120.39" y="1868.8" font-size="25.6" textLength="143.28" lengthAdjust="spacingAndGlyphs" fill="#dc281e" stroke="#fff" stroke-width="0.35">(520 genes)</text>
<g stroke="#fff" transform="translate(22.5 1983) rotate(-90)"><text x="-1.49" y="0" font-size="31" stroke-width="0.63" textLength="55.05" lengthAdjust="spacingAndGlyphs">-log</text><text x="52.76" y="9.5" font-size="16" stroke-width="0.22" textLength="18.35" lengthAdjust="spacingAndGlyphs">10</text><text x="70.44" y="0" font-size="31" stroke-width="0.63" textLength="104.13" lengthAdjust="spacingAndGlyphs">p-value</text></g>
<text x="83.91" y="2046" font-size="31" textLength="50.57" lengthAdjust="spacingAndGlyphs" stroke="#fff" stroke-width="0.62">−20</text>
<text x="167.01" y="2046" font-size="31" textLength="50.57" lengthAdjust="spacingAndGlyphs" stroke="#fff" stroke-width="0.62">−10</text>
<text x="274.52" y="2046" font-size="31" stroke="#fff" stroke-width="0.62">0</text>
<text x="349.38" y="2046" font-size="31" stroke="#fff" stroke-width="0.62">10</text>
<text x="433.46" y="2046" font-size="31" stroke="#fff" stroke-width="0.62">20</text>
<g stroke="#fff"><text x="176.04" y="2076.8" font-size="31" stroke-width="0.63" textLength="44.45" lengthAdjust="spacingAndGlyphs">log</text><text x="218.96" y="2085.8" font-size="17" stroke-width="0.24" textLength="11.61" lengthAdjust="spacingAndGlyphs">2</text><text x="230.54" y="2076.8" font-size="31" stroke-width="0.63" textLength="161.54" lengthAdjust="spacingAndGlyphs">fold-change</text></g>
<text x="578.6" y="1285.4" font-size="35" font-weight="bold">d</text>
<rect x="624.9" y="1296.9" width="154" height="42" fill="#fff" stroke="#111" stroke-width="2.4"/>
<text x="639.8" y="1328.4" font-size="31.3" textLength="125.94" lengthAdjust="spacingAndGlyphs" stroke="#fff" stroke-width="0.63">All genes</text>
<line x1="670.7" y1="1354.4" x2="670.7" y2="1435.8" stroke="#111" stroke-width="2.4"/>
<polygon points="659.9,1433.8 681.5,1433.8 670.7,1451.8" fill="#111"/>
<line x1="672.5" y1="1355.5" x2="700" y2="1381.5" stroke="#111" stroke-width="2.8" stroke-dasharray="7.5 5"/>
<polygon points="697.6,1391.5 713,1376 719.2,1396.1" fill="#111"/>
<text x="706.53" y="1423.6" font-size="31.3" textLength="387.92" lengthAdjust="spacingAndGlyphs" stroke="#fff" stroke-width="0.63">Not expressed in osteocytes</text>
<rect x="624.9" y="1467.9" width="436" height="80.6" fill="#fff" stroke="#111" stroke-width="2.4"/>
<text x="628.06" y="1497.8" font-size="31.3" textLength="429.29" lengthAdjust="spacingAndGlyphs" stroke="#fff" stroke-width="0.63">Genes expressed in osteocytes</text>
<text x="754.71" y="1534" font-size="31.3" textLength="176.71" lengthAdjust="spacingAndGlyphs" stroke="#fff" stroke-width="0.63">16132 genes</text>
<line x1="670.7" y1="1564.6" x2="670.7" y2="1646" stroke="#111" stroke-width="2.4"/>
<polygon points="659.9,1644 681.5,1644 670.7,1662" fill="#111"/>
<line x1="672.5" y1="1566" x2="700" y2="1592" stroke="#111" stroke-width="2.8" stroke-dasharray="7.5 5"/>
<polygon points="697.6,1601.7 713,1586.9 719.2,1607" fill="#111"/>
<text x="715.23" y="1633.8" font-size="31.3" textLength="364.34" lengthAdjust="spacingAndGlyphs" stroke="#fff" stroke-width="0.63">Not enriched in osteocytes</text>
<rect x="624.9" y="1677.9" width="411.2" height="81.7" fill="#fff" stroke="#111" stroke-width="2.4"/>
<text x="627.06" y="1708.2" font-size="31.3" textLength="406.01" lengthAdjust="spacingAndGlyphs" stroke="#fff" stroke-width="0.63">Genes enriched in osteocytes</text>
<text x="749.99" y="1744.7" font-size="31.3" textLength="161.16" lengthAdjust="spacingAndGlyphs" stroke="#fff" stroke-width="0.63">1777 genes</text>
<line x1="670.7" y1="1775" x2="670.7" y2="1856.7" stroke="#111" stroke-width="2.4"/>
<polygon points="659.9,1854.7 681.5,1854.7 670.7,1872.7" fill="#111"/>
<line x1="672.5" y1="1776.5" x2="724" y2="1804" stroke="#111" stroke-width="2.8" stroke-dasharray="7.5 5"/>
<polygon points="722.3,1817 743.3,1817 732.5,1798.5" fill="#111"/>
<text x="755.42" y="1826.6" font-size="31.3" textLength="282.73" lengthAdjust="spacingAndGlyphs" stroke="#fff" stroke-width="0.63">Higher expression in</text>
<text x="752.97" y="1862.2" font-size="31.3" textLength="296.05" lengthAdjust="spacingAndGlyphs" stroke="#fff" stroke-width="0.63">contaminating tissues</text>
<rect x="624.9" y="1888.2" width="362.4" height="118.7" fill="#fff" stroke="#111" stroke-width="2.4"/>
<text x="638.41" y="1919.4" font-size="31.3" textLength="335.01" lengthAdjust="spacingAndGlyphs" stroke="#fff" stroke-width="0.63">Osteocyte transcriptome</text>
<text x="698.34" y="1954.9" font-size="31.3" textLength="215.99" lengthAdjust="spacingAndGlyphs" stroke="#fff" stroke-width="0.63">signature (OTS)</text>
<text x="725.59" y="1992" font-size="31.3" textLength="160.75" lengthAdjust="spacingAndGlyphs" stroke="#fff" stroke-width="0.63">1239 genes</text>
<text x="1175.22" y="1284.7" font-size="34.5" font-weight="bold">e</text>
<text x="1288.25" y="1297.4" font-size="30" textLength="56.13" lengthAdjust="spacingAndGlyphs" stroke="#fff" stroke-width="0.6">Low</text>
<text x="1436.01" y="1297.4" font-size="30" textLength="131.63" lengthAdjust="spacingAndGlyphs" stroke="#fff" stroke-width="0.6">Moderate</text>
<text x="1650.11" y="1297.4" font-size="30" textLength="66.55" lengthAdjust="spacingAndGlyphs" stroke="#fff" stroke-width="0.6">High</text>
<rect x="1281.1" y="1311" width="72.6" height="195.1" fill="#f5f5b4"/>
<rect x="1353.7" y="1311" width="297.1" height="195.1" fill="#ffd9a8"/>
<rect x="1650.8" y="1311" width="66.2" height="195.1" fill="#ff8a7c"/>
<g fill="#fff" stroke="#111" stroke-width="2.5">
<rect x="1282.1" y="1432.54" width="16.09" height="73.56"/>
<rect x="1298.19" y="1476.03" width="16.09" height="30.07"/>
<rect x="1314.28" y="1482.43" width="16.09" height="23.67"/>
<rect x="1330.37" y="1445.33" width="16.09" height="60.77"/>
<rect x="1346.46" y="1455.88" width="16.09" height="50.22"/>
<rect x="1362.54" y="1423.9" width="16.09" height="82.2"/>
<rect x="1378.63" y="1422.3" width="16.09" height="83.8"/>
<rect x="1394.72" y="1426.14" width="16.09" height="79.96"/>
<rect x="1410.81" y="1433.49" width="16.09" height="72.61"/>
<rect x="1426.9" y="1422.3" width="16.09" height="83.8"/>
<rect x="1442.99" y="1442.45" width="16.09" height="63.65"/>
<rect x="1459.08" y="1438.93" width="16.09" height="67.17"/>
<rect x="1475.17" y="1446.93" width="16.09" height="59.17"/>
<rect x="1491.26" y="1438.93" width="16.09" height="67.17"/>
<rect x="1507.34" y="1455.88" width="16.09" height="50.22"/>
<rect x="1523.43" y="1458.12" width="16.09" height="47.98"/>
<rect x="1539.52" y="1470.91" width="16.09" height="35.19"/>
<rect x="1555.61" y="1470.91" width="16.09" height="35.19"/>
<rect x="1571.7" y="1459.4" width="16.09" height="46.7"/>
<rect x="1587.79" y="1477.31" width="16.09" height="28.79"/>
<rect x="1603.88" y="1480.83" width="16.09" height="25.27"/>
<rect x="1619.97" y="1458.12" width="16.09" height="47.98"/>
<rect x="1636.06" y="1472.19" width="16.09" height="33.91"/>
<rect x="1652.14" y="1469.64" width="16.09" height="36.46"/>
<rect x="1668.23" y="1460.68" width="16.09" height="45.42"/>
<rect x="1684.32" y="1479.87" width="16.09" height="26.23"/>
<rect x="1700.41" y="1319.96" width="16.09" height="186.14"/>
</g>
<line x1="1353.7" y1="1311" x2="1353.7" y2="1470.5" stroke="#111" stroke-width="2.4" stroke-dasharray="21.6 9.3" stroke-dashoffset="9.2"/>
<line x1="1650.8" y1="1311" x2="1650.8" y2="1471.5" stroke="#111" stroke-width="2.4" stroke-dasharray="21.6 9.3" stroke-dashoffset="9.2"/>
<line x1="1281.1" y1="1506.1" x2="1718" y2="1506.1" stroke="#111" stroke-width="2.6"/>
<line x1="1268.3" y1="1315.2" x2="1273.5" y2="1315.2" stroke="#111" stroke-width="2.2"/>
<text x="1214.79" y="1317.8" font-size="30.5" stroke="#fff" stroke-width="0.61">150</text>
<line x1="1268.3" y1="1379.1" x2="1273.5" y2="1379.1" stroke="#111" stroke-width="2.2"/>
<text x="1214.79" y="1381.7" font-size="30.5" stroke="#fff" stroke-width="0.61">100</text>
<line x1="1268.3" y1="1443.1" x2="1273.5" y2="1443.1" stroke="#111" stroke-width="2.2"/>
<text x="1231.71" y="1445.7" font-size="30.5" stroke="#fff" stroke-width="0.61">50</text>
<line x1="1268.3" y1="1506.1" x2="1273.5" y2="1506.1" stroke="#111" stroke-width="2.2"/>
<text x="1248.64" y="1508.7" font-size="30.5" stroke="#fff" stroke-width="0.61">0</text>
<line x1="1289.8" y1="1506.1" x2="1289.8" y2="1514.1" stroke="#111" stroke-width="2.2"/>
<line x1="1395.6" y1="1506.1" x2="1395.6" y2="1514.1" stroke="#111" stroke-width="2.2"/>
<line x1="1501.8" y1="1506.1" x2="1501.8" y2="1514.1" stroke="#111" stroke-width="2.2"/>
<line x1="1608" y1="1506.1" x2="1608" y2="1514.1" stroke="#111" stroke-width="2.2"/>
<line x1="1714.5" y1="1506.1" x2="1714.5" y2="1514.1" stroke="#111" stroke-width="2.2"/>
<text x="1268.88" y="1550.6" font-size="30" stroke="#fff" stroke-width="0.6">0.0</text>
<text x="1480.95" y="1550.6" font-size="30" stroke="#fff" stroke-width="0.6">0.5</text>
<text x="1706.72" y="1550.6" font-size="30" stroke="#fff" stroke-width="0.6">1</text>
<text x="1393.31" y="1585.8" font-size="30" textLength="217.62" lengthAdjust="spacingAndGlyphs" stroke="#fff" stroke-width="0.6">Specificity (Tau)</text>
<text x="-1.35" y="0" font-size="30" stroke="#fff" stroke-width="0.6" transform="translate(1200 1505.4) rotate(-90)">OTS genes (#)</text>
<text x="1180.48" y="1641.4" font-size="34.5" font-weight="bold">f</text>
<g stroke="#fff"><text x="1440.33" y="1649.6" font-size="30" stroke-width="0.6" textLength="90.8" lengthAdjust="spacingAndGlyphs">1.1x10</text><text x="1531.72" y="1638.6" font-size="18" stroke-width="0.26" textLength="25.19" lengthAdjust="spacingAndGlyphs">-38</text></g>
<line x1="1355.6" y1="1663" x2="1640.3" y2="1663" stroke="#111" stroke-width="2.2"/>
<g stroke="#fff"><text x="1511.73" y="1696.6" font-size="30" stroke-width="0.6" textLength="90.91" lengthAdjust="spacingAndGlyphs">1.1x10</text><text x="1603.23" y="1685.6" font-size="18" stroke-width="0.26" textLength="24.66" lengthAdjust="spacingAndGlyphs">-43</text></g>
<line x1="1498" y1="1708.7" x2="1640.3" y2="1708.7" stroke="#111" stroke-width="2.2"/>
<line x1="1270.3" y1="1715.1" x2="1270.3" y2="1957" stroke="#111" stroke-width="2"/>
<line x1="1269.3" y1="1956" x2="1725.7" y2="1956" stroke="#111" stroke-width="2.4"/>
<line x1="1257.1" y1="1740.7" x2="1270.3" y2="1740.7" stroke="#111" stroke-width="2"/>
<text x="1209.69" y="1747.4" font-size="31" stroke="#fff" stroke-width="0.62">1.0</text>
<line x1="1257.1" y1="1788.7" x2="1270.3" y2="1788.7" stroke="#111" stroke-width="2"/>
<line x1="1257.1" y1="1836" x2="1270.3" y2="1836" stroke="#111" stroke-width="2"/>
<text x="1209.69" y="1842.7" font-size="31" stroke="#fff" stroke-width="0.62">0.0</text>
<line x1="1257.1" y1="1883.4" x2="1270.3" y2="1883.4" stroke="#111" stroke-width="2"/>
<line x1="1257.1" y1="1930.4" x2="1270.3" y2="1930.4" stroke="#111" stroke-width="2"/>
<text x="1187.78" y="1937.1" font-size="31" textLength="63.82" lengthAdjust="spacingAndGlyphs" stroke="#fff" stroke-width="0.62">−1.0</text>
<text x="-1.24" y="0" font-size="30" textLength="91.39" lengthAdjust="spacingAndGlyphs" stroke="#fff" stroke-width="0.6" transform="translate(1199.5 1880.8) rotate(-90)">zscore</text>
<line x1="1355.6" y1="1727.2" x2="1355.6" y2="1787.8" stroke="#111" stroke-width="5.6" stroke-linecap="round"/>
<line x1="1355.6" y1="1726" x2="1355.6" y2="1856.5" stroke="#111" stroke-width="2"/>
<line x1="1355.6" y1="1901.6" x2="1355.6" y2="1945.4" stroke="#111" stroke-width="2"/>
<rect x="1302.2" y="1856.5" width="106.8" height="45.1" fill="#f9f9fb" stroke="#111" stroke-width="2.2"/>
<line x1="1302.2" y1="1881.4" x2="1409" y2="1881.4" stroke="#111" stroke-width="2.4"/>
<line x1="1498" y1="1727.2" x2="1498" y2="1758.5" stroke="#111" stroke-width="5.6" stroke-linecap="round"/>
<line x1="1498.1" y1="1726" x2="1498.1" y2="1848.5" stroke="#111" stroke-width="2"/>
<line x1="1498.1" y1="1908" x2="1498.1" y2="1945.4" stroke="#111" stroke-width="2"/>
<rect x="1444.5" y="1848.5" width="107.2" height="59.5" fill="#d5d6db" stroke="#111" stroke-width="2.2"/>
<line x1="1444.5" y1="1891.7" x2="1551.7" y2="1891.7" stroke="#111" stroke-width="2.4"/>
<line x1="1640.3" y1="1804.5" x2="1640.3" y2="1873.2" stroke="#111" stroke-width="5.6" stroke-linecap="round"/>
<line x1="1640.3" y1="1884.5" x2="1640.3" y2="1943.9" stroke="#111" stroke-width="5.6" stroke-linecap="round"/>
<line x1="1640.3" y1="1756.4" x2="1640.3" y2="1802" stroke="#111" stroke-width="2"/>
<rect x="1587.2" y="1726.6" width="107.1" height="29.8" fill="#a6aab4" stroke="#111" stroke-width="2.2"/>
<line x1="1587.2" y1="1730.2" x2="1694.3" y2="1730.2" stroke="#111" stroke-width="2.2"/>
<text x="1274.32" y="1993.4" font-size="30" textLength="162.37" lengthAdjust="spacingAndGlyphs" stroke="#fff" stroke-width="0.6">Osteoblasts</text>
<text x="1455.16" y="1993.4" font-size="30" textLength="84.71" lengthAdjust="spacingAndGlyphs" stroke="#fff" stroke-width="0.6">Lining</text>
<text x="1466.34" y="2029.2" font-size="30" textLength="63.08" lengthAdjust="spacingAndGlyphs" stroke="#fff" stroke-width="0.6">cells</text>
<text x="1563.42" y="1993.4" font-size="30" textLength="153.72" lengthAdjust="spacingAndGlyphs" stroke="#fff" stroke-width="0.6">Osteocytes</text>
</g>
</svg>
</body></html>
